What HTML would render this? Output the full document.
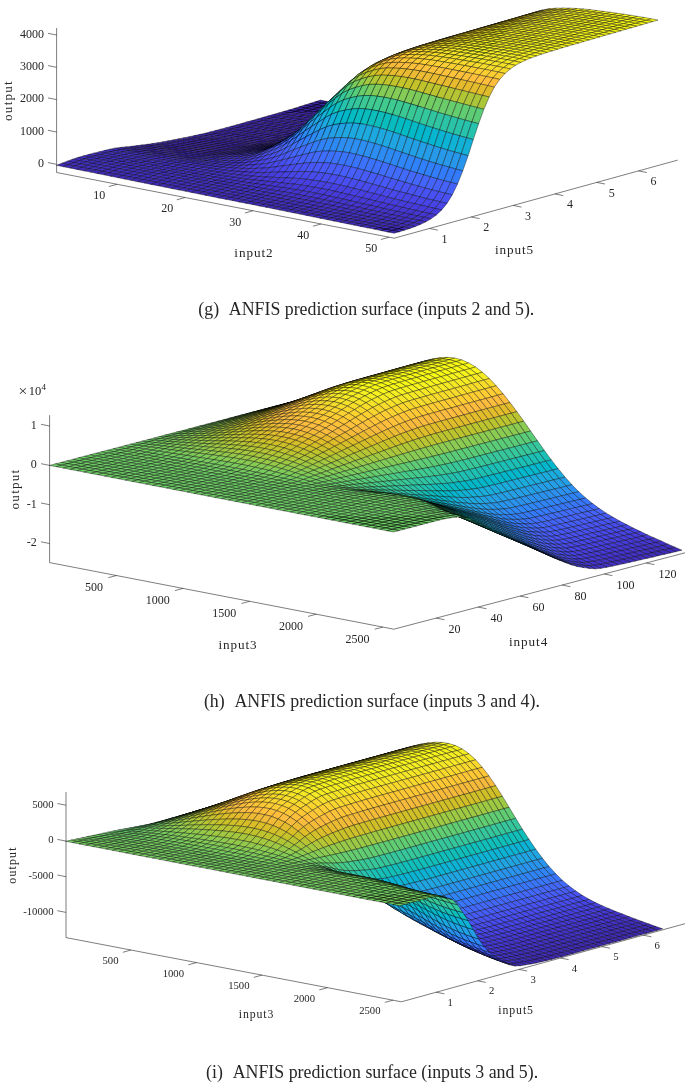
<!DOCTYPE html><html><head><meta charset="utf-8"><title>ANFIS prediction surfaces</title>
<style>html,body{margin:0;padding:0;background:#fff}svg{display:block}text{font-family:"Liberation Serif",serif;fill:#262626}</style></head><body>
<svg width="685" height="1083" viewBox="0 0 685 1083">
<rect width="685" height="1083" fill="#fff"/>
<g stroke="#262626" stroke-width="0.6" fill="none">
<path d="M56.6 28.0L56.6 172.5L394.2 238.2L677.7 160.1"/>
<path d="M117.1 184.3L108.9 186.5M185.1 197.5L176.9 199.8M253.1 210.7L244.9 213.0M321.1 224.0L312.9 226.2M389.1 237.2L380.9 239.5M429.5 228.5L437.8 230.1M471.3 217.0L479.6 218.6M513.1 205.4L521.4 207.1M554.9 193.9L563.2 195.6M596.7 182.4L605.0 184.0M638.5 170.9L646.8 172.5M56.6 35.0L48.0 33.3M56.6 67.3L48.0 65.6M56.6 99.6L48.0 97.9M56.6 132.0L48.0 130.3M56.6 164.3L48.0 162.6"/>
</g>
<text x="105.3" y="199.1" font-size="12" text-anchor="end">10</text>
<text x="173.3" y="212.4" font-size="12" text-anchor="end">20</text>
<text x="241.3" y="225.6" font-size="12" text-anchor="end">30</text>
<text x="309.3" y="238.8" font-size="12" text-anchor="end">40</text>
<text x="377.3" y="252.1" font-size="12" text-anchor="end">50</text>
<text x="441.5" y="242.6" font-size="12" text-anchor="start">1</text>
<text x="483.3" y="231.1" font-size="12" text-anchor="start">2</text>
<text x="525.1" y="219.6" font-size="12" text-anchor="start">3</text>
<text x="566.9" y="208.1" font-size="12" text-anchor="start">4</text>
<text x="608.7" y="196.6" font-size="12" text-anchor="start">5</text>
<text x="650.5" y="185.1" font-size="12" text-anchor="start">6</text>
<text x="44.0" y="37.8" font-size="12" text-anchor="end">4000</text>
<text x="44.0" y="70.1" font-size="12" text-anchor="end">3000</text>
<text x="44.0" y="102.4" font-size="12" text-anchor="end">2000</text>
<text x="44.0" y="134.8" font-size="12" text-anchor="end">1000</text>
<text x="44.0" y="167.1" font-size="12" text-anchor="end">0</text>
<text x="253.9" y="257.0" font-size="13.2" text-anchor="middle" letter-spacing="0.9">input2</text>
<text x="514.5" y="254.0" font-size="13.2" text-anchor="middle" letter-spacing="0.9">input5</text>
<text font-size="13.2" text-anchor="middle" letter-spacing="1.2" transform="translate(12.3 100.5) rotate(-90)">output</text>
<g stroke="#262626" stroke-width="0.6" fill="none">
<path d="M49.6 415.2L49.6 562.6L393.8 629.2L685.0 552.8"/>
<path d="M116.5 575.5L108.3 577.7M183.1 588.4L174.9 590.6M249.7 601.3L241.5 603.5M316.3 614.2L308.1 616.4M382.9 627.1L374.7 629.2M436.1 618.1L444.4 619.7M478.1 607.1L486.4 608.7M520.1 596.1L528.4 597.7M562.1 585.0L570.4 586.7M604.1 574.0L612.4 575.6M646.1 563.0L654.4 564.6M49.6 426.0L41.0 424.3M49.6 465.4L41.0 463.7M49.6 504.7L41.0 503.0M49.6 543.5L41.0 541.8"/>
</g>
<text x="103.1" y="591.2" font-size="12" text-anchor="end">500</text>
<text x="169.7" y="604.1" font-size="12" text-anchor="end">1000</text>
<text x="236.3" y="617.0" font-size="12" text-anchor="end">1500</text>
<text x="302.9" y="629.9" font-size="12" text-anchor="end">2000</text>
<text x="369.5" y="642.8" font-size="12" text-anchor="end">2500</text>
<text x="448.5" y="633.2" font-size="12" text-anchor="start">20</text>
<text x="490.5" y="622.1" font-size="12" text-anchor="start">40</text>
<text x="532.5" y="611.1" font-size="12" text-anchor="start">60</text>
<text x="574.5" y="600.1" font-size="12" text-anchor="start">80</text>
<text x="616.5" y="589.1" font-size="12" text-anchor="start">100</text>
<text x="658.5" y="578.1" font-size="12" text-anchor="start">120</text>
<text x="36.8" y="428.8" font-size="12" text-anchor="end">1</text>
<text x="36.8" y="468.2" font-size="12" text-anchor="end">0</text>
<text x="36.8" y="507.5" font-size="12" text-anchor="end">-1</text>
<text x="36.8" y="546.3" font-size="12" text-anchor="end">-2</text>
<text x="238.0" y="649.0" font-size="13.2" text-anchor="middle" letter-spacing="0.9">input3</text>
<text x="528.6" y="645.8" font-size="13.2" text-anchor="middle" letter-spacing="0.9">input4</text>
<text font-size="13.2" text-anchor="middle" letter-spacing="1.2" transform="translate(19.0 489.0) rotate(-90)">output</text>
<g stroke="#262626" stroke-width="0.6" fill="none">
<path d="M66.0 792.0L66.0 937.6L401.4 1001.8L685.0 923.7"/>
<path d="M131.0 950.0L122.8 952.3M196.5 962.6L188.3 964.8M262.0 975.1L253.8 977.4M327.5 987.7L319.3 989.9M393.0 1000.2L384.8 1002.4M436.1 992.2L444.4 993.8M477.5 980.8L485.8 982.4M518.9 969.4L527.2 971.0M560.3 958.0L568.6 959.6M601.7 946.6L610.0 948.2M643.1 935.2L651.4 936.8M66.0 805.2L57.4 803.5M66.0 841.1L57.4 839.4M66.0 876.7L57.4 875.0M66.0 912.4L57.4 910.7"/>
</g>
<text x="118.5" y="964.1" font-size="10.7" text-anchor="end">500</text>
<text x="184.0" y="976.6" font-size="10.7" text-anchor="end">1000</text>
<text x="249.5" y="989.1" font-size="10.7" text-anchor="end">1500</text>
<text x="315.0" y="1001.7" font-size="10.7" text-anchor="end">2000</text>
<text x="380.5" y="1014.2" font-size="10.7" text-anchor="end">2500</text>
<text x="447.6" y="1005.7" font-size="10.7" text-anchor="start">1</text>
<text x="489.0" y="994.3" font-size="10.7" text-anchor="start">2</text>
<text x="530.4" y="982.9" font-size="10.7" text-anchor="start">3</text>
<text x="571.8" y="971.5" font-size="10.7" text-anchor="start">4</text>
<text x="613.2" y="960.1" font-size="10.7" text-anchor="start">5</text>
<text x="654.6" y="948.7" font-size="10.7" text-anchor="start">6</text>
<text x="53.5" y="807.5" font-size="10.7" text-anchor="end">5000</text>
<text x="53.5" y="843.4" font-size="10.7" text-anchor="end">0</text>
<text x="53.5" y="879.0" font-size="10.7" text-anchor="end">-5000</text>
<text x="53.5" y="914.7" font-size="10.7" text-anchor="end">-10000</text>
<text x="256.5" y="1017.5" font-size="11.8" text-anchor="middle" letter-spacing="0.9">input3</text>
<text x="516.1" y="1014.4" font-size="11.8" text-anchor="middle" letter-spacing="0.9">input5</text>
<text font-size="11.8" text-anchor="middle" letter-spacing="1.2" transform="translate(16.0 865.0) rotate(-90)">output</text>
<text y="395.3" font-size="12.5" text-anchor="start"><tspan x="18.6" font-size="15.5" dy="0.6">×</tspan><tspan x="28.8" dy="-0.6">10</tspan><tspan x="41.6" dy="-5.2" font-size="9">4</tspan></text>
<g stroke="#000" stroke-width="4.2" stroke-opacity="0.9" stroke-linejoin="round" transform="scale(0.1)">
<path fill="#3e26a8" d="M3151 1018l53-17 68 13-53 17zm68 13l53-17 67 12-53 17zm-121 3l53-16 68 13-53 17zm188 9l53-17 68 12-53 16zm-120 5l53-17 67 12-52 17zm-120 3l52-17 68 14-53 16zm308 3l53-16 67 10-53 17zm-120 6l52-17 68 11-53 17zm-121 4l53-16 68 12-53 16zm-120 3l53-16 67 13-53 16zm428-2l53-17 68 10-53 17zm-120 6l53-17 67 11-52 17zm-120 5l53-16 67 11-53 17zm-121 4l53-16 68 12-53 17zm-120 4l53-17 67 13-52 17zm549-9l53-17 67 10-53 16zm-120 7l52-17 68 10-53 17zm-121 6l53-17 68 11-53 16zm-120 5l53-17 67 12-52 16zm-120 4l52-17 68 13-53 16zm-121 3l53-16 68 13-53 16zm669-16l53-16 68 9-53 16zm-120 8l53-17 67 9-52 17zm-120 6l53-16 67 10-53 16zm-120 6l52-16 68 10-53 17zm-121 5l53-16 68 11-53 16zm-120 4l53-16 67 12-53 16zm-120 2l52-15 68 13-53 16zm789-22l53-16 67 8-53 17zm-120 8l52-17 68 9-53 17zm-121 7l53-16 68 9-53 17zm-120 7l53-17 67 10-52 17zm-120 5l53-16 67 11-53 16zm-121 5l53-16 68 11-53 16zm-120 4l53-16 67 12-52 16zm-120 2l53-16 67 14-53 15zm789-21l53-17 67 9-52 16zm-120 8l53-17 67 9-53 17zm-120 7l52-17 68 10-53 16z"/>
<path fill="#3e27ab" d="M3691 1102l53-17 68 5-53 17z"/>
<path fill="#3e26a8" d="M3210 1131l53-16 68 10-53 16zm-120 5l53-16 67 11-52 16zm-120 5l52-16 68 11-53 16zm-121 3l53-15 68 12-53 15zm-120 2l53-15 67 13-52 15zm789-19l53-17 68 8-53 17zm-120 7l53-16 67 9-52 16zm-120 7l53-16 67 9-53 16z"/>
<path fill="#3e27ab" d="M3639 1118l52-16 68 5-53 16z"/>
<path fill="#3e26a8" d="M3158 1147l52-16 68 10-53 16zm-121 5l53-16 68 11-53 16z"/>
<path fill="#3f29b1" d="M3759 1107l53-17 67 1-53 17z"/>
<path fill="#3e26a8" d="M2917 1156l53-15 67 11-53 16zm-120 3l52-15 68 12-53 16zm-121 2l53-15 68 13-53 15zm790-18l52-16 68 8-53 16zm-121 7l53-16 68 9-53 16zm-120 7l53-16 67 9-52 16zm361-22l53-17 67 5-53 17zm-481 28l53-16 67 10-53 16zm-121 5l53-16 68 11-53 15z"/>
<path fill="#3f28ae" d="M3706 1123l53-16 67 1-52 17z"/>
<path fill="#3e26a8" d="M2864 1172l53-16 67 12-52 15zm-120 2l53-15 67 13-53 15z"/>
<path fill="#402bb7" d="M3826 1108l53-17 68-1-53 17z"/>
<path fill="#3e26a8" d="M2624 1176l52-15 68 13-53 15zm789-17l53-16 67 8-53 16zm-120 7l52-16 68 9-53 16zm240-15l53-16 67 5-52 16zm-361 22l53-16 68 9-53 16zm-120 5l53-15 67 10-52 15z"/>
<path fill="#3f28ae" d="M3653 1140l53-17 68 2-53 16z"/>
<path fill="#3e26a8" d="M2932 1183l52-15 68 10-53 16zm-121 4l53-15 68 11-53 15z"/>
<path fill="#402ab4" d="M3774 1125l52-17 68-1-53 16z"/>
<path fill="#3e26a8" d="M2691 1189l53-15 67 13-52 14zm-120 2l53-15 67 13-53 15z"/>
<path fill="#412dbd" d="M3894 1107l53-17 67-5-53 17z"/>
<path fill="#3e26a8" d="M3360 1175l53-16 67 8-52 16zm-120 7l53-16 67 9-53 16zm240-15l53-16 68 5-53 16zm-360 21l52-15 68 9-53 16zm-121 6l53-16 68 10-53 16z"/>
<path fill="#3e27ab" d="M3601 1156l52-16 68 1-53 17z"/>
<path fill="#3e26a8" d="M2879 1198l53-15 67 11-53 15zm-120 3l52-14 68 11-53 15z"/>
<path fill="#402ab4" d="M3721 1141l53-16 67-2-53 17z"/>
<path fill="#3e26a8" d="M2638 1204l53-15 68 12-53 15zm-120 2l53-15 67 13-52 15z"/>
<path fill="#412dbd" d="M3841 1123l53-16 67-5-52 17z"/>
<path fill="#4331c8" d="M3961 1102l53-17 68-7-53 17z"/>
<path fill="#3e26a8" d="M3307 1191l53-16 68 8-53 16zm-120 7l53-16 67 9-52 16zm241-15l52-16 68 5-53 16zm-361 21l53-16 67 10-53 15zm-121 5l53-15 68 10-53 15z"/>
<path fill="#3e27ab" d="M3548 1172l53-16 67 2-53 16z"/>
<path fill="#3e26a8" d="M2826 1213l53-15 67 11-52 14zm-120 3l53-15 67 12-53 15z"/>
<path fill="#402ab4" d="M3668 1158l53-17 67-1-52 16z"/>
<path fill="#3e26a8" d="M2586 1219l52-15 68 12-53 15zm-121 1l53-14 68 13-53 15z"/>
<path fill="#412dbd" d="M3788 1140l53-17 68-4-53 16z"/>
<path fill="#4330c5" d="M3909 1119l52-17 68-7-53 17z"/>
<path fill="#4434d0" d="M4029 1095l53-17 67-9-52 17z"/>
<path fill="#3e26a8" d="M3255 1207l52-16 68 8-53 16zm120-8l53-16 67 5-53 16zm-241 14l53-15 68 9-53 15zm-120 6l53-15 67 9-52 15z"/>
<path fill="#3e27ab" d="M3495 1188l53-16 67 2-52 16z"/>
<path fill="#3e26a8" d="M2894 1223l52-14 68 10-53 14zm-121 5l53-15 68 10-53 15z"/>
<path fill="#3f29b1" d="M3615 1174l53-16 68-2-53 16z"/>
<path fill="#3e26a8" d="M2653 1231l53-15 67 12-52 14zm-120 3l53-15 67 12-53 15z"/>
<path fill="#412cba" d="M3736 1156l52-16 68-5-53 16z"/>
<path fill="#3e26a8" d="M2413 1235l52-15 68 14-53 14z"/>
<path fill="#4330c5" d="M3856 1135l53-16 67-7-53 16z"/>
<path fill="#4434d0" d="M3976 1112l53-17 68-9-53 16z"/>
<path fill="#4639d9" d="M4097 1086l52-17 68-12-53 17z"/>
<path fill="#3e26a8" d="M3202 1222l53-15 67 8-53 15zm120-7l53-16 67 5-52 16zm-240 13l52-15 68 9-53 15zm-121 5l53-14 68 9-53 15zm481-29l53-16 68 2-53 16zm-601 34l53-15 67 10-53 15zm-120 4l52-14 68 10-53 15z"/>
<path fill="#3f29b1" d="M3563 1190l52-16 68-2-53 16z"/>
<path fill="#3e26a8" d="M2600 1246l53-15 68 11-53 15zm-120 2l53-14 67 12-52 14z"/>
<path fill="#412cba" d="M3683 1172l53-16 67-5-53 17z"/>
<path fill="#3e26a8" d="M2360 1250l53-15 67 13-53 15z"/>
<path fill="#422fc2" d="M3803 1151l53-16 67-7-52 16z"/>
<path fill="#4433cd" d="M3923 1128l53-16 68-10-53 17z"/>
<path fill="#4639d9" d="M4044 1102l53-16 67-12-53 16z"/>
<path fill="#473fe3" d="M4164 1074l53-17 67-19-52 17z"/>
<path fill="#3e26a8" d="M3149 1237l53-15 67 8-52 15zm120-7l53-15 68 5-53 15zm-240 13l53-15 67 9-53 15zm-121 5l53-15 68 10-53 15zm482-28l52-16 68 2-53 15zm-602 33l53-15 67 10-52 15zm-120 4l53-15 67 11-53 15z"/>
<path fill="#3f29b1" d="M3510 1206l53-16 67-2-53 16z"/>
<path fill="#3e26a8" d="M2548 1260l52-14 68 11-53 15zm-121 3l53-15 68 12-53 15z"/>
<path fill="#402bb7" d="M3630 1188l53-16 67-4-52 16z"/>
<path fill="#3e26a8" d="M2307 1264l53-14 67 13-52 14z"/>
<path fill="#422fc2" d="M3750 1168l53-17 68-7-53 16z"/>
<path fill="#4433cd" d="M3871 1144l52-16 68-9-53 16z"/>
<path fill="#4538d7" d="M3991 1119l53-17 67-12-52 17z"/>
<path fill="#473ee1" d="M4111 1090l53-16 68-19-53 16z"/>
<path fill="#4746eb" d="M4232 1055l67-31 53-17-68 31z"/>
<path fill="#3e26a8" d="M3096 1252l53-15 68 8-53 15zm121-7l52-15 68 5-53 15zm-241 13l53-15 67 9-52 15zm361-23l53-15 67 1-53 15zm-481 28l52-15 68 10-53 14zm-121 5l53-15 68 10-53 15zm-120 4l53-15 67 11-52 14z"/>
<path fill="#3f28ae" d="M3457 1221l53-15 67-2-52 16z"/>
<path fill="#3e26a8" d="M2495 1275l53-15 67 12-53 14zm-120 2l52-14 68 12-53 15z"/>
<path fill="#402bb7" d="M3577 1204l53-16 68-4-53 15z"/>
<path fill="#3e26a8" d="M2254 1279l53-15 68 13-53 15z"/>
<path fill="#422fc2" d="M3698 1184l52-16 68-8-53 16z"/>
<path fill="#4433cd" d="M3818 1160l53-16 67-9-53 16z"/>
<path fill="#4538d7" d="M3938 1135l53-16 68-12-53 16z"/>
<path fill="#473ee1" d="M4059 1107l52-17 68-19-53 17z"/>
<path fill="#4746eb" d="M4179 1071l67-31 53-16-67 31z"/>
<path fill="#4852f4" d="M4299 1024l68-41 52-16-67 40z"/>
<path fill="#3e26a8" d="M3044 1267l52-15 68 8-53 15zm120-7l53-15 67 5-53 15zm-241 12l53-14 68 9-53 14zm361-22l53-15 67 1-52 16zm-481 28l53-15 67 9-53 15zm-120 4l52-14 68 10-53 14z"/>
<path fill="#3f28ae" d="M3404 1236l53-15 68-1-53 15z"/>
<path fill="#3e26a8" d="M2562 1286l53-14 68 10-53 15zm-120 4l53-15 67 11-52 15z"/>
<path fill="#402bb7" d="M3525 1220l52-16 68-5-53 16z"/>
<path fill="#3e26a8" d="M2322 1292l53-15 67 13-53 14zm-120 1l52-14 68 13-53 14z"/>
<path fill="#422ebf" d="M3645 1199l53-15 67-8-53 16z"/>
<path fill="#4332ca" d="M3765 1176l53-16 67-9-52 16z"/>
<path fill="#4538d7" d="M3885 1151l53-16 68-12-53 16z"/>
<path fill="#463ddf" d="M4006 1123l53-16 67-19-53 16z"/>
<path fill="#4746eb" d="M4126 1088l68-32 52-16-67 31z"/>
<path fill="#4852f4" d="M4246 1040l68-41 53-16-68 41z"/>
<path fill="#4660fb" d="M4367 983l67-47 53-17-68 48z"/>
<path fill="#3e26a8" d="M2991 1281l53-14 67 8-53 15zm120-6l53-15 67 5-52 15zm-241 12l53-15 68 9-53 15zm361-22l53-15 68 2-53 14zm-481 27l53-14 67 9-52 15zm-120 5l53-15 67 10-53 15z"/>
<path fill="#3f28ae" d="M3352 1252l52-16 68-1-53 15z"/>
<path fill="#3e26a8" d="M2510 1301l52-15 68 11-53 15zm-121 3l53-14 68 11-53 14z"/>
<path fill="#402bb7" d="M3472 1235l53-15 67-5-53 15z"/>
<path fill="#3e26a8" d="M2269 1306l53-14 67 12-52 14zm-120 1l53-14 67 13-53 14z"/>
<path fill="#422ebf" d="M3592 1215l53-16 67-7-52 16z"/>
<path fill="#4332ca" d="M3712 1192l53-16 68-9-53 16z"/>
<path fill="#4537d5" d="M3833 1167l52-16 68-12-53 16z"/>
<path fill="#463ddf" d="M3953 1139l53-16 67-19-52 16z"/>
<path fill="#4745e9" d="M4073 1104l68-31 53-17-68 32z"/>
<path fill="#4850f3" d="M4194 1056l67-40 53-17-68 41z"/>
<path fill="#465efb" d="M4314 999l67-47 53-16-67 47z"/>
<path fill="#3e26a8" d="M2938 1296l53-15 67 9-52 14zm120-6l53-15 68 5-53 14zm-240 12l52-15 68 9-53 15zm361-22l52-15 68 1-53 15zm-482 27l53-15 68 10-53 14zm-120 5l53-15 67 10-52 14z"/>
<path fill="#3f28ae" d="M3299 1266l53-14 67-2-53 15z"/>
<path fill="#3e26a8" d="M2457 1315l53-14 67 11-53 14zm-120 3l52-14 68 11-53 15z"/>
<path fill="#402bb7" d="M3419 1250l53-15 67-5-52 15z"/>
<path fill="#3e26a8" d="M2216 1320l53-14 68 12-53 14zm-120 1l53-14 67 13-52 14z"/>
<path fill="#3f6eff" d="M4434 936l68-52 52-17-67 52z"/>
<path fill="#422ebf" d="M3539 1230l53-15 68-7-53 15z"/>
<path fill="#4332ca" d="M3660 1208l52-16 68-9-53 15z"/>
<path fill="#4537d5" d="M3780 1183l53-16 67-12-53 16z"/>
<path fill="#463ddf" d="M3900 1155l53-16 68-19-53 16z"/>
<path fill="#4745e9" d="M4021 1120l67-31 53-16-68 31z"/>
<path fill="#4850f3" d="M4141 1073l67-41 53-16-67 40z"/>
<path fill="#465efb" d="M4261 1016l68-48 52-16-67 47z"/>
<path fill="#3e26a8" d="M3006 1304l52-14 68 4-53 15zm-121 7l53-15 68 8-53 15zm-120 5l53-14 67 9-53 14zm361-22l53-14 67 1-53 15zm-481 27l52-14 68 9-53 15zm-121 5l53-14 68 9-53 15z"/>
<path fill="#3f28ae" d="M3246 1281l53-15 67-1-52 15z"/>
<path fill="#3e26a8" d="M2404 1330l53-15 67 11-52 14zm-120 2l53-14 67 12-53 14z"/>
<path fill="#402ab4" d="M3366 1265l53-15 68-5-53 15z"/>
<path fill="#3e26a8" d="M2164 1334l52-14 68 12-53 14z"/>
<path fill="#3f6eff" d="M4381 952l68-52 53-16-68 52z"/>
<path fill="#3e26a8" d="M2043 1334l53-13 68 13-53 13z"/>
<path fill="#422ebf" d="M3487 1245l52-15 68-7-53 15z"/>
<path fill="#4332ca" d="M3607 1223l53-15 67-10-53 16z"/>
<path fill="#4537d5" d="M3727 1198l53-15 67-12-52 16z"/>
<path fill="#463bde" d="M3847 1171l53-16 68-19-53 16z"/>
<path fill="#2f80fa" d="M4502 884l67-55 53-16-68 54z"/>
<path fill="#4744e8" d="M3968 1136l67-31 53-16-67 31z"/>
<path fill="#4850f3" d="M4088 1089l68-41 52-16-67 41z"/>
<path fill="#465dfa" d="M4208 1032l68-48 53-16-68 48z"/>
<path fill="#3e26a8" d="M2953 1319l53-15 67 5-53 15zm-121 6l53-14 68 8-53 15zm-120 6l53-15 67 9-52 15zm361-22l53-15 67 2-52 15zm-481 27l53-15 67 10-53 14zm-120 4l52-14 68 10-53 14z"/>
<path fill="#3e27ab" d="M3193 1296l53-15 68-1-53 14z"/>
<path fill="#3e26a8" d="M2351 1344l53-14 68 10-53 14zm-120 2l53-14 67 12-52 13z"/>
<path fill="#402ab4" d="M3314 1280l52-15 68-5-53 15z"/>
<path fill="#3e26a8" d="M2111 1347l53-13 67 12-53 13z"/>
<path fill="#406dfe" d="M4329 968l67-52 53-16-68 52z"/>
<path fill="#422ebf" d="M3434 1260l53-15 67-7-53 15z"/>
<path fill="#3e26a8" d="M1991 1346l52-12 68 13-53 12z"/>
<path fill="#4331c8" d="M3554 1238l53-15 67-9-52 15z"/>
<path fill="#4537d5" d="M3674 1214l53-16 68-11-53 15z"/>
<path fill="#463bde" d="M3795 1187l52-16 68-19-53 15z"/>
<path fill="#307ffb" d="M4449 900l67-54 53-17-67 55z"/>
<path fill="#4744e8" d="M3915 1152l68-32 52-15-67 31z"/>
<path fill="#2b90f0" d="M4569 829l68-62 52-17-67 63z"/>
<path fill="#484ff2" d="M4035 1105l68-41 53-16-68 41z"/>
<path fill="#465dfa" d="M4156 1048l67-48 53-16-68 48z"/>
<path fill="#3e26a8" d="M2900 1334l53-15 67 5-52 14zm-120 6l52-15 68 9-53 14zm-121 5l53-14 68 9-53 14zm361-21l53-15 68 2-53 14zm-481 26l53-14 67 9-52 15zm-120 4l53-14 67 10-53 14z"/>
<path fill="#3e27ab" d="M3141 1311l52-15 68-2-53 15z"/>
<path fill="#3e26a8" d="M2299 1357l52-13 68 10-53 14z"/>
<path fill="#402ab4" d="M3261 1294l53-14 67-5-53 15z"/>
<path fill="#3e26a8" d="M2178 1359l53-13 68 11-53 13zm-120 0l53-12 67 12-52 12z"/>
<path fill="#406dfe" d="M4276 984l67-52 53-16-67 52z"/>
<path fill="#412dbd" d="M3381 1275l53-15 67-7-52 15z"/>
<path fill="#3e26a8" d="M1938 1357l53-11 67 13-53 12z"/>
<path fill="#4331c8" d="M3501 1253l53-15 68-9-53 14z"/>
<path fill="#4535d2" d="M3622 1229l52-15 68-12-53 15z"/>
<path fill="#463bde" d="M3742 1202l67-20 53-15-67 20z"/>
<path fill="#307ffb" d="M4396 916l68-54 52-16-67 54z"/>
<path fill="#4744e8" d="M3862 1167l68-31 53-16-68 32z"/>
<path fill="#2c8ff1" d="M4516 846l68-63 53-16-68 62z"/>
<path fill="#484ff2" d="M3983 1120l67-40 53-16-68 41z"/>
<path fill="#465dfa" d="M4103 1064l67-48 53-16-67 48z"/>
<path fill="#23a0e5" d="M4637 767l67-76 53-16-68 75z"/>
<path fill="#3e26a8" d="M2847 1348l53-14 68 4-53 15zm-120 6l53-14 67 8-53 14zm-120 6l52-15 68 9-53 15zm361-22l52-14 68 1-53 15zm-482 26l53-14 68 10-53 14z"/>
<path fill="#3e27ab" d="M3088 1325l53-14 67-2-53 15z"/>
<path fill="#3e26a8" d="M2366 1368l53-14 67 10-52 14zm-120 2l53-13 67 11-53 13z"/>
<path fill="#402ab4" d="M3208 1309l53-15 67-4-52 15z"/>
<path fill="#3e26a8" d="M2126 1371l52-12 68 11-53 13z"/>
<path fill="#406dfe" d="M4223 1000l68-52 52-16-67 52z"/>
<path fill="#3e26a8" d="M2005 1371l53-12 68 12-53 12z"/>
<path fill="#412dbd" d="M3328 1290l53-15 68-7-53 15z"/>
<path fill="#3e26a8" d="M1885 1369l53-12 67 14-52 11z"/>
<path fill="#4331c8" d="M3449 1268l52-15 68-10-53 15z"/>
<path fill="#4535d2" d="M3569 1243l53-14 67-12-53 15z"/>
<path fill="#463bde" d="M3689 1217l68-20 52-15-67 20z"/>
<path fill="#307ffb" d="M4343 932l68-54 53-16-68 54z"/>
<path fill="#4744e8" d="M3809 1182l68-31 53-15-68 31z"/>
<path fill="#2c8ff1" d="M4464 862l67-63 53-16-68 63z"/>
<path fill="#484ff2" d="M3930 1136l67-41 53-15-67 40z"/>
<path fill="#465dfa" d="M4050 1080l68-48 52-16-67 48z"/>
<path fill="#249fe6" d="M4584 783l67-76 53-16-67 76z"/>
<path fill="#3e26a8" d="M2794 1362l53-14 68 5-53 14zm-120 7l53-15 67 8-52 15zm-120 5l53-14 67 9-53 14zm361-21l53-15 67 2-53 15zm-481 25l52-14 68 10-53 13z"/>
<path fill="#3e27ab" d="M3035 1340l53-15 67-1-52 14z"/>
<path fill="#3e26a8" d="M2313 1381l53-13 68 10-53 13zm-120 2l53-13 67 11-52 12z"/>
<path fill="#402ab4" d="M3155 1324l53-15 68-4-53 14z"/>
<path fill="#3e26a8" d="M2073 1383l53-12 67 12-53 11z"/>
<path fill="#416bfe" d="M4170 1016l68-52 53-16-68 52z"/>
<path fill="#412dbd" d="M3276 1305l52-15 68-7-53 14z"/>
<path fill="#3e26a8" d="M1953 1382l52-11 68 12-53 11zm-121-3l53-10 68 13-53 11z"/>
<path fill="#4331c8" d="M3396 1283l53-15 67-10-53 15z"/>
<path fill="#4535d2" d="M3516 1258l53-15 67-11-52 15z"/>
<path fill="#14b0d8" d="M4704 691l68-82 52-16-67 82z"/>
<path fill="#317dfc" d="M4291 948l67-54 53-16-68 54z"/>
<path fill="#463bde" d="M3636 1232l68-20 53-15-68 20z"/>
<path fill="#4744e8" d="M3757 1197l67-31 53-15-68 31z"/>
<path fill="#2c8ef2" d="M4411 878l67-63 53-16-67 63z"/>
<path fill="#484ff2" d="M3877 1151l68-41 52-15-67 41z"/>
<path fill="#475bfa" d="M3997 1095l68-48 53-15-68 48z"/>
<path fill="#249fe6" d="M4531 799l68-76 52-16-67 76z"/>
<path fill="#3e26a8" d="M2742 1377l52-15 68 5-53 15zm-121 6l53-14 68 8-53 14zm241-16l53-14 67 2-52 14zm-361 20l53-13 67 9-52 13zm-120 4l53-13 67 9-53 13z"/>
<path fill="#3e27ab" d="M2982 1355l53-15 68-2-53 15z"/>
<path fill="#3e26a8" d="M2261 1393l52-12 68 10-53 12z"/>
<path fill="#402ab4" d="M3103 1338l52-14 68-5-53 15z"/>
<path fill="#3e26a8" d="M2140 1394l53-11 68 10-53 12z"/>
<path fill="#416bfe" d="M4118 1032l67-52 53-16-68 52z"/>
<path fill="#3e26a8" d="M2020 1394l53-11 67 11-52 11z"/>
<path fill="#412dbd" d="M3223 1319l53-14 67-8-53 15z"/>
<path fill="#3e26a8" d="M1900 1393l53-11 67 12-53 11z"/>
<path fill="#4331c8" d="M3343 1297l53-14 67-10-52 15z"/>
<path fill="#3e26a8" d="M1779 1390l53-11 68 14-53 10z"/>
<path fill="#4535d2" d="M3463 1273l53-15 68-11-53 14z"/>
<path fill="#14b0d8" d="M4651 707l68-82 53-16-68 82z"/>
<path fill="#317dfc" d="M4238 964l67-55 53-15-67 54z"/>
<path fill="#463bde" d="M3584 1247l67-20 53-15-68 20z"/>
<path fill="#4742e6" d="M3704 1212l67-31 53-15-67 31z"/>
<path fill="#2c8ef2" d="M4358 894l68-63 52-16-67 63z"/>
<path fill="#0abdbd" d="M4772 609l67-82 53-15-68 81z"/>
<path fill="#484ef1" d="M3824 1166l68-41 53-15-68 41z"/>
<path fill="#475bfa" d="M3945 1110l67-47 53-16-68 48z"/>
<path fill="#249fe6" d="M4478 815l68-76 53-16-68 76z"/>
<path fill="#3e26a8" d="M2689 1391l53-14 67 5-53 14zm-120 5l52-13 68 8-53 14zm240-14l53-15 68 2-53 14zm-361 18l53-13 68 9-53 13zm-120 3l53-12 67 9-52 13z"/>
<path fill="#3e27ab" d="M2930 1369l52-14 68-2-53 14z"/>
<path fill="#3e26a8" d="M2208 1405l53-12 67 10-53 12z"/>
<path fill="#402ab4" d="M3050 1353l53-15 67-4-53 14z"/>
<path fill="#3e26a8" d="M2088 1405l52-11 68 11-53 11z"/>
<path fill="#416bfe" d="M4065 1047l67-52 53-15-67 52z"/>
<path fill="#3e26a8" d="M1967 1405l53-11 68 11-53 11z"/>
<path fill="#412dbd" d="M3170 1334l53-15 67-7-52 15z"/>
<path fill="#3e26a8" d="M1847 1403l53-10 67 12-52 10z"/>
<path fill="#4331c8" d="M3290 1312l53-15 68-9-53 15z"/>
<path fill="#3e26a8" d="M1727 1400l52-10 68 13-53 10z"/>
<path fill="#4535d2" d="M3411 1288l52-15 68-12-53 15z"/>
<path fill="#14b0d8" d="M4599 723l67-82 53-16-68 82z"/>
<path fill="#317dfc" d="M4185 980l68-55 52-16-67 55z"/>
<path fill="#463adb" d="M3531 1261l67-19 53-15-67 20z"/>
<path fill="#4742e6" d="M3651 1227l68-31 52-15-67 31z"/>
<path fill="#2c8ef2" d="M4305 909l68-63 53-15-68 63z"/>
<path fill="#0abdbd" d="M4719 625l67-82 53-16-67 82z"/>
<path fill="#484ef1" d="M3771 1181l68-41 53-15-68 41z"/>
<path fill="#475bfa" d="M3892 1125l67-47 53-15-67 47z"/>
<path fill="#249fe6" d="M4426 831l67-76 53-16-68 76z"/>
<path fill="#32c69f" d="M4839 527l68-74 53-16-68 75z"/>
<path fill="#3e26a8" d="M2636 1405l53-14 67 5-52 14zm-120 4l53-13 67 9-53 13zm240-13l53-14 68 1-53 14zm-360 17l52-13 68 9-53 13z"/>
<path fill="#3e27ab" d="M2877 1383l53-14 67-2-53 15z"/>
<path fill="#3e26a8" d="M2275 1415l53-12 68 10-53 11zm-120 1l53-11 67 10-52 11z"/>
<path fill="#402ab4" d="M2997 1367l53-14 67-5-52 15z"/>
<path fill="#416bfe" d="M4012 1063l68-53 52-15-67 52z"/>
<path fill="#3e26a8" d="M2035 1416l53-11 67 11-53 11z"/>
<path fill="#412dbd" d="M3117 1348l53-14 68-7-53 14z"/>
<path fill="#3e26a8" d="M1915 1415l52-10 68 11-53 11zm-121-2l53-10 68 12-53 11z"/>
<path fill="#4331c8" d="M3238 1327l52-15 68-9-53 14z"/>
<path fill="#3e26a8" d="M1674 1410l53-10 67 13-53 10z"/>
<path fill="#4535d2" d="M3358 1303l53-15 67-12-53 15z"/>
<path fill="#15afd9" d="M4546 739l67-82 53-16-67 82z"/>
<path fill="#327cfc" d="M4132 995l68-54 53-16-68 55z"/>
<path fill="#463adb" d="M3478 1276l53-15 67-19-52 15z"/>
<path fill="#4742e6" d="M3598 1242l68-31 53-15-68 31z"/>
<path fill="#2c8ef2" d="M4253 925l67-63 53-16-68 63z"/>
<path fill="#08bcbf" d="M4666 641l68-82 52-16-67 82z"/>
<path fill="#484ef1" d="M3719 1196l67-41 53-15-68 41z"/>
<path fill="#475bfa" d="M3839 1140l68-47 52-15-67 47z"/>
<path fill="#249ee6" d="M4373 846l67-76 53-15-67 76z"/>
<path fill="#30c5a1" d="M4786 543l68-75 53-15-68 74z"/>
<path fill="#3e26a8" d="M2583 1418l53-13 68 5-53 13zm121-8l52-14 68 1-53 14zm-241 12l53-13 67 9-52 12zm-120 2l53-11 67 9-53 11z"/>
<path fill="#3e27ab" d="M2824 1397l53-14 67-1-52 14z"/>
<path fill="#3e26a8" d="M2223 1426l52-11 68 9-53 12z"/>
<path fill="#402ab4" d="M2944 1382l53-15 68-4-53 14z"/>
<path fill="#416bfe" d="M3959 1078l68-53 53-15-68 53z"/>
<path fill="#3e26a8" d="M2102 1427l53-11 68 10-53 11zm-120 0l53-11 67 11-52 11z"/>
<path fill="#412dbd" d="M3065 1363l52-15 68-7-53 15z"/>
<path fill="#3e26a8" d="M1862 1426l53-11 67 12-53 10z"/>
<path fill="#4331c8" d="M3185 1341l53-14 67-10-53 15z"/>
<path fill="#3e26a8" d="M1741 1423l53-10 68 13-53 10zm-120-3l53-10 67 13-52 10z"/>
<path fill="#4535d2" d="M3305 1317l53-14 67-12-52 15z"/>
<path fill="#15afd9" d="M4493 755l68-83 52-15-67 82z"/>
<path fill="#54cc7c" d="M4907 453l67-73 53-16-67 73z"/>
<path fill="#327cfc" d="M4080 1010l67-54 53-15-68 54z"/>
<path fill="#463adb" d="M3425 1291l53-15 68-19-53 15z"/>
<path fill="#4742e6" d="M3546 1257l67-31 53-15-68 31z"/>
<path fill="#2d8cf3" d="M4200 941l67-64 53-15-67 63z"/>
<path fill="#08bcbf" d="M4613 657l68-82 53-16-68 82z"/>
<path fill="#484ef1" d="M3666 1211l67-41 53-15-67 41z"/>
<path fill="#475bfa" d="M3786 1155l68-47 53-15-68 47z"/>
<path fill="#249ee6" d="M4320 862l68-76 52-16-67 76z"/>
<path fill="#30c5a1" d="M4734 559l67-75 53-16-68 75z"/>
<path fill="#3e26a8" d="M2531 1430l52-12 68 5-53 12zm120-7l53-13 67 1-53 13zm-241 10l53-11 68 8-53 12z"/>
<path fill="#3e27ab" d="M2771 1411l53-14 68-1-53 14z"/>
<path fill="#3e26a8" d="M2290 1436l53-12 67 9-52 12zm-120 1l53-11 67 10-53 11z"/>
<path fill="#402ab4" d="M2892 1396l52-14 68-5-53 14z"/>
<path fill="#426afe" d="M3907 1093l67-53 53-15-68 53z"/>
<path fill="#3e26a8" d="M2050 1438l52-11 68 10-53 11z"/>
<path fill="#412dbd" d="M3012 1377l53-14 67-7-53 14z"/>
<path fill="#3e26a8" d="M1929 1437l53-10 68 11-53 10zm-120-1l53-10 67 11-52 10z"/>
<path fill="#4330c5" d="M3132 1356l53-15 67-9-52 14z"/>
<path fill="#3e26a8" d="M1689 1433l52-10 68 13-53 10z"/>
<path fill="#4535d2" d="M3252 1332l53-15 68-11-53 14z"/>
<path fill="#3e26a8" d="M1568 1429l53-9 68 13-53 10z"/>
<path fill="#15afd9" d="M4440 770l68-82 53-16-68 83z"/>
<path fill="#54cc7c" d="M4854 468l68-72 52-16-67 73z"/>
<path fill="#327cfc" d="M4027 1025l67-54 53-15-67 54z"/>
<path fill="#463adb" d="M3373 1306l67-20 53-14-68 19z"/>
<path fill="#4742e6" d="M3493 1272l67-32 53-14-67 31z"/>
<path fill="#2d8cf3" d="M4147 956l68-63 52-16-67 64z"/>
<path fill="#08bcbf" d="M4561 672l67-82 53-15-68 82z"/>
<path fill="#88cb53" d="M4974 380l68-73 53-15-68 72z"/>
<path fill="#484ef1" d="M3613 1226l68-41 52-15-67 41z"/>
<path fill="#475af9" d="M3733 1170l68-48 53-14-68 47z"/>
<path fill="#249ee6" d="M4267 877l68-76 53-15-68 76z"/>
<path fill="#30c5a1" d="M4681 575l67-75 53-16-67 75z"/>
<path fill="#3e26a8" d="M2478 1442l53-12 67 5-53 12zm120-7l53-12 67 1-52 13zm-240 10l52-12 68 9-53 11z"/>
<path fill="#3e27ab" d="M2718 1424l53-13 68-1-53 13z"/>
<path fill="#3e26a8" d="M2237 1447l53-11 68 9-53 11z"/>
<path fill="#402ab4" d="M2839 1410l53-14 67-5-53 14z"/>
<path fill="#426afe" d="M3854 1108l67-53 53-15-67 53z"/>
<path fill="#3e26a8" d="M2117 1448l53-11 67 10-52 10zm-120 0l53-10 67 10-53 10z"/>
<path fill="#412dbd" d="M2959 1391l53-14 67-7-52 14z"/>
<path fill="#3e26a8" d="M1877 1447l52-10 68 11-53 10z"/>
<path fill="#4330c5" d="M3079 1370l53-14 68-10-53 15z"/>
<path fill="#3e26a8" d="M1756 1446l53-10 68 11-53 10zm-120-3l53-10 67 13-53 9z"/>
<path fill="#4535d2" d="M3200 1346l52-14 68-12-53 15z"/>
<path fill="#15afd9" d="M4388 786l67-82 53-16-68 82z"/>
<path fill="#3e26a8" d="M1516 1437l52-8 68 14-53 7z"/>
<path fill="#51cc7f" d="M4801 484l68-73 53-15-68 72z"/>
<path fill="#327cfc" d="M3974 1040l68-54 52-15-67 54z"/>
<path fill="#463adb" d="M3320 1320l67-19 53-15-67 20z"/>
<path fill="#4742e6" d="M3440 1286l68-31 52-15-67 32z"/>
<path fill="#2d8cf3" d="M4094 971l68-63 53-15-68 63z"/>
<path fill="#08bcbf" d="M4508 688l67-82 53-16-67 82z"/>
<path fill="#88cb53" d="M4922 396l67-73 53-16-68 73z"/>
<path fill="#484ef1" d="M3560 1240l68-40 53-15-68 41z"/>
<path fill="#475af9" d="M3681 1185l67-48 53-15-68 48z"/>
<path fill="#249ee6" d="M4215 893l67-76 53-16-68 76z"/>
<path fill="#bbc42f" d="M5042 307l67-64 53-16-67 65z"/>
<path fill="#2fc5a3" d="M4628 590l68-75 52-15-67 75z"/>
<path fill="#3e26a8" d="M2425 1453l53-11 67 5-52 11zm120-6l53-12 68 2-53 12zm-240 9l53-11 67 8-53 11z"/>
<path fill="#3f28ae" d="M2666 1437l52-13 68-1-53 12z"/>
<path fill="#3e26a8" d="M2185 1457l52-10 68 9-53 10z"/>
<path fill="#426afe" d="M3801 1122l68-52 52-15-67 53z"/>
<path fill="#402ab4" d="M2786 1423l53-13 67-5-52 13z"/>
<path fill="#3e26a8" d="M2064 1458l53-10 68 9-53 11z"/>
<path fill="#412dbd" d="M2906 1405l53-14 68-7-53 14z"/>
<path fill="#3e26a8" d="M1944 1458l53-10 67 10-52 10zm-120-1l53-10 67 11-53 10z"/>
<path fill="#4330c5" d="M3027 1384l52-14 68-9-53 14z"/>
<path fill="#3e26a8" d="M1703 1455l53-9 68 11-53 10z"/>
<path fill="#17aeda" d="M4335 801l67-82 53-15-67 82z"/>
<path fill="#4434d0" d="M3147 1361l53-15 67-11-53 14z"/>
<path fill="#3e26a8" d="M1583 1450l53-7 67 12-52 8z"/>
<path fill="#51cc7f" d="M4748 500l68-73 53-16-68 73z"/>
<path fill="#3e27ab" d="M1463 1444l53-7 67 13-53 8z"/>
<path fill="#327cfc" d="M3921 1055l68-54 53-15-68 54z"/>
<path fill="#463adb" d="M3267 1335l68-20 52-14-67 19z"/>
<path fill="#4742e6" d="M3387 1301l68-31 53-15-68 31z"/>
<path fill="#2d8cf3" d="M4042 986l67-63 53-15-68 63z"/>
<path fill="#05bbc1" d="M4455 704l68-82 52-16-67 82z"/>
<path fill="#88cb53" d="M4869 411l67-73 53-15-67 73z"/>
<path fill="#484ef1" d="M3508 1255l67-41 53-14-68 40z"/>
<path fill="#475af9" d="M3628 1200l67-48 53-15-67 48z"/>
<path fill="#259ce7" d="M4162 908l67-76 53-15-67 76z"/>
<path fill="#bbc42f" d="M4989 323l68-65 52-15-67 64z"/>
<path fill="#2fc5a3" d="M4575 606l68-75 53-16-68 75z"/>
<path fill="#3e26a8" d="M2493 1458l52-11 68 2-53 11zm-121 6l53-11 68 5-53 11z"/>
<path fill="#3f28ae" d="M2613 1449l53-12 67-2-53 12z"/>
<path fill="#3e26a8" d="M2252 1466l53-10 67 8-52 11z"/>
<path fill="#426afe" d="M3748 1137l68-52 53-15-68 52z"/>
<path fill="#402ab4" d="M2733 1435l53-12 68-5-53 13z"/>
<path fill="#3e26a8" d="M2132 1468l53-11 67 9-53 11zm-120 0l52-10 68 10-53 10z"/>
<path fill="#412dbd" d="M2854 1418l52-13 68-7-53 13z"/>
<path fill="#3e26a8" d="M1891 1468l53-10 68 10-53 11z"/>
<path fill="#e3bc2c" d="M5109 243l68-47 53-16-68 47z"/>
<path fill="#4330c5" d="M2974 1398l53-14 67-9-53 14z"/>
<path fill="#3e26a8" d="M1771 1467l53-10 67 11-52 10zm-120-4l52-8 68 12-53 8z"/>
<path fill="#17aeda" d="M4282 817l68-83 52-15-67 82z"/>
<path fill="#4434d0" d="M3094 1375l53-14 67-12-52 14z"/>
<path fill="#3e27ab" d="M1530 1458l53-8 68 13-53 7z"/>
<path fill="#51cc7f" d="M4696 515l67-72 53-16-68 73z"/>
<path fill="#327cfc" d="M3869 1070l67-54 53-15-68 54z"/>
<path fill="#463adb" d="M3214 1349l68-19 53-15-68 20z"/>
<path fill="#3f28ae" d="M1410 1451l53-7 67 14-52 6z"/>
<path fill="#4742e6" d="M3335 1315l67-31 53-14-68 31z"/>
<path fill="#2d8cf3" d="M3989 1001l67-63 53-15-67 63z"/>
<path fill="#05bbc1" d="M4402 719l68-82 53-15-68 82z"/>
<path fill="#84cc56" d="M4816 427l68-73 52-16-67 73z"/>
<path fill="#484ef1" d="M3455 1270l67-41 53-15-67 41z"/>
<path fill="#475af9" d="M3575 1214l68-47 52-15-67 48z"/>
<path fill="#259ce7" d="M4109 923l68-76 52-15-67 76z"/>
<path fill="#bbc42f" d="M4936 338l68-64 53-16-68 65z"/>
<path fill="#2fc5a3" d="M4523 622l67-76 53-15-68 75z"/>
<path fill="#3e27ab" d="M2440 1469l53-11 67 2-53 11z"/>
<path fill="#3e26a8" d="M2320 1475l52-11 68 5-53 11z"/>
<path fill="#3f28ae" d="M2560 1460l53-11 67-2-52 12z"/>
<path fill="#426afe" d="M3695 1152l68-52 53-15-68 52z"/>
<path fill="#3e26a8" d="M2199 1477l53-11 68 9-53 11z"/>
<path fill="#402bb7" d="M2680 1447l53-12 68-4-53 12z"/>
<path fill="#3e26a8" d="M2079 1478l53-10 67 9-52 11zm-120 1l53-11 67 10-53 11z"/>
<path fill="#412dbd" d="M2801 1431l53-13 67-7-53 13z"/>
<path fill="#3e26a8" d="M1839 1478l52-10 68 11-53 10z"/>
<path fill="#e3bc2c" d="M5057 258l67-47 53-15-68 47z"/>
<path fill="#4331c8" d="M2921 1411l53-13 67-9-52 13z"/>
<path fill="#3e26a8" d="M1718 1475l53-8 68 11-53 8z"/>
<path fill="#17aeda" d="M4229 832l68-83 53-15-68 83z"/>
<path fill="#4434d0" d="M3041 1389l53-14 68-12-53 14z"/>
<path fill="#3e27ab" d="M1598 1470l53-7 67 12-53 7z"/>
<path fill="#51cc7f" d="M4643 531l67-73 53-15-67 72z"/>
<path fill="#3f28ae" d="M1478 1464l52-6 68 12-53 7z"/>
<path fill="#337afd" d="M3816 1085l67-54 53-15-67 54z"/>
<path fill="#463adb" d="M3162 1363l67-19 53-14-68 19z"/>
<path fill="#3f29b1" d="M1357 1458l53-7 68 13-53 7z"/>
<path fill="#f9bb3d" d="M5177 196l67-33 53-16-67 33z"/>
<path fill="#4742e6" d="M3282 1330l67-31 53-15-67 31z"/>
<path fill="#2d8bf4" d="M3936 1016l68-63 52-15-67 63z"/>
<path fill="#05bbc1" d="M4350 734l67-82 53-15-68 82z"/>
<path fill="#84cc56" d="M4763 443l68-74 53-15-68 73z"/>
<path fill="#484cf0" d="M3402 1284l68-40 52-15-67 41z"/>
<path fill="#475af9" d="M3522 1229l68-47 53-15-68 47z"/>
<path fill="#259ce7" d="M4056 938l68-76 53-15-68 76z"/>
<path fill="#b8c431" d="M4884 354l67-65 53-15-68 64z"/>
<path fill="#2fc5a3" d="M4470 637l67-75 53-16-67 76z"/>
<path fill="#426afe" d="M3643 1167l67-52 53-15-68 52z"/>
<path fill="#3e27ab" d="M2387 1480l53-11 67 2-52 11zm-120 6l53-11 67 5-53 11z"/>
<path fill="#3f29b1" d="M2507 1471l53-11 68-1-53 11z"/>
<path fill="#3e26a8" d="M2147 1488l52-11 68 9-53 10z"/>
<path fill="#402bb7" d="M2628 1459l52-12 68-4-53 12z"/>
<path fill="#3e26a8" d="M2026 1489l53-11 68 10-53 10z"/>
<path fill="#422ebf" d="M2748 1443l53-12 67-7-52 12z"/>
<path fill="#3e26a8" d="M1906 1489l53-10 67 10-52 10z"/>
<path fill="#e0bc2b" d="M5004 274l67-47 53-16-67 47z"/>
<path fill="#3e27ab" d="M1786 1486l53-8 67 11-53 8z"/>
<path fill="#4331c8" d="M2868 1424l53-13 68-9-53 13z"/>
<path fill="#3e27ab" d="M1665 1482l53-7 68 11-53 8z"/>
<path fill="#17aeda" d="M4177 847l67-83 53-15-68 83z"/>
<path fill="#4535d2" d="M2989 1402l52-13 68-12-53 14z"/>
<path fill="#4ecc81" d="M4590 546l68-72 52-16-67 73z"/>
<path fill="#3f28ae" d="M1545 1477l53-7 67 12-52 7z"/>
<path fill="#337afd" d="M3763 1100l68-54 52-15-67 54z"/>
<path fill="#463adb" d="M3109 1377l67-19 53-14-67 19z"/>
<path fill="#402ab4" d="M1425 1471l53-7 67 13-53 7z"/>
<path fill="#f9bb3d" d="M5124 211l68-33 52-15-67 33z"/>
<path fill="#402bb7" d="M1305 1464l52-6 68 13-53 7z"/>
<path fill="#4742e6" d="M3229 1344l68-31 52-14-67 31z"/>
<path fill="#fec438" d="M5244 163l68-28 53-15-68 27z"/>
<path fill="#2d8bf4" d="M3883 1031l68-63 53-15-68 63z"/>
<path fill="#05bbc1" d="M4297 749l67-82 53-15-67 82z"/>
<path fill="#84cc56" d="M4710 458l68-73 53-16-68 74z"/>
<path fill="#484cf0" d="M3349 1299l68-41 53-14-68 40z"/>
<path fill="#475af9" d="M3470 1244l67-48 53-14-68 47z"/>
<path fill="#259ce7" d="M4004 953l67-76 53-15-68 76z"/>
<path fill="#b8c431" d="M4831 369l67-64 53-16-67 65z"/>
<path fill="#2fc5a3" d="M4417 652l68-75 52-15-67 75z"/>
<path fill="#426afe" d="M3590 1182l67-53 53-14-67 52z"/>
<path fill="#3f28ae" d="M2334 1491l53-11 68 2-53 11z"/>
<path fill="#3e27ab" d="M2214 1496l53-10 67 5-52 11z"/>
<path fill="#3f29b1" d="M2455 1482l52-11 68-1-53 11z"/>
<path fill="#3e27ab" d="M2094 1498l53-10 67 8-53 11z"/>
<path fill="#402bb7" d="M2575 1470l53-11 67-4-53 11z"/>
<path fill="#3e27ab" d="M1974 1499l52-10 68 9-53 10z"/>
<path fill="#422ebf" d="M2695 1455l53-12 68-7-53 12z"/>
<path fill="#e0bc2b" d="M4951 289l68-47 52-15-67 47z"/>
<path fill="#3e27ab" d="M1853 1497l53-8 68 10-53 8z"/>
<path fill="#4331c8" d="M2816 1436l52-12 68-9-53 12z"/>
<path fill="#3f28ae" d="M1733 1494l53-8 67 11-52 8z"/>
<path fill="#17aeda" d="M4124 862l67-83 53-15-67 83z"/>
<path fill="#4535d2" d="M2936 1415l53-13 67-11-53 12z"/>
<path fill="#3f29b1" d="M1613 1489l52-7 68 12-53 7z"/>
<path fill="#4ecc81" d="M4537 562l68-73 53-15-68 72z"/>
<path fill="#337afd" d="M3710 1115l68-55 53-14-68 54z"/>
<path fill="#402ab4" d="M1492 1484l53-7 68 12-53 8z"/>
<path fill="#463adb" d="M3056 1391l68-19 52-14-67 19z"/>
<path fill="#f9bb3d" d="M5071 227l68-34 53-15-68 33z"/>
<path fill="#402bb7" d="M1372 1478l53-7 67 13-52 7z"/>
<path fill="#412cba" d="M1252 1469l53-5 67 14-53 5z"/>
<path fill="#4742e6" d="M3176 1358l68-31 53-14-68 31z"/>
<path fill="#fec438" d="M5192 178l67-28 53-15-68 28z"/>
<path fill="#2d8bf4" d="M3831 1046l67-64 53-14-68 63z"/>
<path fill="#05bbc1" d="M4244 764l68-82 52-15-67 82z"/>
<path fill="#84cc56" d="M4658 474l67-74 53-15-68 73z"/>
<path fill="#484cf0" d="M3297 1313l67-40 53-15-68 41z"/>
<path fill="#fcd030" d="M5312 135l67-21 53-15-67 21z"/>
<path fill="#475af9" d="M3417 1258l67-47 53-15-67 48z"/>
<path fill="#259ce7" d="M3951 968l67-76 53-15-67 76z"/>
<path fill="#b8c431" d="M4778 385l68-65 52-15-67 64z"/>
<path fill="#2ec4a4" d="M4364 667l68-75 53-15-68 75z"/>
<path fill="#426afe" d="M3537 1196l68-52 52-15-67 53z"/>
<path fill="#3f28ae" d="M2282 1502l52-11 68 2-53 12zm-121 5l53-11 68 6-53 11z"/>
<path fill="#402ab4" d="M2402 1493l53-11 67-1-53 12z"/>
<path fill="#3f28ae" d="M2041 1508l53-10 67 9-52 10z"/>
<path fill="#412cba" d="M2522 1481l53-11 67-4-52 12z"/>
<path fill="#3f28ae" d="M1921 1507l53-8 67 9-53 9z"/>
<path fill="#422ebf" d="M2642 1466l53-11 68-7-53 12z"/>
<path fill="#e0bc2b" d="M4898 305l68-48 53-15-68 47z"/>
<path fill="#3f28ae" d="M1801 1505l52-8 68 10-53 9z"/>
<path fill="#4332ca" d="M2763 1448l53-12 67-9-53 12z"/>
<path fill="#19addb" d="M4071 877l68-83 52-15-67 83z"/>
<path fill="#3f29b1" d="M1680 1501l53-7 68 11-53 8z"/>
<path fill="#4535d2" d="M2883 1427l53-12 67-12-52 13z"/>
<path fill="#4ecc81" d="M4485 577l67-73 53-15-68 73z"/>
<path fill="#402ab4" d="M1560 1497l53-8 67 12-53 8z"/>
<path fill="#337afd" d="M3657 1129l68-54 53-15-68 55z"/>
<path fill="#402bb7" d="M1440 1491l52-7 68 13-53 7z"/>
<path fill="#463adb" d="M3003 1403l68-19 53-12-68 19z"/>
<path fill="#f9bb3d" d="M5019 242l67-33 53-16-68 34z"/>
<path fill="#412cba" d="M1319 1483l53-5 68 13-53 5z"/>
<path fill="#4742e6" d="M3124 1372l67-31 53-14-68 31z"/>
<path fill="#422ebf" d="M1199 1475l53-6 67 14-52 5z"/>
<path fill="#fec438" d="M5139 193l67-27 53-16-67 28z"/>
<path fill="#2d8bf4" d="M3778 1060l67-63 53-15-67 64z"/>
<path fill="#03bbc2" d="M4191 779l68-82 53-15-68 82z"/>
<path fill="#81cc59" d="M4605 489l67-74 53-15-67 74z"/>
<path fill="#484cf0" d="M3244 1327l67-40 53-14-67 40z"/>
<path fill="#fcce31" d="M5259 150l68-20 52-16-67 21z"/>
<path fill="#f8d92b" d="M5379 114l53-15 68-13-53 16z"/>
<path fill="#475af9" d="M3364 1273l68-48 52-14-67 47z"/>
<path fill="#259ce7" d="M3898 982l68-75 52-15-67 76z"/>
<path fill="#b8c431" d="M4725 400l68-65 53-15-68 65z"/>
<path fill="#2ec4a4" d="M4312 682l67-75 53-15-68 75z"/>
<path fill="#4368fe" d="M3484 1211l68-52 53-15-68 52z"/>
<path fill="#3f29b1" d="M2229 1513l53-11 67 3-53 11z"/>
<path fill="#3f28ae" d="M2109 1517l52-10 68 6-53 11z"/>
<path fill="#402ab4" d="M2349 1505l53-12 67 0-52 11z"/>
<path fill="#412cba" d="M2469 1493l53-12 68-3-53 11z"/>
<path fill="#3f28ae" d="M1988 1517l53-9 68 9-53 10z"/>
<path fill="#e0bc2b" d="M4846 320l67-47 53-16-68 48z"/>
<path fill="#422fc2" d="M2590 1478l52-12 68-6-53 11z"/>
<path fill="#3f29b1" d="M1868 1516l53-9 67 10-52 9z"/>
<path fill="#4332ca" d="M2710 1460l53-12 67-9-52 12z"/>
<path fill="#3f29b1" d="M1748 1513l53-8 67 11-53 8z"/>
<path fill="#19addb" d="M4018 892l68-83 53-15-68 83z"/>
<path fill="#4ecc81" d="M4432 592l67-73 53-15-67 73z"/>
<path fill="#402ab4" d="M1627 1509l53-8 68 12-53 8z"/>
<path fill="#4537d5" d="M2830 1439l53-12 68-11-53 12z"/>
<path fill="#337afd" d="M3605 1144l67-54 53-15-68 54z"/>
<path fill="#402bb7" d="M1507 1504l53-7 67 12-52 7z"/>
<path fill="#463adb" d="M2951 1416l67-19 53-13-68 19z"/>
<path fill="#f7ba3c" d="M4966 257l67-33 53-15-67 33z"/>
<path fill="#412dbd" d="M1387 1496l53-5 67 13-53 5z"/>
<path fill="#422ebf" d="M1267 1488l52-5 68 13-53 6z"/>
<path fill="#4742e6" d="M3071 1384l67-30 53-13-67 31z"/>
<path fill="#422fc2" d="M1146 1482l53-7 68 13-53 8z"/>
<path fill="#fec438" d="M5086 209l68-28 52-15-67 27z"/>
<path fill="#2d8bf4" d="M3725 1075l68-63 52-15-67 63z"/>
<path fill="#03bbc2" d="M4139 794l67-82 53-15-68 82z"/>
<path fill="#81cc59" d="M4552 504l68-73 52-16-67 74z"/>
<path fill="#fcce31" d="M5206 166l68-21 53-15-68 20z"/>
<path fill="#484cf0" d="M3191 1341l68-41 52-13-67 40z"/>
<path fill="#f9d82c" d="M5327 130l52-16 68-12-53 15z"/>
<path fill="#f6e028" d="M5447 102l53-16 67-4-53 15z"/>
<path fill="#475af9" d="M3311 1287l68-47 53-15-68 48z"/>
<path fill="#259be8" d="M3845 997l68-76 53-14-68 75z"/>
<path fill="#b5c533" d="M4672 415l68-64 53-16-68 65z"/>
<path fill="#2ec4a4" d="M4259 697l67-75 53-15-67 75z"/>
<path fill="#4368fe" d="M3432 1225l67-52 53-14-68 52z"/>
<path fill="#402ab4" d="M2176 1524l53-11 67 3-52 11z"/>
<path fill="#402bb7" d="M2296 1516l53-11 68-1-53 12z"/>
<path fill="#3f29b1" d="M2056 1527l53-10 67 7-53 10z"/>
<path fill="#412dbd" d="M2417 1504l52-11 68-4-53 12z"/>
<path fill="#debd29" d="M4793 335l67-47 53-15-67 47z"/>
<path fill="#3f29b1" d="M1936 1526l52-9 68 10-53 9z"/>
<path fill="#422fc2" d="M2537 1489l53-11 67-7-53 12z"/>
<path fill="#402ab4" d="M1815 1524l53-8 68 10-53 9z"/>
<path fill="#19addb" d="M3966 907l67-83 53-15-68 83z"/>
<path fill="#4332ca" d="M2657 1471l53-11 68-9-53 12z"/>
<path fill="#402ab4" d="M1695 1521l53-8 67 11-52 8z"/>
<path fill="#4ecc81" d="M4379 607l68-73 52-15-67 73z"/>
<path fill="#4537d5" d="M2778 1451l52-12 68-11-53 12z"/>
<path fill="#402bb7" d="M1575 1516l52-7 68 12-53 7z"/>
<path fill="#337afd" d="M3552 1159l67-54 53-15-67 54z"/>
<path fill="#f7ba3c" d="M4913 273l68-33 52-16-67 33z"/>
<path fill="#412dbd" d="M1454 1509l53-5 68 12-53 6z"/>
<path fill="#463bde" d="M2898 1428l67-19 53-12-67 19z"/>
<path fill="#422ebf" d="M1334 1502l53-6 67 13-52 6z"/>
<path fill="#422fc2" d="M1214 1496l53-8 67 14-53 7z"/>
<path fill="#4742e6" d="M3018 1397l68-30 52-13-67 30z"/>
<path fill="#fec438" d="M5033 224l68-27 53-16-68 28z"/>
<path fill="#4330c5" d="M1094 1493l52-11 68 14-53 10z"/>
<path fill="#2d8bf4" d="M3672 1090l68-63 53-15-68 63z"/>
<path fill="#03bbc2" d="M4086 809l67-82 53-15-67 82z"/>
<path fill="#81cc59" d="M4499 519l68-73 53-15-68 73z"/>
<path fill="#fcce31" d="M5154 181l67-21 53-15-68 21z"/>
<path fill="#484ef1" d="M3138 1354l68-40 53-14-68 41z"/>
<path fill="#f9d82c" d="M5274 145l53-15 67-13-53 15z"/>
<path fill="#f6e028" d="M5394 117l53-15 67-5-52 16z"/>
<path fill="#f5e526" d="M5514 97l53-15 68-1-53 15z"/>
<path fill="#475af9" d="M3259 1300l67-47 53-13-68 47z"/>
<path fill="#259be8" d="M3793 1012l67-76 53-15-68 76z"/>
<path fill="#b5c533" d="M4620 431l67-65 53-15-68 64z"/>
<path fill="#2ec4a4" d="M4206 712l68-75 52-15-67 75z"/>
<path fill="#4368fe" d="M3379 1240l67-52 53-15-67 52z"/>
<path fill="#402ab4" d="M2123 1534l53-10 68 3-53 11z"/>
<path fill="#402bb7" d="M2244 1527l52-11 68 0-53 12z"/>
<path fill="#debd29" d="M4740 351l68-48 52-15-67 47z"/>
<path fill="#402ab4" d="M2003 1536l53-9 67 7-52 10z"/>
<path fill="#412dbd" d="M2364 1516l53-12 67-3-53 13z"/>
<path fill="#402ab4" d="M1883 1535l53-9 67 10-53 9z"/>
<path fill="#4330c5" d="M2484 1501l53-12 67-6-52 13z"/>
<path fill="#19addb" d="M3913 921l67-82 53-15-67 83z"/>
<path fill="#402bb7" d="M1763 1532l52-8 68 11-53 9z"/>
<path fill="#4433cd" d="M2604 1483l53-12 68-8-53 12z"/>
<path fill="#4bcb84" d="M4326 622l68-73 53-15-68 73z"/>
<path fill="#412cba" d="M1642 1528l53-7 68 11-53 8z"/>
<path fill="#4537d5" d="M2725 1463l53-12 67-11-53 12z"/>
<path fill="#337afd" d="M3499 1173l68-54 52-14-67 54z"/>
<path fill="#412dbd" d="M1522 1522l53-6 67 12-53 6z"/>
<path fill="#f7ba3c" d="M4860 288l68-33 53-15-68 33z"/>
<path fill="#463bde" d="M2845 1440l68-18 52-13-67 19z"/>
<path fill="#422ebf" d="M1402 1515l52-6 68 13-53 6z"/>
<path fill="#422fc2" d="M1281 1509l53-7 68 13-53 7z"/>
<path fill="#4742e6" d="M2965 1409l68-30 53-12-68 30z"/>
<path fill="#4330c5" d="M1161 1506l53-10 67 13-52 11z"/>
<path fill="#fec239" d="M4981 240l67-28 53-15-68 27z"/>
<path fill="#4330c5" d="M1041 1506l53-13 67 13-53 13z"/>
<path fill="#2d8bf4" d="M3619 1105l68-63 53-15-68 63z"/>
<path fill="#03bbc2" d="M4033 824l68-82 52-15-67 82z"/>
<path fill="#81cc59" d="M4447 534l67-73 53-15-68 73z"/>
<path fill="#fcce31" d="M5101 197l67-21 53-16-67 21z"/>
<path fill="#484ef1" d="M3086 1367l67-40 53-13-68 40z"/>
<path fill="#f9d82c" d="M5221 160l53-15 67-13-52 16z"/>
<path fill="#f6e028" d="M5341 132l53-15 68-4-53 15z"/>
<path fill="#f5e526" d="M5462 113l52-16 68-1-53 15z"/>
<path fill="#475af9" d="M3206 1314l67-47 53-14-67 47z"/>
<path fill="#f5e924" d="M5582 96l53-15 67 1-53 15z"/>
<path fill="#259be8" d="M3740 1027l67-76 53-15-67 76z"/>
<path fill="#b5c533" d="M4567 446l67-65 53-15-67 65z"/>
<path fill="#2ec4a4" d="M4153 727l68-75 53-15-68 75z"/>
<path fill="#4368fe" d="M3326 1253l68-51 52-14-67 52z"/>
<path fill="#debd29" d="M4687 366l68-47 53-16-68 48z"/>
<path fill="#412cba" d="M2191 1538l53-11 67 1-53 12z"/>
<path fill="#402bb7" d="M2071 1544l52-10 68 4-53 11z"/>
<path fill="#422ebf" d="M2311 1528l53-12 67-2-52 13z"/>
<path fill="#402bb7" d="M1950 1545l53-9 68 8-53 10z"/>
<path fill="#4330c5" d="M2431 1514l53-13 68-5-53 13z"/>
<path fill="#402bb7" d="M1830 1544l53-9 67 10-52 10z"/>
<path fill="#19addb" d="M3860 936l68-82 52-15-67 82z"/>
<path fill="#4433cd" d="M2552 1496l52-13 68-8-53 13z"/>
<path fill="#412cba" d="M1710 1540l53-8 67 12-53 8z"/>
<path fill="#4bcb84" d="M4274 637l67-72 53-16-68 73z"/>
<path fill="#412dbd" d="M1589 1534l53-6 68 12-53 7z"/>
<path fill="#4538d7" d="M2672 1475l53-12 67-11-52 13z"/>
<path fill="#337afd" d="M3446 1188l68-54 53-15-68 54z"/>
<path fill="#f7ba3c" d="M4808 303l67-33 53-15-68 33z"/>
<path fill="#422ebf" d="M1469 1528l53-6 67 12-52 7z"/>
<path fill="#463bde" d="M2792 1452l68-18 53-12-68 18z"/>
<path fill="#422fc2" d="M1349 1522l53-7 67 13-53 8z"/>
<path fill="#4330c5" d="M1229 1520l52-11 68 13-53 11z"/>
<path fill="#4744e8" d="M2913 1422l67-30 53-13-68 30z"/>
<path fill="#fec239" d="M4928 255l67-28 53-15-67 28z"/>
<path fill="#4330c5" d="M1108 1519l53-13 68 14-53 13zm-120 0l53-13 67 13-52 13z"/>
<path fill="#2d8bf4" d="M3567 1119l67-63 53-14-68 63z"/>
<path fill="#81cc59" d="M4394 549l67-73 53-15-67 73z"/>
<path fill="#03bbc2" d="M3980 839l68-82 53-15-68 82z"/>
<path fill="#fcce31" d="M5048 212l68-21 52-15-67 21z"/>
<path fill="#484ef1" d="M3033 1379l67-39 53-13-67 40z"/>
<path fill="#f9d82c" d="M5168 176l53-16 68-12-53 15z"/>
<path fill="#f6e028" d="M5289 148l52-16 68-4-53 15z"/>
<path fill="#f5e526" d="M5409 128l53-15 67-2-53 16z"/>
<path fill="#475af9" d="M3153 1327l68-47 52-13-67 47z"/>
<path fill="#f5e924" d="M5529 111l53-15 67 1-52 15z"/>
<path fill="#f5ec22" d="M5649 97l53-15 68 3-53 15z"/>
<path fill="#259be8" d="M3687 1042l68-76 52-15-67 76z"/>
<path fill="#b5c533" d="M4514 461l68-65 52-15-67 65z"/>
<path fill="#2ec4a4" d="M4101 742l67-75 53-15-68 75z"/>
<path fill="#426afe" d="M3273 1267l68-52 53-13-68 51z"/>
<path fill="#debd29" d="M4634 381l68-47 53-15-68 47z"/>
<path fill="#412dbd" d="M2138 1549l53-11 67 2-52 12z"/>
<path fill="#412cba" d="M2018 1554l53-10 67 5-53 11z"/>
<path fill="#422ebf" d="M2258 1540l53-12 68-1-53 12z"/>
<path fill="#412cba" d="M1898 1555l52-10 68 9-53 10z"/>
<path fill="#4330c5" d="M2379 1527l52-13 68-5-53 14z"/>
<path fill="#19addb" d="M3807 951l68-82 53-15-68 82z"/>
<path fill="#412cba" d="M1777 1552l53-8 68 11-53 9z"/>
<path fill="#4433cd" d="M2499 1509l53-13 67-8-53 14z"/>
<path fill="#4bcb84" d="M4221 652l67-72 53-15-67 72z"/>
<path fill="#412dbd" d="M1657 1547l53-7 67 12-52 7z"/>
<path fill="#337afd" d="M3394 1202l67-54 53-14-68 54z"/>
<path fill="#4538d7" d="M2619 1488l53-13 68-10-53 14z"/>
<path fill="#422ebf" d="M1537 1541l52-7 68 13-53 6z"/>
<path fill="#f7ba3c" d="M4755 319l67-34 53-15-67 33z"/>
<path fill="#463ddf" d="M2740 1465l67-17 53-14-68 18z"/>
<path fill="#422fc2" d="M1416 1536l53-8 68 13-53 8z"/>
<path fill="#4330c5" d="M1296 1533l53-11 67 14-52 11zm-120 0l53-13 67 13-53 13z"/>
<path fill="#fec239" d="M4875 270l68-28 52-15-67 28z"/>
<path fill="#4744e8" d="M2860 1434l67-29 53-13-67 30z"/>
<path fill="#4330c5" d="M1056 1532l52-13 68 14-53 13zm-121 0l53-13 68 13-53 14z"/>
<path fill="#2d8bf4" d="M3514 1134l67-63 53-15-67 63z"/>
<path fill="#7dcc5b" d="M4341 565l68-74 52-15-67 73z"/>
<path fill="#03bbc2" d="M3928 854l67-82 53-15-68 82z"/>
<path fill="#fdcd32" d="M4995 227l68-21 53-15-68 21z"/>
<path fill="#484ef1" d="M2980 1392l68-39 52-13-67 39z"/>
<path fill="#f9d82c" d="M5116 191l52-15 68-13-53 15z"/>
<path fill="#f6de29" d="M5236 163l53-15 67-5-53 16z"/>
<path fill="#f5e526" d="M5356 143l53-15 67-1-52 15z"/>
<path fill="#f5e924" d="M5476 127l53-16 68 1-53 15z"/>
<path fill="#475af9" d="M3100 1340l68-47 53-13-68 47z"/>
<path fill="#f5ec22" d="M5597 112l52-15 68 3-53 15z"/>
<path fill="#259be8" d="M3634 1056l68-75 53-15-68 76z"/>
<path fill="#f6ef20" d="M5717 100l53-15 67 5-52 15z"/>
<path fill="#b5c533" d="M4461 476l68-65 53-15-68 65z"/>
<path fill="#2cc4a6" d="M4048 757l67-75 53-15-67 75z"/>
<path fill="#426afe" d="M3221 1280l67-51 53-14-68 52z"/>
<path fill="#debd29" d="M4582 396l67-47 53-15-68 47z"/>
<path fill="#412dbd" d="M2085 1560l53-11 68 3-53 12z"/>
<path fill="#422ebf" d="M2206 1552l52-12 68-1-53 14z"/>
<path fill="#412cba" d="M1965 1564l53-10 67 6-52 12z"/>
<path fill="#4330c5" d="M2326 1539l53-12 67-4-53 14z"/>
<path fill="#412dbd" d="M1845 1564l53-9 67 9-53 10z"/>
<path fill="#19addb" d="M3755 966l67-82 53-15-68 82z"/>
<path fill="#4bcb84" d="M4168 667l68-72 52-15-67 72z"/>
<path fill="#4433cd" d="M2446 1523l53-14 67-7-52 15z"/>
<path fill="#412dbd" d="M1725 1559l52-7 68 12-53 7z"/>
<path fill="#337afd" d="M3341 1215l67-53 53-14-67 54z"/>
<path fill="#422ebf" d="M1604 1553l53-6 68 12-53 7z"/>
<path fill="#4538d7" d="M2566 1502l53-14 68-9-53 14z"/>
<path fill="#f5ba3a" d="M4702 334l68-33 52-16-67 34z"/>
<path fill="#422fc2" d="M1484 1549l53-8 67 12-53 9z"/>
<path fill="#463ddf" d="M2687 1479l53-14 67-17-53 14z"/>
<path fill="#4330c5" d="M1364 1547l52-11 68 13-53 11zm-121-1l53-13 68 14-53 13zm-120 0l53-13 67 13-52 14z"/>
<path fill="#fec239" d="M4822 285l68-27 53-16-68 28z"/>
<path fill="#4744e8" d="M2807 1448l68-29 52-14-67 29z"/>
<path fill="#4330c5" d="M1003 1546l53-14 67 14-53 14zm-120 0l52-14 68 14-53 14z"/>
<path fill="#2d8bf4" d="M3461 1148l68-63 52-14-67 63z"/>
<path fill="#7dcc5b" d="M4288 580l68-74 53-15-68 74z"/>
<path fill="#02bac4" d="M3875 869l67-82 53-15-67 82z"/>
<path fill="#fdcd32" d="M4943 242l67-20 53-16-68 21z"/>
<path fill="#484ef1" d="M2927 1405l68-38 53-14-68 39z"/>
<path fill="#f9d62d" d="M5063 206l53-15 67-13-53 16z"/>
<path fill="#f6de29" d="M5183 178l53-15 67-4-52 15z"/>
<path fill="#f5e526" d="M5303 159l53-16 68-1-53 15z"/>
<path fill="#f5e825" d="M5424 142l52-15 68 0-53 16z"/>
<path fill="#475bfa" d="M3048 1353l67-46 53-14-68 47z"/>
<path fill="#f5ec22" d="M5544 127l53-15 67 3-53 16z"/>
<path fill="#259be8" d="M3581 1071l68-75 53-15-68 75z"/>
<path fill="#f6ef20" d="M5664 115l53-15 68 5-53 15z"/>
<path fill="#f6f21e" d="M5785 105l52-15 68 7-53 15z"/>
<path fill="#b5c533" d="M4409 491l67-64 53-16-68 65z"/>
<path fill="#2cc4a6" d="M3995 772l68-74 52-16-67 75z"/>
<path fill="#426afe" d="M3168 1293l67-50 53-14-67 51z"/>
<path fill="#dbbd29" d="M4529 411l67-47 53-15-67 47z"/>
<path fill="#412dbd" d="M2033 1572l52-12 68 4-53 14z"/>
<path fill="#422fc2" d="M2153 1564l53-12 67 1-53 14z"/>
<path fill="#412dbd" d="M1912 1574l53-10 68 8-53 11z"/>
<path fill="#4331c8" d="M2273 1553l53-14 67-2-52 15z"/>
<path fill="#1aacdd" d="M3702 981l67-82 53-15-67 82z"/>
<path fill="#422ebf" d="M1792 1571l53-7 67 10-52 8z"/>
<path fill="#4bcb84" d="M4115 682l68-72 53-15-68 72z"/>
<path fill="#4433cd" d="M2393 1537l53-14 68-6-53 15z"/>
<path fill="#422fc2" d="M1672 1566l53-7 67 12-53 8z"/>
<path fill="#337afd" d="M3288 1229l68-53 52-14-67 53z"/>
<path fill="#4538d7" d="M2514 1517l52-15 68-9-53 16z"/>
<path fill="#f5ba3a" d="M4649 349l68-33 53-15-68 33z"/>
<path fill="#422fc2" d="M1551 1562l53-9 68 13-53 9z"/>
<path fill="#4330c5" d="M1431 1560l53-11 67 13-52 11z"/>
<path fill="#463ddf" d="M2634 1493l53-14 67-17-52 15z"/>
<path fill="#4330c5" d="M1311 1560l53-13 67 13-53 13zm-120 0l52-14 68 14-53 13z"/>
<path fill="#fec239" d="M4770 301l67-28 53-15-68 27z"/>
<path fill="#4330c5" d="M1070 1560l53-14 68 14-53 13z"/>
<path fill="#4744e8" d="M2754 1462l68-28 53-15-68 29z"/>
<path fill="#4330c5" d="M950 1560l53-14 67 14-52 13zm-120 0l53-14 67 14-53 13z"/>
<path fill="#2d8bf4" d="M3408 1162l68-63 53-14-68 63z"/>
<path fill="#7dcc5b" d="M4236 595l67-73 53-16-68 74z"/>
<path fill="#02bac4" d="M3822 884l68-82 52-15-67 82z"/>
<path fill="#fdcd32" d="M4890 258l67-21 53-15-67 20z"/>
<path fill="#484ff2" d="M2875 1419l67-38 53-14-68 38z"/>
<path fill="#f9d62d" d="M5010 222l53-16 67-12-52 15z"/>
<path fill="#f6de29" d="M5130 194l53-16 68-4-53 15z"/>
<path fill="#f5e327" d="M5251 174l52-15 68-2-53 15z"/>
<path fill="#f5e825" d="M5371 157l53-15 67 1-53 15z"/>
<path fill="#475bfa" d="M2995 1367l67-46 53-14-67 46z"/>
<path fill="#f5ec22" d="M5491 143l53-16 67 4-52 15z"/>
<path fill="#259be8" d="M3529 1085l67-75 53-14-68 75z"/>
<path fill="#f6ef20" d="M5611 131l53-16 68 5-53 16z"/>
<path fill="#f7f41c" d="M5852 112l53-15 67 9-52 15z"/>
<path fill="#f6f11f" d="M5732 120l53-15 67 7-53 16z"/>
<path fill="#b1c635" d="M4356 506l67-64 53-15-67 64z"/>
<path fill="#2cc4a6" d="M3942 787l68-74 53-15-68 74z"/>
<path fill="#426afe" d="M3115 1307l68-50 52-14-67 50z"/>
<path fill="#dbbd29" d="M4476 427l68-48 52-15-67 47z"/>
<path fill="#422fc2" d="M2100 1578l53-14 67 3-52 15z"/>
<path fill="#422ebf" d="M1980 1583l53-11 67 6-53 12z"/>
<path fill="#4331c8" d="M2220 1567l53-14 68-1-53 16z"/>
<path fill="#1aacdd" d="M3649 996l68-82 52-15-67 82z"/>
<path fill="#422ebf" d="M1860 1582l52-8 68 9-53 9z"/>
<path fill="#4bcb84" d="M4063 698l67-73 53-15-68 72z"/>
<path fill="#4433cd" d="M2341 1552l52-15 68-5-53 17z"/>
<path fill="#422fc2" d="M1739 1579l53-8 68 11-53 8z"/>
<path fill="#4537d5" d="M2461 1532l53-15 67-8-53 17z"/>
<path fill="#4330c5" d="M1619 1575l53-9 67 13-52 9z"/>
<path fill="#337afd" d="M3235 1243l68-53 53-14-68 53z"/>
<path fill="#f5ba3a" d="M4596 364l68-33 53-15-68 33z"/>
<path fill="#4330c5" d="M1499 1573l52-11 68 13-53 11z"/>
<path fill="#463bde" d="M2581 1509l53-16 68-16-53 18z"/>
<path fill="#4330c5" d="M1378 1573l53-13 68 13-53 14zm-120 0l53-13 67 13-52 14zm-120 0l53-13 67 13-53 14z"/>
<path fill="#fec13a" d="M4717 316l67-28 53-15-67 28z"/>
<path fill="#4330c5" d="M1018 1573l52-13 68 13-53 14z"/>
<path fill="#4744e8" d="M2702 1477l67-26 53-17-68 28z"/>
<path fill="#4330c5" d="M897 1573l53-13 68 13-53 14zm-120 2l53-15 67 13-52 16z"/>
<path fill="#2d8bf4" d="M3356 1176l67-63 53-14-68 63z"/>
<path fill="#7dcc5b" d="M4183 610l67-73 53-15-67 73z"/>
<path fill="#02bac4" d="M3769 899l68-82 53-15-68 82z"/>
<path fill="#fdcd32" d="M4837 273l68-21 52-15-67 21z"/>
<path fill="#484ef1" d="M2822 1434l67-37 53-16-67 38z"/>
<path fill="#f9d62d" d="M4957 237l53-15 68-13-53 15z"/>
<path fill="#f6de29" d="M5078 209l52-15 68-5-53 15z"/>
<path fill="#f5e327" d="M5198 189l53-15 67-2-53 16z"/>
<path fill="#f5e825" d="M5318 172l53-15 67 1-52 15z"/>
<path fill="#f5eb23" d="M5438 158l53-15 68 3-53 15z"/>
<path fill="#475af9" d="M2942 1381l68-44 52-16-67 46z"/>
<path fill="#f7f51b" d="M5920 121l52-15 68 8-53 16z"/>
<path fill="#f5ee21" d="M5559 146l52-15 68 5-53 15z"/>
<path fill="#259be8" d="M3476 1099l67-75 53-14-67 75z"/>
<path fill="#f6f21e" d="M5799 128l53-16 68 9-53 15z"/>
<path fill="#f6f11f" d="M5679 136l53-16 67 8-52 15z"/>
<path fill="#b1c635" d="M4303 522l68-65 52-15-67 64z"/>
<path fill="#2cc4a6" d="M3890 802l67-74 53-15-68 74z"/>
<path fill="#426afe" d="M3062 1321l68-49 53-15-68 50z"/>
<path fill="#dbbd29" d="M4423 442l68-48 53-15-68 48z"/>
<path fill="#422fc2" d="M2047 1590l53-12 68 4-53 14z"/>
<path fill="#4330c5" d="M2168 1582l52-15 68 1-53 17z"/>
<path fill="#422fc2" d="M1927 1592l53-9 67 7-52 11z"/>
<path fill="#1aacdd" d="M3596 1010l68-81 53-15-68 82z"/>
<path fill="#422fc2" d="M1807 1590l53-8 67 10-53 9z"/>
<path fill="#4433cd" d="M2288 1568l53-16 67-3-53 18z"/>
<path fill="#48cb86" d="M4010 713l67-73 53-15-67 73z"/>
<path fill="#4330c5" d="M1687 1588l52-9 68 11-53 10z"/>
<path fill="#4537d5" d="M2408 1549l53-17 67-6-52 18z"/>
<path fill="#337afd" d="M3183 1257l67-53 53-14-68 53z"/>
<path fill="#f5ba3a" d="M4544 379l67-33 53-15-68 33z"/>
<path fill="#4330c5" d="M1566 1586l53-11 68 13-53 12zm-120 1l53-14 67 13-53 14z"/>
<path fill="#463bde" d="M2528 1526l53-17 68-14-53 18z"/>
<path fill="#4330c5" d="M1326 1587l52-14 68 14-53 13zm-121 0l53-14 68 14-53 13zm-120 0l53-14 67 14-52 13z"/>
<path fill="#fec13a" d="M4664 331l68-28 52-15-67 28z"/>
<path fill="#4742e6" d="M2649 1495l67-25 53-19-67 26z"/>
<path fill="#4330c5" d="M965 1587l53-14 67 14-53 14zm-120 2l52-16 68 14-53 15z"/>
<path fill="#422fc2" d="M724 1593l53-18 68 14-53 17z"/>
<path fill="#7dcc5b" d="M4130 625l68-73 52-15-67 73z"/>
<path fill="#2d8bf4" d="M3303 1190l67-62 53-15-67 63z"/>
<path fill="#02bac4" d="M3717 914l67-82 53-15-68 82z"/>
<path fill="#fdcd32" d="M4784 288l68-21 53-15-68 21z"/>
<path fill="#484ef1" d="M2769 1451l68-35 52-19-67 37z"/>
<path fill="#f9d62d" d="M4905 252l52-15 68-13-53 15z"/>
<path fill="#f6de29" d="M5025 224l53-15 67-5-53 16z"/>
<path fill="#f5e327" d="M5145 204l53-15 67-1-52 15z"/>
<path fill="#f5e825" d="M5265 188l53-16 68 1-53 16z"/>
<path fill="#475af9" d="M2889 1397l68-43 53-17-68 44z"/>
<path fill="#f7f51b" d="M5987 130l53-16 67 9-52 15z"/>
<path fill="#f5eb23" d="M5386 173l52-15 68 3-53 15z"/>
<path fill="#f7f41c" d="M5867 136l53-15 67 9-53 15z"/>
<path fill="#f5ee21" d="M5506 161l53-15 67 5-53 15z"/>
<path fill="#f6f21e" d="M5747 143l52-15 68 8-53 15z"/>
<path fill="#f6f11f" d="M5626 151l53-15 68 7-53 15z"/>
<path fill="#259be8" d="M3423 1113l68-74 52-15-67 75z"/>
<path fill="#b1c635" d="M4250 537l68-65 53-15-68 65z"/>
<path fill="#2cc4a6" d="M3837 817l67-74 53-15-67 74z"/>
<path fill="#426afe" d="M3010 1337l67-49 53-16-68 49z"/>
<path fill="#dbbd29" d="M4371 457l67-47 53-16-68 48z"/>
<path fill="#4330c5" d="M2115 1596l53-14 67 3-53 17zm-120 5l52-11 68 6-53 13z"/>
<path fill="#1aacdd" d="M3543 1024l68-81 53-14-68 81z"/>
<path fill="#4330c5" d="M1874 1601l53-9 68 9-53 11z"/>
<path fill="#4332ca" d="M2235 1585l53-17 67-1-52 19z"/>
<path fill="#48cb86" d="M3957 728l68-73 52-15-67 73z"/>
<path fill="#4330c5" d="M1754 1600l53-10 67 11-52 11z"/>
<path fill="#4535d2" d="M2355 1567l53-18 68-5-53 20z"/>
<path fill="#4330c5" d="M1634 1600l53-12 67 12-53 12z"/>
<path fill="#337afd" d="M3130 1272l67-52 53-16-67 53z"/>
<path fill="#f5ba3a" d="M4491 394l67-33 53-15-67 33z"/>
<path fill="#4330c5" d="M1513 1600l53-14 68 14-53 13z"/>
<path fill="#463adb" d="M2476 1544l52-18 68-13-53 21z"/>
<path fill="#4330c5" d="M1393 1600l53-13 67 13-52 14zm-120 0l53-13 67 13-53 14zm-120 0l52-13 68 13-53 14zm-121 1l53-14 68 13-53 14z"/>
<path fill="#4742e6" d="M2596 1513l53-18 67-25-52 21z"/>
<path fill="#fec13a" d="M4611 346l68-28 53-15-68 28z"/>
<path fill="#4330c5" d="M912 1602l53-15 67 14-52 15z"/>
<path fill="#422fc2" d="M792 1606l53-17 67 13-53 18zm-120 6l52-19 68 13-53 19z"/>
<path fill="#79cc5e" d="M4077 640l68-73 53-15-68 73z"/>
<path fill="#02bac4" d="M3664 929l67-82 53-15-67 82z"/>
<path fill="#2d8bf4" d="M3250 1204l68-61 52-15-67 62z"/>
<path fill="#fdcb32" d="M4732 303l67-21 53-15-68 21z"/>
<path fill="#484cf0" d="M2716 1470l68-33 53-21-68 35z"/>
<path fill="#f9d62d" d="M4852 267l53-15 67-13-53 15z"/>
<path fill="#f7dd2a" d="M4972 239l53-15 67-4-52 15z"/>
<path fill="#f5e327" d="M5092 220l53-16 68-1-53 15z"/>
<path fill="#f5e825" d="M5213 203l52-15 68 1-53 15z"/>
<path fill="#4759f8" d="M2837 1416l67-42 53-20-68 43z"/>
<path fill="#f8f619" d="M6055 138l52-15 68 10-53 15z"/>
<path fill="#f7f51b" d="M5934 145l53-15 68 8-53 16z"/>
<path fill="#f5eb23" d="M5333 189l53-16 67 3-53 16z"/>
<path fill="#f7f41c" d="M5814 151l53-15 67 9-52 15z"/>
<path fill="#f5ee21" d="M5453 176l53-15 67 5-52 15z"/>
<path fill="#f6f21e" d="M5694 158l53-15 67 8-53 16z"/>
<path fill="#f6f11f" d="M5573 166l53-15 68 7-53 15z"/>
<path fill="#259be8" d="M3370 1128l68-74 53-15-68 74z"/>
<path fill="#b1c635" d="M4198 552l67-65 53-15-68 65z"/>
<path fill="#2cc4a6" d="M3784 832l68-74 52-15-67 74z"/>
<path fill="#4368fe" d="M2957 1354l67-48 53-18-67 49z"/>
<path fill="#dbbd29" d="M4318 472l67-47 53-15-67 47z"/>
<path fill="#4331c8" d="M2062 1609l53-13 67 6-52 14z"/>
<path fill="#1aacdd" d="M3491 1039l67-81 53-15-68 81z"/>
<path fill="#4330c5" d="M1942 1612l53-11 67 8-53 12z"/>
<path fill="#4332ca" d="M2182 1602l53-17 68 1-53 19z"/>
<path fill="#48cb86" d="M3904 743l68-73 53-15-68 73z"/>
<path fill="#4330c5" d="M1822 1612l52-11 68 11-53 11z"/>
<path fill="#4434d0" d="M2303 1586l52-19 68-3-53 22z"/>
<path fill="#4330c5" d="M1701 1612l53-12 68 12-53 13z"/>
<path fill="#3579fd" d="M3077 1288l68-51 52-17-67 52z"/>
<path fill="#4330c5" d="M1581 1613l53-13 67 12-52 14z"/>
<path fill="#f3ba38" d="M4438 410l68-34 52-15-67 33z"/>
<path fill="#4639d9" d="M2423 1564l53-20 67-10-53 23z"/>
<path fill="#4330c5" d="M1461 1614l52-14 68 13-53 14zm-121 0l53-14 68 14-53 13zm-120 0l53-14 67 14-52 14zm-120 0l53-14 67 14-53 14z"/>
<path fill="#473fe3" d="M2543 1534l53-21 68-22-53 24z"/>
<path fill="#4330c5" d="M980 1616l52-15 68 13-53 16z"/>
<path fill="#fec13a" d="M4558 361l68-27 53-16-68 28z"/>
<path fill="#422fc2" d="M859 1620l53-18 68 14-53 18zm-120 5l53-19 67 14-52 19z"/>
<path fill="#422ebf" d="M619 1632l53-20 67 13-53 21z"/>
<path fill="#79cc5e" d="M4025 655l67-73 53-15-68 73z"/>
<path fill="#2d8af5" d="M3197 1220l68-61 53-16-68 61z"/>
<path fill="#02bac4" d="M3611 943l68-81 52-15-67 82z"/>
<path fill="#fdcb32" d="M4679 318l67-20 53-16-67 21z"/>
<path fill="#484bee" d="M2664 1491l67-31 53-23-68 33z"/>
<path fill="#fad52e" d="M4799 282l53-15 67-13-52 16z"/>
<path fill="#f7dd2a" d="M4919 254l53-15 68-4-53 15z"/>
<path fill="#f5e128" d="M5040 235l52-15 68-2-53 15z"/>
<path fill="#4757f7" d="M2784 1437l67-40 53-23-67 42z"/>
<path fill="#f5e626" d="M5160 218l53-15 67 1-53 15z"/>
<path fill="#f8f818" d="M6122 148l53-15 67 9-52 16z"/>
<path fill="#f8f619" d="M6002 154l53-16 67 10-53 15z"/>
<path fill="#f7f51b" d="M5882 160l52-15 68 9-53 15z"/>
<path fill="#f5eb23" d="M5280 204l53-15 67 3-52 15z"/>
<path fill="#f7f41c" d="M5761 167l53-16 68 9-53 15z"/>
<path fill="#f5ee21" d="M5400 192l53-16 68 5-53 16z"/>
<path fill="#f6f21e" d="M5641 173l53-15 67 9-52 15z"/>
<path fill="#f6ef20" d="M5521 181l52-15 68 7-53 16z"/>
<path fill="#259be8" d="M3318 1143l67-74 53-15-68 74z"/>
<path fill="#b1c635" d="M4145 567l67-65 53-15-67 65z"/>
<path fill="#2bc3a8" d="M3731 847l68-74 53-15-68 74z"/>
<path fill="#4367fd" d="M2904 1374l68-46 52-22-67 48z"/>
<path fill="#d9be28" d="M4265 487l68-47 52-15-67 47z"/>
<path fill="#4332ca" d="M2130 1616l52-14 68 3-53 18z"/>
<path fill="#4331c8" d="M2009 1621l53-12 68 7-53 14z"/>
<path fill="#1aacdd" d="M3438 1054l67-81 53-15-67 81z"/>
<path fill="#4331c8" d="M1889 1623l53-11 67 9-52 13z"/>
<path fill="#4434d0" d="M2250 1605l53-19 67 0-53 22z"/>
<path fill="#48cb86" d="M3852 758l67-72 53-16-68 73z"/>
<path fill="#4330c5" d="M1769 1625l53-13 67 11-53 14zm-120 1l52-14 68 13-53 14z"/>
<path fill="#3579fd" d="M3024 1306l68-49 53-20-68 51z"/>
<path fill="#4538d7" d="M2370 1586l53-22 67-7-52 25z"/>
<path fill="#4330c5" d="M1528 1627l53-14 68 13-53 14z"/>
<path fill="#f3ba38" d="M4385 425l68-33 53-16-68 34z"/>
<path fill="#4330c5" d="M1408 1627l53-13 67 13-53 14zm-120 1l52-14 68 13-53 14zm-121 0l53-14 68 14-53 14z"/>
<path fill="#473ee1" d="M2490 1557l53-23 68-19-53 27z"/>
<path fill="#4330c5" d="M1047 1630l53-16 67 14-52 15z"/>
<path fill="#422fc2" d="M927 1634l53-18 67 14-53 17z"/>
<path fill="#fec13a" d="M4506 376l67-27 53-15-68 27z"/>
<path fill="#422fc2" d="M807 1639l52-19 68 14-53 19z"/>
<path fill="#422ebf" d="M686 1646l53-21 68 14-53 20z"/>
<path fill="#412cba" d="M566 1653l53-21 67 14-52 21z"/>
<path fill="#2d8af5" d="M3145 1237l67-60 53-18-68 61z"/>
<path fill="#79cc5e" d="M3972 670l67-73 53-15-67 73z"/>
<path fill="#02bac4" d="M3558 958l68-80 53-16-68 81z"/>
<path fill="#4848ec" d="M2611 1515l53-24 67-31-53 28z"/>
<path fill="#fdcb32" d="M4626 334l68-21 52-15-67 20z"/>
<path fill="#fad52e" d="M4746 298l53-16 68-12-53 15z"/>
<path fill="#f7dd2a" d="M4867 270l52-16 68-4-53 15z"/>
<path fill="#4854f6" d="M2731 1460l68-36 52-27-67 40z"/>
<path fill="#f5e128" d="M4987 250l53-15 67-2-53 16z"/>
<path fill="#f9f916" d="M6190 158l52-16 68 11-53 15z"/>
<path fill="#f5e626" d="M5107 233l53-15 67 1-52 15z"/>
<path fill="#f8f818" d="M6069 163l53-15 68 10-53 15z"/>
<path fill="#f8f619" d="M5949 169l53-15 67 9-52 15z"/>
<path fill="#f7f51b" d="M5829 175l53-15 67 9-53 15z"/>
<path fill="#f5eb23" d="M5227 219l53-15 68 3-53 15z"/>
<path fill="#f7f41c" d="M5709 182l52-15 68 8-53 15z"/>
<path fill="#f5ee21" d="M5348 207l52-15 68 5-53 15z"/>
<path fill="#f6f21e" d="M5588 189l53-16 68 9-53 15z"/>
<path fill="#f6ef20" d="M5468 197l53-16 67 8-53 15z"/>
<path fill="#269ae8" d="M3265 1159l67-73 53-17-67 74z"/>
<path fill="#aec637" d="M4092 582l68-64 52-16-67 65z"/>
<path fill="#2bc3a8" d="M3679 862l67-74 53-15-68 74z"/>
<path fill="#4564fd" d="M2851 1397l68-43 53-26-68 46z"/>
<path fill="#d9be28" d="M4212 502l68-47 53-15-68 47z"/>
<path fill="#4332ca" d="M2077 1630l53-14 67 7-53 16z"/>
<path fill="#1aacdd" d="M3385 1069l68-79 52-17-67 81z"/>
<path fill="#4331c8" d="M1957 1634l52-13 68 9-53 15z"/>
<path fill="#4433cd" d="M2197 1623l53-18 67 3-52 20z"/>
<path fill="#4331c8" d="M1836 1637l53-14 68 11-53 15z"/>
<path fill="#48cb86" d="M3799 773l67-72 53-15-67 72z"/>
<path fill="#4330c5" d="M1716 1639l53-14 67 12-52 15z"/>
<path fill="#4535d2" d="M2317 1608l53-22 68-4-53 25z"/>
<path fill="#3876fe" d="M2972 1328l67-48 53-23-68 49z"/>
<path fill="#4330c5" d="M1596 1640l53-14 67 13-53 15zm-121 1l53-14 68 13-53 14z"/>
<path fill="#f3ba38" d="M4333 440l67-33 53-15-68 33z"/>
<path fill="#4330c5" d="M1355 1641l53-14 67 14-52 14z"/>
<path fill="#463bde" d="M2438 1582l52-25 68-15-53 29z"/>
<path fill="#4330c5" d="M1235 1642l53-14 67 13-53 14zm-120 1l52-15 68 14-53 15z"/>
<path fill="#422fc2" d="M994 1647l53-17 68 13-53 18zm-120 6l53-19 67 13-52 19z"/>
<path fill="#422ebf" d="M754 1659l53-20 67 14-53 20z"/>
<path fill="#412cba" d="M634 1667l52-21 68 13-53 21z"/>
<path fill="#fec03b" d="M4453 392l67-28 53-15-67 27z"/>
<path fill="#4745e9" d="M2558 1542l53-27 67-27-52 32z"/>
<path fill="#2d88f6" d="M3092 1257l67-59 53-21-67 60z"/>
<path fill="#79cc5e" d="M3919 686l68-73 52-16-67 73z"/>
<path fill="#01b9c6" d="M3505 973l68-80 53-15-68 80z"/>
<path fill="#fdcb32" d="M4573 349l68-21 53-15-68 21z"/>
<path fill="#fad52e" d="M4694 313l52-15 68-13-53 15z"/>
<path fill="#4852f4" d="M2678 1488l53-28 68-36-53 32z"/>
<path fill="#f7dd2a" d="M4814 285l53-15 67-5-53 15z"/>
<path fill="#f5e128" d="M4934 265l53-15 67-1-52 15z"/>
<path fill="#f9f916" d="M6257 168l53-15 67 11-52 15z"/>
<path fill="#f8f818" d="M6137 173l53-15 67 10-53 15z"/>
<path fill="#f5e626" d="M5054 249l53-16 68 1-53 15z"/>
<path fill="#f8f818" d="M6017 178l52-15 68 10-53 15z"/>
<path fill="#f8f619" d="M5896 184l53-15 68 9-53 16z"/>
<path fill="#f7f51b" d="M5776 190l53-15 67 9-52 15z"/>
<path fill="#f5e924" d="M5175 234l52-15 68 3-53 15z"/>
<path fill="#f7f41c" d="M5656 197l53-15 67 8-53 16z"/>
<path fill="#269ae8" d="M3212 1177l68-71 52-20-67 73z"/>
<path fill="#f5ec22" d="M5295 222l53-15 67 5-53 15z"/>
<path fill="#f6f11f" d="M5535 204l53-15 68 8-53 15z"/>
<path fill="#f6ef20" d="M5415 212l53-15 67 7-52 15z"/>
<path fill="#aec637" d="M4039 597l68-64 53-15-68 64z"/>
<path fill="#2bc3a8" d="M3626 878l67-74 53-16-67 74z"/>
<path fill="#4561fc" d="M2799 1424l67-40 53-30-68 43z"/>
<path fill="#d9be28" d="M4160 518l67-47 53-16-68 47z"/>
<path fill="#1babde" d="M3332 1086l68-78 53-18-68 79z"/>
<path fill="#4433cd" d="M2144 1639l53-16 68 5-53 18z"/>
<path fill="#4332ca" d="M2024 1645l53-15 67 9-52 16z"/>
<path fill="#4331c8" d="M1904 1649l53-15 67 11-53 15z"/>
<path fill="#3b73fe" d="M2919 1354l67-46 53-28-67 48z"/>
<path fill="#4434d0" d="M2265 1628l52-20 68-1-53 24z"/>
<path fill="#4331c8" d="M1784 1652l52-15 68 12-53 16z"/>
<path fill="#48cb86" d="M3746 788l68-72 52-15-67 72z"/>
<path fill="#4330c5" d="M1663 1654l53-15 68 13-53 15zm-120 0l53-14 67 14-52 14z"/>
<path fill="#4639d9" d="M2385 1607l53-25 67-11-53 30z"/>
<path fill="#f3ba38" d="M4280 455l67-33 53-15-67 33z"/>
<path fill="#4330c5" d="M1423 1655l52-14 68 13-53 14zm-121 0l53-14 68 14-53 14zm-120 2l53-15 67 13-52 16z"/>
<path fill="#422fc2" d="M1062 1661l53-18 67 14-53 18zm-120 5l52-19 68 14-53 19z"/>
<path fill="#422ebf" d="M821 1673l53-20 68 13-53 21z"/>
<path fill="#412cba" d="M701 1680l53-21 67 14-52 21z"/>
<path fill="#4741e5" d="M2505 1571l53-29 68-22-53 35z"/>
<path fill="#fec03b" d="M4400 407l68-28 52-15-67 28z"/>
<path fill="#2e86f8" d="M3039 1280l68-57 52-25-67 59z"/>
<path fill="#79cc5e" d="M3866 701l68-73 53-15-68 73z"/>
<path fill="#01b9c6" d="M3453 990l67-80 53-17-68 80z"/>
<path fill="#fdcb32" d="M4520 364l68-21 53-15-68 21z"/>
<path fill="#484ef1" d="M2626 1520l52-32 68-32-53 36z"/>
<path fill="#fad52e" d="M4641 328l53-15 67-13-53 15z"/>
<path fill="#f7dd2a" d="M4761 300l53-15 67-5-52 16z"/>
<path fill="#f9fb15" d="M6325 179l52-15 68 11-53 16z"/>
<path fill="#f5e128" d="M4881 280l53-15 68-1-53 15z"/>
<path fill="#f9f916" d="M6204 183l53-15 68 11-53 15z"/>
<path fill="#f8f818" d="M6084 188l53-15 67 10-52 15z"/>
<path fill="#f5e626" d="M5002 264l52-15 68 0-53 16z"/>
<path fill="#f8f619" d="M5964 194l53-16 67 10-53 15z"/>
<path fill="#2798ea" d="M3159 1198l68-70 53-22-68 71z"/>
<path fill="#f7f51b" d="M5844 199l52-15 68 10-53 15z"/>
<path fill="#f7f41c" d="M5723 206l53-16 68 9-53 16z"/>
<path fill="#f5e924" d="M5122 249l53-15 67 3-53 15z"/>
<path fill="#f6f21e" d="M5603 212l53-15 67 9-52 15z"/>
<path fill="#f5ec22" d="M5242 237l53-15 67 5-52 15z"/>
<path fill="#f6f11f" d="M5483 219l52-15 68 8-53 16z"/>
<path fill="#f6ef20" d="M5362 227l53-15 68 7-53 15z"/>
<path fill="#aec637" d="M3987 613l67-65 53-15-68 64z"/>
<path fill="#465dfa" d="M2746 1456l53-32 67-40-53 35z"/>
<path fill="#2bc3a8" d="M3573 893l68-73 52-16-67 74z"/>
<path fill="#d9be28" d="M4107 533l67-47 53-15-67 47z"/>
<path fill="#3e70ff" d="M2866 1384l68-43 52-33-67 46z"/>
<path fill="#1caadf" d="M3280 1106l67-78 53-20-68 78z"/>
<path fill="#4332ca" d="M2092 1655l52-16 68 7-53 18z"/>
<path fill="#4331c8" d="M1971 1660l53-15 68 10-53 17z"/>
<path fill="#4434d0" d="M2212 1646l53-18 67 3-53 21z"/>
<path fill="#4331c8" d="M1851 1665l53-16 67 11-52 17z"/>
<path fill="#45cb89" d="M3693 804l68-72 53-16-68 72z"/>
<path fill="#4330c5" d="M1731 1667l53-15 67 13-53 15zm-120 1l52-14 68 13-53 14z"/>
<path fill="#4537d5" d="M2332 1631l53-24 67-6-52 28z"/>
<path fill="#4330c5" d="M1490 1668l53-14 68 14-53 14z"/>
<path fill="#f3ba38" d="M4227 471l68-33 52-16-67 33z"/>
<path fill="#4330c5" d="M1370 1669l53-14 67 13-53 15zm-120 2l52-16 68 14-53 15z"/>
<path fill="#422fc2" d="M1129 1675l53-18 68 14-53 17z"/>
<path fill="#463ddf" d="M2452 1601l53-30 68-16-53 35z"/>
<path fill="#422fc2" d="M1009 1680l53-19 67 14-52 19z"/>
<path fill="#422ebf" d="M889 1687l53-21 67 14-53 20z"/>
<path fill="#412cba" d="M769 1694l52-21 68 14-53 21z"/>
<path fill="#2e83f9" d="M2986 1308l68-55 53-30-68 57z"/>
<path fill="#fec03b" d="M4347 422l68-27 53-16-68 28z"/>
<path fill="#01b9c7" d="M3400 1008l67-79 53-19-67 80z"/>
<path fill="#76cc61" d="M3814 716l67-72 53-16-68 73z"/>
<path fill="#4848ec" d="M2573 1555l53-35 67-28-53 41z"/>
<path fill="#feca33" d="M4468 379l67-20 53-16-68 21z"/>
<path fill="#fad52e" d="M4588 343l53-15 67-13-52 16z"/>
<path fill="#f7db2a" d="M4708 315l53-15 68-4-53 15z"/>
<path fill="#f9fb15" d="M6392 191l53-16 67 13-52 15z"/>
<path fill="#f9f916" d="M6272 194l53-15 67 12-53 15z"/>
<path fill="#f5e128" d="M4829 296l52-16 68-1-53 15z"/>
<path fill="#2895ec" d="M3107 1223l67-68 53-27-68 70z"/>
<path fill="#f9f916" d="M6152 198l52-15 68 11-53 15z"/>
<path fill="#f8f818" d="M6031 203l53-15 68 10-53 16z"/>
<path fill="#4757f7" d="M2693 1492l53-36 67-37-52 42z"/>
<path fill="#f5e626" d="M4949 279l53-15 67 1-53 15z"/>
<path fill="#f8f619" d="M5911 209l53-15 67 9-52 16z"/>
<path fill="#f7f51b" d="M5791 215l53-16 67 10-53 15z"/>
<path fill="#f7f41c" d="M5671 221l52-15 68 9-53 15z"/>
<path fill="#f5e924" d="M5069 265l53-16 67 3-52 16z"/>
<path fill="#f6f21e" d="M5550 228l53-16 68 9-53 15z"/>
<path fill="#f5ec22" d="M5189 252l53-15 68 5-53 16z"/>
<path fill="#f6f11f" d="M5430 234l53-15 67 9-53 15z"/>
<path fill="#f6ef20" d="M5310 242l52-15 68 7-53 16z"/>
<path fill="#aec637" d="M3934 628l67-64 53-16-67 65z"/>
<path fill="#29c3aa" d="M3520 910l68-73 53-17-68 73z"/>
<path fill="#426afe" d="M2813 1419l53-35 68-43-53 40z"/>
<path fill="#d9be28" d="M4054 548l68-46 52-16-67 47z"/>
<path fill="#1da9e0" d="M3227 1128l67-76 53-24-67 78z"/>
<path fill="#4332ca" d="M2039 1672l53-17 67 9-53 18z"/>
<path fill="#4433cd" d="M2159 1664l53-18 67 6-52 20z"/>
<path fill="#4331c8" d="M1919 1677l52-17 68 12-53 17zm-121 3l53-15 68 12-53 16z"/>
<path fill="#4535d2" d="M2279 1652l53-21 68-2-53 26z"/>
<path fill="#45cb89" d="M3641 820l67-71 53-17-68 72z"/>
<path fill="#4330c5" d="M1678 1681l53-14 67 13-52 15zm-120 1l53-14 67 13-53 15zm-121 1l53-15 68 14-53 14z"/>
<path fill="#f1ba37" d="M4174 486l68-33 53-15-68 33z"/>
<path fill="#463adb" d="M2400 1629l52-28 68-11-53 34z"/>
<path fill="#4330c5" d="M1317 1684l53-15 67 14-52 15z"/>
<path fill="#422fc2" d="M1197 1688l53-17 67 13-53 18zm-120 6l52-19 68 13-53 19z"/>
<path fill="#422ebf" d="M956 1700l53-20 68 14-53 20z"/>
<path fill="#412cba" d="M836 1708l53-21 67 13-52 21z"/>
<path fill="#317dfc" d="M2934 1341l67-51 53-37-68 55z"/>
<path fill="#fec03b" d="M4295 438l67-28 53-15-68 27z"/>
<path fill="#4744e8" d="M2520 1590l53-35 67-22-52 42z"/>
<path fill="#01b8c9" d="M3347 1028l68-78 52-21-67 79z"/>
<path fill="#76cc61" d="M3761 732l67-72 53-16-67 72z"/>
<path fill="#feca33" d="M4415 395l67-21 53-15-67 20z"/>
<path fill="#fbd32e" d="M4535 359l53-16 68-12-53 15z"/>
<path fill="#4852f4" d="M2640 1533l53-41 68-31-53 48z"/>
<path fill="#f9fb15" d="M6460 203l52-15 68 13-53 15z"/>
<path fill="#2a93ee" d="M3054 1253l67-65 53-33-67 68z"/>
<path fill="#f7db2a" d="M4656 331l52-16 68-4-53 15z"/>
<path fill="#f9fb15" d="M6339 206l53-15 68 12-53 15z"/>
<path fill="#f9f916" d="M6219 209l53-15 67 12-52 15z"/>
<path fill="#f6e028" d="M4776 311l53-15 67-2-53 16z"/>
<path fill="#f9f916" d="M6099 214l53-16 67 11-53 16z"/>
<path fill="#f8f818" d="M5979 219l52-16 68 11-53 15z"/>
<path fill="#f5e526" d="M4896 294l53-15 67 1-52 15z"/>
<path fill="#f8f619" d="M5858 224l53-15 68 10-53 15z"/>
<path fill="#f7f51b" d="M5738 230l53-15 67 9-52 15z"/>
<path fill="#f7f41c" d="M5618 236l53-15 67 9-53 15z"/>
<path fill="#f5e924" d="M5016 280l53-15 68 3-53 15z"/>
<path fill="#f6f21e" d="M5497 243l53-15 68 8-53 15z"/>
<path fill="#f5ec22" d="M5137 268l52-16 68 6-53 15z"/>
<path fill="#f6f11f" d="M5377 250l53-16 67 9-52 15z"/>
<path fill="#f5ee21" d="M5257 258l53-16 67 8-53 15z"/>
<path fill="#abc739" d="M3881 644l68-64 52-16-67 64z"/>
<path fill="#27c2ac" d="M3467 929l68-72 53-20-68 73z"/>
<path fill="#4562fc" d="M2761 1461l52-42 68-38-53 47z"/>
<path fill="#d6be28" d="M4001 564l68-47 53-15-68 46z"/>
<path fill="#1ea7e1" d="M3174 1155l68-74 52-29-67 76z"/>
<path fill="#4331c8" d="M1986 1689l53-17 67 10-52 19z"/>
<path fill="#4332ca" d="M2106 1682l53-18 68 8-53 20z"/>
<path fill="#4331c8" d="M1866 1693l53-16 67 12-53 16z"/>
<path fill="#4434d0" d="M2227 1672l52-20 68 3-53 23z"/>
<path fill="#4330c5" d="M1746 1695l52-15 68 13-53 15z"/>
<path fill="#42ca8b" d="M3588 837l67-70 53-18-67 71z"/>
<path fill="#4330c5" d="M1625 1696l53-15 68 14-53 14z"/>
<path fill="#4538d7" d="M2347 1655l53-26 67-5-53 30z"/>
<path fill="#4330c5" d="M1505 1696l53-14 67 14-52 14zm-120 2l52-15 68 13-53 16z"/>
<path fill="#3677fe" d="M2881 1381l53-40 67-51-53 44z"/>
<path fill="#f1ba37" d="M4122 502l67-33 53-16-68 33z"/>
<path fill="#422fc2" d="M1264 1702l53-18 68 14-53 18zm-120 5l53-19 67 14-52 19z"/>
<path fill="#422ebf" d="M1024 1714l53-20 67 13-53 21z"/>
<path fill="#412cba" d="M904 1721l52-21 68 14-53 21z"/>
<path fill="#473ee1" d="M2467 1624l53-34 68-15-53 40z"/>
<path fill="#febe3c" d="M4242 453l67-27 53-16-67 28z"/>
<path fill="#02b7ca" d="M3294 1052l68-77 53-25-68 78z"/>
<path fill="#76cc61" d="M3708 749l68-72 52-17-67 72z"/>
<path fill="#484bee" d="M2588 1575l52-42 68-24-53 48z"/>
<path fill="#feca33" d="M4362 410l68-21 52-15-67 21z"/>
<path fill="#2c8ef2" d="M3001 1290l68-62 52-40-67 65z"/>
<path fill="#fbd32e" d="M4482 374l53-15 68-13-53 15z"/>
<path fill="#f9fb15" d="M6407 218l53-15 67 13-53 15z"/>
<path fill="#f7db2a" d="M4603 346l53-15 67-5-53 15z"/>
<path fill="#f9fb15" d="M6287 221l52-15 68 12-53 15z"/>
<path fill="#f9f916" d="M6166 225l53-16 68 12-53 15z"/>
<path fill="#f6e028" d="M4723 326l53-15 67-1-52 15z"/>
<path fill="#f8f818" d="M6046 229l53-15 67 11-52 15zm-120 5l53-15 67 10-53 15z"/>
<path fill="#f5e526" d="M4843 310l53-16 68 1-53 15z"/>
<path fill="#f8f619" d="M5806 239l52-15 68 10-53 15z"/>
<path fill="#f7f51b" d="M5685 245l53-15 68 9-53 15z"/>
<path fill="#f7f41c" d="M5565 251l53-15 67 9-52 15z"/>
<path fill="#f5e924" d="M4964 295l52-15 68 3-53 15z"/>
<path fill="#f6f21e" d="M5445 258l52-15 68 8-53 16z"/>
<path fill="#475af9" d="M2708 1509l53-48 67-33-53 53z"/>
<path fill="#f5ec22" d="M5084 283l53-15 67 5-53 15z"/>
<path fill="#f6f11f" d="M5324 265l53-15 68 8-53 15z"/>
<path fill="#abc739" d="M3828 660l68-64 53-16-68 64z"/>
<path fill="#f5ee21" d="M5204 273l53-15 67 7-52 15z"/>
<path fill="#25c2ae" d="M3415 950l67-71 53-22-68 72z"/>
<path fill="#22a2e4" d="M3121 1188l68-72 53-35-68 74z"/>
<path fill="#d6be28" d="M3949 580l67-47 53-16-68 47z"/>
<path fill="#4332ca" d="M2054 1701l52-19 68 10-53 20z"/>
<path fill="#4331c8" d="M1933 1705l53-16 68 12-53 17z"/>
<path fill="#4433cd" d="M2174 1692l53-20 67 6-53 23z"/>
<path fill="#3f6eff" d="M2828 1428l53-47 67-47-52 53z"/>
<path fill="#4330c5" d="M1813 1708l53-15 67 12-52 16z"/>
<path fill="#40ca8d" d="M3535 857l68-70 52-20-67 70z"/>
<path fill="#4330c5" d="M1693 1709l53-14 67 13-53 15z"/>
<path fill="#4535d2" d="M2294 1678l53-23 67-1-52 28z"/>
<path fill="#4330c5" d="M1573 1710l52-14 68 13-53 15zm-121 2l53-16 68 14-53 16z"/>
<path fill="#422fc2" d="M1332 1716l53-18 67 14-53 17zm-120 5l52-19 68 14-53 19z"/>
<path fill="#463adb" d="M2414 1654l53-30 68-9-53 37z"/>
<path fill="#f1ba37" d="M4069 517l67-33 53-15-67 33z"/>
<path fill="#412dbd" d="M1091 1728l53-21 68 14-53 20z"/>
<path fill="#412cba" d="M971 1735l53-21 67 14-52 20z"/>
<path fill="#06b5cf" d="M3242 1081l67-75 53-31-68 77z"/>
<path fill="#febe3c" d="M4189 469l68-28 52-15-67 27z"/>
<path fill="#4744e8" d="M2535 1615l53-40 67-18-53 47z"/>
<path fill="#72cd64" d="M3655 767l68-71 53-19-68 72z"/>
<path fill="#2e86f8" d="M2948 1334l53-44 68-62-53 50z"/>
<path fill="#feca33" d="M4309 426l68-21 53-16-68 21z"/>
<path fill="#fbd32e" d="M4430 389l52-15 68-13-53 16z"/>
<path fill="#4852f4" d="M2655 1557l53-48 67-28-52 56z"/>
<path fill="#f9fb15" d="M6354 233l53-15 67 13-52 16z"/>
<path fill="#f7db2a" d="M4550 361l53-15 67-5-52 16z"/>
<path fill="#f9f916" d="M6234 236l53-15 67 12-53 16zm-120 4l52-15 68 11-53 16z"/>
<path fill="#f6e028" d="M4670 341l53-15 68-1-53 15z"/>
<path fill="#f8f818" d="M5993 244l53-15 68 11-53 15z"/>
<path fill="#f8f619" d="M5873 249l53-15 67 10-52 15z"/>
<path fill="#f5e526" d="M4791 325l52-15 68 0-53 16z"/>
<path fill="#f8f619" d="M5753 254l53-15 67 10-53 15z"/>
<path fill="#20c1b1" d="M3362 975l67-70 53-26-67 71z"/>
<path fill="#f7f51b" d="M5633 260l52-15 68 9-53 16z"/>
<path fill="#f7f41c" d="M5512 267l53-16 68 9-53 16z"/>
<path fill="#f5e825" d="M4911 310l53-15 67 3-53 15z"/>
<path fill="#f6f21e" d="M5392 273l53-15 67 9-53 15z"/>
<path fill="#abc739" d="M3776 677l67-63 53-18-68 64z"/>
<path fill="#f5eb23" d="M5031 298l53-15 67 5-52 15z"/>
<path fill="#f6ef20" d="M5272 280l52-15 68 8-53 15z"/>
<path fill="#f5ee21" d="M5151 288l53-15 68 7-53 15z"/>
<path fill="#249ee6" d="M3069 1228l67-67 53-45-68 72z"/>
<path fill="#4564fd" d="M2775 1481l53-53 68-41-53 61z"/>
<path fill="#d6be28" d="M3896 596l67-46 53-17-67 47z"/>
<path fill="#4331c8" d="M2001 1718l53-17 67 11-53 18z"/>
<path fill="#4332ca" d="M2121 1712l53-20 67 9-52 21z"/>
<path fill="#4331c8" d="M1881 1721l52-16 68 13-53 16z"/>
<path fill="#4434d0" d="M2241 1701l53-23 68 4-53 26z"/>
<path fill="#3eca90" d="M3482 879l68-69 53-23-68 70z"/>
<path fill="#4330c5" d="M1760 1723l53-15 68 13-53 15zm-120 1l53-15 67 14-52 14z"/>
<path fill="#4538d7" d="M2362 1682l52-28 68-2-53 32z"/>
<path fill="#4330c5" d="M1520 1726l53-16 67 14-53 15z"/>
<path fill="#422fc2" d="M1399 1729l53-17 68 14-53 17zm-120 6l53-19 67 13-52 19z"/>
<path fill="#412dbd" d="M1159 1741l53-20 67 14-53 20z"/>
<path fill="#412cba" d="M1039 1748l52-20 68 13-53 21z"/>
<path fill="#efba35" d="M4016 533l68-32 52-17-67 33z"/>
<path fill="#473ee1" d="M2482 1652l53-37 67-11-52 43z"/>
<path fill="#10b2d5" d="M3189 1116l67-71 53-39-67 75z"/>
<path fill="#317dfc" d="M2896 1387l52-53 68-56-53 60z"/>
<path fill="#febe3c" d="M4136 484l68-27 53-16-68 28z"/>
<path fill="#6ecd66" d="M3603 787l67-71 53-20-68 71z"/>
<path fill="#4849ed" d="M2602 1604l53-47 68-20-53 54z"/>
<path fill="#fec834" d="M4257 441l67-20 53-16-68 21z"/>
<path fill="#fbd32e" d="M4377 405l53-16 67-12-53 15z"/>
<path fill="#f9fb15" d="M6301 249l53-16 68 14-53 15z"/>
<path fill="#f8d92b" d="M4497 377l53-16 68-4-53 15z"/>
<path fill="#f9f916" d="M6181 252l53-16 67 13-52 15z"/>
<path fill="#17bfb6" d="M3309 1006l68-68 52-33-67 70z"/>
<path fill="#f9f916" d="M6061 255l53-15 67 12-53 15z"/>
<path fill="#f6e028" d="M4618 357l52-16 68-1-53 16z"/>
<path fill="#f8f818" d="M5941 259l52-15 68 11-53 15z"/>
<path fill="#f8f619" d="M5820 264l53-15 68 10-53 16z"/>
<path fill="#f5e526" d="M4738 340l53-15 67 1-53 15z"/>
<path fill="#f7f51b" d="M5700 270l53-16 67 10-52 16z"/>
<path fill="#2797eb" d="M3016 1278l53-50 67-67-53 55z"/>
<path fill="#f7f41c" d="M5580 276l53-16 67 10-53 15z"/>
<path fill="#a7c73c" d="M3723 696l67-63 53-19-67 63z"/>
<path fill="#f5e825" d="M4858 326l53-16 67 3-52 16z"/>
<path fill="#f6f21e" d="M5459 282l53-15 68 9-53 15z"/>
<path fill="#475af9" d="M2723 1537l52-56 68-33-53 64z"/>
<path fill="#f6f11f" d="M5339 288l53-15 67 9-52 15z"/>
<path fill="#f5eb23" d="M4978 313l53-15 68 5-53 16z"/>
<path fill="#f6ef20" d="M5219 295l53-15 67 8-53 16z"/>
<path fill="#f5ee21" d="M5099 303l52-15 68 7-53 16z"/>
<path fill="#d3bf27" d="M3843 614l68-46 52-18-67 46z"/>
<path fill="#4331c8" d="M2068 1730l53-18 68 10-53 20zm-120 4l53-16 67 12-52 17z"/>
<path fill="#4433cd" d="M2189 1722l52-21 68 7-53 24z"/>
<path fill="#3ac994" d="M3429 905l68-68 53-27-68 69z"/>
<path fill="#4330c5" d="M1828 1736l53-15 67 13-53 15z"/>
<path fill="#4535d2" d="M2309 1708l53-26 67 2-53 30z"/>
<path fill="#4330c5" d="M1708 1737l52-14 68 13-53 15zm-121 2l53-15 68 13-53 16z"/>
<path fill="#3c71ff" d="M2843 1448l53-61 67-49-53 68z"/>
<path fill="#422fc2" d="M1467 1743l53-17 67 13-52 18zm-120 5l52-19 68 14-53 19z"/>
<path fill="#412dbd" d="M1226 1755l53-20 68 13-53 20z"/>
<path fill="#412cba" d="M1106 1762l53-21 67 14-52 21z"/>
<path fill="#463adb" d="M2429 1684l53-32 68-5-53 38z"/>
<path fill="#19addb" d="M3136 1161l68-68 52-48-67 71z"/>
<path fill="#efba35" d="M3963 550l68-32 53-17-68 32z"/>
<path fill="#4742e6" d="M2550 1647l52-43 68-13-53 50z"/>
<path fill="#febe3c" d="M4084 501l67-27 53-17-68 27z"/>
<path fill="#67cd6c" d="M3550 810l67-70 53-24-67 71z"/>
<path fill="#fec834" d="M4204 457l53-16 67-20-53 16z"/>
<path fill="#2d8cf3" d="M2963 1338l53-60 67-62-52 66z"/>
<path fill="#4850f3" d="M2670 1591l53-54 67-25-53 62z"/>
<path fill="#fbd22f" d="M4324 421l53-16 67-13-52 16z"/>
<path fill="#0abdbd" d="M3256 1045l68-66 53-41-68 68z"/>
<path fill="#f9f916" d="M6249 264l52-15 68 13-53 15z"/>
<path fill="#f8d92b" d="M4444 392l53-15 68-5-53 16z"/>
<path fill="#f9f916" d="M6128 267l53-15 68 12-53 15z"/>
<path fill="#f8f818" d="M6008 270l53-15 67 12-52 15z"/>
<path fill="#f6e028" d="M4565 372l53-15 67-1-53 15z"/>
<path fill="#f8f818" d="M5888 275l53-16 67 11-53 16z"/>
<path fill="#f8f619" d="M5768 280l52-16 68 11-53 15z"/>
<path fill="#f5e327" d="M4685 356l53-16 67 1-52 15z"/>
<path fill="#a4c83e" d="M3670 716l68-62 52-21-67 63z"/>
<path fill="#f7f51b" d="M5647 285l53-15 68 10-53 15z"/>
<path fill="#f7f41c" d="M5527 291l53-15 67 9-52 15z"/>
<path fill="#f5e825" d="M4805 341l53-15 68 3-53 15z"/>
<path fill="#f6f21e" d="M5407 297l52-15 68 9-53 15z"/>
<path fill="#f6f11f" d="M5286 304l53-16 68 9-53 15z"/>
<path fill="#f5eb23" d="M4926 329l52-16 68 6-53 15z"/>
<path fill="#f6ef20" d="M5166 311l53-16 67 9-52 15z"/>
<path fill="#f5ee21" d="M5046 319l53-16 67 8-53 15z"/>
<path fill="#4564fd" d="M2790 1512l53-64 67-42-52 73z"/>
<path fill="#35c79b" d="M3377 938l67-67 53-34-68 68z"/>
<path fill="#d0bf27" d="M3790 633l68-46 53-19-68 46z"/>
<path fill="#4332ca" d="M2136 1742l53-20 67 10-53 21z"/>
<path fill="#4331c8" d="M2016 1747l52-17 68 12-53 17z"/>
<path fill="#1fa6e2" d="M3083 1216l53-55 68-68-53 60z"/>
<path fill="#4330c5" d="M1895 1749l53-15 68 13-53 16z"/>
<path fill="#4433cd" d="M2256 1732l53-24 67 6-52 27z"/>
<path fill="#4330c5" d="M1775 1751l53-15 67 13-52 15zm-120 2l53-16 67 14-53 16z"/>
<path fill="#4537d5" d="M2376 1714l53-30 68 1-53 34z"/>
<path fill="#422fc2" d="M1535 1757l52-18 68 14-53 18zm-121 5l53-19 68 14-53 19z"/>
<path fill="#412dbd" d="M1294 1768l53-20 67 14-53 20z"/>
<path fill="#412cba" d="M1174 1776l52-21 68 13-53 21z"/>
<path fill="#ecba33" d="M3911 568l67-32 53-18-68 32z"/>
<path fill="#463ddf" d="M2497 1685l53-38 67-6-53 43z"/>
<path fill="#307ffb" d="M2910 1406l53-68 68-56-53 77z"/>
<path fill="#fdbd3d" d="M4031 518l67-27 53-17-67 27z"/>
<path fill="#61cd72" d="M3497 837l68-68 52-29-67 70z"/>
<path fill="#4848ec" d="M2617 1641l53-50 67-17-52 57z"/>
<path fill="#01b9c7" d="M3204 1093l67-63 53-51-68 66z"/>
<path fill="#fec834" d="M4151 474l53-17 67-20-52 16z"/>
<path fill="#fbd22f" d="M4271 437l53-16 68-13-53 16z"/>
<path fill="#f9f916" d="M6196 279l53-15 67 13-53 15z"/>
<path fill="#f8d92b" d="M4392 408l52-16 68-4-53 16z"/>
<path fill="#f9f916" d="M6076 282l52-15 68 12-53 15z"/>
<path fill="#f8f818" d="M5955 286l53-16 68 12-53 15z"/>
<path fill="#f6de29" d="M4512 388l53-16 67-1-52 16z"/>
<path fill="#9dc943" d="M3617 740l68-61 53-25-68 62z"/>
<path fill="#4757f7" d="M2737 1574l53-62 68-33-53 72z"/>
<path fill="#f8f818" d="M5835 290l53-15 67 11-52 15z"/>
<path fill="#f8f619" d="M5715 295l53-15 67 10-53 15z"/>
<path fill="#f5e327" d="M4632 371l53-15 68 0-53 16z"/>
<path fill="#f7f51b" d="M5595 300l52-15 68 10-53 15z"/>
<path fill="#f7f41c" d="M5474 306l53-15 68 9-53 15z"/>
<path fill="#f5e825" d="M4753 356l52-15 68 3-53 15z"/>
<path fill="#f6f21e" d="M5354 312l53-15 67 9-53 15z"/>
<path fill="#f6f11f" d="M5234 319l52-15 68 8-53 16z"/>
<path fill="#f5eb23" d="M4873 344l53-15 67 5-53 15z"/>
<path fill="#f6ef20" d="M5113 326l53-15 68 8-53 15z"/>
<path fill="#f5ec22" d="M4993 334l53-15 67 7-52 15z"/>
<path fill="#259be8" d="M3031 1282l52-66 68-63-53 73z"/>
<path fill="#2ec4a4" d="M3324 979l67-64 53-44-67 67z"/>
<path fill="#cdc028" d="M3738 654l67-45 53-22-68 46z"/>
<path fill="#4331c8" d="M2083 1759l53-17 67 11-52 19z"/>
<path fill="#4332ca" d="M2203 1753l53-21 68 9-53 22z"/>
<path fill="#4330c5" d="M1963 1763l53-16 67 12-53 17zm-120 1l52-15 68 14-53 15z"/>
<path fill="#4434d0" d="M2324 1741l52-27 68 5-53 29z"/>
<path fill="#4330c5" d="M1722 1767l53-16 68 13-53 16z"/>
<path fill="#422fc2" d="M1602 1771l53-18 67 14-52 17zm-120 5l53-19 67 14-53 18z"/>
<path fill="#3e70ff" d="M2858 1479l52-73 68-47-53 83z"/>
<path fill="#412dbd" d="M1361 1782l53-20 68 14-53 20z"/>
<path fill="#412cba" d="M1241 1789l53-21 67 14-52 21z"/>
<path fill="#4639d9" d="M2444 1719l53-34 67-1-52 39z"/>
<path fill="#eaba31" d="M3858 587l67-32 53-19-67 32z"/>
<path fill="#4741e5" d="M2564 1684l53-43 68-10-53 50z"/>
<path fill="#57cc7a" d="M3444 871l68-66 53-36-68 68z"/>
<path fill="#0db3d4" d="M3151 1153l53-60 67-63-53 65z"/>
<path fill="#fcbc3d" d="M3978 536l68-27 52-18-67 27z"/>
<path fill="#fec735" d="M4098 491l53-17 68-21-53 17z"/>
<path fill="#484ef1" d="M2685 1631l52-57 68-23-53 66z"/>
<path fill="#fbd22f" d="M4219 453l52-16 68-13-53 17z"/>
<path fill="#2c8ef2" d="M2978 1359l53-77 67-56-53 86z"/>
<path fill="#f9f916" d="M6143 294l53-15 67 13-52 16z"/>
<path fill="#f8d92b" d="M4339 424l53-16 67-4-53 16z"/>
<path fill="#93ca4b" d="M3565 769l67-60 53-30-68 61z"/>
<path fill="#f9f916" d="M6023 297l53-15 67 12-53 16z"/>
<path fill="#f8f818" d="M5903 301l52-15 68 11-53 15z"/>
<path fill="#f6de29" d="M4459 404l53-16 68-1-53 16z"/>
<path fill="#f8f619" d="M5782 305l53-15 68 11-53 15zm-120 5l53-15 67 10-52 15z"/>
<path fill="#f5e327" d="M4580 387l52-16 68 1-53 16z"/>
<path fill="#f7f51b" d="M5542 315l53-15 67 10-53 15z"/>
<path fill="#f7f41c" d="M5421 321l53-15 68 9-53 16z"/>
<path fill="#f5e626" d="M4700 372l53-16 67 3-53 16z"/>
<path fill="#f6f21e" d="M5301 328l53-16 67 9-52 16z"/>
<path fill="#f6f11f" d="M5181 334l53-15 67 9-53 15z"/>
<path fill="#f5eb23" d="M4820 359l53-15 67 5-52 16z"/>
<path fill="#f6ef20" d="M5061 341l52-15 68 8-53 16z"/>
<path fill="#f5ec22" d="M4940 349l53-15 68 7-53 16z"/>
<path fill="#20c1b1" d="M3271 1030l53-51 67-64-52 54z"/>
<path fill="#4561fc" d="M2805 1551l53-72 67-37-53 82z"/>
<path fill="#c8c129" d="M3685 679l67-45 53-25-67 45z"/>
<path fill="#4331c8" d="M2151 1772l52-19 68 10-53 20zm-121 4l53-17 68 13-53 17z"/>
<path fill="#4433cd" d="M2271 1763l53-22 67 7-53 25z"/>
<path fill="#4330c5" d="M1910 1778l53-15 67 13-52 16zm-120 2l53-16 67 14-53 16z"/>
<path fill="#4535d2" d="M2391 1748l53-29 68 4-53 33z"/>
<path fill="#422fc2" d="M1670 1784l52-17 68 13-53 18zm-121 5l53-18 68 13-53 19z"/>
<path fill="#412dbd" d="M1429 1796l53-20 67 13-52 20z"/>
<path fill="#412cba" d="M1309 1803l52-21 68 14-53 21z"/>
<path fill="#1da9e0" d="M3098 1226l53-73 67-58-52 79z"/>
<path fill="#463bde" d="M2512 1723l52-39 68-3-53 44z"/>
<path fill="#e8bb2f" d="M3805 609l68-32 52-22-67 32z"/>
<path fill="#48cb86" d="M3391 915l68-65 53-45-68 66z"/>
<path fill="#317dfc" d="M2925 1442l53-83 67-47-52 92z"/>
<path fill="#4745e9" d="M2632 1681l53-50 67-14-53 58z"/>
<path fill="#fabb3d" d="M3925 555l68-26 53-20-68 27z"/>
<path fill="#fec537" d="M4046 509l52-18 68-21-53 19z"/>
<path fill="#fcd030" d="M4166 470l53-17 67-12-53 17z"/>
<path fill="#88cb53" d="M3512 805l67-59 53-37-67 60z"/>
<path fill="#08bcbf" d="M3218 1095l53-65 68-61-53 69z"/>
<path fill="#4854f6" d="M2752 1617l53-66 67-27-52 76z"/>
<path fill="#f9f916" d="M6090 310l53-16 68 14-53 15z"/>
<path fill="#f9d82c" d="M4286 441l53-17 67-4-52 17z"/>
<path fill="#f8f818" d="M5970 312l53-15 67 13-52 15zm-120 4l53-15 67 11-53 16z"/>
<path fill="#f6de29" d="M4406 420l53-16 68-1-53 16z"/>
<path fill="#f8f619" d="M5730 320l52-15 68 11-53 15z"/>
<path fill="#f7f51b" d="M5609 325l53-15 68 10-53 16z"/>
<path fill="#f5e327" d="M4527 403l53-16 67 1-53 16z"/>
<path fill="#f7f51b" d="M5489 331l53-16 67 10-52 15z"/>
<path fill="#f7f41c" d="M5369 337l52-16 68 10-53 15z"/>
<path fill="#f5e626" d="M4647 388l53-16 67 3-52 16z"/>
<path fill="#f6f21e" d="M5248 343l53-15 68 9-53 15z"/>
<path fill="#f6ef20" d="M5128 350l53-16 67 9-52 15z"/>
<path fill="#f5e924" d="M4767 375l53-16 68 6-53 15z"/>
<path fill="#f5ee21" d="M5008 357l53-16 67 9-53 15z"/>
<path fill="#f5ec22" d="M4888 365l52-16 68 8-53 15z"/>
<path fill="#269ae8" d="M3045 1312l53-86 68-52-53 93z"/>
<path fill="#bec32e" d="M3632 709l68-44 52-31-67 45z"/>
<path fill="#4332ca" d="M2218 1783l53-20 67 10-52 22z"/>
<path fill="#4331c8" d="M2098 1789l53-17 67 11-53 19z"/>
<path fill="#4330c5" d="M1978 1792l52-16 68 13-53 16z"/>
<path fill="#4433cd" d="M2338 1773l53-25 68 8-53 27z"/>
<path fill="#4330c5" d="M1857 1794l53-16 68 14-53 16z"/>
<path fill="#416bfe" d="M2872 1524l53-82 68-38-53 92z"/>
<path fill="#422fc2" d="M1737 1798l53-18 67 14-52 18z"/>
<path fill="#422ebf" d="M1617 1803l53-19 67 14-53 19z"/>
<path fill="#36c899" d="M3339 969l52-54 68-65-53 58z"/>
<path fill="#4537d5" d="M2459 1756l53-33 67 2-53 37z"/>
<path fill="#412dbd" d="M1497 1809l52-20 68 14-53 20z"/>
<path fill="#412cba" d="M1376 1817l53-21 68 13-53 21z"/>
<path fill="#e3bc2c" d="M3752 634l53-25 68-32-53 26z"/>
<path fill="#463ddf" d="M2579 1725l53-44 67-6-52 50z"/>
<path fill="#f9bb3d" d="M3873 577l52-22 68-26-53 22z"/>
<path fill="#0bb3d2" d="M3166 1174l52-79 68-57-53 86z"/>
<path fill="#4849ed" d="M2699 1675l53-58 68-17-53 67z"/>
<path fill="#fec438" d="M3993 529l53-20 67-20-53 20z"/>
<path fill="#72cd64" d="M3459 850l53-45 67-59-52 48z"/>
<path fill="#2d8af5" d="M2993 1404l52-92 68-45-53 101z"/>
<path fill="#fcce31" d="M4113 489l53-19 67-12-52 19z"/>
<path fill="#f9d82c" d="M4233 458l53-17 68-4-53 17z"/>
<path fill="#f9f916" d="M6038 325l52-15 68 13-53 15z"/>
<path fill="#f8f818" d="M5917 328l53-16 68 13-53 15z"/>
<path fill="#f7dd2a" d="M4354 437l52-17 68-1-53 17z"/>
<path fill="#f8f818" d="M5797 331l53-15 67 12-52 15z"/>
<path fill="#f8f619" d="M5677 336l53-16 67 11-53 16z"/>
<path fill="#f7f51b" d="M5557 340l52-15 68 11-53 15z"/>
<path fill="#f5e128" d="M4474 419l53-16 67 1-52 16z"/>
<path fill="#f7f41c" d="M5436 346l53-15 68 9-53 16z"/>
<path fill="#475bfa" d="M2820 1600l52-76 68-28-53 86z"/>
<path fill="#f6f21e" d="M5316 352l53-15 67 9-53 15z"/>
<path fill="#f5e626" d="M4594 404l53-16 68 3-53 16z"/>
<path fill="#f6f11f" d="M5196 358l52-15 68 9-53 15z"/>
<path fill="#f6ef20" d="M5075 365l53-15 68 8-53 16z"/>
<path fill="#f5e924" d="M4715 391l52-16 68 5-53 16z"/>
<path fill="#f5ee21" d="M4955 372l53-15 67 8-52 15z"/>
<path fill="#f5ec22" d="M4835 380l53-15 67 7-53 16z"/>
<path fill="#b1c635" d="M3579 746l53-37 68-44-53 39z"/>
<path fill="#29c3aa" d="M3286 1038l53-69 67-61-53 74z"/>
<path fill="#4331c8" d="M2165 1802l53-19 68 12-53 19z"/>
<path fill="#4332ca" d="M2286 1795l52-22 68 10-53 23z"/>
<path fill="#4330c5" d="M2045 1805l53-16 67 13-52 17zm-120 3l53-16 67 13-53 17z"/>
<path fill="#4434d0" d="M2406 1783l53-27 67 6-52 30z"/>
<path fill="#422fc2" d="M1805 1812l52-18 68 14-53 18z"/>
<path fill="#422ebf" d="M1684 1817l53-19 68 14-53 19z"/>
<path fill="#412dbd" d="M1564 1823l53-20 67 14-52 20z"/>
<path fill="#412cba" d="M1444 1830l53-21 67 14-53 21z"/>
<path fill="#1ea7e1" d="M3113 1267l53-93 67-50-53 100z"/>
<path fill="#4639d9" d="M2526 1762l53-37 68 0-53 41z"/>
<path fill="#dbbd29" d="M3700 665l52-31 68-31-53 32z"/>
<path fill="#3876fe" d="M2940 1496l53-92 67-36-53 102z"/>
<path fill="#4741e5" d="M2647 1725l52-50 68-8-53 56z"/>
<path fill="#f5ba3a" d="M3820 603l53-26 67-26-53 27z"/>
<path fill="#57cc7a" d="M3406 908l53-58 68-56-53 61z"/>
<path fill="#fec239" d="M3940 551l53-22 67-20-52 23z"/>
<path fill="#484ff2" d="M2767 1667l53-67 67-18-53 75z"/>
<path fill="#fdcd32" d="M4060 509l53-20 68-12-53 20z"/>
<path fill="#05bbc1" d="M3233 1124l53-86 67-56-52 91z"/>
<path fill="#f9d62d" d="M4181 477l52-19 68-4-53 19z"/>
<path fill="#f8f818" d="M5985 340l53-15 67 13-53 15zm-120 3l52-15 68 12-53 15z"/>
<path fill="#f7dd2a" d="M4301 454l53-17 67-1-53 17z"/>
<path fill="#f8f619" d="M5744 347l53-16 68 12-53 15z"/>
<path fill="#2994ed" d="M3060 1368l53-101 67-43-52 109z"/>
<path fill="#9dc943" d="M3527 794l52-48 68-42-53 49z"/>
<path fill="#f8f619" d="M5624 351l53-15 67 11-52 15z"/>
<path fill="#f5e128" d="M4421 436l53-17 68 1-53 17z"/>
<path fill="#f7f51b" d="M5504 356l53-16 67 11-53 15z"/>
<path fill="#f7f41c" d="M5383 361l53-15 68 10-53 15z"/>
<path fill="#f5e526" d="M4542 420l52-16 68 3-53 16z"/>
<path fill="#f6f21e" d="M5263 367l53-15 67 9-52 16z"/>
<path fill="#f6f11f" d="M5143 374l53-16 67 9-53 16z"/>
<path fill="#f6ef20" d="M5023 380l52-15 68 9-53 15z"/>
<path fill="#f5e924" d="M4662 407l53-16 67 5-53 16z"/>
<path fill="#f5ee21" d="M4902 388l53-16 68 8-53 16z"/>
<path fill="#f5eb23" d="M4782 396l53-16 67 8-52 15z"/>
<path fill="#4564fd" d="M2887 1582l53-86 67-26-52 95z"/>
<path fill="#4331c8" d="M2233 1814l53-19 67 11-53 21z"/>
<path fill="#4330c5" d="M2113 1819l52-17 68 12-53 18z"/>
<path fill="#4332ca" d="M2353 1806l53-23 68 9-53 25z"/>
<path fill="#4330c5" d="M1992 1822l53-17 68 14-53 17z"/>
<path fill="#422fc2" d="M1872 1826l53-18 67 14-52 18z"/>
<path fill="#4535d2" d="M2474 1792l52-30 68 4-53 34z"/>
<path fill="#d0bf27" d="M3647 704l53-39 67-30-53 39z"/>
<path fill="#422ebf" d="M1752 1831l53-19 67 14-53 19z"/>
<path fill="#412dbd" d="M1632 1837l52-20 68 14-53 20z"/>
<path fill="#412cba" d="M1511 1844l53-21 68 14-53 20z"/>
<path fill="#463adb" d="M2594 1766l53-41 67-2-53 47z"/>
<path fill="#3cc992" d="M3353 982l53-74 68-53-53 77z"/>
<path fill="#efba35" d="M3767 635l53-32 67-25-52 32z"/>
<path fill="#14b0d8" d="M3180 1224l53-100 68-51-53 107z"/>
<path fill="#4745e9" d="M2714 1723l53-56 67-10-52 64z"/>
<path fill="#2f80fa" d="M3007 1470l53-102 68-35-53 111z"/>
<path fill="#fec03b" d="M3887 578l53-27 68-19-53 27z"/>
<path fill="#fdcb32" d="M4008 532l52-23 68-12-53 24z"/>
<path fill="#81cc59" d="M3474 855l53-61 67-41-53 63z"/>
<path fill="#4854f6" d="M2834 1657l53-75 68-17-53 84z"/>
<path fill="#fad52e" d="M4128 497l53-20 67-4-53 21z"/>
<path fill="#f8f818" d="M5932 355l53-15 67 13-52 16z"/>
<path fill="#f7db2a" d="M4248 473l53-19 67-1-52 19z"/>
<path fill="#f8f818" d="M5812 358l53-15 67 12-53 16z"/>
<path fill="#f8f619" d="M5692 362l52-15 68 11-53 15zm-121 4l53-15 68 11-53 15z"/>
<path fill="#f6e028" d="M4368 453l53-17 68 1-53 17z"/>
<path fill="#f7f51b" d="M5451 371l53-15 67 10-52 15z"/>
<path fill="#f7f41c" d="M5331 377l52-16 68 10-53 15z"/>
<path fill="#f5e526" d="M4489 437l53-17 67 3-53 17z"/>
<path fill="#f6f21e" d="M5210 383l53-16 68 10-53 15z"/>
<path fill="#f6f11f" d="M5090 389l53-15 67 9-52 15z"/>
<path fill="#f5e825" d="M4609 423l53-16 67 5-52 16z"/>
<path fill="#f6ef20" d="M4970 396l53-16 67 9-53 16z"/>
<path fill="#f5ee21" d="M4850 403l52-15 68 8-53 16z"/>
<path fill="#f5eb23" d="M4729 412l53-16 68 7-53 16z"/>
<path fill="#27c2ac" d="M3301 1073l52-91 68-50-53 97z"/>
<path fill="#bec32e" d="M3594 753l53-49 67-30-52 51z"/>
<path fill="#249fe6" d="M3128 1333l52-109 68-44-53 118z"/>
<path fill="#4331c8" d="M2300 1827l53-21 68 11-53 22z"/>
<path fill="#4330c5" d="M2180 1832l53-18 67 13-52 18zm-120 4l53-17 67 13-53 17z"/>
<path fill="#4433cd" d="M2421 1817l53-25 67 8-53 28z"/>
<path fill="#422fc2" d="M1940 1840l52-18 68 14-53 17z"/>
<path fill="#422ebf" d="M1819 1845l53-19 68 14-53 18z"/>
<path fill="#416bfe" d="M2955 1565l52-95 68-26-53 105z"/>
<path fill="#412dbd" d="M1699 1851l53-20 67 14-52 19z"/>
<path fill="#412cba" d="M1579 1857l53-20 67 14-53 20z"/>
<path fill="#4537d5" d="M2541 1800l53-34 67 4-52 37z"/>
<path fill="#463ddf" d="M2661 1770l53-47 68-2-53 52z"/>
<path fill="#e3bc2c" d="M3714 674l53-39 68-25-53 40z"/>
<path fill="#5acc77" d="M3421 932l53-77 67-39-52 81z"/>
<path fill="#4848ec" d="M2782 1721l52-64 68-8-53 70z"/>
<path fill="#fcbc3d" d="M3835 610l52-32 68-19-53 33z"/>
<path fill="#01b8c9" d="M3248 1180l53-107 67-44-53 113z"/>
<path fill="#2d8af5" d="M3075 1444l53-111 67-35-53 120z"/>
<path fill="#fec735" d="M3955 559l53-27 67-11-53 27z"/>
<path fill="#fbd22f" d="M4075 521l53-24 67-3-52 23z"/>
<path fill="#f8f818" d="M5879 371l53-16 68 14-53 15z"/>
<path fill="#f8d92b" d="M4195 494l53-21 68-1-53 21z"/>
<path fill="#475af9" d="M2902 1649l53-84 67-16-53 91z"/>
<path fill="#f8f818" d="M5759 373l53-15 67 13-52 15z"/>
<path fill="#f8f619" d="M5639 377l53-15 67 11-53 16z"/>
<path fill="#f6de29" d="M4316 472l52-19 68 1-53 20z"/>
<path fill="#f7f51b" d="M5519 381l52-15 68 11-53 15z"/>
<path fill="#a1c840" d="M3541 816l53-63 68-28-53 65z"/>
<path fill="#f7f51b" d="M5398 386l53-15 68 10-53 16z"/>
<path fill="#f5e327" d="M4436 454l53-17 67 3-52 18z"/>
<path fill="#f7f41c" d="M5278 392l53-15 67 9-53 16z"/>
<path fill="#f6f21e" d="M5158 398l52-15 68 9-53 15z"/>
<path fill="#f5e825" d="M4556 440l53-17 68 5-53 17z"/>
<path fill="#f6f11f" d="M5037 405l53-16 68 9-53 16z"/>
<path fill="#f5ee21" d="M4917 412l53-16 67 9-52 16z"/>
<path fill="#f5eb23" d="M4677 428l52-16 68 7-53 17z"/>
<path fill="#f5ec22" d="M4797 419l53-16 67 9-53 16z"/>
<path fill="#4330c5" d="M2248 1845l52-18 68 12-53 19z"/>
<path fill="#4331c8" d="M2368 1839l53-22 67 11-52 23z"/>
<path fill="#4330c5" d="M2127 1849l53-17 68 13-53 18z"/>
<path fill="#422fc2" d="M2007 1853l53-17 67 13-52 18z"/>
<path fill="#4433cd" d="M2488 1828l53-28 68 7-53 30z"/>
<path fill="#422ebf" d="M1887 1858l53-18 67 13-53 19z"/>
<path fill="#412dbd" d="M1767 1864l52-19 68 13-53 20z"/>
<path fill="#412cba" d="M1646 1871l53-20 68 13-53 20z"/>
<path fill="#4538d7" d="M2609 1807l52-37 68 3-53 41z"/>
<path fill="#d3bf27" d="M3662 725l52-51 68-24-53 53z"/>
<path fill="#36c899" d="M3368 1029l53-97 68-35-53 101z"/>
<path fill="#1da8e0" d="M3195 1298l53-118 67-38-52 126z"/>
<path fill="#3b73fe" d="M3022 1549l53-105 67-26-52 114z"/>
<path fill="#473fe3" d="M2729 1773l53-52 67-2-53 57z"/>
<path fill="#f3ba38" d="M3782 650l53-40 67-18-53 41z"/>
<path fill="#484cf0" d="M2849 1719l53-70 67-9-52 77z"/>
<path fill="#fec239" d="M3902 592l53-33 67-11-52 34z"/>
<path fill="#79cc5e" d="M3489 897l52-81 68-26-53 84z"/>
<path fill="#fcce31" d="M4022 548l53-27 68-4-53 28z"/>
<path fill="#f9d62d" d="M4143 517l52-23 68-1-53 24z"/>
<path fill="#2a93ee" d="M3142 1418l53-120 68-30-53 129z"/>
<path fill="#10beba" d="M3315 1142l53-113 68-31-53 119z"/>
<path fill="#f8f818" d="M5827 386l52-15 68 13-53 15z"/>
<path fill="#f8f619" d="M5706 389l53-16 68 13-53 15z"/>
<path fill="#f7dd2a" d="M4263 493l53-21 67 2-53 21z"/>
<path fill="#f8f619" d="M5586 392l53-15 67 12-52 15z"/>
<path fill="#f7f51b" d="M5466 397l53-16 67 11-53 16z"/>
<path fill="#f5e128" d="M4383 474l53-20 68 4-53 19z"/>
<path fill="#f7f41c" d="M5345 402l53-16 68 11-53 15z"/>
<path fill="#4660fb" d="M2969 1640l53-91 68-17-53 100z"/>
<path fill="#f6f21e" d="M5225 407l53-15 67 10-52 15z"/>
<path fill="#f5e626" d="M4504 458l52-18 68 5-53 19z"/>
<path fill="#f6f11f" d="M5105 414l53-16 67 9-53 16z"/>
<path fill="#f6ef20" d="M4985 421l52-16 68 9-53 16z"/>
<path fill="#f5e924" d="M4624 445l53-17 67 8-53 17z"/>
<path fill="#f5ee21" d="M4864 428l53-16 68 9-53 16z"/>
<path fill="#f5ec22" d="M4744 436l53-17 67 9-52 16z"/>
<path fill="#b8c431" d="M3609 790l53-65 67-22-53 67z"/>
<path fill="#4331c8" d="M2315 1858l53-19 68 12-53 20z"/>
<path fill="#4332ca" d="M2436 1851l52-23 68 9-53 25z"/>
<path fill="#4330c5" d="M2195 1863l53-18 67 13-53 19z"/>
<path fill="#422fc2" d="M2075 1867l52-18 68 14-53 18z"/>
<path fill="#422ebf" d="M1954 1872l53-19 68 14-53 19z"/>
<path fill="#4434d0" d="M2556 1837l53-30 67 7-53 33z"/>
<path fill="#412dbd" d="M1834 1878l53-20 67 14-52 20z"/>
<path fill="#412cba" d="M1714 1884l53-20 67 14-53 20z"/>
<path fill="#4639d9" d="M2676 1814l53-41 67 3-52 45z"/>
<path fill="#e3bc2c" d="M3729 703l53-53 67-17-52 54z"/>
<path fill="#48cb86" d="M3436 998l53-101 67-23-53 104z"/>
<path fill="#4742e6" d="M2796 1776l53-57 68-2-53 62z"/>
<path fill="#327cfc" d="M3090 1532l52-114 68-21-53 121z"/>
<path fill="#14b0d8" d="M3263 1268l52-126 68-25-53 131z"/>
<path fill="#fcbc3d" d="M3849 633l53-41 68-10-53 42z"/>
<path fill="#4850f3" d="M2917 1717l52-77 68-8-53 83z"/>
<path fill="#fec834" d="M3970 582l52-34 68-3-53 35z"/>
<path fill="#fbd32e" d="M4090 545l53-28 67 0-53 29z"/>
<path fill="#8fcb4e" d="M3556 874l53-84 67-20-52 86z"/>
<path fill="#f8f818" d="M5774 401l53-15 67 13-53 15z"/>
<path fill="#f8d92b" d="M4210 517l53-24 67 2-52 24z"/>
<path fill="#f8f619" d="M5654 404l52-15 68 12-53 15zm-121 4l53-16 68 12-53 15z"/>
<path fill="#f6e028" d="M4330 495l53-21 68 3-53 22z"/>
<path fill="#f7f51b" d="M5413 412l53-15 67 11-52 15z"/>
<path fill="#f7f41c" d="M5293 417l52-15 68 10-53 16z"/>
<path fill="#f5e526" d="M4451 477l53-19 67 6-53 19z"/>
<path fill="#f6f21e" d="M5172 423l53-16 68 10-53 16z"/>
<path fill="#f6f11f" d="M5052 430l53-16 67 9-52 16z"/>
<path fill="#269ae8" d="M3210 1397l53-129 67-20-53 135z"/>
<path fill="#f5e825" d="M4571 464l53-19 67 8-52 18z"/>
<path fill="#f6ef20" d="M4932 437l53-16 67 9-53 16z"/>
<path fill="#f5eb23" d="M4691 453l53-17 68 8-53 18z"/>
<path fill="#f5ee21" d="M4812 444l52-16 68 9-53 16z"/>
<path fill="#25c2ae" d="M3383 1117l53-119 67-20-52 123z"/>
<path fill="#4465fd" d="M3037 1632l53-100 67-14-53 108z"/>
<path fill="#4331c8" d="M2383 1871l53-20 67 11-53 22z"/>
<path fill="#4330c5" d="M2262 1877l53-19 68 13-53 19z"/>
<path fill="#4332ca" d="M2503 1862l53-25 67 10-52 27z"/>
<path fill="#422fc2" d="M2142 1881l53-18 67 14-52 18z"/>
<path fill="#422ebf" d="M2022 1886l53-19 67 14-53 19z"/>
<path fill="#412dbd" d="M1902 1892l52-20 68 14-53 19z"/>
<path fill="#412cba" d="M1781 1898l53-20 68 14-53 19z"/>
<path fill="#4535d2" d="M2623 1847l53-33 68 7-53 35z"/>
<path fill="#cac129" d="M3676 770l53-67 68-16-53 69z"/>
<path fill="#463adb" d="M2744 1821l52-45 68 3-53 49z"/>
<path fill="#efba35" d="M3797 687l52-54 68-9-53 55z"/>
<path fill="#4744e8" d="M2864 1779l53-62 67-2-53 67z"/>
<path fill="#57cc7a" d="M3503 978l53-104 68-18-53 107z"/>
<path fill="#2f82fa" d="M3157 1518l53-121 67-14-52 128z"/>
<path fill="#06b5cf" d="M3330 1248l53-131 68-16-53 136z"/>
<path fill="#fec13a" d="M3917 624l53-42 67-2-53 43z"/>
<path fill="#4853f5" d="M2984 1715l53-83 67-6-52 89z"/>
<path fill="#fdcd32" d="M4037 580l53-35 67 1-52 35z"/>
<path fill="#f9d62d" d="M4157 546l53-29 68 2-53 29z"/>
<path fill="#f8f619" d="M5721 416l53-15 67 13-52 16z"/>
<path fill="#f7dd2a" d="M4278 519l52-24 68 4-53 25z"/>
<path fill="#f8f619" d="M5601 419l53-15 67 12-53 16z"/>
<path fill="#a4c83e" d="M3624 856l52-86 68-14-53 89z"/>
<path fill="#f7f51b" d="M5481 423l52-15 68 11-53 16z"/>
<path fill="#f5e327" d="M4398 499l53-22 67 6-52 22z"/>
<path fill="#f7f51b" d="M5360 428l53-16 68 11-53 16z"/>
<path fill="#f7f41c" d="M5240 433l53-16 67 11-53 15z"/>
<path fill="#f5e825" d="M4518 483l53-19 68 7-53 20z"/>
<path fill="#f6f21e" d="M5120 439l52-16 68 10-53 16z"/>
<path fill="#f6f11f" d="M4999 446l53-16 68 9-53 16z"/>
<path fill="#f5eb23" d="M4639 471l52-18 68 9-53 18z"/>
<path fill="#f6ef20" d="M4879 453l53-16 67 9-52 16z"/>
<path fill="#f5ec22" d="M4759 462l53-18 67 9-53 18z"/>
<path fill="#23a0e5" d="M3277 1383l53-135 68-11-53 140z"/>
<path fill="#4331c8" d="M2450 1884l53-22 68 12-53 23z"/>
<path fill="#4330c5" d="M2330 1890l53-19 67 13-52 20z"/>
<path fill="#422fc2" d="M2210 1895l52-18 68 13-53 19z"/>
<path fill="#2ec4a4" d="M3451 1101l52-123 68-15-53 127z"/>
<path fill="#4433cd" d="M2571 1874l52-27 68 9-53 29z"/>
<path fill="#422ebf" d="M2089 1900l53-19 68 14-53 19z"/>
<path fill="#426afe" d="M3104 1626l53-108 68-7-53 113z"/>
<path fill="#412dbd" d="M1969 1905l53-19 67 14-52 19z"/>
<path fill="#412cba" d="M1849 1911l53-19 67 13-53 20z"/>
<path fill="#4535d2" d="M2691 1856l53-35 67 7-53 38z"/>
<path fill="#d9be28" d="M3744 756l53-69 67-8-53 72z"/>
<path fill="#463bde" d="M2811 1828l53-49 67 3-52 53z"/>
<path fill="#4746eb" d="M2931 1782l53-67 68 0-53 71z"/>
<path fill="#f7ba3c" d="M3864 679l53-55 67-1-52 57z"/>
<path fill="#2e87f7" d="M3225 1511l52-128 68-6-53 133z"/>
<path fill="#67cd6c" d="M3571 963l53-107 67-11-53 110z"/>
<path fill="#01b8c9" d="M3398 1237l53-136 67-11-53 141z"/>
<path fill="#fec537" d="M3984 623l53-43 68 1-53 45z"/>
<path fill="#4757f7" d="M3052 1715l52-89 68-2-53 94z"/>
<path fill="#fcd030" d="M4105 581l52-35 68 2-53 36z"/>
<path fill="#f8d92b" d="M4225 548l53-29 67 5-53 29z"/>
<path fill="#f8f619" d="M5668 432l53-16 68 14-53 15zm-120 3l53-16 67 13-52 15z"/>
<path fill="#f6e028" d="M4345 524l53-25 68 6-53 25z"/>
<path fill="#f7f51b" d="M5428 439l53-16 67 12-53 15z"/>
<path fill="#f7f41c" d="M5307 443l53-15 68 11-53 15z"/>
<path fill="#f5e526" d="M4466 505l52-22 68 8-53 22z"/>
<path fill="#f6f21e" d="M5187 449l53-16 67 10-52 16z"/>
<path fill="#f5e924" d="M4586 491l53-20 67 9-53 20z"/>
<path fill="#f6f11f" d="M5067 455l53-16 67 10-53 16z"/>
<path fill="#f5eb23" d="M4706 480l53-18 67 9-52 18z"/>
<path fill="#f6ef20" d="M4947 462l52-16 68 9-53 17z"/>
<path fill="#f5ee21" d="M4826 471l53-18 68 9-53 18z"/>
<path fill="#b1c635" d="M3691 845l53-89 67-5-52 91z"/>
<path fill="#4330c5" d="M2398 1904l52-20 68 13-53 20z"/>
<path fill="#4331c8" d="M2518 1897l53-23 67 11-53 24z"/>
<path fill="#422fc2" d="M2277 1909l53-19 68 14-53 19z"/>
<path fill="#422ebf" d="M2157 1914l53-19 67 14-53 19z"/>
<path fill="#4433cd" d="M2638 1885l53-29 67 10-52 30z"/>
<path fill="#412dbd" d="M2037 1919l52-19 68 14-53 19z"/>
<path fill="#412cba" d="M1916 1925l53-20 68 14-53 19z"/>
<path fill="#21a3e3" d="M3345 1377l53-140 67-6-52 144z"/>
<path fill="#3f6eff" d="M3172 1624l53-113 67-1-53 117z"/>
<path fill="#4537d5" d="M2758 1866l53-38 68 7-53 40z"/>
<path fill="#35c79b" d="M3518 1090l53-127 67-8-52 131z"/>
<path fill="#473ee1" d="M2879 1835l52-53 68 4-53 56z"/>
<path fill="#e0bc2b" d="M3811 751l53-72 68 1-53 73z"/>
<path fill="#4849ed" d="M2999 1786l53-71 67 3-53 75z"/>
<path fill="#fabb3d" d="M3932 680l52-57 68 3-53 57z"/>
<path fill="#2d8af5" d="M3292 1510l53-133 68-2-53 137z"/>
<path fill="#76cc61" d="M3638 955l53-110 68-3-53 113z"/>
<path fill="#fec834" d="M4052 626l53-45 67 3-53 46z"/>
<path fill="#03bbc2" d="M3465 1231l53-141 68-4-53 144z"/>
<path fill="#475af9" d="M3119 1718l53-94 67 3-52 97z"/>
<path fill="#fbd32e" d="M4172 584l53-36 67 5-52 37z"/>
<path fill="#f7db2a" d="M4292 553l53-29 68 6-53 31z"/>
<path fill="#f8f619" d="M5616 447l52-15 68 13-53 15z"/>
<path fill="#f7f51b" d="M5495 450l53-15 68 12-53 16z"/>
<path fill="#f5e128" d="M4413 530l53-25 67 8-53 26z"/>
<path fill="#f7f51b" d="M5375 454l53-15 67 11-52 16z"/>
<path fill="#f5e626" d="M4533 513l53-22 67 9-52 22z"/>
<path fill="#f7f41c" d="M5255 459l52-16 68 11-53 16z"/>
<path fill="#f6f21e" d="M5134 465l53-16 68 10-53 17z"/>
<path fill="#f5e924" d="M4653 500l53-20 68 9-53 20z"/>
<path fill="#f6f11f" d="M5014 472l53-17 67 10-52 17z"/>
<path fill="#f5ec22" d="M4774 489l52-18 68 9-53 18z"/>
<path fill="#f6ef20" d="M4894 480l53-18 67 10-53 17z"/>
<path fill="#bbc42f" d="M3759 842l52-91 68 2-53 93z"/>
<path fill="#4330c5" d="M2465 1917l53-20 67 12-52 21z"/>
<path fill="#422fc2" d="M2345 1923l53-19 67 13-53 19z"/>
<path fill="#4331c8" d="M2585 1909l53-24 68 11-53 26z"/>
<path fill="#422ebf" d="M2224 1928l53-19 68 14-53 18z"/>
<path fill="#412dbd" d="M2104 1933l53-19 67 14-52 18z"/>
<path fill="#412cba" d="M1984 1938l53-19 67 14-53 19z"/>
<path fill="#4433cd" d="M2706 1896l52-30 68 9-53 33z"/>
<path fill="#4538d7" d="M2826 1875l53-40 67 7-53 43z"/>
<path fill="#1ea7e1" d="M3413 1375l52-144 68-1-53 148z"/>
<path fill="#3c71ff" d="M3239 1627l53-117 68 2-53 120z"/>
<path fill="#3ac994" d="M3586 1086l52-131 68 0-53 134z"/>
<path fill="#473fe3" d="M2946 1842l53-56 67 7-52 58z"/>
<path fill="#e5bb2d" d="M3879 753l53-73 67 3-53 75z"/>
<path fill="#484bee" d="M3066 1793l53-75 68 6-53 78z"/>
<path fill="#fdbd3d" d="M3999 683l53-57 67 4-52 60z"/>
<path fill="#2c8ef2" d="M3360 1512l53-137 67 3-53 140z"/>
<path fill="#81cc59" d="M3706 955l53-113 67 4-53 116z"/>
<path fill="#feca33" d="M4119 630l53-46 68 6-53 47z"/>
<path fill="#08bcbf" d="M3533 1230l53-144 67 3-53 147z"/>
<path fill="#475bfa" d="M3187 1724l52-97 68 5-53 100z"/>
<path fill="#fad52e" d="M4240 590l52-37 68 8-53 37z"/>
<path fill="#f7dd2a" d="M4360 561l53-31 67 9-52 31z"/>
<path fill="#f8f619" d="M5563 463l53-16 67 13-53 16z"/>
<path fill="#f5e327" d="M4480 539l53-26 68 9-53 27z"/>
<path fill="#f7f51b" d="M5443 466l52-16 68 13-53 15zm-121 4l53-16 68 12-53 16z"/>
<path fill="#f5e825" d="M4601 522l52-22 68 9-53 23z"/>
<path fill="#f7f41c" d="M5202 476l53-17 67 11-53 17z"/>
<path fill="#f5eb23" d="M4721 509l53-20 67 9-53 21z"/>
<path fill="#f6f21e" d="M5082 482l52-17 68 11-53 16z"/>
<path fill="#f5ee21" d="M4841 498l53-18 67 9-52 19z"/>
<path fill="#f6ef20" d="M4961 489l53-17 68 10-53 17z"/>
<path fill="#4330c5" d="M2533 1930l52-21 68 13-53 22z"/>
<path fill="#422fc2" d="M2412 1936l53-19 68 13-53 20z"/>
<path fill="#4331c8" d="M2653 1922l53-26 67 12-53 26z"/>
<path fill="#422ebf" d="M2292 1941l53-18 67 13-52 19z"/>
<path fill="#bec32e" d="M3826 846l53-93 67 5-52 96z"/>
<path fill="#412dbd" d="M2172 1946l52-18 68 13-53 19zm-121 6l53-19 68 13-53 19z"/>
<path fill="#4434d0" d="M2773 1908l53-33 67 10-52 34z"/>
<path fill="#4639d9" d="M2893 1885l53-43 68 9-53 45z"/>
<path fill="#1da9e0" d="M3480 1378l53-148 67 6-52 150z"/>
<path fill="#3b73fe" d="M3307 1632l53-120 67 6-52 123z"/>
<path fill="#3eca90" d="M3653 1089l53-134 67 7-52 136z"/>
<path fill="#473fe3" d="M3014 1851l52-58 68 9-53 60z"/>
<path fill="#eaba31" d="M3946 758l53-75 68 7-53 76z"/>
<path fill="#484cf0" d="M3134 1802l53-78 67 8-53 80z"/>
<path fill="#fec03b" d="M4067 690l52-60 68 7-53 61z"/>
<path fill="#2c8ff1" d="M3427 1518l53-140 68 8-53 142z"/>
<path fill="#84cc56" d="M3773 962l53-116 68 8-53 118z"/>
<path fill="#fdcd32" d="M4187 637l53-47 67 8-53 49z"/>
<path fill="#0abdbd" d="M3600 1236l53-147 68 9-53 150z"/>
<path fill="#465dfa" d="M3254 1732l53-100 68 9-53 102z"/>
<path fill="#f9d62d" d="M4307 598l53-37 68 9-53 38z"/>
<path fill="#f6de29" d="M4428 570l52-31 68 10-53 31z"/>
<path fill="#f7f51b" d="M5510 478l53-15 67 13-52 16z"/>
<path fill="#f5e526" d="M4548 549l53-27 67 10-53 26z"/>
<path fill="#f7f51b" d="M5390 482l53-16 67 12-53 16z"/>
<path fill="#f5e924" d="M4668 532l53-23 67 10-52 23z"/>
<path fill="#f7f41c" d="M5269 487l53-17 68 12-53 16z"/>
<path fill="#f6f21e" d="M5149 492l53-16 67 11-52 16z"/>
<path fill="#f5ec22" d="M4788 519l53-21 68 10-53 21z"/>
<path fill="#f6f11f" d="M5029 499l53-17 67 10-53 18z"/>
<path fill="#f6ef20" d="M4909 508l52-19 68 10-53 19z"/>
<path fill="#4330c5" d="M2600 1944l53-22 67 12-52 23z"/>
<path fill="#422fc2" d="M2480 1950l53-20 67 14-53 20z"/>
<path fill="#422ebf" d="M2360 1955l52-19 68 14-53 19z"/>
<path fill="#4332ca" d="M2720 1934l53-26 68 11-53 28z"/>
<path fill="#412dbd" d="M2239 1960l53-19 68 14-53 19zm-120 5l53-19 67 14-53 19z"/>
<path fill="#c1c32c" d="M3894 854l52-96 68 8-53 99z"/>
<path fill="#4434d0" d="M2841 1919l52-34 68 11-53 35z"/>
<path fill="#4639d9" d="M2961 1896l53-45 67 11-53 46z"/>
<path fill="#1caadf" d="M3548 1386l52-150 68 12-53 152z"/>
<path fill="#3974fe" d="M3375 1641l52-123 68 10-53 125z"/>
<path fill="#3eca90" d="M3721 1098l52-136 68 10-53 139z"/>
<path fill="#4741e5" d="M3081 1862l53-60 67 10-52 61z"/>
<path fill="#ecba33" d="M4014 766l53-76 67 8-53 79z"/>
<path fill="#484ef1" d="M3201 1812l53-80 68 11-53 80z"/>
<path fill="#fec03b" d="M4134 698l53-61 67 10-52 62z"/>
<path fill="#2c8ff1" d="M3495 1528l53-142 67 14-53 143z"/>
<path fill="#84cc56" d="M3841 972l53-118 67 11-53 121z"/>
<path fill="#fdcd32" d="M4254 647l53-49 68 10-53 50z"/>
<path fill="#0dbdbc" d="M3668 1248l53-150 67 13-53 152z"/>
<path fill="#465efb" d="M3322 1743l53-102 67 12-53 102z"/>
<path fill="#f9d82c" d="M4375 608l53-38 67 10-53 40z"/>
<path fill="#f6e028" d="M4495 580l53-31 67 9-52 33z"/>
<path fill="#f5e526" d="M4615 558l53-26 68 10-53 27z"/>
<path fill="#f7f51b" d="M5457 494l53-16 68 14-53 16z"/>
<path fill="#f7f41c" d="M5337 498l53-16 67 12-52 17z"/>
<path fill="#f5e924" d="M4736 542l52-23 68 10-53 23z"/>
<path fill="#f7f41c" d="M5217 503l52-16 68 11-53 17z"/>
<path fill="#f5ec22" d="M4856 529l53-21 67 10-53 21z"/>
<path fill="#f6f21e" d="M5096 510l53-18 68 11-53 18z"/>
<path fill="#f6ef20" d="M4976 518l53-19 67 11-52 19z"/>
<path fill="#422fc2" d="M2547 1964l53-20 68 13-53 20z"/>
<path fill="#4330c5" d="M2668 1957l52-23 68 13-53 23z"/>
<path fill="#422ebf" d="M2427 1969l53-19 67 14-52 19z"/>
<path fill="#4332ca" d="M2788 1947l53-28 67 12-53 29z"/>
<path fill="#412dbd" d="M2307 1974l53-19 67 14-53 18zm-121 5l53-19 68 14-53 18z"/>
<path fill="#c5c22a" d="M3961 865l53-99 67 11-52 101z"/>
<path fill="#4434d0" d="M2908 1931l53-35 67 12-52 36z"/>
<path fill="#4639d9" d="M3028 1908l53-46 68 11-53 47z"/>
<path fill="#1caadf" d="M3615 1400l53-152 67 15-52 153z"/>
<path fill="#3974fe" d="M3442 1653l53-125 67 15-52 125z"/>
<path fill="#40ca8d" d="M3788 1111l53-139 67 14-52 141z"/>
<path fill="#4741e5" d="M3149 1873l52-61 68 11-53 62z"/>
<path fill="#ecba33" d="M4081 777l53-79 68 11-53 81z"/>
<path fill="#484ef1" d="M3269 1823l53-80 67 12-52 81z"/>
<path fill="#fec13a" d="M4202 709l52-62 68 11-53 64z"/>
<path fill="#2c8ff1" d="M3562 1543l53-143 68 16-53 144z"/>
<path fill="#84cc56" d="M3908 986l53-121 68 13-53 123z"/>
<path fill="#0dbdbc" d="M3735 1263l53-152 68 16-53 153z"/>
<path fill="#fcce31" d="M4322 658l53-50 67 12-52 50z"/>
<path fill="#465efb" d="M3389 1755l53-102 68 15-53 102z"/>
<path fill="#f9d82c" d="M4442 620l53-40 68 11-53 40z"/>
<path fill="#f6e028" d="M4563 591l52-33 68 11-53 33z"/>
<path fill="#f5e626" d="M4683 569l53-27 67 10-53 27z"/>
<path fill="#f7f51b" d="M5405 511l52-17 68 14-53 16z"/>
<path fill="#f7f41c" d="M5284 515l53-17 68 13-53 17z"/>
<path fill="#f5eb23" d="M4803 552l53-23 67 10-52 24z"/>
<path fill="#f6f21e" d="M5164 521l53-18 67 12-53 18z"/>
<path fill="#f5ee21" d="M4923 539l53-21 68 11-53 21z"/>
<path fill="#f6f11f" d="M5044 529l52-19 68 11-53 19z"/>
<path fill="#422fc2" d="M2615 1977l53-20 67 13-53 21z"/>
<path fill="#4330c5" d="M2735 1970l53-23 67 13-52 24z"/>
<path fill="#422ebf" d="M2495 1983l52-19 68 13-53 19z"/>
<path fill="#412dbd" d="M2374 1987l53-18 68 14-53 18z"/>
<path fill="#4332ca" d="M2855 1960l53-29 68 13-53 29z"/>
<path fill="#412dbd" d="M2254 1992l53-18 67 13-52 18z"/>
<path fill="#c5c22a" d="M4029 878l52-101 68 13-53 103z"/>
<path fill="#4535d2" d="M2976 1944l52-36 68 12-53 37z"/>
<path fill="#1da9e0" d="M3683 1416l52-153 68 17-53 155z"/>
<path fill="#463adb" d="M3096 1920l53-47 67 12-53 48z"/>
<path fill="#3974fe" d="M3510 1668l52-125 68 17-53 124z"/>
<path fill="#3eca90" d="M3856 1127l52-141 68 15-53 144z"/>
<path fill="#4742e6" d="M3216 1885l53-62 68 13-53 63z"/>
<path fill="#ecba33" d="M4149 790l53-81 67 13-53 83z"/>
<path fill="#484ef1" d="M3337 1836l52-81 68 15-53 81z"/>
<path fill="#fec13a" d="M4269 722l53-64 68 12-53 66z"/>
<path fill="#2c8ff1" d="M3630 1560l53-144 67 19-53 144z"/>
<path fill="#84cc56" d="M3976 1001l53-123 67 15-53 127z"/>
<path fill="#0abdbd" d="M3803 1280l53-153 67 18-53 155z"/>
<path fill="#fcce31" d="M4390 670l52-50 68 11-53 52z"/>
<path fill="#465efb" d="M3457 1770l53-102 67 16-53 103z"/>
<path fill="#f8d92b" d="M4510 631l53-40 67 11-53 41z"/>
<path fill="#f5e128" d="M4630 602l53-33 67 10-52 34z"/>
<path fill="#f5e825" d="M4750 579l53-27 68 11-53 27z"/>
<path fill="#f7f41c" d="M5352 528l53-17 67 13-53 17z"/>
<path fill="#f5eb23" d="M4871 563l52-24 68 11-53 24z"/>
<path fill="#f6f21e" d="M5231 533l53-18 68 13-53 18z"/>
<path fill="#f6ef20" d="M4991 550l53-21 67 11-53 21z"/>
<path fill="#f6f11f" d="M5111 540l53-19 67 12-52 19z"/>
<path fill="#422fc2" d="M2682 1991l53-21 68 14-53 21z"/>
<path fill="#4330c5" d="M2803 1984l52-24 68 13-53 24z"/>
<path fill="#422ebf" d="M2562 1996l53-19 67 14-52 19z"/>
<path fill="#412dbd" d="M2442 2001l53-18 67 13-53 19z"/>
<path fill="#4332ca" d="M2923 1973l53-29 67 13-53 30z"/>
<path fill="#412dbd" d="M2322 2005l52-18 68 14-53 18z"/>
<path fill="#c5c22a" d="M4096 893l53-103 67 15-52 106z"/>
<path fill="#4535d2" d="M3043 1957l53-37 67 13-52 38z"/>
<path fill="#1da8e0" d="M3750 1435l53-155 67 20-52 156z"/>
<path fill="#3b73fe" d="M3577 1684l53-124 67 19-52 124z"/>
<path fill="#463adb" d="M3163 1933l53-48 68 14-53 48z"/>
<path fill="#3cc992" d="M3923 1145l53-144 67 19-52 145z"/>
<path fill="#4742e6" d="M3284 1899l53-63 67 15-53 63z"/>
<path fill="#ecba33" d="M4216 805l53-83 68 14-53 86z"/>
<path fill="#484ef1" d="M3404 1851l53-81 67 17-52 80z"/>
<path fill="#fec13a" d="M4337 736l53-66 67 13-53 68z"/>
<path fill="#2c8ef2" d="M3697 1579l53-144 68 21-53 143z"/>
<path fill="#81cc59" d="M4043 1020l53-127 68 18-53 129z"/>
<path fill="#08bcbf" d="M3870 1300l53-155 68 20-53 157z"/>
<path fill="#fcce31" d="M4457 683l53-52 67 12-52 53z"/>
<path fill="#465dfa" d="M3524 1787l53-103 68 19-53 101z"/>
<path fill="#f8d92b" d="M4577 643l53-41 68 11-53 42z"/>
<path fill="#f5e128" d="M4698 613l52-34 68 11-53 34z"/>
<path fill="#f5e825" d="M4818 590l53-27 67 11-53 28z"/>
<path fill="#f7f41c" d="M5299 546l53-18 67 13-52 18z"/>
<path fill="#f5ec22" d="M4938 574l53-24 67 11-52 24z"/>
<path fill="#f6f11f" d="M5179 552l52-19 68 13-53 19z"/>
<path fill="#f6ef20" d="M5058 561l53-21 68 12-53 21z"/>
<path fill="#422fc2" d="M2750 2005l53-21 67 13-53 21z"/>
<path fill="#4330c5" d="M2870 1997l53-24 67 14-52 24z"/>
<path fill="#422ebf" d="M2630 2010l52-19 68 14-53 19z"/>
<path fill="#412dbd" d="M2509 2015l53-19 68 14-53 18z"/>
<path fill="#4332ca" d="M2990 1987l53-30 68 14-53 29z"/>
<path fill="#c1c32c" d="M4164 911l52-106 68 17-53 108z"/>
<path fill="#412dbd" d="M2389 2019l53-18 67 14-52 17z"/>
<path fill="#4535d2" d="M3111 1971l52-38 68 14-53 37z"/>
<path fill="#1ea7e1" d="M3818 1456l52-156 68 22-53 156z"/>
<path fill="#3b73fe" d="M3645 1703l52-124 68 20-53 123z"/>
<path fill="#463adb" d="M3231 1947l53-48 67 15-52 48z"/>
<path fill="#3ac994" d="M3991 1165l52-145 68 20-53 147z"/>
<path fill="#4741e5" d="M3351 1914l53-63 68 16-53 62z"/>
<path fill="#eaba31" d="M4284 822l53-86 67 15-52 87z"/>
<path fill="#484cf0" d="M3472 1867l52-80 68 17-53 80z"/>
<path fill="#fec13a" d="M4404 751l53-68 68 13-53 69z"/>
<path fill="#2d8cf3" d="M3765 1599l53-143 67 22-53 142z"/>
<path fill="#03bbc2" d="M3938 1322l53-157 67 22-53 158z"/>
<path fill="#7dcc5b" d="M4111 1040l53-129 67 19-53 130z"/>
<path fill="#fcce31" d="M4525 696l52-53 68 12-53 54z"/>
<path fill="#475bfa" d="M3592 1804l53-101 67 19-53 100z"/>
<path fill="#f8d92b" d="M4645 655l53-42 67 11-53 43z"/>
<path fill="#f5e327" d="M4765 624l53-34 67 12-52 34z"/>
<path fill="#f5e825" d="M4885 602l53-28 68 11-53 29z"/>
<path fill="#f5ec22" d="M5006 585l52-24 68 12-53 24z"/>
<path fill="#422fc2" d="M2817 2018l53-21 68 14-53 21z"/>
<path fill="#f6f21e" d="M5246 565l53-19 68 13-53 19z"/>
<path fill="#4330c5" d="M2938 2011l52-24 68 13-53 25z"/>
<path fill="#f6ef20" d="M5126 573l53-21 67 13-53 21z"/>
<path fill="#422ebf" d="M2697 2024l53-19 67 13-52 20z"/>
<path fill="#bec32e" d="M4231 930l53-108 68 16-53 110z"/>
<path fill="#412dbd" d="M2577 2028l53-18 67 14-53 18z"/>
<path fill="#4332ca" d="M3058 2000l53-29 67 13-53 30z"/>
<path fill="#412dbd" d="M2457 2032l52-17 68 13-53 17z"/>
<path fill="#1fa6e2" d="M3885 1478l53-156 67 23-52 156z"/>
<path fill="#4535d2" d="M3178 1984l53-37 68 15-53 37z"/>
<path fill="#3c71ff" d="M3712 1722l53-123 67 21-52 122z"/>
<path fill="#38c896" d="M4058 1187l53-147 67 20-52 150z"/>
<path fill="#463adb" d="M3299 1962l52-48 68 15-53 47z"/>
<path fill="#4741e5" d="M3419 1929l53-62 67 17-53 61z"/>
<path fill="#eaba31" d="M4352 838l52-87 68 14-53 90z"/>
<path fill="#484cf0" d="M3539 1884l53-80 67 18-52 79z"/>
<path fill="#2d8af5" d="M3832 1620l53-142 68 23-53 141z"/>
<path fill="#fec13a" d="M4472 765l53-69 67 13-53 71z"/>
<path fill="#02bac4" d="M4005 1345l53-158 68 23-53 159z"/>
<path fill="#79cc5e" d="M4178 1060l53-130 68 18-53 133z"/>
<path fill="#fcce31" d="M4592 709l53-54 67 12-52 56z"/>
<path fill="#475bfa" d="M3659 1822l53-100 68 20-53 99z"/>
<path fill="#f7db2a" d="M4712 667l53-43 68 12-53 44z"/>
<path fill="#f5e327" d="M4833 636l52-34 68 12-53 35z"/>
<path fill="#f5e924" d="M4953 614l53-29 67 12-53 29z"/>
<path fill="#422fc2" d="M2885 2032l53-21 67 14-53 21z"/>
<path fill="#bbc42f" d="M4299 948l53-110 67 17-53 112z"/>
<path fill="#f5ec22" d="M5073 597l53-24 67 13-52 24z"/>
<path fill="#4330c5" d="M3005 2025l53-25 67 14-52 25z"/>
<path fill="#422ebf" d="M2765 2038l52-20 68 14-53 19z"/>
<path fill="#f6ef20" d="M5193 586l53-21 68 13-53 21z"/>
<path fill="#412dbd" d="M2644 2042l53-18 68 14-53 17z"/>
<path fill="#4332ca" d="M3125 2014l53-30 68 15-53 29z"/>
<path fill="#21a3e3" d="M3953 1501l52-156 68 24-53 155z"/>
<path fill="#412dbd" d="M2524 2045l53-17 67 14-52 17z"/>
<path fill="#4535d2" d="M3246 1999l53-37 67 14-53 37z"/>
<path fill="#3f6eff" d="M3780 1742l52-122 68 22-53 121z"/>
<path fill="#35c79b" d="M4126 1210l52-150 68 21-53 152z"/>
<path fill="#4639d9" d="M3366 1976l53-47 67 16-52 47z"/>
<path fill="#4741e5" d="M3486 1945l53-61 68 17-53 60z"/>
<path fill="#e8bb2f" d="M4419 855l53-90 67 15-52 91z"/>
<path fill="#484bee" d="M3607 1901l52-79 68 19-53 77z"/>
<path fill="#2d88f6" d="M3900 1642l53-141 67 23-53 141z"/>
<path fill="#01b9c7" d="M4073 1369l53-159 67 23-53 159z"/>
<path fill="#fec03b" d="M4539 780l53-71 68 14-53 72z"/>
<path fill="#72cd64" d="M4246 1081l53-133 67 19-52 135z"/>
<path fill="#475af9" d="M3727 1841l53-99 67 21-53 97z"/>
<path fill="#fcce31" d="M4660 723l52-56 68 13-53 56z"/>
<path fill="#f7db2a" d="M4780 680l53-44 67 13-53 44z"/>
<path fill="#f5e327" d="M4900 649l53-35 67 12-52 36z"/>
<path fill="#f5e924" d="M5020 626l53-29 68 13-53 29z"/>
<path fill="#b8c431" d="M4366 967l53-112 68 16-53 115z"/>
<path fill="#22a1e4" d="M4020 1524l53-155 67 23-52 155z"/>
<path fill="#422fc2" d="M2952 2046l53-21 68 14-53 21z"/>
<path fill="#4330c5" d="M3073 2039l52-25 68 14-53 25z"/>
<path fill="#f5ee21" d="M5141 610l52-24 68 13-53 25z"/>
<path fill="#422ebf" d="M2832 2051l53-19 67 14-52 19z"/>
<path fill="#4332ca" d="M3193 2028l53-29 67 14-52 30z"/>
<path fill="#412dbd" d="M2712 2055l53-17 67 13-53 18zm-120 4l52-17 68 13-53 17z"/>
<path fill="#406dfe" d="M3847 1763l53-121 67 23-52 119z"/>
<path fill="#4434d0" d="M3313 2013l53-37 68 16-53 36z"/>
<path fill="#33c79d" d="M4193 1233l53-152 68 21-53 153z"/>
<path fill="#4639d9" d="M3434 1992l52-47 68 16-53 46z"/>
<path fill="#473fe3" d="M3554 1961l53-60 67 17-53 59z"/>
<path fill="#e8bb2f" d="M4487 871l52-91 68 15-53 93z"/>
<path fill="#484bee" d="M3674 1918l53-77 67 19-52 76z"/>
<path fill="#2e86f8" d="M3967 1665l53-141 68 23-53 140z"/>
<path fill="#02b7ca" d="M4140 1392l53-159 68 22-53 160z"/>
<path fill="#6ecd66" d="M4314 1102l52-135 68 19-53 137z"/>
<path fill="#fec03b" d="M4607 795l53-72 67 13-53 74z"/>
<path fill="#4759f8" d="M3794 1860l53-97 68 21-53 95z"/>
<path fill="#fcce31" d="M4727 736l53-56 67 13-52 57z"/>
<path fill="#f7db2a" d="M4847 693l53-44 68 13-53 44z"/>
<path fill="#f5e327" d="M4968 662l52-36 68 13-53 36z"/>
<path fill="#23a0e5" d="M4088 1547l52-155 68 23-53 155z"/>
<path fill="#b5c533" d="M4434 986l53-115 67 17-53 116z"/>
<path fill="#f5e924" d="M5088 639l53-29 67 14-53 29z"/>
<path fill="#422fc2" d="M3020 2060l53-21 67 14-53 21z"/>
<path fill="#4330c5" d="M3140 2053l53-25 68 15-53 24z"/>
<path fill="#422ebf" d="M2900 2065l52-19 68 14-53 19z"/>
<path fill="#416bfe" d="M3915 1784l52-119 68 22-53 117z"/>
<path fill="#4332ca" d="M3261 2043l52-30 68 15-53 29z"/>
<path fill="#412dbd" d="M2779 2069l53-18 68 14-53 18z"/>
<path fill="#30c5a1" d="M4261 1255l53-153 67 21-53 154z"/>
<path fill="#412dbd" d="M2659 2072l53-17 67 14-52 17z"/>
<path fill="#4434d0" d="M3381 2028l53-36 67 15-53 36z"/>
<path fill="#4639d9" d="M3501 2007l53-46 67 16-52 46z"/>
<path fill="#473fe3" d="M3621 1977l53-59 68 18-53 58z"/>
<path fill="#e5bb2d" d="M4554 888l53-93 67 15-52 94z"/>
<path fill="#4849ed" d="M3742 1936l52-76 68 19-53 74z"/>
<path fill="#2e84f8" d="M4035 1687l53-140 67 23-53 138z"/>
<path fill="#03b7cc" d="M4208 1415l53-160 67 22-52 160z"/>
<path fill="#6bcd69" d="M4381 1123l53-137 67 18-52 139z"/>
<path fill="#fec03b" d="M4674 810l53-74 68 14-53 75z"/>
<path fill="#4757f7" d="M3862 1879l53-95 67 20-53 94z"/>
<path fill="#fcce31" d="M4795 750l52-57 68 13-53 59z"/>
<path fill="#f7db2a" d="M4915 706l53-44 67 13-53 45z"/>
<path fill="#249ee6" d="M4155 1570l53-155 68 22-53 155z"/>
<path fill="#f5e327" d="M5035 675l53-36 67 14-52 36z"/>
<path fill="#b5c533" d="M4501 1004l53-116 68 16-53 118z"/>
<path fill="#426afe" d="M3982 1804l53-117 67 21-52 116z"/>
<path fill="#422fc2" d="M3087 2074l53-21 68 14-53 21z"/>
<path fill="#4330c5" d="M3208 2067l53-24 67 14-53 24z"/>
<path fill="#422ebf" d="M2967 2079l53-19 67 14-52 19z"/>
<path fill="#2fc5a3" d="M4328 1277l53-154 68 20-53 155z"/>
<path fill="#4332ca" d="M3328 2057l53-29 67 15-52 29z"/>
<path fill="#412dbd" d="M2847 2083l53-18 67 14-53 18zm-120 3l52-17 68 14-53 16z"/>
<path fill="#4434d0" d="M3448 2043l53-36 68 16-53 35z"/>
<path fill="#4538d7" d="M3569 2023l52-46 68 17-53 44z"/>
<path fill="#473ee1" d="M3689 1994l53-58 67 17-53 57z"/>
<path fill="#e5bb2d" d="M4622 904l52-94 68 15-53 96z"/>
<path fill="#2f82fa" d="M4102 1708l53-138 68 22-53 137z"/>
<path fill="#4848ec" d="M3809 1953l53-74 67 19-52 73z"/>
<path fill="#06b5cf" d="M4276 1437l52-160 68 21-53 161z"/>
<path fill="#67cd6c" d="M4449 1143l52-139 68 18-53 141z"/>
<path fill="#fec03b" d="M4742 825l53-75 67 15-53 75z"/>
<path fill="#4756f7" d="M3929 1898l53-94 68 20-53 92z"/>
<path fill="#fcce31" d="M4862 765l53-59 67 14-52 59z"/>
<path fill="#f7db2a" d="M4982 720l53-45 68 14-53 46z"/>
<path fill="#259ce7" d="M4223 1592l53-155 67 22-53 154z"/>
<path fill="#b1c635" d="M4569 1022l53-118 67 17-53 119z"/>
<path fill="#4368fe" d="M4050 1824l52-116 68 21-53 114z"/>
<path fill="#2cc4a6" d="M4396 1298l53-155 67 20-53 156z"/>
<path fill="#422fc2" d="M3155 2088l53-21 67 14-52 21z"/>
<path fill="#4330c5" d="M3275 2081l53-24 68 15-53 24z"/>
<path fill="#422ebf" d="M3035 2093l52-19 68 14-53 19z"/>
<path fill="#4331c8" d="M3396 2072l52-29 68 15-53 28z"/>
<path fill="#412dbd" d="M2914 2097l53-18 68 14-53 17zm-120 2l53-16 67 14-52 16z"/>
<path fill="#4434d0" d="M3516 2058l53-35 67 15-53 35z"/>
<path fill="#4538d7" d="M3636 2038l53-44 67 16-52 44z"/>
<path fill="#473ee1" d="M3756 2010l53-57 68 18-53 55z"/>
<path fill="#e3bc2c" d="M4689 921l53-96 67 15-52 97z"/>
<path fill="#2f80fa" d="M4170 1729l53-137 67 21-52 136z"/>
<path fill="#4848ec" d="M3877 1971l52-73 68 18-53 72z"/>
<path fill="#08b4d1" d="M4343 1459l53-161 67 21-52 161z"/>
<path fill="#64cd6f" d="M4516 1163l53-141 67 18-52 142z"/>
<path fill="#febe3c" d="M4809 840l53-75 68 14-53 77z"/>
<path fill="#4854f6" d="M3997 1916l53-92 67 19-53 91z"/>
<path fill="#fcce31" d="M4930 779l52-59 68 15-53 59z"/>
<path fill="#269ae8" d="M4290 1613l53-154 68 21-53 154z"/>
<path fill="#aec637" d="M4636 1040l53-119 68 16-53 121z"/>
<path fill="#4367fd" d="M4117 1843l53-114 68 20-53 113z"/>
<path fill="#2bc3a8" d="M4463 1319l53-156 68 19-53 157z"/>
<path fill="#4330c5" d="M3343 2096l53-24 67 14-53 24z"/>
<path fill="#422fc2" d="M3223 2102l52-21 68 15-53 20z"/>
<path fill="#422ebf" d="M3102 2107l53-19 68 14-53 19z"/>
<path fill="#4331c8" d="M3463 2086l53-28 67 15-52 28z"/>
<path fill="#412dbd" d="M2982 2110l53-17 67 14-53 17z"/>
<path fill="#4433cd" d="M3583 2073l53-35 68 16-53 34z"/>
<path fill="#412dbd" d="M2862 2113l52-16 68 13-53 17z"/>
<path fill="#4538d7" d="M3704 2054l52-44 68 16-53 43z"/>
<path fill="#463ddf" d="M3824 2026l53-55 67 17-53 55z"/>
<path fill="#e3bc2c" d="M4757 937l52-97 68 16-53 98z"/>
<path fill="#307ffb" d="M4238 1749l52-136 68 21-53 135z"/>
<path fill="#4746eb" d="M3944 1988l53-72 67 18-52 71z"/>
<path fill="#0db3d4" d="M4411 1480l52-161 68 20-53 162z"/>
<path fill="#61cd72" d="M4584 1182l52-142 68 18-53 143z"/>
<path fill="#febe3c" d="M4877 856l53-77 67 15-53 77z"/>
<path fill="#4853f5" d="M4064 1934l53-91 68 19-53 90z"/>
<path fill="#2699e9" d="M4358 1634l53-154 67 21-53 152z"/>
<path fill="#4465fd" d="M4185 1862l53-113 67 20-53 112z"/>
<path fill="#abc739" d="M4704 1058l53-121 67 17-53 121z"/>
<path fill="#29c3aa" d="M4531 1339l53-157 67 19-53 158z"/>
<path fill="#4330c5" d="M3410 2110l53-24 68 15-53 23z"/>
<path fill="#422fc2" d="M3290 2116l53-20 67 14-52 20z"/>
<path fill="#4331c8" d="M3531 2101l52-28 68 15-53 27z"/>
<path fill="#422ebf" d="M3170 2121l53-19 67 14-53 19z"/>
<path fill="#412dbd" d="M3049 2124l53-17 68 14-53 17z"/>
<path fill="#4433cd" d="M3651 2088l53-34 67 15-53 34z"/>
<path fill="#412dbd" d="M2929 2127l53-17 67 14-52 16z"/>
<path fill="#4537d5" d="M3771 2069l53-43 67 17-52 42z"/>
<path fill="#463ddf" d="M3891 2043l53-55 68 17-53 53z"/>
<path fill="#e0bc2b" d="M4824 954l53-98 67 15-52 99z"/>
<path fill="#317dfc" d="M4305 1769l53-135 67 19-52 135z"/>
<path fill="#4746eb" d="M4012 2005l52-71 68 18-53 69z"/>
<path fill="#10b2d5" d="M4478 1501l53-162 67 20-52 161z"/>
<path fill="#5ecc74" d="M4651 1201l53-143 67 17-52 144z"/>
<path fill="#4853f5" d="M4132 1952l53-90 67 19-52 88z"/>
<path fill="#2798ea" d="M4425 1653l53-152 68 19-53 152z"/>
<path fill="#4564fd" d="M4252 1881l53-112 68 19-53 110z"/>
<path fill="#abc739" d="M4771 1075l53-121 68 16-53 123z"/>
<path fill="#27c2ac" d="M4598 1359l53-158 68 18-53 158z"/>
<path fill="#422fc2" d="M3478 2124l53-23 67 14-53 23z"/>
<path fill="#422ebf" d="M3358 2130l52-20 68 14-53 20z"/>
<path fill="#4331c8" d="M3598 2115l53-27 67 15-52 27z"/>
<path fill="#422ebf" d="M3237 2135l53-19 68 14-53 19z"/>
<path fill="#412dbd" d="M3117 2138l53-17 67 14-52 17z"/>
<path fill="#4433cd" d="M3718 2103l53-34 68 16-53 33z"/>
<path fill="#412dbd" d="M2997 2140l52-16 68 14-53 16z"/>
<path fill="#4537d5" d="M3839 2085l52-42 68 15-53 42z"/>
<path fill="#463ddf" d="M3959 2058l53-53 67 16-53 53z"/>
<path fill="#327cfc" d="M4373 1788l52-135 68 19-53 134z"/>
<path fill="#12b1d6" d="M4546 1520l52-161 68 18-53 162z"/>
<path fill="#4745e9" d="M4079 2021l53-69 68 17-53 68z"/>
<path fill="#5acc77" d="M4719 1219l52-144 68 18-53 144z"/>
<path fill="#4852f4" d="M4200 1969l52-88 68 17-53 88z"/>
<path fill="#2797eb" d="M4493 1672l53-152 67 19-53 152z"/>
<path fill="#4562fc" d="M4320 1898l53-110 67 18-53 110z"/>
<path fill="#25c2ae" d="M4666 1377l53-158 67 18-53 159z"/>
<path fill="#422fc2" d="M3545 2138l53-23 68 15-53 23z"/>
<path fill="#422ebf" d="M3425 2144l53-20 67 14-52 20z"/>
<path fill="#4331c8" d="M3666 2130l52-27 68 15-53 26z"/>
<path fill="#422ebf" d="M3305 2149l53-19 67 14-53 19z"/>
<path fill="#412dbd" d="M3185 2152l52-17 68 14-53 17z"/>
<path fill="#4433cd" d="M3786 2118l53-33 67 15-53 32z"/>
<path fill="#412dbd" d="M3064 2154l53-16 68 14-53 16z"/>
<path fill="#4537d5" d="M3906 2100l53-42 67 16-52 41z"/>
<path fill="#463bde" d="M4026 2074l53-53 68 16-53 53z"/>
<path fill="#337afd" d="M4440 1806l53-134 67 19-52 132z"/>
<path fill="#14b0d8" d="M4613 1539l53-162 67 19-52 161z"/>
<path fill="#4745e9" d="M4147 2037l53-68 67 17-53 67z"/>
<path fill="#4850f3" d="M4267 1986l53-88 67 18-52 86z"/>
<path fill="#2895ec" d="M4560 1691l53-152 68 18-53 151z"/>
<path fill="#4562fc" d="M4387 1916l53-110 68 17-53 109z"/>
<path fill="#422fc2" d="M3613 2153l53-23 67 14-53 23z"/>
<path fill="#422ebf" d="M3493 2158l52-20 68 15-53 20z"/>
<path fill="#4331c8" d="M3733 2144l53-26 67 14-52 27z"/>
<path fill="#422ebf" d="M3372 2163l53-19 68 14-53 18z"/>
<path fill="#4433cd" d="M3853 2132l53-32 68 15-53 32z"/>
<path fill="#412dbd" d="M3252 2166l53-17 67 14-52 16zm-120 2l53-16 67 14-53 16z"/>
<path fill="#4537d5" d="M3974 2115l52-41 68 16-53 40z"/>
<path fill="#463bde" d="M4094 2090l53-53 67 16-52 52z"/>
<path fill="#337afd" d="M4508 1823l52-132 68 17-53 132z"/>
<path fill="#4744e8" d="M4214 2053l53-67 68 16-53 67z"/>
<path fill="#4850f3" d="M4335 2002l52-86 68 16-53 86z"/>
<path fill="#4561fc" d="M4455 1932l53-109 67 17-53 109z"/>
<path fill="#422fc2" d="M3680 2167l53-23 68 15-53 22z"/>
<path fill="#422ebf" d="M3560 2173l53-20 67 14-52 20z"/>
<path fill="#4330c5" d="M3801 2159l52-27 68 15-53 26z"/>
<path fill="#422ebf" d="M3440 2176l53-18 67 15-53 17z"/>
<path fill="#4332ca" d="M3921 2147l53-32 67 15-53 31z"/>
<path fill="#412dbd" d="M3320 2179l52-16 68 13-53 17zm-121 3l53-16 68 13-53 16z"/>
<path fill="#4535d2" d="M4041 2130l53-40 68 15-53 39z"/>
<path fill="#463bde" d="M4162 2105l52-52 68 16-53 51z"/>
<path fill="#4744e8" d="M4282 2069l53-67 67 16-53 66z"/>
<path fill="#4850f3" d="M4402 2018l53-86 67 17-52 85z"/>
<path fill="#422fc2" d="M3748 2181l53-22 67 14-53 22z"/>
<path fill="#422ebf" d="M3628 2187l52-20 68 14-53 20z"/>
<path fill="#4330c5" d="M3868 2173l53-26 67 14-52 26z"/>
<path fill="#422ebf" d="M3507 2190l53-17 68 14-53 17z"/>
<path fill="#4332ca" d="M3988 2161l53-31 68 14-53 32z"/>
<path fill="#412dbd" d="M3387 2193l53-17 67 14-52 17zm-120 2l53-16 67 14-53 16z"/>
<path fill="#4535d2" d="M4109 2144l53-39 67 15-53 39z"/>
<path fill="#463adb" d="M4229 2120l53-51 67 15-52 51z"/>
<path fill="#4744e8" d="M4349 2084l53-66 68 16-53 65z"/>
<path fill="#422fc2" d="M3815 2195l53-22 68 14-53 22z"/>
<path fill="#4330c5" d="M3936 2187l52-26 68 15-53 25z"/>
<path fill="#422ebf" d="M3695 2201l53-20 67 14-52 19zm-120 3l53-17 67 14-53 17z"/>
<path fill="#4332ca" d="M4056 2176l53-32 67 15-52 31z"/>
<path fill="#412dbd" d="M3455 2207l52-17 68 14-53 17zm-121 2l53-16 68 14-53 16z"/>
<path fill="#4535d2" d="M4176 2159l53-39 68 15-53 38z"/>
<path fill="#463adb" d="M4297 2135l52-51 68 15-53 50z"/>
<path fill="#422fc2" d="M3883 2209l53-22 67 14-53 22z"/>
<path fill="#4330c5" d="M4003 2201l53-25 68 14-53 25z"/>
<path fill="#422ebf" d="M3763 2214l52-19 68 14-53 19z"/>
<path fill="#412dbd" d="M3642 2218l53-17 68 13-53 18z"/>
<path fill="#4332ca" d="M4124 2190l52-31 68 14-53 31z"/>
<path fill="#412dbd" d="M3522 2221l53-17 67 14-52 17zm-120 2l53-16 67 14-53 16z"/>
<path fill="#4535d2" d="M4244 2173l53-38 67 14-53 39z"/>
<path fill="#422fc2" d="M3950 2223l53-22 68 14-53 22z"/>
<path fill="#4330c5" d="M4071 2215l53-25 67 14-53 25z"/>
<path fill="#422ebf" d="M3830 2228l53-19 67 14-52 19z"/>
<path fill="#412dbd" d="M3710 2232l53-18 67 14-53 18z"/>
<path fill="#4332ca" d="M4191 2204l53-31 67 15-52 30z"/>
<path fill="#412dbd" d="M3590 2235l52-17 68 14-53 16zm-121 2l53-16 68 14-53 15z"/>
<path fill="#422fc2" d="M4018 2237l53-22 67 14-52 22z"/>
<path fill="#4330c5" d="M4138 2229l53-25 68 14-53 25z"/>
<path fill="#422ebf" d="M3898 2242l52-19 68 14-53 19z"/>
<path fill="#412dbd" d="M3777 2246l53-18 68 14-53 18zm-120 2l53-16 67 14-52 16zm-120 2l53-15 67 13-53 16z"/>
<path fill="#422fc2" d="M4086 2251l52-22 68 14-53 22z"/>
<path fill="#422ebf" d="M3965 2256l53-19 68 14-53 19z"/>
<path fill="#412dbd" d="M3845 2260l53-18 67 14-53 17zm-120 2l52-16 68 14-53 16zm-121 2l53-16 68 14-53 16z"/>
<path fill="#422ebf" d="M4033 2270l53-19 67 14-53 19z"/>
<path fill="#412dbd" d="M3912 2273l53-17 68 14-53 17zm-120 3l53-16 67 13-52 17zm-120 2l53-16 67 14-53 15zm308 9l53-17 67 14-52 17zm-120 3l52-17 68 14-53 16zm-121 1l53-15 68 14-53 15zm188 12l53-16 68 14-53 16zm-120 2l53-15 67 13-53 16zm67 14l53-16 68 14-53 15z"/>
<path fill="#72cd64" d="M3322 3912l58-15 69-16-58 15z"/>
<path fill="#84cc56" d="M3391 3896l58-15 69-17-58 15z"/>
<path fill="#72cd64" d="M3265 3927l57-15 69-16-58 15z"/>
<path fill="#96ca48" d="M3460 3879l69-18 57-15-68 18z"/>
<path fill="#84cc56" d="M3333 3911l58-15 69-17-58 15z"/>
<path fill="#72cd64" d="M3207 3942l58-15 68-16-57 15z"/>
<path fill="#a7c73c" d="M3529 3861l69-19 57-16-69 20z"/>
<path fill="#96ca48" d="M3402 3894l69-18 58-15-69 18z"/>
<path fill="#84cc56" d="M3276 3926l57-15 69-17-58 15z"/>
<path fill="#72cd64" d="M3149 3957l58-15 69-16-58 15z"/>
<path fill="#a7c73c" d="M3471 3876l69-19 58-15-69 19z"/>
<path fill="#bbc42f" d="M3598 3842l68-22 58-15-69 21z"/>
<path fill="#96ca48" d="M3344 3909l58-15 69-18-58 16z"/>
<path fill="#84cc56" d="M3218 3941l58-15 68-17-57 16z"/>
<path fill="#72cd64" d="M3092 3973l57-16 69-16-58 16z"/>
<path fill="#a7c73c" d="M3413 3892l69-20 58-15-69 19z"/>
<path fill="#bbc42f" d="M3540 3857l69-21 57-16-68 22z"/>
<path fill="#96ca48" d="M3287 3925l57-16 69-17-57 15z"/>
<path fill="#cdc028" d="M3666 3820l69-23 58-15-69 23z"/>
<path fill="#84cc56" d="M3160 3957l58-16 69-16-58 15z"/>
<path fill="#72cd64" d="M3034 3988l58-15 68-16-57 15z"/>
<path fill="#a7c73c" d="M3356 3907l68-19 58-16-69 20z"/>
<path fill="#bbc42f" d="M3482 3872l69-21 58-15-69 21z"/>
<path fill="#96ca48" d="M3229 3940l69-18 58-15-69 18z"/>
<path fill="#cdc028" d="M3609 3836l68-24 58-15-69 23z"/>
<path fill="#84cc56" d="M3103 3972l57-15 69-17-58 15z"/>
<path fill="#debd29" d="M3735 3797l69-25 58-15-69 25z"/>
<path fill="#72cd64" d="M2976 4003l58-15 69-16-58 15z"/>
<path fill="#a7c73c" d="M3298 3922l69-19 57-15-68 19z"/>
<path fill="#bbc42f" d="M3424 3888l69-22 58-15-69 21z"/>
<path fill="#96ca48" d="M3171 3955l69-18 58-15-69 18z"/>
<path fill="#cdc028" d="M3551 3851l69-23 57-16-68 24z"/>
<path fill="#84cc56" d="M3045 3987l58-15 68-17-57 15z"/>
<path fill="#debd29" d="M3677 3812l69-24 58-16-69 25z"/>
<path fill="#72cd64" d="M2918 4018l58-15 69-16-58 15z"/>
<path fill="#efba35" d="M3804 3772l69-26 57-16-68 27z"/>
<path fill="#a7c73c" d="M3240 3937l69-19 58-15-69 19z"/>
<path fill="#bbc42f" d="M3367 3903l69-21 57-16-69 22z"/>
<path fill="#96ca48" d="M3114 3970l57-15 69-18-58 16z"/>
<path fill="#cdc028" d="M3493 3866l69-23 58-15-69 23z"/>
<path fill="#84cc56" d="M2987 4002l58-15 69-17-58 16z"/>
<path fill="#debd29" d="M3620 3828l68-25 58-15-69 24z"/>
<path fill="#72cd64" d="M2861 4033l57-15 69-16-57 15z"/>
<path fill="#efba35" d="M3746 3788l69-27 58-15-69 26z"/>
<path fill="#fcbc3d" d="M3873 3746l69-27 57-16-69 27z"/>
<path fill="#a7c73c" d="M3182 3953l58-16 69-19-58 16z"/>
<path fill="#bbc42f" d="M3309 3918l69-21 58-15-69 21z"/>
<path fill="#96ca48" d="M3056 3986l58-16 68-17-57 15z"/>
<path fill="#cdc028" d="M3436 3882l68-23 58-16-69 23z"/>
<path fill="#84cc56" d="M2930 4017l57-15 69-16-58 15z"/>
<path fill="#debd29" d="M3562 3843l69-24 57-16-68 25z"/>
<path fill="#72cd64" d="M2803 4048l58-15 69-16-58 15z"/>
<path fill="#efba35" d="M3688 3803l69-26 58-16-69 27z"/>
<path fill="#fcbc3d" d="M3815 3761l69-27 58-15-69 27z"/>
<path fill="#fec537" d="M3942 3719l68-28 58-15-69 27z"/>
<path fill="#bbc42f" d="M3251 3934l69-21 58-16-69 21z"/>
<path fill="#a7c73c" d="M3125 3968l69-19 57-15-69 19z"/>
<path fill="#96ca48" d="M2998 4001l69-18 58-15-69 18z"/>
<path fill="#cdc028" d="M3378 3897l69-23 57-15-68 23z"/>
<path fill="#84cc56" d="M2872 4032l58-15 68-16-57 15z"/>
<path fill="#debd29" d="M3504 3859l69-25 58-15-69 24z"/>
<path fill="#72cd64" d="M2745 4063l58-15 69-16-58 16z"/>
<path fill="#efba35" d="M3631 3819l69-27 57-15-69 26z"/>
<path fill="#fcbc3d" d="M3757 3777l69-27 58-16-69 27z"/>
<path fill="#fec537" d="M3884 3734l69-27 57-16-68 28z"/>
<path fill="#fcd030" d="M4010 3691l69-26 58-16-69 27z"/>
<path fill="#bbc42f" d="M3194 3949l68-21 58-15-69 21z"/>
<path fill="#a7c73c" d="M3067 3983l69-19 58-15-69 19z"/>
<path fill="#cdc028" d="M3320 3913l69-23 58-16-69 23z"/>
<path fill="#96ca48" d="M2941 4016l57-15 69-18-58 16z"/>
<path fill="#84cc56" d="M2814 4048l58-16 69-16-58 15z"/>
<path fill="#debd29" d="M3447 3874l68-24 58-16-69 25z"/>
<path fill="#72cd64" d="M2688 4078l57-15 69-15-58 15z"/>
<path fill="#efba35" d="M3573 3834l69-26 58-16-69 27z"/>
<path fill="#fcbc3d" d="M3700 3792l68-26 58-16-69 27z"/>
<path fill="#fec537" d="M3826 3750l69-27 58-16-69 27z"/>
<path fill="#fcd030" d="M3953 3707l68-26 58-16-69 26z"/>
<path fill="#f7db2a" d="M4079 3665l69-25 58-16-69 25z"/>
<path fill="#bbc42f" d="M3136 3964l69-20 57-16-68 21z"/>
<path fill="#a7c73c" d="M3009 3999l58-16 69-19-58 16z"/>
<path fill="#cdc028" d="M3262 3928l69-23 58-15-69 23z"/>
<path fill="#96ca48" d="M2883 4031l58-15 68-17-57 15z"/>
<path fill="#debd29" d="M3389 3890l69-25 57-15-68 24z"/>
<path fill="#84cc56" d="M2756 4063l58-15 69-17-58 16z"/>
<path fill="#72cd64" d="M2630 4094l58-16 68-15-57 15z"/>
<path fill="#efba35" d="M3515 3850l69-26 58-16-69 26z"/>
<path fill="#fabb3d" d="M3642 3808l69-27 57-15-68 26z"/>
<path fill="#fec438" d="M3768 3766l69-28 58-15-69 27z"/>
<path fill="#fcd030" d="M3895 3723l69-27 57-15-68 26z"/>
<path fill="#f7db2a" d="M4021 3681l69-25 58-16-69 25z"/>
<path fill="#f5e526" d="M4148 3640l69-21 57-16-68 21z"/>
<path fill="#bbc42f" d="M3078 3980l69-21 58-15-69 20z"/>
<path fill="#a7c73c" d="M2952 4014l68-19 58-15-69 19z"/>
<path fill="#cdc028" d="M3205 3944l69-23 57-16-69 23z"/>
<path fill="#96ca48" d="M2825 4047l58-16 69-17-58 15z"/>
<path fill="#debd29" d="M3331 3905l69-24 58-16-69 25z"/>
<path fill="#84cc56" d="M2699 4078l57-15 69-16-57 15z"/>
<path fill="#72cd64" d="M2572 4109l58-15 69-16-58 15z"/>
<path fill="#ecba33" d="M3458 3865l68-25 58-16-69 26z"/>
<path fill="#fabb3d" d="M3584 3824l69-27 58-16-69 27z"/>
<path fill="#fec438" d="M3711 3781l69-27 57-16-69 28z"/>
<path fill="#fcce31" d="M3837 3738l69-26 58-16-69 27z"/>
<path fill="#f8d92b" d="M3964 3696l68-24 58-16-69 25z"/>
<path fill="#f5ee21" d="M4217 3619l57-16 69-17-57 16z"/>
<path fill="#f5e526" d="M4090 3656l69-21 58-16-69 21z"/>
<path fill="#bbc42f" d="M3020 3995l69-20 58-16-69 21z"/>
<path fill="#a7c73c" d="M2894 4029l69-18 57-16-68 19z"/>
<path fill="#cdc028" d="M3147 3959l69-23 58-15-69 23z"/>
<path fill="#96ca48" d="M2768 4062l57-15 69-18-58 16z"/>
<path fill="#debd29" d="M3274 3921l68-24 58-16-69 24z"/>
<path fill="#84cc56" d="M2641 4093l58-15 69-16-58 15z"/>
<path fill="#ecba33" d="M3400 3881l69-26 57-15-68 25z"/>
<path fill="#72cd64" d="M2514 4124l58-15 69-16-58 16z"/>
<path fill="#fabb3d" d="M3526 3840l69-27 58-16-69 27z"/>
<path fill="#fec438" d="M3653 3797l69-27 58-16-69 27z"/>
<path fill="#fcce31" d="M3780 3754l68-26 58-16-69 26z"/>
<path fill="#f7f51b" d="M4286 3602l57-16 69-10-58 15z"/>
<path fill="#f8d92b" d="M3906 3712l69-24 57-16-68 24z"/>
<path fill="#f5ee21" d="M4159 3635l58-16 69-17-58 16z"/>
<path fill="#f5e526" d="M4032 3672l69-22 58-15-69 21z"/>
<path fill="#bbc42f" d="M2963 4011l69-21 57-15-69 20z"/>
<path fill="#a7c73c" d="M2836 4045l69-19 58-15-69 18z"/>
<path fill="#cac129" d="M3089 3975l69-23 58-16-69 23z"/>
<path fill="#96ca48" d="M2710 4077l58-15 68-17-57 15z"/>
<path fill="#debd29" d="M3216 3936l69-24 57-15-68 24z"/>
<path fill="#84cc56" d="M2583 4109l58-16 69-16-58 16z"/>
<path fill="#ecba33" d="M3342 3897l69-26 58-16-69 26z"/>
<path fill="#72cd64" d="M2457 4139l57-15 69-15-57 15z"/>
<path fill="#fabb3d" d="M3469 3855l69-26 57-16-69 27z"/>
<path fill="#f9fb15" d="M4354 3591l58-15 69-3-58 16z"/>
<path fill="#fec438" d="M3595 3813l69-27 58-16-69 27z"/>
<path fill="#fcce31" d="M3722 3770l69-26 57-16-68 26z"/>
<path fill="#f7f51b" d="M4228 3618l58-16 68-11-57 16z"/>
<path fill="#f8d92b" d="M3848 3728l69-24 58-16-69 24z"/>
<path fill="#f5ee21" d="M4101 3650l58-15 69-17-58 16z"/>
<path fill="#f5e526" d="M3975 3688l69-22 57-16-69 22z"/>
<path fill="#f9fb15" d="M4423 3589l58-16 69 8-58 16z"/>
<path fill="#b8c431" d="M2905 4026l69-20 58-16-69 21z"/>
<path fill="#a7c73c" d="M2779 4060l68-18 58-16-69 19z"/>
<path fill="#cac129" d="M3032 3990l68-22 58-16-69 23z"/>
<path fill="#96ca48" d="M2652 4093l58-16 69-17-58 16z"/>
<path fill="#debd29" d="M3158 3952l69-24 58-16-69 24z"/>
<path fill="#81cc59" d="M2526 4124l57-15 69-16-58 16z"/>
<path fill="#ecba33" d="M3285 3912l68-25 58-16-69 26z"/>
<path fill="#72cd64" d="M2399 4154l58-15 69-15-58 16z"/>
<path fill="#fabb3d" d="M3411 3871l69-27 58-15-69 26z"/>
<path fill="#f9fb15" d="M4297 3607l57-16 69-2-58 16z"/>
<path fill="#fec438" d="M3538 3829l68-27 58-16-69 27z"/>
<path fill="#fcce31" d="M3664 3786l69-26 58-16-69 26z"/>
<path fill="#f7f51b" d="M4170 3634l58-16 69-11-58 16z"/>
<path fill="#f8d92b" d="M3791 3744l68-24 58-16-69 24z"/>
<path fill="#f5ee21" d="M4044 3666l57-16 69-16-58 16z"/>
<path fill="#f5e526" d="M3917 3704l69-22 58-16-69 22z"/>
<path fill="#f9fb15" d="M4492 3597l58-16 68 18-57 16zm-127 8l58-16 69 8-58 16z"/>
<path fill="#b8c431" d="M2847 4042l69-20 58-16-69 20z"/>
<path fill="#a7c73c" d="M2721 4076l58-16 68-18-57 16z"/>
<path fill="#cac129" d="M2974 4006l69-22 57-16-68 22z"/>
<path fill="#93ca4b" d="M2594 4109l58-16 69-17-58 17z"/>
<path fill="#debd29" d="M3100 3968l69-24 58-16-69 24z"/>
<path fill="#81cc59" d="M2468 4140l58-16 68-15-57 17z"/>
<path fill="#ecba33" d="M3227 3928l69-26 57-15-68 25z"/>
<path fill="#72cd64" d="M2341 4169l58-15 69-14-58 16z"/>
<path fill="#fabb3d" d="M3353 3887l69-27 58-16-69 27z"/>
<path fill="#f9fb15" d="M4239 3623l58-16 68-2-57 16z"/>
<path fill="#fec438" d="M3480 3844l69-26 57-16-68 27z"/>
<path fill="#fcce31" d="M3606 3802l69-26 58-16-69 26z"/>
<path fill="#f7f51b" d="M4112 3650l58-16 69-11-58 16z"/>
<path fill="#f8d92b" d="M3733 3760l69-24 57-16-68 24z"/>
<path fill="#f5ee21" d="M3986 3682l58-16 68-16-57 16z"/>
<path fill="#f5e526" d="M3859 3720l69-22 58-16-69 22z"/>
<path fill="#f9fb15" d="M4561 3615l57-16 69 30-57 16zm-127-2l58-16 69 18-58 16zm-126 8l57-16 69 8-58 16z"/>
<path fill="#a4c83e" d="M2663 4093l58-17 69-18-58 18z"/>
<path fill="#b8c431" d="M2790 4058l68-20 58-16-69 20z"/>
<path fill="#93ca4b" d="M2537 4126l57-17 69-16-57 18z"/>
<path fill="#cac129" d="M2916 4022l69-22 58-16-69 22z"/>
<path fill="#81cc59" d="M2410 4156l58-16 69-14-58 17z"/>
<path fill="#dbbd29" d="M3043 3984l69-24 57-16-69 24z"/>
<path fill="#ecba33" d="M3169 3944l69-26 58-16-69 26z"/>
<path fill="#72cd64" d="M2284 4184l57-15 69-13-58 16z"/>
<path fill="#fabb3d" d="M3296 3902l68-26 58-16-69 27z"/>
<path fill="#f9fb15" d="M4181 3639l58-16 69-2-58 16z"/>
<path fill="#fec438" d="M3422 3860l69-26 58-16-69 26z"/>
<path fill="#fcce31" d="M3549 3818l69-26 57-16-69 26z"/>
<path fill="#f7f51b" d="M4055 3666l57-16 69-11-57 16z"/>
<path fill="#f8d92b" d="M3675 3776l69-24 58-16-69 24z"/>
<path fill="#f5ec22" d="M3928 3698l58-16 69-16-58 16z"/>
<path fill="#f5e327" d="M3802 3736l68-21 58-17-69 22z"/>
<path fill="#f9fb15" d="M4630 3645l57-16 69 41-58 16zm-127-14l58-16 69 30-58 16zm-127-2l58-16 69 18-58 16zm-126 8l58-16 68 8-57 16z"/>
<path fill="#a4c83e" d="M2606 4111l57-18 69-17-58 18z"/>
<path fill="#b8c431" d="M2732 4076l58-18 68-20-57 18z"/>
<path fill="#93ca4b" d="M2479 4143l58-17 69-15-58 17z"/>
<path fill="#cac129" d="M2858 4038l69-22 58-16-69 22z"/>
<path fill="#81cc59" d="M2352 4172l58-16 69-13-58 17z"/>
<path fill="#dbbd29" d="M2985 4000l69-24 58-16-69 24z"/>
<path fill="#ecba33" d="M3112 3960l68-26 58-16-69 26z"/>
<path fill="#72cd64" d="M2226 4200l58-16 68-12-57 17z"/>
<path fill="#fabb3d" d="M3238 3918l69-26 57-16-68 26z"/>
<path fill="#f9fb15" d="M4124 3655l57-16 69-2-58 16z"/>
<path fill="#fec438" d="M3364 3876l69-27 58-15-69 26z"/>
<path fill="#fcce31" d="M3491 3834l69-26 58-16-69 26z"/>
<path fill="#f7f51b" d="M3997 3682l58-16 69-11-58 17z"/>
<path fill="#f8d92b" d="M3618 3792l68-24 58-16-69 24z"/>
<path fill="#f5ec22" d="M3870 3715l58-17 69-16-58 16z"/>
<path fill="#f5e327" d="M3744 3752l69-21 57-16-68 21z"/>
<path fill="#f7f51b" d="M4698 3686l58-16 69 53-58 16z"/>
<path fill="#f9fb15" d="M4572 3661l58-16 68 41-57 16zm-127-14l58-16 69 30-58 16zm-126-2l57-16 69 18-57 16z"/>
<path fill="#a4c83e" d="M2548 4128l58-17 68-17-57 18z"/>
<path fill="#b5c533" d="M2674 4094l58-18 69-20-58 19z"/>
<path fill="#f9fb15" d="M4192 3653l58-16 69 8-58 16z"/>
<path fill="#8fcb4e" d="M2421 4160l58-17 69-15-58 18z"/>
<path fill="#c8c129" d="M2801 4056l57-18 69-22-57 19z"/>
<path fill="#81cc59" d="M2295 4189l57-17 69-12-57 17z"/>
<path fill="#f5eb23" d="M4767 3739l58-16 69 63-58 15z"/>
<path fill="#dbbd29" d="M2927 4016l69-23 58-17-69 24z"/>
<path fill="#ecba33" d="M3054 3976l69-25 57-17-68 26z"/>
<path fill="#72cd64" d="M2168 4215l58-15 69-11-58 16z"/>
<path fill="#fabb3d" d="M3180 3934l69-26 58-16-69 26z"/>
<path fill="#f9fb15" d="M4066 3672l58-17 68-2-57 17z"/>
<path fill="#fec438" d="M3307 3892l69-26 57-17-69 27z"/>
<path fill="#fcce31" d="M3433 3849l69-25 58-16-69 26z"/>
<path fill="#f7f41c" d="M3939 3698l58-16 69-10-58 16z"/>
<path fill="#f9d82c" d="M3560 3808l69-24 57-16-68 24z"/>
<path fill="#f5ec22" d="M3813 3731l57-16 69-17-57 16z"/>
<path fill="#f5e327" d="M3686 3768l69-21 58-16-69 21z"/>
<path fill="#f7f51b" d="M4641 3702l57-16 69 53-58 15z"/>
<path fill="#f9fb15" d="M4514 3677l58-16 69 41-58 16z"/>
<path fill="#f7dd2a" d="M4836 3801l58-15 68 72-57 15z"/>
<path fill="#f9fb15" d="M4388 3663l57-16 69 30-58 16zm-127-2l58-16 69 18-58 16z"/>
<path fill="#b5c533" d="M2617 4112l57-18 69-19-58 19z"/>
<path fill="#a1c840" d="M2490 4146l58-18 69-16-58 19z"/>
<path fill="#f9fb15" d="M4135 3670l57-17 69 8-58 16z"/>
<path fill="#8fcb4e" d="M2364 4177l57-17 69-14-58 19z"/>
<path fill="#c8c129" d="M2743 4075l58-19 69-21-58 20z"/>
<path fill="#d9be28" d="M2870 4035l68-23 58-19-69 23z"/>
<path fill="#81cc59" d="M2237 4205l58-16 69-12-58 18z"/>
<path fill="#f5eb23" d="M4709 3754l58-15 69 62-58 16z"/>
<path fill="#eaba31" d="M2996 3993l69-25 58-17-69 25z"/>
<path fill="#72cd64" d="M2111 4230l57-15 69-10-58 16z"/>
<path fill="#f9bb3d" d="M3123 3951l68-26 58-17-69 26z"/>
<path fill="#f9fb15" d="M4008 3688l58-16 69-2-58 16z"/>
<path fill="#fec239" d="M3249 3908l69-26 58-16-69 26z"/>
<path fill="#fdcd32" d="M3376 3866l68-26 58-16-69 25z"/>
<path fill="#f7f41c" d="M3882 3714l57-16 69-10-58 16z"/>
<path fill="#f9d82c" d="M3502 3824l69-24 58-16-69 24z"/>
<path fill="#f5ec22" d="M3755 3747l58-16 69-17-58 16z"/>
<path fill="#f5e327" d="M3629 3784l68-21 58-16-69 21z"/>
<path fill="#f7f41c" d="M4583 3718l58-16 68 52-57 16z"/>
<path fill="#fdcd32" d="M4905 3873l57-15 69 80-57 15z"/>
<path fill="#f9fb15" d="M4456 3693l58-16 69 41-58 16z"/>
<path fill="#f7dd2a" d="M4778 3817l58-16 69 72-58 16z"/>
<path fill="#f9fb15" d="M4330 3679l58-16 68 30-57 16zm-127-2l58-16 69 18-58 16z"/>
<path fill="#b1c635" d="M2559 4131l58-19 68-18-57 21z"/>
<path fill="#a1c840" d="M2432 4165l58-19 69-15-58 20z"/>
<path fill="#c5c22a" d="M2685 4094l58-19 69-20-58 20z"/>
<path fill="#8fcb4e" d="M2306 4195l58-18 68-12-57 19z"/>
<path fill="#f9fb15" d="M4077 3686l58-16 68 7-57 16z"/>
<path fill="#d9be28" d="M2812 4055l58-20 68-23-57 21z"/>
<path fill="#fdbd3d" d="M4974 3953l57-15 69 87-58 15z"/>
<path fill="#7dcc5b" d="M2179 4221l58-16 69-10-58 17z"/>
<path fill="#f5eb23" d="M4652 3770l57-16 69 63-58 16z"/>
<path fill="#eaba31" d="M2938 4012l69-24 58-20-69 25z"/>
<path fill="#72cd64" d="M2053 4245l58-15 68-9-57 17z"/>
<path fill="#f9bb3d" d="M3065 3968l69-25 57-18-68 26z"/>
<path fill="#f9f916" d="M3950 3704l58-16 69-2-58 16z"/>
<path fill="#fec239" d="M3191 3925l69-26 58-17-69 26z"/>
<path fill="#fdcd32" d="M3318 3882l69-25 57-17-68 26z"/>
<path fill="#f7f41c" d="M3824 3730l58-16 68-10-57 16z"/>
<path fill="#f9d82c" d="M3444 3840l69-24 58-16-69 24z"/>
<path fill="#f5ec22" d="M3697 3763l58-16 69-17-58 17z"/>
<path fill="#f5e327" d="M3571 3800l69-21 57-16-68 21z"/>
<path fill="#f7f41c" d="M4525 3734l58-16 69 52-58 16z"/>
<path fill="#fdcd32" d="M4847 3889l58-16 69 80-58 16z"/>
<path fill="#f9fb15" d="M4399 3709l57-16 69 41-57 16z"/>
<path fill="#e3bc2c" d="M5042 4040l58-15 69 92-58 15z"/>
<path fill="#f7dd2a" d="M4720 3833l58-16 69 72-58 16z"/>
<path fill="#f9fb15" d="M4272 3695l58-16 69 30-58 16zm-126-2l57-16 69 18-58 17z"/>
<path fill="#aec637" d="M2501 4151l58-20 69-16-58 21z"/>
<path fill="#9dc943" d="M2375 4184l57-19 69-14-58 20z"/>
<path fill="#c1c32c" d="M2628 4115l57-21 69-19-58 22z"/>
<path fill="#8bcb51" d="M2248 4212l58-17 69-11-58 18z"/>
<path fill="#d6be28" d="M2754 4075l58-20 69-22-58 21z"/>
<path fill="#f9fb15" d="M4019 3702l58-16 69 7-58 17z"/>
<path fill="#7dcc5b" d="M2122 4238l57-17 69-9-58 18z"/>
<path fill="#fdbd3d" d="M4916 3969l58-16 68 87-57 15z"/>
<path fill="#e8bb2f" d="M2881 4033l57-21 69-24-57 22z"/>
<path fill="#f5eb23" d="M4594 3786l58-16 68 63-57 16z"/>
<path fill="#f7ba3c" d="M3007 3988l69-24 58-21-69 25z"/>
<path fill="#72cd64" d="M1995 4260l58-15 69-7-58 16z"/>
<path fill="#f9f916" d="M3893 3720l57-16 69-2-57 16z"/>
<path fill="#fec239" d="M3134 3943l68-26 58-18-69 26z"/>
<path fill="#fdcd32" d="M3260 3899l69-26 58-16-69 25z"/>
<path fill="#f7f41c" d="M3766 3747l58-17 69-10-58 16z"/>
<path fill="#f9d82c" d="M3387 3857l69-24 57-17-69 24z"/>
<path fill="#f5ec22" d="M3640 3779l57-16 69-16-58 16z"/>
<path fill="#f5e327" d="M3513 3816l69-21 58-16-69 21z"/>
<path fill="#bbc42f" d="M5111 4132l58-15 69 95-58 15z"/>
<path fill="#f7f41c" d="M4468 3750l57-16 69 52-58 16z"/>
<path fill="#fdcd32" d="M4789 3905l58-16 69 80-58 16z"/>
<path fill="#f9fb15" d="M4341 3725l58-16 69 41-58 16z"/>
<path fill="#e3bc2c" d="M4985 4055l57-15 69 92-58 15z"/>
<path fill="#f7dd2a" d="M4663 3849l57-16 69 72-57 15z"/>
<path fill="#f9fb15" d="M4214 3712l58-17 69 30-58 16z"/>
<path fill="#8bcb51" d="M5180 4227l58-15 68 98-57 15z"/>
<path fill="#f9fb15" d="M4088 3710l58-17 68 19-57 16z"/>
<path fill="#abc739" d="M2443 4171l58-20 69-15-58 21z"/>
<path fill="#bec32e" d="M2570 4136l58-21 68-18-57 22z"/>
<path fill="#9ac946" d="M2317 4202l58-18 68-13-57 20z"/>
<path fill="#d3bf27" d="M2696 4097l58-22 69-21-58 23z"/>
<path fill="#8bcb51" d="M2190 4230l58-18 69-10-58 20z"/>
<path fill="#f9fb15" d="M3962 3718l57-16 69 8-58 16z"/>
<path fill="#e5bb2d" d="M2823 4054l58-21 69-23-58 22z"/>
<path fill="#7dcc5b" d="M2064 4254l58-16 68-8-57 18z"/>
<path fill="#fdbd3d" d="M4858 3985l58-16 69 86-58 16z"/>
<path fill="#f5e924" d="M4536 3802l58-16 69 63-58 16z"/>
<path fill="#f5ba3a" d="M2950 4010l57-22 69-24-58 22z"/>
<path fill="#72cd64" d="M1938 4275l57-15 69-6-58 17z"/>
<path fill="#fec13a" d="M3076 3964l58-21 68-26-57 22z"/>
<path fill="#f9f916" d="M3835 3736l58-16 69-2-58 16z"/>
<path fill="#fdcb32" d="M3202 3917l69-25 58-19-69 26z"/>
<path fill="#f7f41c" d="M3708 3763l58-16 69-11-58 17z"/>
<path fill="#f9d82c" d="M3329 3873l69-23 58-17-69 24z"/>
<path fill="#f5eb23" d="M3582 3795l58-16 68-16-57 16z"/>
<path fill="#f5e128" d="M3456 3833l68-21 58-17-69 21z"/>
<path fill="#bbc42f" d="M5053 4147l58-15 69 95-58 16z"/>
<path fill="#f7f41c" d="M4410 3766l58-16 68 52-57 16z"/>
<path fill="#fdcd32" d="M4732 3920l57-15 69 80-58 15z"/>
<path fill="#5acc77" d="M5249 4325l57-15 69 98-57 15z"/>
<path fill="#f9fb15" d="M4283 3741l58-16 69 41-58 16z"/>
<path fill="#e3bc2c" d="M4927 4071l58-16 68 92-57 16z"/>
<path fill="#f7dd2a" d="M4605 3865l58-16 69 71-58 16z"/>
<path fill="#f9fb15" d="M4157 3728l57-16 69 29-57 16z"/>
<path fill="#8bcb51" d="M5122 4243l58-16 69 98-58 15z"/>
<path fill="#f9fb15" d="M4030 3726l58-16 69 18-58 16z"/>
<path fill="#a7c73c" d="M2386 4191l57-20 69-14-57 22z"/>
<path fill="#bbc42f" d="M2512 4157l58-21 69-17-58 23z"/>
<path fill="#96ca48" d="M2259 4222l58-20 69-11-58 21z"/>
<path fill="#cdc028" d="M2639 4119l57-22 69-20-57 24z"/>
<path fill="#88cb53" d="M2133 4248l57-18 69-8-57 19z"/>
<path fill="#e0bc2b" d="M2765 4077l58-23 69-22-58 24z"/>
<path fill="#35c79b" d="M5318 4423l57-15 69 97-58 15z"/>
<path fill="#f9fb15" d="M3904 3734l58-16 68 8-57 16z"/>
<path fill="#7dcc5b" d="M2006 4271l58-17 69-6-58 18z"/>
<path fill="#f3ba38" d="M2892 4032l58-22 68-24-57 24z"/>
<path fill="#fcbc3d" d="M4800 4000l58-15 69 86-58 15z"/>
<path fill="#f5e924" d="M4479 3818l57-16 69 63-58 16z"/>
<path fill="#febe3c" d="M3018 3986l58-22 69-25-58 23z"/>
<path fill="#72cd64" d="M1880 4291l58-16 68-4-57 16z"/>
<path fill="#f9f916" d="M3777 3753l58-17 69-2-58 17z"/>
<path fill="#feca33" d="M3145 3939l57-22 69-25-57 23z"/>
<path fill="#f6f21e" d="M3651 3779l57-16 69-10-57 16z"/>
<path fill="#f9d62d" d="M3271 3892l69-23 58-19-69 23z"/>
<path fill="#f5eb23" d="M3524 3812l58-17 69-16-58 17z"/>
<path fill="#f5e128" d="M3398 3850l58-17 68-21-57 18z"/>
<path fill="#bbc42f" d="M4996 4163l57-16 69 96-58 15z"/>
<path fill="#f7f41c" d="M4352 3782l58-16 69 52-58 16z"/>
<path fill="#fdcd32" d="M4674 3936l58-16 68 80-57 16z"/>
<path fill="#5acc77" d="M5191 4340l58-15 69 98-58 15z"/>
<path fill="#f9f916" d="M4226 3757l57-16 69 41-58 16z"/>
<path fill="#1ac0b5" d="M5386 4520l58-15 69 94-58 14z"/>
<path fill="#e3bc2c" d="M4869 4086l58-15 69 92-58 15z"/>
<path fill="#f7dd2a" d="M4547 3881l58-16 69 71-58 16z"/>
<path fill="#f9fb15" d="M4099 3744l58-16 69 29-58 17z"/>
<path fill="#8bcb51" d="M5064 4258l58-15 69 97-58 15z"/>
<path fill="#f9fb15" d="M3973 3742l57-16 69 18-58 16z"/>
<path fill="#b8c431" d="M2455 4179l57-22 69-15-58 23z"/>
<path fill="#a4c83e" d="M2328 4212l58-21 69-12-58 22z"/>
<path fill="#cac129" d="M2581 4142l58-23 69-18-58 25z"/>
<path fill="#96ca48" d="M2202 4241l57-19 69-10-58 21z"/>
<path fill="#debd29" d="M2708 4101l57-24 69-21-58 26z"/>
<path fill="#88cb53" d="M2075 4266l58-18 69-7-58 19z"/>
<path fill="#efba35" d="M2834 4056l58-24 69-22-58 25z"/>
<path fill="#35c79b" d="M5260 4438l58-15 68 97-57 15z"/>
<path fill="#f9fb15" d="M3846 3751l58-17 69 8-58 16z"/>
<path fill="#79cc5e" d="M1949 4287l57-16 69-5-58 18z"/>
<path fill="#fcbc3d" d="M4743 4016l57-16 69 86-57 16z"/>
<path fill="#fdbd3d" d="M2961 4010l57-24 69-24-58 25z"/>
<path fill="#f5e924" d="M4421 3834l58-16 68 63-57 16z"/>
<path fill="#72cd64" d="M1822 4306l58-15 69-4-58 17z"/>
<path fill="#fec834" d="M3087 3962l58-23 69-24-58 24z"/>
<path fill="#f9f916" d="M3720 3769l57-16 69-2-58 16z"/>
<path fill="#fad52e" d="M3214 3915l57-23 69-23-58 23z"/>
<path fill="#f6f21e" d="M3593 3796l58-17 69-10-58 17z"/>
<path fill="#f6e028" d="M3340 3869l58-19 69-20-58 19z"/>
<path fill="#f5eb23" d="M3467 3830l57-18 69-16-58 18z"/>
<path fill="#03b7cc" d="M5455 4613l58-14 69 88-58 15z"/>
<path fill="#bbc42f" d="M4938 4178l58-15 68 95-57 15z"/>
<path fill="#f7f41c" d="M4294 3798l58-16 69 52-58 16z"/>
<path fill="#fdcd32" d="M4616 3952l58-16 69 80-58 15z"/>
<path fill="#5acc77" d="M5133 4355l58-15 69 98-58 15z"/>
<path fill="#f9f916" d="M4168 3774l58-17 68 41-57 16z"/>
<path fill="#1ac0b5" d="M5329 4535l57-15 69 93-58 15z"/>
<path fill="#e3bc2c" d="M4812 4102l57-16 69 92-58 15z"/>
<path fill="#f7dd2a" d="M4490 3897l57-16 69 71-58 16z"/>
<path fill="#f9fb15" d="M4041 3760l58-16 69 30-58 16z"/>
<path fill="#1babde" d="M5524 4702l58-15 68 84-57 14z"/>
<path fill="#8bcb51" d="M5007 4273l57-15 69 97-57 15z"/>
<path fill="#f9fb15" d="M3915 3758l58-16 68 18-57 17z"/>
<path fill="#b5c533" d="M2397 4201l58-22 68-14-57 24z"/>
<path fill="#a1c840" d="M2270 4233l58-21 69-11-58 23z"/>
<path fill="#c8c129" d="M2523 4165l58-23 69-16-58 24z"/>
<path fill="#93ca4b" d="M2144 4260l58-19 68-8-57 21z"/>
<path fill="#d9be28" d="M2650 4126l58-25 68-19-57 26z"/>
<path fill="#84cc56" d="M2017 4284l58-18 69-6-58 19z"/>
<path fill="#eaba31" d="M2776 4082l58-26 69-21-58 27z"/>
<path fill="#f9fb15" d="M3788 3767l58-16 69 7-58 17z"/>
<path fill="#35c79b" d="M5202 4453l58-15 69 97-58 14z"/>
<path fill="#fabb3d" d="M2903 4035l58-25 68-23-57 26z"/>
<path fill="#79cc5e" d="M1891 4304l58-17 68-3-57 17z"/>
<path fill="#fcbc3d" d="M4685 4031l58-15 69 86-58 15z"/>
<path fill="#f5e924" d="M4363 3850l58-16 69 63-58 16z"/>
<path fill="#fec537" d="M3029 3987l58-25 69-23-58 25z"/>
<path fill="#72cd64" d="M1764 4321l58-15 69-2-58 16z"/>
<path fill="#f8f818" d="M3662 3786l58-17 68-2-57 18z"/>
<path fill="#fbd22f" d="M3156 3939l58-24 68-23-57 26z"/>
<path fill="#f6f21e" d="M3535 3814l58-18 69-10-58 18z"/>
<path fill="#f6de29" d="M3282 3892l58-23 69-20-58 24z"/>
<path fill="#f5e924" d="M3409 3849l58-19 68-16-57 19z"/>
<path fill="#03b7cc" d="M5397 4628l58-15 69 89-58 15z"/>
<path fill="#bbc42f" d="M4880 4193l58-15 69 95-58 15z"/>
<path fill="#f6f21e" d="M4237 3814l57-16 69 52-57 16z"/>
<path fill="#fdcd32" d="M4558 3968l58-16 69 79-58 16z"/>
<path fill="#5acc77" d="M5076 4370l57-15 69 98-58 15z"/>
<path fill="#249ee6" d="M5593 4785l57-14 69 76-57 15z"/>
<path fill="#f9f916" d="M4110 3790l58-16 69 40-58 17z"/>
<path fill="#1ac0b5" d="M5271 4549l58-14 68 93-57 14z"/>
<path fill="#e3bc2c" d="M4754 4117l58-15 68 91-57 16z"/>
<path fill="#f7db2a" d="M4432 3913l58-16 68 71-57 16z"/>
<path fill="#f9fb15" d="M3984 3777l57-17 69 30-58 16z"/>
<path fill="#1babde" d="M5466 4717l58-15 69 83-58 14z"/>
<path fill="#8bcb51" d="M4949 4288l58-15 69 97-58 15z"/>
<path fill="#aec637" d="M2339 4224l58-23 69-12-58 24z"/>
<path fill="#c1c32c" d="M2466 4189l57-24 69-15-58 26z"/>
<path fill="#a1c840" d="M2213 4254l57-21 69-9-57 22z"/>
<path fill="#f9fb15" d="M3857 3775l58-17 69 19-58 16z"/>
<path fill="#d3bf27" d="M2592 4150l58-24 69-18-58 26z"/>
<path fill="#8fcb4e" d="M2086 4279l58-19 69-6-58 20z"/>
<path fill="#e5bb2d" d="M2719 4108l57-26 69-20-57 27z"/>
<path fill="#84cc56" d="M1960 4301l57-17 69-5-57 19z"/>
<path fill="#f7ba3c" d="M2845 4062l58-27 69-22-58 29z"/>
<path fill="#f9fb15" d="M3731 3785l57-18 69 8-57 17z"/>
<path fill="#79cc5e" d="M1833 4320l58-16 69-3-58 18z"/>
<path fill="#35c79b" d="M5144 4468l58-15 69 96-58 15z"/>
<path fill="#fec239" d="M2972 4013l57-26 69-23-58 28z"/>
<path fill="#fcbc3d" d="M4627 4047l58-16 69 86-58 16z"/>
<path fill="#f5e924" d="M4306 3866l57-16 69 63-58 15z"/>
<path fill="#fcce31" d="M3098 3964l58-25 69-21-58 26z"/>
<path fill="#72cd64" d="M1707 4336l57-15 69-1-57 17z"/>
<path fill="#f8f818" d="M3604 3804l58-18 69-1-58 17z"/>
<path fill="#f7db2a" d="M3225 3918l57-26 69-19-57 26z"/>
<path fill="#f6f11f" d="M3478 3833l57-19 69-10-58 20z"/>
<path fill="#f5e825" d="M3351 3873l58-24 69-16-58 25z"/>
<path fill="#2b90f0" d="M5662 4862l57-15 69 70-58 14z"/>
<path fill="#03b7cc" d="M5340 4642l57-14 69 89-58 14z"/>
<path fill="#bbc42f" d="M4823 4209l57-16 69 95-58 15z"/>
<path fill="#f6f21e" d="M4179 3831l58-17 69 52-58 16z"/>
<path fill="#fdcb32" d="M4501 3984l57-16 69 79-57 16z"/>
<path fill="#5acc77" d="M5018 4385l58-15 68 98-57 15z"/>
<path fill="#249ee6" d="M5535 4799l58-14 69 77-58 14z"/>
<path fill="#f9f916" d="M4052 3806l58-16 69 41-58 16z"/>
<path fill="#1ac0b5" d="M5213 4564l58-15 69 93-58 15z"/>
<path fill="#e3bc2c" d="M4696 4133l58-16 69 92-58 15z"/>
<path fill="#f7db2a" d="M4374 3928l58-15 69 71-58 16z"/>
<path fill="#f9fb15" d="M3926 3793l58-16 68 29-57 17z"/>
<path fill="#1babde" d="M5408 4731l58-14 69 82-58 15z"/>
<path fill="#2e83f9" d="M5730 4931l58-14 69 63-58 14z"/>
<path fill="#8bcb51" d="M4891 4303l58-15 69 97-58 15z"/>
<path fill="#bbc42f" d="M2408 4213l58-24 68-13-57 26z"/>
<path fill="#abc739" d="M2282 4246l57-22 69-11-58 24z"/>
<path fill="#d0bf27" d="M2534 4176l58-26 69-16-58 28z"/>
<path fill="#9dc943" d="M2155 4274l58-20 69-8-58 22z"/>
<path fill="#e0bc2b" d="M2661 4134l58-26 69-19-58 29z"/>
<path fill="#f9fb15" d="M3800 3792l57-17 69 18-58 17z"/>
<path fill="#8fcb4e" d="M2029 4298l57-19 69-5-58 21z"/>
<path fill="#f3ba38" d="M2788 4089l57-27 69-20-58 29z"/>
<path fill="#81cc59" d="M1902 4319l58-18 69-3-58 20z"/>
<path fill="#fec03b" d="M2914 4042l58-29 68-21-57 30z"/>
<path fill="#f9fb15" d="M3673 3802l58-17 69 7-58 18z"/>
<path fill="#79cc5e" d="M1776 4337l57-17 69-1-58 18z"/>
<path fill="#35c79b" d="M5087 4483l57-15 69 96-57 15z"/>
<path fill="#fdcb32" d="M3040 3992l58-28 69-20-58 29z"/>
<path fill="#fcbc3d" d="M4570 4063l57-16 69 86-58 16z"/>
<path fill="#f5e924" d="M4248 3882l58-16 68 62-57 16z"/>
<path fill="#f9d82c" d="M3167 3944l58-26 69-19-58 27z"/>
<path fill="#f8f619" d="M3546 3824l58-20 69-2-58 20z"/>
<path fill="#6ecd66" d="M1649 4351l58-15 69 1-58 16z"/>
<path fill="#f5e526" d="M3294 3899l57-26 69-15-58 27z"/>
<path fill="#f5ee21" d="M3420 3858l58-25 68-9-57 24z"/>
<path fill="#2b90f0" d="M5604 4876l58-14 68 69-57 14z"/>
<path fill="#03b7cc" d="M5282 4657l58-15 68 89-57 14z"/>
<path fill="#bbc42f" d="M4765 4224l58-15 68 94-57 16z"/>
<path fill="#f6f21e" d="M4121 3847l58-16 69 51-58 17z"/>
<path fill="#fdcb32" d="M4443 4000l58-16 69 79-58 16z"/>
<path fill="#5acc77" d="M4960 4400l58-15 69 98-58 15z"/>
<path fill="#249ee6" d="M5477 4814l58-15 69 77-58 14z"/>
<path fill="#f9f916" d="M3995 3823l57-17 69 41-57 16z"/>
<path fill="#3677fe" d="M5799 4994l58-14 69 56-58 14z"/>
<path fill="#1ac0b5" d="M5156 4579l57-15 69 93-58 15z"/>
<path fill="#e3bc2c" d="M4638 4149l58-16 69 91-58 15z"/>
<path fill="#f9fb15" d="M3868 3810l58-17 69 30-58 17z"/>
<path fill="#f7db2a" d="M4317 3944l57-16 69 72-58 15z"/>
<path fill="#b8c431" d="M2350 4237l58-24 69-11-58 25z"/>
<path fill="#cac129" d="M2477 4202l57-26 69-14-57 27z"/>
<path fill="#a7c73c" d="M2224 4268l58-22 68-9-57 24z"/>
<path fill="#1babde" d="M5351 4745l57-14 69 83-57 14z"/>
<path fill="#dbbd29" d="M2603 4162l58-28 69-16-58 29z"/>
<path fill="#9ac946" d="M2097 4295l58-21 69-6-58 22z"/>
<path fill="#8bcb51" d="M4834 4319l57-16 69 97-58 15z"/>
<path fill="#2e83f9" d="M5673 4945l57-14 69 63-58 14z"/>
<path fill="#efba35" d="M2730 4118l58-29 68-18-57 30z"/>
<path fill="#f9fb15" d="M3742 3810l58-18 68 18-57 18z"/>
<path fill="#8bcb51" d="M1971 4318l58-20 68-3-57 20z"/>
<path fill="#fcbc3d" d="M2856 4071l58-29 69-20-58 31z"/>
<path fill="#81cc59" d="M1844 4337l58-18 69-1-58 19z"/>
<path fill="#fec834" d="M2983 4022l57-30 69-19-57 31z"/>
<path fill="#f9fb15" d="M3615 3822l58-20 69 8-58 20z"/>
<path fill="#76cc61" d="M1718 4353l58-16 68 0-57 18z"/>
<path fill="#fad52e" d="M3109 3973l58-29 69-18-58 30z"/>
<path fill="#35c79b" d="M5029 4498l58-15 69 96-58 14z"/>
<path fill="#fcbc3d" d="M4512 4079l58-16 68 86-57 15z"/>
<path fill="#f5e825" d="M4190 3899l58-17 69 62-58 16z"/>
<path fill="#f7f41c" d="M3489 3848l57-24 69-2-57 25z"/>
<path fill="#f5e128" d="M3236 3926l58-27 68-14-57 28z"/>
<path fill="#f5eb23" d="M3362 3885l58-27 69-10-58 28z"/>
<path fill="#6ecd66" d="M1591 4366l58-15 69 2-58 16z"/>
<path fill="#2b90f0" d="M5546 4890l58-14 69 69-58 14z"/>
<path fill="#03b7cc" d="M5224 4672l58-15 69 88-58 15z"/>
<path fill="#bbc42f" d="M4707 4239l58-15 69 95-58 15z"/>
<path fill="#416bfe" d="M5868 5050l58-14 68 50-57 14z"/>
<path fill="#f6f21e" d="M4064 3863l57-16 69 52-58 16z"/>
<path fill="#fdcb32" d="M4385 4015l58-15 69 79-58 15z"/>
<path fill="#5acc77" d="M4902 4415l58-15 69 98-58 14z"/>
<path fill="#249ee6" d="M5420 4828l57-14 69 76-58 14z"/>
<path fill="#f8f818" d="M3937 3840l58-17 69 40-58 17z"/>
<path fill="#3677fe" d="M5741 5008l58-14 69 56-58 14z"/>
<path fill="#1ac0b5" d="M5098 4593l58-14 68 93-57 14z"/>
<path fill="#e0bc2b" d="M4581 4164l57-15 69 90-57 16z"/>
<path fill="#f9fb15" d="M3811 3828l57-18 69 30-58 17z"/>
<path fill="#f7db2a" d="M4259 3960l58-16 68 71-57 16z"/>
<path fill="#b5c533" d="M2293 4261l57-24 69-10-58 25z"/>
<path fill="#c5c22a" d="M2419 4227l58-25 69-13-58 27z"/>
<path fill="#a4c83e" d="M2166 4290l58-22 69-7-58 23z"/>
<path fill="#d6be28" d="M2546 4189l57-27 69-15-58 29z"/>
<path fill="#96ca48" d="M2040 4315l57-20 69-5-58 22z"/>
<path fill="#e8bb2f" d="M2672 4147l58-29 69-17-58 31z"/>
<path fill="#1babde" d="M5293 4760l58-15 69 83-58 14z"/>
<path fill="#8bcb51" d="M4776 4334l58-15 68 96-57 15z"/>
<path fill="#2e83f9" d="M5615 4959l58-14 68 63-57 14z"/>
<path fill="#88cb53" d="M1913 4337l58-19 69-3-58 21z"/>
<path fill="#f9bb3d" d="M2799 4101l57-30 69-18-58 32z"/>
<path fill="#f9fb15" d="M3684 3830l58-20 69 18-58 20z"/>
<path fill="#fec438" d="M2925 4053l58-31 69-18-58 33z"/>
<path fill="#81cc59" d="M1787 4355l57-18 69 0-58 19z"/>
<path fill="#fcd030" d="M3052 4004l57-31 69-17-58 33z"/>
<path fill="#f8f818" d="M3558 3847l57-25 69 8-58 25z"/>
<path fill="#76cc61" d="M1660 4369l58-16 69 2-58 17z"/>
<path fill="#f7dd2a" d="M3178 3956l58-30 69-13-58 30z"/>
<path fill="#f6f11f" d="M3431 3876l58-28 69-1-58 28z"/>
<path fill="#f5e825" d="M3305 3913l57-28 69-9-58 29z"/>
<path fill="#35c79b" d="M4971 4512l58-14 69 95-58 15z"/>
<path fill="#f5e825" d="M4132 3915l58-16 69 61-58 17z"/>
<path fill="#fcbc3d" d="M4454 4094l58-15 69 85-58 16z"/>
<path fill="#4562fc" d="M5937 5100l57-14 69 46-57 13z"/>
<path fill="#6ecd66" d="M1534 4382l57-16 69 3-58 17z"/>
<path fill="#2b90f0" d="M5488 4904l58-14 69 69-58 14z"/>
<path fill="#03b7cc" d="M5167 4686l57-14 69 88-58 14z"/>
<path fill="#bbc42f" d="M4650 4255l57-16 69 95-58 15z"/>
<path fill="#f6f11f" d="M4006 3880l58-17 68 52-57 17z"/>
<path fill="#416bfe" d="M5810 5064l58-14 69 50-58 14z"/>
<path fill="#fdcb32" d="M4328 4031l57-16 69 79-58 16z"/>
<path fill="#5acc77" d="M4845 4430l57-15 69 97-57 15z"/>
<path fill="#249ee6" d="M5362 4842l58-14 68 76-57 14z"/>
<path fill="#f8f818" d="M3879 3857l58-17 69 40-58 18z"/>
<path fill="#3677fe" d="M5684 5022l57-14 69 56-58 13z"/>
<path fill="#1ac0b5" d="M5040 4608l58-15 69 93-58 15z"/>
<path fill="#e0bc2b" d="M4523 4180l58-16 69 91-58 15z"/>
<path fill="#f9fb15" d="M3753 3848l58-20 68 29-57 20z"/>
<path fill="#f7db2a" d="M4201 3977l58-17 69 71-58 16z"/>
<path fill="#bec32e" d="M2361 4252l58-25 69-11-58 27z"/>
<path fill="#aec637" d="M2235 4284l58-23 68-9-57 26z"/>
<path fill="#d0bf27" d="M2488 4216l58-27 68-13-57 29z"/>
<path fill="#a1c840" d="M2108 4312l58-22 69-6-58 24z"/>
<path fill="#e3bc2c" d="M2614 4176l58-29 69-15-58 31z"/>
<path fill="#93ca4b" d="M1982 4336l58-21 68-3-57 22z"/>
<path fill="#f3ba38" d="M2741 4132l58-31 68-16-57 32z"/>
<path fill="#475af9" d="M6006 5145l57-13 69 41-58 14z"/>
<path fill="#f9f916" d="M3626 3855l58-25 69 18-58 25z"/>
<path fill="#8bcb51" d="M4718 4349l58-15 69 96-58 15z"/>
<path fill="#1babde" d="M5235 4774l58-14 69 82-58 14z"/>
<path fill="#88cb53" d="M1855 4356l58-19 69-1-58 20z"/>
<path fill="#fec03b" d="M2867 4085l58-32 69-16-58 33z"/>
<path fill="#2e84f8" d="M5557 4973l58-14 69 63-58 13z"/>
<path fill="#fdcb32" d="M2994 4037l58-33 68-15-57 34z"/>
<path fill="#7dcc5b" d="M1729 4372l58-17 68 1-57 19z"/>
<path fill="#f7f51b" d="M3500 3875l58-28 68 8-57 28z"/>
<path fill="#f9d82c" d="M3120 3989l58-33 69-13-58 35z"/>
<path fill="#f5ee21" d="M3373 3905l58-29 69-1-58 29z"/>
<path fill="#f5e327" d="M3247 3943l58-30 68-8-57 31z"/>
<path fill="#76cc61" d="M1602 4386l58-17 69 3-58 18z"/>
<path fill="#35c79b" d="M4914 4527l57-15 69 96-58 15z"/>
<path fill="#f5e825" d="M4075 3932l57-17 69 62-57 16z"/>
<path fill="#fcbc3d" d="M4396 4110l58-16 69 86-58 15z"/>
<path fill="#6ecd66" d="M1476 4397l58-15 68 4-57 16z"/>
<path fill="#4562fc" d="M5879 5114l58-14 69 45-58 14z"/>
<path fill="#2b90f0" d="M5431 4918l57-14 69 69-57 14z"/>
<path fill="#03b7cc" d="M5109 4701l58-15 68 88-57 14z"/>
<path fill="#bbc42f" d="M4592 4270l58-15 68 94-57 15z"/>
<path fill="#f6f11f" d="M3948 3898l58-18 69 52-58 17z"/>
<path fill="#406dfe" d="M5752 5077l58-13 69 50-58 13z"/>
<path fill="#fdcb32" d="M4270 4047l58-16 68 79-57 16z"/>
<path fill="#5acc77" d="M4787 4445l58-15 69 97-58 15z"/>
<path fill="#249ee6" d="M5304 4856l58-14 69 76-58 14z"/>
<path fill="#f8f619" d="M3822 3877l57-20 69 41-58 19z"/>
<path fill="#3677fe" d="M5626 5035l58-13 68 55-57 14z"/>
<path fill="#1ac0b5" d="M4982 4623l58-15 69 93-58 14z"/>
<path fill="#4853f5" d="M6074 5187l58-14 69 39-58 14z"/>
<path fill="#e0bc2b" d="M4465 4195l58-15 69 90-58 16z"/>
<path fill="#f8f818" d="M3695 3873l58-25 69 29-58 25z"/>
<path fill="#b8c431" d="M2304 4278l57-26 69-9-58 27z"/>
<path fill="#cac129" d="M2430 4243l58-27 69-11-58 29z"/>
<path fill="#abc739" d="M2177 4308l58-24 69-6-58 25z"/>
<path fill="#dbbd29" d="M2557 4205l57-29 69-13-57 31z"/>
<path fill="#f7db2a" d="M4144 3993l57-16 69 70-58 17z"/>
<path fill="#9ac946" d="M2051 4334l57-22 69-4-57 24z"/>
<path fill="#ecba33" d="M2683 4163l58-31 69-15-58 33z"/>
<path fill="#8fcb4e" d="M1924 4356l58-20 69-2-58 22z"/>
<path fill="#fcbc3d" d="M2810 4117l57-32 69-15-58 34z"/>
<path fill="#f8f619" d="M3569 3883l57-28 69 18-57 28z"/>
<path fill="#fec735" d="M2936 4070l58-33 69-14-58 34z"/>
<path fill="#84cc56" d="M1798 4375l57-19 69 0-58 21z"/>
<path fill="#475bfa" d="M5948 5159l58-14 68 42-57 14z"/>
<path fill="#8bcb51" d="M4661 4364l57-15 69 96-58 15z"/>
<path fill="#1aacdd" d="M5178 4788l57-14 69 82-58 15z"/>
<path fill="#2e84f8" d="M5500 4987l57-14 69 62-58 14z"/>
<path fill="#fbd32e" d="M3063 4023l57-34 69-11-57 35z"/>
<path fill="#f6f11f" d="M3442 3904l58-29 69 8-58 29z"/>
<path fill="#7dcc5b" d="M1671 4390l58-18 69 3-58 19z"/>
<path fill="#f6de29" d="M3189 3978l58-35 69-7-58 35z"/>
<path fill="#f5e924" d="M3316 3936l57-31 69-1-58 32z"/>
<path fill="#76cc61" d="M1545 4402l57-16 69 4-57 18z"/>
<path fill="#35c79b" d="M4856 4542l58-15 68 96-57 14z"/>
<path fill="#f5e825" d="M4017 3949l58-17 69 61-58 17z"/>
<path fill="#fcbc3d" d="M4339 4126l57-16 69 85-57 16z"/>
<path fill="#6ecd66" d="M1418 4412l58-15 69 5-58 17z"/>
<path fill="#4562fc" d="M5821 5127l58-13 69 45-58 14z"/>
<path fill="#2b91ef" d="M5373 4932l58-14 69 69-58 14z"/>
<path fill="#03b7cc" d="M5051 4715l58-14 69 87-58 15z"/>
<path fill="#bbc42f" d="M4534 4286l58-16 69 94-58 15z"/>
<path fill="#f6ef20" d="M3890 3917l58-19 69 51-58 19z"/>
<path fill="#406dfe" d="M5695 5091l57-14 69 50-57 14z"/>
<path fill="#fdcb32" d="M4212 4064l58-17 69 79-58 16z"/>
<path fill="#484ef1" d="M6143 5226l58-14 69 36-58 14z"/>
<path fill="#5acc77" d="M4729 4460l58-15 69 97-58 15z"/>
<path fill="#f7f41c" d="M3764 3902l58-25 68 40-57 24z"/>
<path fill="#249fe6" d="M5246 4871l58-15 69 76-58 14z"/>
<path fill="#3677fe" d="M5568 5049l58-14 69 56-58 14z"/>
<path fill="#1ac0b5" d="M4925 4637l57-14 69 92-57 15z"/>
<path fill="#4854f6" d="M6017 5201l57-14 69 39-58 13z"/>
<path fill="#f7f51b" d="M3638 3901l57-28 69 29-58 27z"/>
<path fill="#e0bc2b" d="M4408 4211l57-16 69 91-58 15z"/>
<path fill="#c5c22a" d="M2372 4270l58-27 69-9-58 29z"/>
<path fill="#b5c533" d="M2246 4303l58-25 68-8-57 28z"/>
<path fill="#d6be28" d="M2499 4234l58-29 69-11-58 30z"/>
<path fill="#a4c83e" d="M2120 4332l57-24 69-5-58 25z"/>
<path fill="#e8bb2f" d="M2626 4194l57-31 69-13-58 33z"/>
<path fill="#96ca48" d="M1993 4356l58-22 69-2-58 23z"/>
<path fill="#f8d92b" d="M4086 4010l58-17 68 71-57 17z"/>
<path fill="#f7ba3c" d="M2752 4150l58-33 68-13-57 35z"/>
<path fill="#f6f21e" d="M3511 3912l58-29 69 18-58 29z"/>
<path fill="#8bcb51" d="M1866 4377l58-21 69 0-58 22z"/>
<path fill="#fec13a" d="M2878 4104l58-34 69-13-58 36z"/>
<path fill="#fdcd32" d="M3005 4057l58-34 69-10-58 35z"/>
<path fill="#81cc59" d="M1740 4394l58-19 68 2-57 21z"/>
<path fill="#f5ec22" d="M3384 3936l58-32 69 8-58 32z"/>
<path fill="#f8d92b" d="M3132 4013l57-35 69-7-58 36z"/>
<path fill="#f5e526" d="M3258 3971l58-35 68 0-57 36z"/>
<path fill="#475bfa" d="M5890 5173l58-14 69 42-58 13z"/>
<path fill="#8bcb51" d="M4603 4379l58-15 68 96-57 15z"/>
<path fill="#1aacdd" d="M5120 4803l58-15 68 83-57 14z"/>
<path fill="#2e84f8" d="M5442 5001l58-14 68 62-57 14z"/>
<path fill="#79cc5e" d="M1614 4408l57-18 69 4-58 20z"/>
<path fill="#76cc61" d="M1487 4419l58-17 69 6-58 18z"/>
<path fill="#f5e626" d="M3959 3968l58-19 69 61-58 19z"/>
<path fill="#35c79b" d="M4798 4557l58-15 69 95-58 15z"/>
<path fill="#fabb3d" d="M4281 4142l58-16 69 85-58 16z"/>
<path fill="#6ecd66" d="M1360 4427l58-15 69 7-58 16z"/>
<path fill="#4564fd" d="M5764 5141l57-14 69 46-58 13z"/>
<path fill="#2b91ef" d="M5315 4946l58-14 69 69-58 14z"/>
<path fill="#4848ec" d="M6212 5262l58-14 68 35-57 14z"/>
<path fill="#02b7ca" d="M4994 4730l57-15 69 88-58 14z"/>
<path fill="#bbc42f" d="M4476 4301l58-15 69 93-58 16z"/>
<path fill="#f5ee21" d="M3833 3941l57-24 69 51-57 24z"/>
<path fill="#406dfe" d="M5637 5105l58-14 69 50-58 14z"/>
<path fill="#feca33" d="M4155 4081l57-17 69 78-58 17z"/>
<path fill="#484ef1" d="M6085 5239l58-13 69 36-58 14z"/>
<path fill="#5acc77" d="M4672 4475l57-15 69 97-58 15z"/>
<path fill="#f6f11f" d="M3706 3929l58-27 69 39-58 27z"/>
<path fill="#249fe6" d="M5189 4885l57-14 69 75-57 14z"/>
<path fill="#3579fd" d="M5511 5063l57-14 69 56-58 14z"/>
<path fill="#f6f11f" d="M3580 3930l58-29 68 28-57 29z"/>
<path fill="#bec32e" d="M2315 4298l57-28 69-7-57 29z"/>
<path fill="#d0bf27" d="M2441 4263l58-29 69-10-58 31z"/>
<path fill="#1ac0b5" d="M4867 4652l58-15 69 93-58 14z"/>
<path fill="#aec637" d="M2188 4328l58-25 69-5-58 27z"/>
<path fill="#4854f6" d="M5959 5214l58-13 68 38-57 14z"/>
<path fill="#e0bc2b" d="M2568 4224l58-30 68-11-57 32z"/>
<path fill="#a1c840" d="M2062 4355l58-23 68-4-57 26z"/>
<path fill="#e0bc2b" d="M4350 4227l58-16 68 90-57 16z"/>
<path fill="#f1ba37" d="M2694 4183l58-33 69-11-58 34z"/>
<path fill="#93ca4b" d="M1935 4378l58-22 69-1-58 24z"/>
<path fill="#fdbd3d" d="M2821 4139l57-35 69-11-57 37z"/>
<path fill="#f5ee21" d="M3453 3944l58-32 69 18-58 32z"/>
<path fill="#f8d92b" d="M4028 4029l58-19 69 71-58 18z"/>
<path fill="#fec834" d="M2947 4093l58-36 69-9-58 38z"/>
<path fill="#88cb53" d="M1809 4398l57-21 69 1-57 23z"/>
<path fill="#f5e825" d="M3327 3972l57-36 69 8-57 36z"/>
<path fill="#fbd32e" d="M3074 4048l58-35 68-6-57 37z"/>
<path fill="#f6de29" d="M3200 4007l58-36 69 1-58 37z"/>
<path fill="#7dcc5b" d="M1682 4414l58-20 69 4-58 20z"/>
<path fill="#8bcb51" d="M4545 4395l58-16 69 96-58 15z"/>
<path fill="#475bfa" d="M5832 5186l58-13 69 41-58 14z"/>
<path fill="#1aacdd" d="M5062 4817l58-14 69 82-58 14z"/>
<path fill="#2e84f8" d="M5384 5015l58-14 69 62-58 14z"/>
<path fill="#79cc5e" d="M1556 4426l58-18 68 6-57 19z"/>
<path fill="#72cd64" d="M1429 4435l58-16 69 7-58 18z"/>
<path fill="#f5e327" d="M3902 3992l57-24 69 61-58 23z"/>
<path fill="#35c79b" d="M4740 4572l58-15 69 95-58 15z"/>
<path fill="#fabb3d" d="M4223 4159l58-17 69 85-58 16z"/>
<path fill="#4742e6" d="M6281 5297l57-14 69 33-57 14z"/>
<path fill="#6ecd66" d="M1303 4442l57-15 69 8-57 17z"/>
<path fill="#4564fd" d="M5706 5155l58-14 68 45-57 14z"/>
<path fill="#2b91ef" d="M5258 4960l57-14 69 69-58 14z"/>
<path fill="#4848ec" d="M6154 5276l58-14 69 35-58 13z"/>
<path fill="#f5eb23" d="M3775 3968l58-27 69 51-58 26z"/>
<path fill="#02b7ca" d="M4936 4744l58-14 68 87-57 15z"/>
<path fill="#bbc42f" d="M4419 4317l57-16 69 94-57 15z"/>
<path fill="#406dfe" d="M5579 5119l58-14 69 50-58 14z"/>
<path fill="#feca33" d="M4097 4099l58-18 68 78-57 17z"/>
<path fill="#f5ee21" d="M3649 3958l57-29 69 39-58 28z"/>
<path fill="#484ff2" d="M6028 5253l57-14 69 37-58 13z"/>
<path fill="#5acc77" d="M4614 4490l58-15 68 97-57 15z"/>
<path fill="#249fe6" d="M5131 4899l58-14 69 75-58 14z"/>
<path fill="#f5ec22" d="M3522 3962l58-32 69 28-58 32z"/>
<path fill="#c8c129" d="M2384 4292l57-29 69-8-58 31z"/>
<path fill="#b8c431" d="M2257 4325l58-27 69-6-58 28z"/>
<path fill="#d9be28" d="M2510 4255l58-31 69-9-58 33z"/>
<path fill="#a7c73c" d="M2131 4354l57-26 69-3-58 27z"/>
<path fill="#3579fd" d="M5453 5077l58-14 68 56-57 13z"/>
<path fill="#eaba31" d="M2637 4215l57-32 69-10-58 34z"/>
<path fill="#9ac946" d="M2004 4379l58-24 69-1-58 25z"/>
<path fill="#1ac0b5" d="M4809 4667l58-15 69 92-58 14z"/>
<path fill="#f9bb3d" d="M2763 4173l58-34 69-9-58 35z"/>
<path fill="#f5e924" d="M3396 3980l57-36 69 18-58 36z"/>
<path fill="#4854f6" d="M5901 5228l58-14 69 39-58 13z"/>
<path fill="#e0bc2b" d="M4292 4243l58-16 69 90-58 15z"/>
<path fill="#fec239" d="M2890 4130l57-37 69-7-58 37z"/>
<path fill="#8fcb4e" d="M1878 4401l57-23 69 1-58 24z"/>
<path fill="#f5e128" d="M3269 4009l58-37 69 8-58 37z"/>
<path fill="#fdcd32" d="M3016 4086l58-38 69-4-58 38z"/>
<path fill="#f9d82c" d="M3143 4044l57-37 69 2-58 37z"/>
<path fill="#f9d62d" d="M3970 4052l58-23 69 70-58 21z"/>
<path fill="#84cc56" d="M1751 4418l58-20 69 3-58 22z"/>
<path fill="#7dcc5b" d="M1625 4433l57-19 69 4-58 21z"/>
<path fill="#473ee1" d="M6350 5330l57-14 69 33-58 13z"/>
<path fill="#8bcb51" d="M4488 4410l57-15 69 95-58 15z"/>
<path fill="#475bfa" d="M5775 5200l57-14 69 42-57 13z"/>
<path fill="#1aacdd" d="M5005 4832l57-15 69 82-58 14z"/>
<path fill="#76cc61" d="M1498 4444l58-18 69 7-58 19z"/>
<path fill="#2e84f8" d="M5326 5029l58-14 69 62-58 14z"/>
<path fill="#72cd64" d="M1372 4452l57-17 69 9-58 18z"/>
<path fill="#f6e028" d="M3844 4018l58-26 68 60-57 24z"/>
<path fill="#fabb3d" d="M4166 4176l57-17 69 84-58 17z"/>
<path fill="#36c899" d="M4683 4587l57-15 69 95-57 14z"/>
<path fill="#4744e8" d="M6223 5310l58-13 69 33-58 14z"/>
<path fill="#6ecd66" d="M1245 4457l58-15 69 10-58 17z"/>
<path fill="#4564fd" d="M5648 5169l58-14 69 45-58 14z"/>
<path fill="#2b91ef" d="M5200 4974l58-14 68 69-57 14z"/>
<path fill="#f5e626" d="M3717 3996l58-28 69 50-58 27z"/>
<path fill="#4849ed" d="M6096 5289l58-13 69 34-58 14z"/>
<path fill="#02b7ca" d="M4878 4758l58-14 69 88-58 14z"/>
<path fill="#bbc42f" d="M4361 4332l58-15 69 93-58 15z"/>
<path fill="#3f6eff" d="M5522 5132l57-13 69 50-58 13z"/>
<path fill="#f5e924" d="M3591 3990l58-32 68 38-57 31z"/>
<path fill="#fec834" d="M4039 4120l58-21 69 77-58 21z"/>
<path fill="#484ff2" d="M5970 5266l58-13 68 36-57 14z"/>
<path fill="#5acc77" d="M4556 4505l58-15 69 97-58 14z"/>
<path fill="#f5e825" d="M3464 3998l58-36 69 28-58 34z"/>
<path fill="#249fe6" d="M5073 4913l58-14 69 75-58 14z"/>
<path fill="#c1c32c" d="M2326 4320l58-28 68-6-57 30z"/>
<path fill="#d3bf27" d="M2452 4286l58-31 69-7-58 32z"/>
<path fill="#b1c635" d="M2199 4352l58-27 69-5-58 29z"/>
<path fill="#e3bc2c" d="M2579 4248l58-33 68-8-57 34z"/>
<path fill="#a1c840" d="M2073 4379l58-25 68-2-57 27z"/>
<path fill="#f3ba38" d="M2705 4207l58-34 69-8-58 36z"/>
<path fill="#f5e327" d="M3338 4017l58-37 68 18-57 36z"/>
<path fill="#fdbd3d" d="M2832 4165l58-35 68-7-57 37z"/>
<path fill="#96ca48" d="M1946 4403l58-24 69 0-58 26z"/>
<path fill="#3579fd" d="M5395 5091l58-14 69 55-58 14z"/>
<path fill="#fec735" d="M2958 4123l58-37 69-4-58 39z"/>
<path fill="#f7db2a" d="M3211 4046l58-37 69 8-58 38z"/>
<path fill="#fbd22f" d="M3085 4082l58-38 68 2-57 39z"/>
<path fill="#1dc0b3" d="M4752 4681l57-14 69 91-58 15z"/>
<path fill="#88cb53" d="M1820 4423l58-22 68 2-57 24z"/>
<path fill="#e0bc2b" d="M4234 4260l58-17 69 89-58 17z"/>
<path fill="#4854f6" d="M5844 5241l57-13 69 38-58 14z"/>
<path fill="#463adb" d="M6418 5362l58-13 69 31-58 14z"/>
<path fill="#fad52e" d="M3913 4076l57-24 69 68-57 24z"/>
<path fill="#81cc59" d="M1693 4439l58-21 69 5-58 22z"/>
<path fill="#79cc5e" d="M1567 4452l58-19 68 6-57 21z"/>
<path fill="#473ee1" d="M6292 5344l58-14 68 32-57 14z"/>
<path fill="#8bcb51" d="M4430 4425l58-15 68 95-57 15z"/>
<path fill="#76cc61" d="M1440 4462l58-18 69 8-58 19z"/>
<path fill="#465dfa" d="M5717 5214l58-14 69 41-58 14z"/>
<path fill="#1aacdd" d="M4947 4846l58-14 68 81-57 14z"/>
<path fill="#2e86f8" d="M5269 5043l57-14 69 62-57 13z"/>
<path fill="#f7dd2a" d="M3786 4045l58-27 69 58-58 26z"/>
<path fill="#72cd64" d="M1314 4469l58-17 68 10-57 18z"/>
<path fill="#f9bb3d" d="M4108 4197l58-21 68 84-57 19z"/>
<path fill="#36c899" d="M4625 4601l58-14 69 94-58 14z"/>
<path fill="#4744e8" d="M6165 5324l58-14 69 34-58 13z"/>
<path fill="#6ecd66" d="M1187 4473l58-16 69 12-58 16z"/>
<path fill="#4564fd" d="M5590 5182l58-13 69 45-58 13z"/>
<path fill="#f5e327" d="M3660 4027l57-31 69 49-58 29z"/>
<path fill="#2b91ef" d="M5142 4988l58-14 69 69-58 13z"/>
<path fill="#4849ed" d="M6039 5303l57-14 69 35-57 13z"/>
<path fill="#02b7ca" d="M4820 4773l58-15 69 88-58 13z"/>
<path fill="#bbc42f" d="M4303 4349l58-17 69 93-58 16z"/>
<path fill="#f5e526" d="M3533 4024l58-34 69 37-58 34z"/>
<path fill="#3f6eff" d="M5464 5146l58-14 68 50-57 14z"/>
<path fill="#fec537" d="M3982 4144l57-24 69 77-58 21z"/>
<path fill="#f5e128" d="M3407 4034l57-36 69 26-58 37z"/>
<path fill="#5acc77" d="M4499 4520l57-15 69 96-58 15z"/>
<path fill="#484ff2" d="M5912 5280l58-14 69 37-58 13z"/>
<path fill="#cac129" d="M2395 4316l57-30 69-6-57 32z"/>
<path fill="#bbc42f" d="M2268 4349l58-29 69-4-58 31z"/>
<path fill="#dbbd29" d="M2521 4280l58-32 69-7-58 34z"/>
<path fill="#4535d2" d="M6487 5394l58-14 69 31-58 14z"/>
<path fill="#abc739" d="M2142 4379l57-27 69-3-58 29z"/>
<path fill="#f7dd2a" d="M3280 4055l58-38 69 17-58 38z"/>
<path fill="#eaba31" d="M2648 4241l57-34 69-6-58 35z"/>
<path fill="#f9bb3d" d="M2774 4201l58-36 69-5-58 37z"/>
<path fill="#9dc943" d="M2015 4405l58-26 69 0-58 27z"/>
<path fill="#249fe6" d="M5016 4927l57-14 69 75-58 13z"/>
<path fill="#fec239" d="M2901 4160l57-37 69-2-57 38z"/>
<path fill="#fad52e" d="M3154 4085l57-39 69 9-58 39z"/>
<path fill="#fdcb32" d="M3027 4121l58-39 69 3-58 39z"/>
<path fill="#8fcb4e" d="M1889 4427l57-24 69 2-57 26z"/>
<path fill="#3579fd" d="M5338 5104l57-13 69 55-58 13z"/>
<path fill="#84cc56" d="M1762 4445l58-22 69 4-58 24z"/>
<path fill="#1dc0b3" d="M4694 4695l58-14 68 92-57 13z"/>
<path fill="#fbd22f" d="M3855 4102l58-26 69 68-58 24z"/>
<path fill="#debd29" d="M4177 4279l57-19 69 89-57 17z"/>
<path fill="#4756f7" d="M5786 5255l58-14 68 39-57 13z"/>
<path fill="#463adb" d="M6361 5376l57-14 69 32-58 14z"/>
<path fill="#7dcc5b" d="M1636 4460l57-21 69 6-58 22z"/>
<path fill="#76cc61" d="M1509 4471l58-19 69 8-58 20z"/>
<path fill="#72cd64" d="M1383 4480l57-18 69 9-57 20z"/>
<path fill="#8bcb51" d="M4372 4441l58-16 69 95-58 15z"/>
<path fill="#473ee1" d="M6234 5357l58-13 69 32-58 14z"/>
<path fill="#465dfa" d="M5659 5227l58-13 69 41-58 14z"/>
<path fill="#1aacdd" d="M4889 4859l58-13 69 81-58 13z"/>
<path fill="#f8d92b" d="M3728 4074l58-29 69 57-58 28z"/>
<path fill="#2e86f8" d="M5211 5056l58-13 69 61-58 13z"/>
<path fill="#72cd64" d="M1256 4485l58-16 69 11-58 17z"/>
<path fill="#f7ba3c" d="M4050 4218l58-21 69 82-58 20z"/>
<path fill="#36c899" d="M4567 4616l58-15 69 94-58 14z"/>
<path fill="#4744e8" d="M6108 5337l57-13 69 33-58 14z"/>
<path fill="#6ecd66" d="M1130 4488l57-15 69 12-58 15z"/>
<path fill="#f6de29" d="M3602 4061l58-34 68 47-57 32z"/>
<path fill="#4465fd" d="M5533 5196l57-14 69 45-57 14z"/>
<path fill="#2a93ee" d="M5084 5001l58-13 69 68-58 13z"/>
<path fill="#f6de29" d="M3475 4061l58-37 69 37-58 35z"/>
<path fill="#4849ed" d="M5981 5316l58-13 69 34-58 14z"/>
<path fill="#02b7ca" d="M4763 4786l57-13 69 86-57 14z"/>
<path fill="#b8c431" d="M4246 4366l57-17 69 92-58 16z"/>
<path fill="#4332ca" d="M6556 5425l58-14 68 31-57 14z"/>
<path fill="#fec438" d="M3924 4168l58-24 68 74-57 23z"/>
<path fill="#f7db2a" d="M3349 4072l58-38 68 27-57 36z"/>
<path fill="#3f6eff" d="M5406 5159l58-13 69 50-58 13z"/>
<path fill="#f9d62d" d="M3222 4094l58-39 69 17-58 39z"/>
<path fill="#c1c32c" d="M2337 4347l58-31 69-4-58 33z"/>
<path fill="#d3bf27" d="M2464 4312l57-32 69-5-58 34z"/>
<path fill="#b1c635" d="M2210 4378l58-29 69-2-58 31z"/>
<path fill="#e3bc2c" d="M2590 4275l58-34 68-5-57 36z"/>
<path fill="#f1ba37" d="M2716 4236l58-35 69-4-58 37z"/>
<path fill="#fcce31" d="M3096 4124l58-39 68 9-57 40z"/>
<path fill="#a4c83e" d="M2084 4406l58-27 68-1-57 30z"/>
<path fill="#fdbd3d" d="M2843 4197l58-37 69-1-58 38z"/>
<path fill="#5acc77" d="M4441 4535l58-15 68 96-57 13z"/>
<path fill="#fec537" d="M2970 4159l57-38 69 3-58 39z"/>
<path fill="#484ff2" d="M5855 5293l57-13 69 36-58 14z"/>
<path fill="#96ca48" d="M1958 4431l57-26 69 1-58 28z"/>
<path fill="#4537d5" d="M6429 5408l58-14 69 31-58 14z"/>
<path fill="#8bcb51" d="M1831 4451l58-24 69 4-58 25z"/>
<path fill="#23a0e5" d="M4958 4940l58-13 68 74-57 13z"/>
<path fill="#81cc59" d="M1704 4467l58-22 69 6-58 24z"/>
<path fill="#fcce31" d="M3797 4130l58-28 69 66-58 26z"/>
<path fill="#337afd" d="M5280 5117l58-13 68 55-57 13z"/>
<path fill="#dbbd29" d="M4119 4299l58-20 69 87-58 18z"/>
<path fill="#1dc0b3" d="M4636 4709l58-14 69 91-58 14z"/>
<path fill="#79cc5e" d="M1578 4480l58-20 68 7-57 22z"/>
<path fill="#4756f7" d="M5728 5269l58-14 69 38-58 14z"/>
<path fill="#463adb" d="M6303 5390l58-14 68 32-57 13z"/>
<path fill="#76cc61" d="M1452 4491l57-20 69 9-58 22z"/>
<path fill="#72cd64" d="M1325 4497l58-17 69 11-58 18z"/>
<path fill="#fad52e" d="M3671 4106l57-32 69 56-57 31z"/>
<path fill="#8bcb51" d="M4314 4457l58-16 69 94-58 14z"/>
<path fill="#473fe3" d="M6176 5371l58-14 69 33-58 13z"/>
<path fill="#465dfa" d="M5602 5241l57-14 69 42-58 13z"/>
<path fill="#19addb" d="M4832 4873l57-14 69 81-58 13z"/>
<path fill="#2e86f8" d="M5153 5069l58-13 69 61-58 13z"/>
<path fill="#72cd64" d="M1198 4500l58-15 69 12-58 16z"/>
<path fill="#f3ba38" d="M3993 4241l57-23 69 81-58 20z"/>
<path fill="#f9d82c" d="M3544 4096l58-35 69 45-58 34z"/>
<path fill="#36c899" d="M4510 4629l57-13 69 93-58 13z"/>
<path fill="#4744e8" d="M6050 5351l58-14 68 34-57 13z"/>
<path fill="#6ecd66" d="M1072 4503l58-15 68 12-57 16z"/>
<path fill="#4465fd" d="M5475 5209l58-13 69 45-58 12z"/>
<path fill="#422fc2" d="M6625 5456l57-14 69 30-57 14z"/>
<path fill="#f9d82c" d="M3418 4097l57-36 69 35-57 35z"/>
<path fill="#2a93ee" d="M5027 5014l57-13 69 68-57 12z"/>
<path fill="#b8c431" d="M4188 4384l58-18 68 91-57 16z"/>
<path fill="#4849ed" d="M5923 5330l58-14 69 35-58 13z"/>
<path fill="#01b8c9" d="M4705 4800l58-14 69 87-58 11z"/>
<path fill="#fad52e" d="M3291 4111l58-39 69 25-58 39z"/>
<path fill="#fec13a" d="M3866 4194l58-26 69 73-58 24z"/>
<path fill="#4433cd" d="M6498 5439l58-14 69 31-58 14z"/>
<path fill="#fcce31" d="M3165 4134l57-40 69 17-57 39z"/>
<path fill="#cac129" d="M2406 4345l58-33 68-3-57 34z"/>
<path fill="#dbbd29" d="M2532 4309l58-34 69-3-58 35z"/>
<path fill="#bbc42f" d="M2279 4378l58-31 69-2-58 32z"/>
<path fill="#fec834" d="M3038 4163l58-39 69 10-58 39z"/>
<path fill="#3e70ff" d="M5349 5172l57-13 69 50-58 12z"/>
<path fill="#eaba31" d="M2659 4272l57-36 69-2-57 37z"/>
<path fill="#f7ba3c" d="M2785 4234l58-37 69 0-58 38z"/>
<path fill="#fec03b" d="M2912 4197l58-38 68 4-57 39z"/>
<path fill="#abc739" d="M2153 4408l57-30 69 0-57 31z"/>
<path fill="#9ac946" d="M2026 4434l58-28 69 2-58 29z"/>
<path fill="#8fcb4e" d="M1900 4456l58-25 68 3-57 27z"/>
<path fill="#5acc77" d="M4383 4549l58-14 69 94-58 13z"/>
<path fill="#4850f3" d="M5797 5307l58-14 68 37-57 13z"/>
<path fill="#84cc56" d="M1773 4475l58-24 69 5-58 26z"/>
<path fill="#4537d5" d="M6372 5421l57-13 69 31-58 14z"/>
<path fill="#23a0e5" d="M4900 4953l58-13 69 74-58 11z"/>
<path fill="#7dcc5b" d="M1647 4489l57-22 69 8-57 23z"/>
<path fill="#feca33" d="M3740 4161l57-31 69 64-58 28z"/>
<path fill="#d9be28" d="M4061 4319l58-20 69 85-58 19z"/>
<path fill="#337afd" d="M5222 5130l58-13 69 55-58 12z"/>
<path fill="#76cc61" d="M1520 4502l58-22 69 9-58 23z"/>
<path fill="#1dc0b3" d="M4578 4722l58-13 69 91-58 10z"/>
<path fill="#4756f7" d="M5670 5282l58-13 69 38-58 13z"/>
<path fill="#463adb" d="M6245 5403l58-13 69 31-58 14z"/>
<path fill="#72cd64" d="M1394 4509l58-18 68 11-57 20z"/>
<path fill="#fcd030" d="M3613 4140l58-34 69 55-58 31z"/>
<path fill="#72cd64" d="M1267 4513l58-16 69 12-58 17z"/>
<path fill="#8bcb51" d="M4257 4473l57-16 69 92-57 15z"/>
<path fill="#473fe3" d="M6119 5384l57-13 69 32-57 13z"/>
<path fill="#465efb" d="M5544 5253l58-12 68 41-57 13z"/>
<path fill="#19addb" d="M4774 4884l58-11 68 80-57 9z"/>
<path fill="#2e87f7" d="M5096 5081l57-12 69 61-58 10z"/>
<path fill="#412cba" d="M6694 5486l57-14 69 30-58 14z"/>
<path fill="#6ecd66" d="M1141 4516l57-16 69 13-57 16z"/>
<path fill="#f1ba37" d="M3935 4265l58-24 68 78-57 22z"/>
<path fill="#fbd32e" d="M3487 4131l57-35 69 44-58 34z"/>
<path fill="#36c899" d="M4452 4642l58-13 68 93-57 10z"/>
<path fill="#6ecd66" d="M1014 4518l58-15 69 13-58 15z"/>
<path fill="#4745e9" d="M5992 5364l58-13 69 33-58 13z"/>
<path fill="#fbd22f" d="M3360 4136l58-39 69 34-58 37z"/>
<path fill="#4465fd" d="M5417 5221l58-12 69 44-58 13z"/>
<path fill="#4330c5" d="M6567 5470l58-14 69 30-58 14z"/>
<path fill="#fcce31" d="M3234 4150l57-39 69 25-58 38z"/>
<path fill="#2994ed" d="M4969 5025l58-11 69 67-58 8z"/>
<path fill="#fec834" d="M3107 4173l58-39 69 16-58 39z"/>
<path fill="#b5c533" d="M4130 4403l58-19 69 89-58 16z"/>
<path fill="#febe3c" d="M3808 4222l58-28 69 71-58 25z"/>
<path fill="#484bee" d="M5866 5343l57-13 69 34-58 14z"/>
<path fill="#fec239" d="M2981 4202l57-39 69 10-58 39z"/>
<path fill="#01b8c9" d="M4647 4810l58-10 69 84-58 8z"/>
<path fill="#d0bf27" d="M2475 4343l57-34 69-2-58 36z"/>
<path fill="#c1c32c" d="M2348 4377l58-32 69-2-58 35z"/>
<path fill="#fabb3d" d="M2854 4235l58-38 69 5-58 38z"/>
<path fill="#e0bc2b" d="M2601 4307l58-35 69-1-58 37z"/>
<path fill="#efba35" d="M2728 4271l57-37 69 1-58 38z"/>
<path fill="#b1c635" d="M2222 4409l57-31 69-1-58 33z"/>
<path fill="#4433cd" d="M6440 5453l58-14 69 31-58 13z"/>
<path fill="#a1c840" d="M2095 4437l58-29 69 1-58 31z"/>
<path fill="#93ca4b" d="M1969 4461l57-27 69 3-58 29z"/>
<path fill="#3e70ff" d="M5291 5184l58-12 68 49-57 11z"/>
<path fill="#88cb53" d="M1842 4482l58-26 69 5-58 27z"/>
<path fill="#81cc59" d="M1716 4498l57-23 69 7-58 25z"/>
<path fill="#5acc77" d="M4326 4564l57-15 69 93-58 12z"/>
<path fill="#4850f3" d="M5739 5320l58-13 69 36-58 13z"/>
<path fill="#4537d5" d="M6314 5435l58-14 68 32-57 13z"/>
<path fill="#fec537" d="M3682 4192l58-31 68 61-57 29z"/>
<path fill="#76cc61" d="M1589 4512l58-23 69 9-58 25z"/>
<path fill="#22a1e4" d="M4843 4962l57-9 69 72-58 6z"/>
<path fill="#d6be28" d="M4004 4341l57-22 69 84-58 19z"/>
<path fill="#72cd64" d="M1463 4522l57-20 69 10-58 22z"/>
<path fill="#327cfc" d="M5164 5140l58-10 69 54-58 8z"/>
<path fill="#20c1b1" d="M4521 4732l57-10 69 88-57 8z"/>
<path fill="#4757f7" d="M5613 5295l57-13 69 38-57 13z"/>
<path fill="#463bde" d="M6188 5416l57-13 69 32-58 13z"/>
<path fill="#72cd64" d="M1336 4526l58-17 69 13-58 17z"/>
<path fill="#fdcb32" d="M3555 4174l58-34 69 52-58 32z"/>
<path fill="#72cd64" d="M1210 4529l57-16 69 13-58 16z"/>
<path fill="#88cb53" d="M4199 4489l58-16 69 91-58 14z"/>
<path fill="#473fe3" d="M6061 5397l58-13 69 32-58 14z"/>
<path fill="#fdcd32" d="M3429 4168l58-37 68 43-57 35z"/>
<path fill="#465efb" d="M5486 5266l58-13 69 42-58 12z"/>
<path fill="#17aeda" d="M4716 4892l58-8 69 78-58 6z"/>
<path fill="#ecba33" d="M3877 4290l58-25 69 76-58 23z"/>
<path fill="#2d88f6" d="M5038 5089l58-8 68 59-57 5z"/>
<path fill="#6ecd66" d="M1083 4531l58-15 69 13-58 15z"/>
<path fill="#412dbd" d="M6636 5500l58-14 68 30-57 13z"/>
<path fill="#fdcb32" d="M3302 4174l58-38 69 32-58 38z"/>
<path fill="#6ecd66" d="M957 4533l57-15 69 13-58 15z"/>
<path fill="#38c896" d="M4394 4654l58-12 69 90-58 10z"/>
<path fill="#4745e9" d="M5934 5378l58-14 69 33-58 14z"/>
<path fill="#fec834" d="M3176 4189l58-39 68 24-57 39z"/>
<path fill="#4330c5" d="M6509 5483l58-13 69 30-58 13z"/>
<path fill="#4367fd" d="M5360 5232l57-11 69 45-58 11z"/>
<path fill="#fec239" d="M3049 4212l58-39 69 16-58 39z"/>
<path fill="#fdbd3d" d="M2923 4240l58-38 68 10-57 39z"/>
<path fill="#f3ba38" d="M2796 4273l58-38 69 5-58 39z"/>
<path fill="#fabb3d" d="M3751 4251l57-29 69 68-57 27z"/>
<path fill="#e8bb2f" d="M2670 4308l58-37 68 2-57 38z"/>
<path fill="#d9be28" d="M2543 4343l58-36 69 1-58 37z"/>
<path fill="#c8c129" d="M2417 4378l58-35 68 0-57 36z"/>
<path fill="#b8c431" d="M2290 4410l58-33 69 1-58 34z"/>
<path fill="#b1c635" d="M4072 4422l58-19 69 86-58 17z"/>
<path fill="#a7c73c" d="M2164 4440l58-31 68 1-57 33z"/>
<path fill="#2895ec" d="M4911 5031l58-6 69 64-58 4z"/>
<path fill="#9ac946" d="M2037 4466l58-29 69 3-58 31z"/>
<path fill="#484bee" d="M5808 5356l58-13 68 35-57 13z"/>
<path fill="#01b9c6" d="M4590 4818l57-8 69 82-58 7z"/>
<path fill="#8bcb51" d="M1911 4488l58-27 68 5-57 29z"/>
<path fill="#4433cd" d="M6383 5466l57-13 69 30-57 14z"/>
<path fill="#81cc59" d="M1784 4507l58-25 69 6-58 27z"/>
<path fill="#3c71ff" d="M5233 5192l58-8 69 48-58 6z"/>
<path fill="#79cc5e" d="M1658 4523l58-25 68 9-57 27z"/>
<path fill="#fec13a" d="M3624 4224l58-32 69 59-58 30z"/>
<path fill="#5acc77" d="M4268 4578l58-14 68 90-57 12z"/>
<path fill="#4850f3" d="M5682 5333l57-13 69 36-58 13z"/>
<path fill="#72cd64" d="M1531 4534l58-22 69 11-58 23z"/>
<path fill="#4538d7" d="M6256 5448l58-13 69 31-58 13z"/>
<path fill="#d3bf27" d="M3946 4364l58-23 68 81-57 20z"/>
<path fill="#21a3e3" d="M4785 4968l58-6 68 69-57 4z"/>
<path fill="#72cd64" d="M1405 4539l58-17 68 12-57 17z"/>
<path fill="#fec537" d="M3498 4209l57-35 69 50-57 33z"/>
<path fill="#307ffb" d="M5107 5145l57-5 69 52-57 2z"/>
<path fill="#4757f7" d="M5555 5307l58-12 69 38-58 12z"/>
<path fill="#22c1af" d="M4463 4742l58-10 69 86-58 8z"/>
<path fill="#463bde" d="M6130 5430l58-14 68 32-57 13z"/>
<path fill="#72cd64" d="M1278 4542l58-16 69 13-58 16z"/>
<path fill="#fec735" d="M3371 4206l58-38 69 41-58 36z"/>
<path fill="#6ecd66" d="M1152 4544l58-15 68 13-57 16z"/>
<path fill="#88cb53" d="M4141 4506l58-17 69 89-58 13z"/>
<path fill="#4741e5" d="M6003 5411l58-14 69 33-58 13z"/>
<path fill="#e8bb2f" d="M3820 4317l57-27 69 74-58 24z"/>
<path fill="#4660fb" d="M5428 5277l58-11 69 41-58 11z"/>
<path fill="#fec537" d="M3245 4213l57-39 69 32-57 37z"/>
<path fill="#6ecd66" d="M1025 4546l58-15 69 13-58 16z"/>
<path fill="#14b0d8" d="M4658 4899l58-7 69 76-58 4z"/>
<path fill="#412dbd" d="M6578 5513l58-13 69 29-58 14z"/>
<path fill="#2d8bf4" d="M4980 5093l58-4 69 56-58 1z"/>
<path fill="#fec239" d="M3118 4228l58-39 69 24-58 37z"/>
<path fill="#6ecd66" d="M899 4548l58-15 68 13-57 15z"/>
<path fill="#fdbd3d" d="M2992 4251l57-39 69 16-58 38z"/>
<path fill="#4745e9" d="M5877 5391l57-13 69 33-57 13z"/>
<path fill="#3ac994" d="M4337 4666l57-12 69 88-58 9z"/>
<path fill="#f7ba3c" d="M2865 4279l58-39 69 11-58 38z"/>
<path fill="#eaba31" d="M2739 4311l57-38 69 6-57 38z"/>
<path fill="#debd29" d="M2612 4345l58-37 69 3-58 38z"/>
<path fill="#4330c5" d="M6452 5497l57-14 69 30-58 14z"/>
<path fill="#cdc028" d="M2486 4379l57-36 69 2-58 37z"/>
<path fill="#bec32e" d="M2359 4412l58-34 69 1-58 36z"/>
<path fill="#aec637" d="M2233 4443l57-33 69 2-57 35z"/>
<path fill="#426afe" d="M5302 5238l58-6 68 45-57 5z"/>
<path fill="#f7ba3c" d="M3693 4281l58-30 69 66-58 27z"/>
<path fill="#9dc943" d="M2106 4471l58-31 69 3-58 33z"/>
<path fill="#8fcb4e" d="M1980 4495l57-29 69 5-58 30z"/>
<path fill="#b1c635" d="M4015 4442l57-20 69 84-57 17z"/>
<path fill="#84cc56" d="M1853 4515l58-27 69 7-58 29z"/>
<path fill="#484bee" d="M5750 5369l58-13 69 35-58 13z"/>
<path fill="#2798ea" d="M4854 5035l57-4 69 62-58 1z"/>
<path fill="#79cc5e" d="M1727 4534l57-27 69 8-57 29z"/>
<path fill="#4433cd" d="M6325 5479l58-13 69 31-58 13z"/>
<path fill="#02bac4" d="M4532 4826l58-8 68 81-57 5z"/>
<path fill="#76cc61" d="M1600 4546l58-23 69 11-58 24z"/>
<path fill="#fdbd3d" d="M3567 4257l57-33 69 57-58 30z"/>
<path fill="#3876fe" d="M5176 5194l57-2 69 46-58 1z"/>
<path fill="#5ecc74" d="M4210 4591l58-13 69 88-58 11z"/>
<path fill="#72cd64" d="M1474 4551l57-17 69 12-58 18z"/>
<path fill="#4852f4" d="M5624 5345l58-12 68 36-57 13z"/>
<path fill="#4538d7" d="M6199 5461l57-13 69 31-58 14z"/>
<path fill="#cdc028" d="M3888 4388l58-24 69 78-58 20z"/>
<path fill="#fec13a" d="M3440 4245l58-36 69 48-58 33z"/>
<path fill="#72cd64" d="M1347 4555l58-16 69 12-58 17z"/>
<path fill="#1fa6e2" d="M4727 4972l58-4 69 67-58 2z"/>
<path fill="#463bde" d="M6072 5443l58-13 69 31-58 14z"/>
<path fill="#4759f8" d="M5497 5318l58-11 69 38-58 12z"/>
<path fill="#6ecd66" d="M1221 4558l57-16 69 13-57 16z"/>
<path fill="#25c2ae" d="M4405 4751l58-9 69 84-58 7z"/>
<path fill="#2f82fa" d="M5049 5146l58-1 69 49-58 0z"/>
<path fill="#fec13a" d="M3314 4243l57-37 69 39-58 35z"/>
<path fill="#6ecd66" d="M1094 4560l58-16 69 14-58 15z"/>
<path fill="#fec03b" d="M3187 4250l58-37 69 30-58 37z"/>
<path fill="#e3bc2c" d="M3762 4344l58-27 68 71-57 23z"/>
<path fill="#88cb53" d="M4084 4523l57-17 69 85-58 14z"/>
<path fill="#4741e5" d="M5946 5424l57-13 69 32-58 14z"/>
<path fill="#fdbd3d" d="M3060 4266l58-38 69 22-58 38z"/>
<path fill="#4561fc" d="M5371 5282l57-5 69 41-57 5z"/>
<path fill="#6ecd66" d="M968 4561l57-15 69 14-58 15z"/>
<path fill="#412dbd" d="M6520 5527l58-14 69 30-58 13z"/>
<path fill="#f7ba3c" d="M2934 4289l58-38 68 15-57 39z"/>
<path fill="#10b2d5" d="M4601 4904l57-5 69 73-57 3z"/>
<path fill="#2c8ff1" d="M4922 5094l58-1 69 53-58 0z"/>
<path fill="#efba35" d="M2808 4317l57-38 69 10-58 39z"/>
<path fill="#e0bc2b" d="M2681 4349l58-38 69 6-58 39z"/>
<path fill="#d3bf27" d="M2554 4382l58-37 69 4-58 38z"/>
<path fill="#6ecd66" d="M841 4563l58-15 69 13-58 16z"/>
<path fill="#c5c22a" d="M2428 4415l58-36 68 3-57 37z"/>
<path fill="#b1c635" d="M2302 4447l57-35 69 3-58 36z"/>
<path fill="#4746eb" d="M5819 5404l58-13 69 33-58 13z"/>
<path fill="#a4c83e" d="M2175 4476l58-33 69 4-58 34z"/>
<path fill="#3ac994" d="M4279 4677l58-11 68 85-57 8z"/>
<path fill="#f1ba37" d="M3635 4311l58-30 69 63-58 27z"/>
<path fill="#96ca48" d="M2048 4501l58-30 69 5-58 32z"/>
<path fill="#4330c5" d="M6394 5510l58-13 68 30-57 13z"/>
<path fill="#88cb53" d="M1922 4524l58-29 68 6-57 31z"/>
<path fill="#406dfe" d="M5244 5239l58-1 69 44-58-1z"/>
<path fill="#7dcc5b" d="M1796 4544l57-29 69 9-58 30z"/>
<path fill="#aec637" d="M3957 4462l58-20 69 81-58 17z"/>
<path fill="#76cc61" d="M1669 4558l58-24 69 10-58 26z"/>
<path fill="#484cf0" d="M5693 5382l57-13 69 35-58 13z"/>
<path fill="#4434d0" d="M6267 5493l58-14 69 31-58 13z"/>
<path fill="#f9bb3d" d="M3509 4290l58-33 68 54-57 31z"/>
<path fill="#259be8" d="M4796 5037l58-2 68 59-57 0z"/>
<path fill="#03bbc2" d="M4474 4833l58-7 69 78-58 4z"/>
<path fill="#72cd64" d="M1542 4564l58-18 69 12-58 18zm-126 4l58-17 68 13-57 17z"/>
<path fill="#3579fd" d="M5118 5194l58 0 68 45-57-2z"/>
<path fill="#5ecc74" d="M4152 4605l58-14 69 86-58 10z"/>
<path fill="#4853f5" d="M5566 5357l58-12 69 37-58 11z"/>
<path fill="#fcbc3d" d="M3382 4280l58-35 69 45-58 33z"/>
<path fill="#4538d7" d="M6141 5475l58-14 68 32-57 13z"/>
<path fill="#cac129" d="M3831 4411l57-23 69 74-58 21z"/>
<path fill="#72cd64" d="M1290 4571l57-16 69 13-58 16z"/>
<path fill="#fcbc3d" d="M3256 4280l58-37 68 37-57 35z"/>
<path fill="#1da8e0" d="M4670 4975l57-3 69 65-58 0z"/>
<path fill="#6ecd66" d="M1163 4573l58-15 69 13-58 15z"/>
<path fill="#463ddf" d="M6014 5457l58-14 69 32-58 13z"/>
<path fill="#475bfa" d="M5440 5323l57-5 69 39-58 6z"/>
<path fill="#27c2ac" d="M4348 4759l57-8 69 82-58 4z"/>
<path fill="#fabb3d" d="M3129 4288l58-38 69 30-58 36z"/>
<path fill="#2e86f8" d="M4991 5146l58 0 69 48-58-2z"/>
<path fill="#debd29" d="M3704 4371l58-27 69 67-58 25z"/>
<path fill="#6ecd66" d="M1036 4575l58-15 69 13-58 15z"/>
<path fill="#f7ba3c" d="M3003 4305l57-39 69 22-57 38z"/>
<path fill="#88cb53" d="M4026 4540l58-17 68 82-57 14z"/>
<path fill="#4741e5" d="M5888 5437l58-13 68 33-57 13z"/>
<path fill="#efba35" d="M2876 4328l58-39 69 16-58 39z"/>
<path fill="#e3bc2c" d="M2750 4356l58-39 68 11-57 39z"/>
<path fill="#6ecd66" d="M910 4577l58-16 68 14-57 15z"/>
<path fill="#d6be28" d="M2623 4387l58-38 69 7-58 39z"/>
<path fill="#422ebf" d="M6463 5540l57-13 69 29-57 14z"/>
<path fill="#c8c129" d="M2497 4419l57-37 69 5-57 39z"/>
<path fill="#4465fd" d="M5313 5281l58 1 69 41-58-1z"/>
<path fill="#b8c431" d="M2370 4451l58-36 69 4-58 38z"/>
<path fill="#a7c73c" d="M2244 4481l58-34 68 4-57 36z"/>
<path fill="#9ac946" d="M2117 4508l58-32 69 5-58 34z"/>
<path fill="#0bb3d2" d="M4543 4908l58-4 69 71-58 0z"/>
<path fill="#6ecd66" d="M784 4578l57-15 69 14-58 15z"/>
<path fill="#8bcb51" d="M1991 4532l57-31 69 7-57 33z"/>
<path fill="#eaba31" d="M3578 4342l57-31 69 60-58 28z"/>
<path fill="#2b91ef" d="M4865 5094l57 0 69 52-57-3z"/>
<path fill="#4746eb" d="M5761 5417l58-13 69 33-58 13z"/>
<path fill="#7dcc5b" d="M1864 4554l58-30 69 8-58 33z"/>
<path fill="#3cc992" d="M4221 4687l58-10 69 82-58 7z"/>
<path fill="#4331c8" d="M6336 5523l58-13 69 30-58 13z"/>
<path fill="#76cc61" d="M1738 4570l58-26 68 10-57 28z"/>
<path fill="#abc739" d="M3899 4483l58-21 69 78-58 17z"/>
<path fill="#72cd64" d="M1611 4576l58-18 69 12-58 19z"/>
<path fill="#3c71ff" d="M5187 5237l57 2 69 42-58-3z"/>
<path fill="#f3ba38" d="M3451 4323l58-33 69 52-58 30z"/>
<path fill="#484cf0" d="M5635 5393l58-11 68 35-57 12z"/>
<path fill="#4434d0" d="M6210 5506l57-13 69 30-58 13z"/>
<path fill="#72cd64" d="M1485 4581l57-17 69 12-57 18z"/>
<path fill="#249ee6" d="M4738 5037l58 0 69 57-58-4z"/>
<path fill="#08bcbf" d="M4416 4837l58-4 69 75-58 1z"/>
<path fill="#f7ba3c" d="M3325 4315l57-35 69 43-58 33z"/>
<path fill="#72cd64" d="M1358 4584l58-16 69 13-58 16z"/>
<path fill="#5ecc74" d="M4095 4619l57-14 69 82-57 10z"/>
<path fill="#c5c22a" d="M3773 4436l58-25 68 72-57 21z"/>
<path fill="#4854f6" d="M5508 5363l58-6 69 36-58 9z"/>
<path fill="#4538d7" d="M6083 5488l58-13 69 31-58 13z"/>
<path fill="#317dfc" d="M5060 5192l58 2 69 43-58-4z"/>
<path fill="#6ecd66" d="M1232 4586l58-15 68 13-57 16z"/>
<path fill="#f7ba3c" d="M3198 4316l58-36 69 35-58 35z"/>
<path fill="#f3ba38" d="M3072 4326l57-38 69 28-58 37z"/>
<path fill="#6ecd66" d="M1105 4588l58-15 69 13-58 15z"/>
<path fill="#463ddf" d="M5957 5470l57-13 69 31-57 13z"/>
<path fill="#1caadf" d="M4612 4975l58 0 68 62-57-4z"/>
<path fill="#465efb" d="M5382 5322l58 1 68 40-57 0z"/>
<path fill="#efba35" d="M2945 4344l58-39 69 21-58 38z"/>
<path fill="#2bc3a8" d="M4290 4766l58-7 68 78-57 4z"/>
<path fill="#d9be28" d="M3646 4399l58-28 69 65-58 24z"/>
<path fill="#e5bb2d" d="M2819 4367l57-39 69 16-58 38z"/>
<path fill="#6ecd66" d="M979 4590l57-15 69 13-57 15z"/>
<path fill="#2d8af5" d="M4934 5143l57 3 69 46-58-7z"/>
<path fill="#84cc56" d="M3968 4557l58-17 69 79-58 13z"/>
<path fill="#d9be28" d="M2692 4395l58-39 69 11-58 39z"/>
<path fill="#cac129" d="M2566 4426l57-39 69 8-58 39z"/>
<path fill="#bbc42f" d="M2439 4457l58-38 69 7-58 38z"/>
<path fill="#4742e6" d="M5830 5450l58-13 69 33-58 13z"/>
<path fill="#abc739" d="M2313 4487l57-36 69 6-58 37z"/>
<path fill="#9dc943" d="M2186 4515l58-34 69 6-58 36z"/>
<path fill="#6ecd66" d="M852 4592l58-15 69 13-58 15z"/>
<path fill="#8fcb4e" d="M2060 4541l57-33 69 7-58 34z"/>
<path fill="#422ebf" d="M6405 5553l58-13 69 30-58 13z"/>
<path fill="#81cc59" d="M1933 4565l58-33 69 9-58 34z"/>
<path fill="#e5bb2d" d="M3520 4372l58-30 68 57-57 27z"/>
<path fill="#426afe" d="M5255 5278l58 3 69 41-58-3z"/>
<path fill="#76cc61" d="M1807 4582l57-28 69 11-58 29z"/>
<path fill="#6ecd66" d="M726 4594l58-16 68 14-57 15z"/>
<path fill="#06b5cf" d="M4485 4909l58-1 69 67-58-2z"/>
<path fill="#4848ec" d="M5704 5429l57-12 69 33-58 12z"/>
<path fill="#72cd64" d="M1680 4589l58-19 69 12-58 20z"/>
<path fill="#2895ec" d="M4807 5090l58 4 69 49-58-8z"/>
<path fill="#3eca90" d="M4164 4697l57-10 69 79-58 7z"/>
<path fill="#4331c8" d="M6278 5536l58-13 69 30-58 13z"/>
<path fill="#a7c73c" d="M3842 4504l57-21 69 74-57 17z"/>
<path fill="#ecba33" d="M3393 4356l58-33 69 49-58 31z"/>
<path fill="#72cd64" d="M1554 4594l57-18 69 13-58 18z"/>
<path fill="#484ff2" d="M5577 5402l58-9 69 36-58 10z"/>
<path fill="#3876fe" d="M5129 5233l58 4 68 41-57-5z"/>
<path fill="#4434d0" d="M6152 5519l58-13 68 30-57 14z"/>
<path fill="#72cd64" d="M1427 4597l58-16 69 13-58 16z"/>
<path fill="#efba35" d="M3267 4350l58-35 68 41-57 33z"/>
<path fill="#0dbdbc" d="M4359 4841l57-4 69 72-57 0z"/>
<path fill="#22a2e4" d="M4681 5033l57 4 69 53-58-7z"/>
<path fill="#6ecd66" d="M1301 4600l57-16 69 13-58 16z"/>
<path fill="#c1c32c" d="M3715 4460l58-24 69 68-58 21z"/>
<path fill="#5ecc74" d="M4037 4632l58-13 69 78-58 10z"/>
<path fill="#efba35" d="M3140 4353l58-37 69 34-58 35z"/>
<path fill="#4639d9" d="M6026 5501l57-13 69 31-58 13z"/>
<path fill="#4759f8" d="M5451 5363l57 0 69 39-57 2z"/>
<path fill="#6ecd66" d="M1174 4601l58-15 69 14-58 15z"/>
<path fill="#eaba31" d="M3014 4364l58-38 68 27-57 36z"/>
<path fill="#2e83f9" d="M5002 5185l58 7 69 41-58-8z"/>
<path fill="#e5bb2d" d="M2887 4382l58-38 69 20-58 38z"/>
<path fill="#6ecd66" d="M1048 4603l57-15 69 13-58 16z"/>
<path fill="#463ddf" d="M5899 5483l58-13 69 31-58 13z"/>
<path fill="#dbbd29" d="M2761 4406l58-39 68 15-57 39z"/>
<path fill="#d3bf27" d="M3589 4426l57-27 69 61-57 24z"/>
<path fill="#cdc028" d="M2634 4434l58-39 69 11-58 40z"/>
<path fill="#bec32e" d="M2508 4464l58-38 68 8-57 39z"/>
<path fill="#19addb" d="M4554 4973l58 2 69 58-58-5z"/>
<path fill="#2cc4a6" d="M4232 4773l58-7 69 75-58 3z"/>
<path fill="#aec637" d="M2381 4494l58-37 69 7-58 38z"/>
<path fill="#6ecd66" d="M921 4605l58-15 69 13-58 15z"/>
<path fill="#4564fd" d="M5324 5319l58 3 69 41-58-3z"/>
<path fill="#a1c840" d="M2255 4523l58-36 68 7-57 37z"/>
<path fill="#84cc56" d="M3911 4574l57-17 69 75-58 13z"/>
<path fill="#93ca4b" d="M2128 4549l58-34 69 8-58 35z"/>
<path fill="#81cc59" d="M2002 4575l58-34 68 8-57 37z"/>
<path fill="#4742e6" d="M5772 5462l58-12 69 33-58 12z"/>
<path fill="#2c8ff1" d="M4876 5135l58 8 68 42-57-10z"/>
<path fill="#76cc61" d="M1875 4594l58-29 69 10-58 31z"/>
<path fill="#6ecd66" d="M795 4607l57-15 69 13-58 15z"/>
<path fill="#debd29" d="M3462 4403l58-31 69 54-58 28z"/>
<path fill="#422ebf" d="M6347 5566l58-13 69 30-58 13z"/>
<path fill="#72cd64" d="M1749 4602l58-20 68 12-57 20z"/>
<path fill="#6ecd66" d="M668 4609l58-15 69 13-58 15z"/>
<path fill="#3e70ff" d="M5198 5273l57 5 69 41-58-5z"/>
<path fill="#4848ec" d="M5646 5439l58-10 68 33-57 12z"/>
<path fill="#72cd64" d="M1622 4607l58-18 69 13-58 18z"/>
<path fill="#02b7ca" d="M4428 4909l57 0 69 64-58-3z"/>
<path fill="#e5bb2d" d="M3336 4389l57-33 69 47-57 30z"/>
<path fill="#4331c8" d="M6221 5550l57-14 69 30-57 14z"/>
<path fill="#a4c83e" d="M3784 4525l58-21 69 70-58 17z"/>
<path fill="#40ca8d" d="M4106 4707l58-10 68 76-57 6z"/>
<path fill="#269ae8" d="M4749 5083l58 7 69 45-58-9z"/>
<path fill="#72cd64" d="M1496 4610l58-16 68 13-57 16z"/>
<path fill="#e8bb2f" d="M3209 4385l58-35 69 39-58 33z"/>
<path fill="#4852f4" d="M5520 5404l57-2 69 37-58 5z"/>
<path fill="#6ecd66" d="M1369 4613l58-16 69 13-58 16z"/>
<path fill="#4535d2" d="M6094 5532l58-13 69 31-58 13z"/>
<path fill="#327cfc" d="M5071 5225l58 8 69 40-58-10z"/>
<path fill="#e5bb2d" d="M3083 4389l57-36 69 32-57 35z"/>
<path fill="#bbc42f" d="M3658 4484l57-24 69 65-58 20z"/>
<path fill="#6ecd66" d="M1243 4615l58-15 68 13-57 15z"/>
<path fill="#13beb8" d="M4301 4844l58-3 69 68-58 0z"/>
<path fill="#61cd72" d="M3979 4645l58-13 69 75-58 9z"/>
<path fill="#e0bc2b" d="M2956 4402l58-38 69 25-58 37z"/>
<path fill="#4639d9" d="M5968 5514l58-13 68 31-57 14z"/>
<path fill="#1fa6e2" d="M4623 5028l58 5 68 50-57-7z"/>
<path fill="#6ecd66" d="M1116 4617l58-16 69 14-58 15z"/>
<path fill="#d9be28" d="M2830 4421l57-39 69 20-58 38z"/>
<path fill="#465dfa" d="M5393 5360l58 3 69 41-58-3z"/>
<path fill="#d0bf27" d="M2703 4446l58-40 69 15-58 40z"/>
<path fill="#c1c32c" d="M2577 4473l57-39 69 12-57 39z"/>
<path fill="#2d88f6" d="M4945 5175l57 10 69 40-57-12z"/>
<path fill="#6ecd66" d="M990 4618l58-15 68 14-57 15z"/>
<path fill="#cdc028" d="M3531 4454l58-28 69 58-58 24z"/>
<path fill="#b1c635" d="M2450 4502l58-38 69 9-58 40z"/>
<path fill="#473ee1" d="M5841 5495l58-12 69 31-58 13z"/>
<path fill="#a4c83e" d="M2324 4531l57-37 69 8-58 38z"/>
<path fill="#93ca4b" d="M2197 4558l58-35 69 8-58 37z"/>
<path fill="#84cc56" d="M2071 4586l57-37 69 9-57 39z"/>
<path fill="#6ecd66" d="M863 4620l58-15 69 13-58 15z"/>
<path fill="#79cc5e" d="M1944 4606l58-31 69 11-58 32z"/>
<path fill="#2fc5a3" d="M4175 4779l57-6 69 71-58 3z"/>
<path fill="#81cc59" d="M3853 4591l58-17 68 71-57 14z"/>
<path fill="#14b0d8" d="M4496 4970l58 3 69 55-58-5z"/>
<path fill="#4368fe" d="M5266 5314l58 5 69 41-58-6z"/>
<path fill="#76cc61" d="M1818 4614l57-20 69 12-58 21z"/>
<path fill="#d6be28" d="M3405 4433l57-30 69 51-58 27z"/>
<path fill="#4744e8" d="M5715 5474l57-12 69 33-57 12z"/>
<path fill="#6ecd66" d="M737 4622l58-15 68 13-57 15z"/>
<path fill="#422fc2" d="M6290 5580l57-14 69 30-58 13z"/>
<path fill="#2994ed" d="M4818 5126l58 9 69 40-58-11z"/>
<path fill="#72cd64" d="M1691 4620l58-18 69 12-58 18z"/>
<path fill="#6ecd66" d="M610 4624l58-15 69 13-58 15z"/>
<path fill="#debd29" d="M3278 4422l58-33 69 44-58 30z"/>
<path fill="#72cd64" d="M1565 4623l57-16 69 13-57 17z"/>
<path fill="#484bee" d="M5588 5444l58-5 69 35-58 8z"/>
<path fill="#a1c840" d="M3726 4545l58-20 69 66-58 17z"/>
<path fill="#4332ca" d="M6163 5563l58-13 69 30-58 13z"/>
<path fill="#3876fe" d="M5140 5263l58 10 68 41-57-11z"/>
<path fill="#01b9c7" d="M4370 4909l58 0 68 61-57-3z"/>
<path fill="#42ca8b" d="M4048 4716l58-9 69 72-58 6z"/>
<path fill="#6ecd66" d="M1438 4626l58-16 69 13-58 16z"/>
<path fill="#debd29" d="M3152 4420l57-35 69 37-58 33z"/>
<path fill="#249fe6" d="M4692 5076l57 7 69 43-58-9z"/>
<path fill="#6ecd66" d="M1312 4628l57-15 69 13-58 15z"/>
<path fill="#4535d2" d="M6037 5546l57-14 69 31-58 13z"/>
<path fill="#debd29" d="M3025 4426l58-37 69 31-58 35z"/>
<path fill="#4756f7" d="M5462 5401l58 3 68 40-57-2z"/>
<path fill="#b5c533" d="M3600 4508l58-24 68 61-57 21z"/>
<path fill="#d6be28" d="M2898 4440l58-38 69 24-58 37z"/>
<path fill="#6ecd66" d="M1185 4630l58-15 69 13-58 15z"/>
<path fill="#2e83f9" d="M5014 5213l57 12 69 38-58-13z"/>
<path fill="#cdc028" d="M2772 4461l58-40 68 19-57 39z"/>
<path fill="#61cd72" d="M3922 4659l57-14 69 71-58 10z"/>
<path fill="#1ac0b5" d="M4243 4847l58-3 69 65-58-1z"/>
<path fill="#463adb" d="M5910 5527l58-13 69 32-58 12z"/>
<path fill="#c1c32c" d="M2646 4485l57-39 69 15-58 39z"/>
<path fill="#6ecd66" d="M1059 4632l57-15 69 13-57 15z"/>
<path fill="#b5c533" d="M2519 4513l58-40 69 12-58 40z"/>
<path fill="#1caadf" d="M4565 5023l58 5 69 48-58-9z"/>
<path fill="#a4c83e" d="M2392 4540l58-38 69 11-58 38z"/>
<path fill="#96ca48" d="M2266 4568l58-37 68 9-57 38z"/>
<path fill="#c5c22a" d="M3473 4481l58-27 69 54-58 24z"/>
<path fill="#4561fc" d="M5335 5354l58 6 69 41-58-5z"/>
<path fill="#84cc56" d="M2140 4597l57-39 69 10-58 40z"/>
<path fill="#6ecd66" d="M932 4633l58-15 69 14-58 15z"/>
<path fill="#79cc5e" d="M2013 4618l58-32 69 11-58 33z"/>
<path fill="#473ee1" d="M5784 5507l57-12 69 32-58 12z"/>
<path fill="#76cc61" d="M1886 4627l58-21 69 12-58 21z"/>
<path fill="#2c8ff1" d="M4887 5164l58 11 69 38-58-13z"/>
<path fill="#6ecd66" d="M806 4635l57-15 69 13-58 16z"/>
<path fill="#81cc59" d="M3795 4608l58-17 69 68-58 13z"/>
<path fill="#d0bf27" d="M3347 4463l58-30 68 48-57 27z"/>
<path fill="#30c5a1" d="M4117 4785l58-6 68 68-57 2z"/>
<path fill="#72cd64" d="M1760 4632l58-18 68 13-57 18z"/>
<path fill="#0bb3d2" d="M4439 4967l57 3 69 53-57-7z"/>
<path fill="#6ecd66" d="M679 4637l58-15 69 13-58 15z"/>
<path fill="#4745e9" d="M5657 5482l58-8 69 33-58 10z"/>
<path fill="#3e70ff" d="M5209 5303l57 11 69 40-57-10z"/>
<path fill="#422fc2" d="M6232 5593l58-13 68 29-57 13z"/>
<path fill="#72cd64" d="M1634 4637l57-17 69 12-58 18z"/>
<path fill="#d6be28" d="M3220 4455l58-33 69 41-58 30z"/>
<path fill="#6ecd66" d="M553 4639l57-15 69 13-57 15z"/>
<path fill="#2699e9" d="M4760 5117l58 9 69 38-58-12z"/>
<path fill="#6ecd66" d="M1507 4639l58-16 69 14-58 16z"/>
<path fill="#9dc943" d="M3669 4566l57-21 69 63-58 17z"/>
<path fill="#4332ca" d="M6105 5576l58-13 69 30-58 13z"/>
<path fill="#484ff2" d="M5531 5442l57 2 69 38-58 0z"/>
<path fill="#d6be28" d="M3094 4455l58-35 68 35-57 32z"/>
<path fill="#45cb89" d="M3990 4726l58-10 69 69-58 6z"/>
<path fill="#6ecd66" d="M1380 4641l58-15 69 13-58 16z"/>
<path fill="#03bbc2" d="M4312 4908l58 1 69 58-58-5z"/>
<path fill="#317dfc" d="M5082 5250l58 13 69 40-58-15z"/>
<path fill="#d3bf27" d="M2967 4463l58-37 69 29-58 35z"/>
<path fill="#6ecd66" d="M1254 4643l58-15 68 13-57 16z"/>
<path fill="#4535d2" d="M5979 5558l58-12 68 30-57 13z"/>
<path fill="#cac129" d="M2841 4479l57-39 69 23-57 38z"/>
<path fill="#21a3e3" d="M4634 5067l58 9 68 41-57-12z"/>
<path fill="#b1c635" d="M3542 4532l58-24 69 58-58 21z"/>
<path fill="#c1c32c" d="M2714 4500l58-39 69 18-58 38z"/>
<path fill="#475bfa" d="M5404 5396l58 5 69 41-58-5z"/>
<path fill="#6ecd66" d="M1128 4645l57-15 69 13-58 15z"/>
<path fill="#b5c533" d="M2588 4525l58-40 68 15-57 39z"/>
<path fill="#a7c73c" d="M2461 4551l58-38 69 12-58 39z"/>
<path fill="#96ca48" d="M2335 4578l57-38 69 11-57 39z"/>
<path fill="#61cd72" d="M3864 4672l58-13 68 67-57 10z"/>
<path fill="#463adb" d="M5852 5539l58-12 69 31-58 12z"/>
<path fill="#88cb53" d="M2208 4608l58-40 69 10-58 41z"/>
<path fill="#6ecd66" d="M1001 4647l58-15 69 13-58 15z"/>
<path fill="#22c1af" d="M4186 4849l57-2 69 61-58-1z"/>
<path fill="#2d8af5" d="M4956 5200l58 13 68 37-57-14z"/>
<path fill="#79cc5e" d="M2082 4630l58-33 68 11-57 34z"/>
<path fill="#bec32e" d="M3416 4508l57-27 69 51-58 25z"/>
<path fill="#76cc61" d="M1955 4639l58-21 69 12-58 22z"/>
<path fill="#19addb" d="M4508 5016l57 7 69 44-58-10z"/>
<path fill="#6ecd66" d="M874 4649l58-16 69 14-58 15z"/>
<path fill="#473fe3" d="M5726 5517l58-10 68 32-57 11z"/>
<path fill="#4368fe" d="M5278 5344l57 10 69 42-58-9z"/>
<path fill="#72cd64" d="M1829 4645l57-18 69 12-57 19z"/>
<path fill="#6ecd66" d="M748 4650l58-15 68 14-57 15z"/>
<path fill="#c8c129" d="M3289 4493l58-30 69 45-58 28z"/>
<path fill="#81cc59" d="M3737 4625l58-17 69 64-58 14z"/>
<path fill="#72cd64" d="M1702 4650l58-18 69 13-58 18z"/>
<path fill="#2994ed" d="M4829 5152l58 12 69 36-58-14z"/>
<path fill="#33c79d" d="M4059 4791l58-6 69 64-58 2z"/>
<path fill="#6ecd66" d="M622 4652l57-15 69 13-58 16z"/>
<path fill="#4849ed" d="M5599 5482l58 0 69 35-58 3z"/>
<path fill="#cdc028" d="M3163 4487l57-32 69 38-58 31z"/>
<path fill="#6ecd66" d="M1576 4653l58-16 68 13-57 16z"/>
<path fill="#422fc2" d="M6174 5606l58-13 69 29-58 14z"/>
<path fill="#05b6ce" d="M4381 4962l58 5 69 49-58-7z"/>
<path fill="#6ecd66" d="M495 4654l58-15 69 13-58 15z"/>
<path fill="#3677fe" d="M5151 5288l58 15 69 41-58-15z"/>
<path fill="#6ecd66" d="M1449 4655l58-16 69 14-58 15z"/>
<path fill="#cac129" d="M3036 4490l58-35 69 32-58 33z"/>
<path fill="#9ac946" d="M3611 4587l58-21 68 59-57 18z"/>
<path fill="#4332ca" d="M6048 5589l57-13 69 30-58 13z"/>
<path fill="#249fe6" d="M4703 5105l57 12 69 35-57-13z"/>
<path fill="#c8c129" d="M2910 4501l57-38 69 27-58 36z"/>
<path fill="#6ecd66" d="M1323 4657l57-16 69 14-57 15z"/>
<path fill="#4854f6" d="M5473 5437l58 5 68 40-57-5z"/>
<path fill="#48cb86" d="M3933 4736l57-10 69 65-57 6z"/>
<path fill="#bec32e" d="M2783 4517l58-38 69 22-58 37z"/>
<path fill="#0abdbd" d="M4254 4907l58 1 69 54-58-4z"/>
<path fill="#6ecd66" d="M1196 4658l58-15 69 14-58 15z"/>
<path fill="#b5c533" d="M2657 4539l57-39 69 17-58 39z"/>
<path fill="#4537d5" d="M5921 5570l58-12 69 31-58 12z"/>
<path fill="#abc739" d="M3484 4557l58-25 69 55-58 20z"/>
<path fill="#2e84f8" d="M5025 5236l57 14 69 38-58-15z"/>
<path fill="#a7c73c" d="M2530 4564l58-39 69 14-58 39z"/>
<path fill="#9ac946" d="M2404 4590l57-39 69 13-58 38z"/>
<path fill="#88cb53" d="M2277 4619l58-41 69 12-58 42z"/>
<path fill="#6ecd66" d="M1070 4660l58-15 68 13-57 15z"/>
<path fill="#1da9e0" d="M4576 5057l58 10 69 38-58-12z"/>
<path fill="#79cc5e" d="M2151 4642l57-34 69 11-58 36z"/>
<path fill="#4561fc" d="M5346 5387l58 9 69 41-58-7z"/>
<path fill="#76cc61" d="M2024 4652l58-22 69 12-58 23z"/>
<path fill="#64cd6f" d="M3806 4686l58-14 69 64-58 9z"/>
<path fill="#463bde" d="M5795 5550l57-11 69 31-57 12z"/>
<path fill="#6ecd66" d="M943 4662l58-15 69 13-58 15z"/>
<path fill="#b8c431" d="M3358 4536l58-28 68 49-57 24z"/>
<path fill="#27c2ac" d="M4128 4851l58-2 68 58-57-1z"/>
<path fill="#72cd64" d="M1898 4658l57-19 69 13-58 19z"/>
<path fill="#2b90f0" d="M4898 5186l58 14 69 36-58-16z"/>
<path fill="#6ecd66" d="M817 4664l57-15 69 13-57 15z"/>
<path fill="#72cd64" d="M1771 4663l58-18 69 13-58 18z"/>
<path fill="#c1c32c" d="M3231 4524l58-31 69 43-58 27z"/>
<path fill="#12b1d6" d="M4450 5009l58 7 68 41-57-9z"/>
<path fill="#4742e6" d="M5668 5520l58-3 69 33-58 6z"/>
<path fill="#6ecd66" d="M690 4666l58-16 69 14-58 15z"/>
<path fill="#7dcc5b" d="M3680 4643l57-18 69 61-58 13z"/>
<path fill="#3e70ff" d="M5220 5329l58 15 68 43-57-15z"/>
<path fill="#6ecd66" d="M1645 4666l57-16 69 13-58 16z"/>
<path fill="#c1c32c" d="M3105 4520l58-33 68 37-57 30z"/>
<path fill="#6ecd66" d="M564 4667l58-15 68 14-57 15z"/>
<path fill="#36c899" d="M4002 4797l57-6 69 60-58 3z"/>
<path fill="#6ecd66" d="M1518 4668l58-15 69 13-58 15z"/>
<path fill="#269ae8" d="M4772 5139l57 13 69 34-58-16z"/>
<path fill="#4330c5" d="M6116 5619l58-13 69 30-58 12z"/>
<path fill="#484ef1" d="M5542 5477l57 5 69 38-57-3z"/>
<path fill="#c1c32c" d="M2978 4526l58-36 69 30-58 34z"/>
<path fill="#01b8c9" d="M4323 4958l58 4 69 47-58-7z"/>
<path fill="#6ecd66" d="M1392 4670l57-15 69 13-58 15z"/>
<path fill="#96ca48" d="M3553 4607l58-20 69 56-58 17z"/>
<path fill="#bbc42f" d="M2852 4538l58-37 68 25-57 35z"/>
<path fill="#307ffb" d="M5093 5273l58 15 69 41-58-16z"/>
<path fill="#4433cd" d="M5990 5601l58-12 68 30-57 12z"/>
<path fill="#b1c635" d="M2725 4556l58-39 69 21-58 37z"/>
<path fill="#6ecd66" d="M1265 4672l58-15 69 13-58 15z"/>
<path fill="#a7c73c" d="M2599 4578l58-39 68 17-57 38z"/>
<path fill="#4bcb84" d="M3875 4745l58-9 69 61-58 6z"/>
<path fill="#20a5e3" d="M4645 5093l58 12 69 34-58-15z"/>
<path fill="#9ac946" d="M2472 4602l58-38 69 14-58 38z"/>
<path fill="#475af9" d="M5415 5430l58 7 69 40-58-6z"/>
<path fill="#88cb53" d="M2346 4632l58-42 68 12-57 42z"/>
<path fill="#6ecd66" d="M1139 4673l57-15 69 14-58 15z"/>
<path fill="#a7c73c" d="M3427 4581l57-24 69 50-57 21z"/>
<path fill="#79cc5e" d="M2219 4655l58-36 69 13-58 36z"/>
<path fill="#4538d7" d="M5864 5582l57-12 69 31-58 12z"/>
<path fill="#13beb8" d="M4197 4906l57 1 69 51-57-4z"/>
<path fill="#76cc61" d="M2093 4665l58-23 68 13-57 23z"/>
<path fill="#6ecd66" d="M1012 4675l58-15 69 13-58 16z"/>
<path fill="#2d8bf4" d="M4967 5220l58 16 68 37-57-16z"/>
<path fill="#72cd64" d="M1966 4671l58-19 69 13-58 19z"/>
<path fill="#b1c635" d="M3300 4563l58-27 69 45-58 24z"/>
<path fill="#19addb" d="M4519 5048l57 9 69 36-58-12z"/>
<path fill="#64cd6f" d="M3748 4699l58-13 69 59-58 10z"/>
<path fill="#6ecd66" d="M886 4677l57-15 69 13-58 15z"/>
<path fill="#463ddf" d="M5737 5556l58-6 69 32-58 8z"/>
<path fill="#4368fe" d="M5289 5372l57 15 69 43-57-14z"/>
<path fill="#72cd64" d="M1840 4676l58-18 68 13-57 18z"/>
<path fill="#2bc3a8" d="M4070 4854l58-3 69 55-58-1z"/>
<path fill="#6ecd66" d="M759 4679l58-15 69 13-58 15z"/>
<path fill="#b8c431" d="M3174 4554l57-30 69 39-58 27z"/>
<path fill="#6ecd66" d="M1713 4679l58-16 69 13-58 17z"/>
<path fill="#2797eb" d="M4840 5170l58 16 69 34-58-17z"/>
<path fill="#6ecd66" d="M633 4681l57-15 69 13-58 15z"/>
<path fill="#4746eb" d="M5611 5517l57 3 69 36-58-1z"/>
<path fill="#7dcc5b" d="M3622 4660l58-17 68 56-57 14z"/>
<path fill="#08b4d1" d="M4392 5002l58 7 69 39-58-9z"/>
<path fill="#b8c431" d="M3047 4554l58-34 69 34-58 31z"/>
<path fill="#6ecd66" d="M1587 4681l58-15 68 13-57 16z"/>
<path fill="#3677fe" d="M5162 5313l58 16 69 43-58-16z"/>
<path fill="#b5c533" d="M2921 4561l57-35 69 28-57 33z"/>
<path fill="#6ecd66" d="M1460 4683l58-15 69 13-58 15z"/>
<path fill="#38c896" d="M3944 4803l58-6 68 57-57 2z"/>
<path fill="#4330c5" d="M6059 5631l57-12 69 29-57 13z"/>
<path fill="#aec637" d="M2794 4575l58-37 69 23-58 36z"/>
<path fill="#22a1e4" d="M4714 5124l58 15 68 31-57-15z"/>
<path fill="#93ca4b" d="M3496 4628l57-21 69 53-58 17z"/>
<path fill="#4853f5" d="M5484 5471l58 6 69 40-58-6z"/>
<path fill="#6ecd66" d="M1334 4685l58-15 68 13-57 15z"/>
<path fill="#a4c83e" d="M2668 4594l57-38 69 19-58 37z"/>
<path fill="#03bbc2" d="M4266 4954l57 4 69 44-58-7z"/>
<path fill="#9ac946" d="M2541 4616l58-38 69 16-58 38z"/>
<path fill="#4434d0" d="M5932 5613l58-12 69 30-58 12z"/>
<path fill="#88cb53" d="M2415 4644l57-42 69 14-58 42z"/>
<path fill="#6ecd66" d="M1207 4687l58-15 69 13-58 15z"/>
<path fill="#7dcc5b" d="M2288 4668l58-36 69 12-58 37z"/>
<path fill="#2e86f8" d="M5036 5257l57 16 69 40-58-17z"/>
<path fill="#4ecc81" d="M3817 4755l58-10 69 58-58 6z"/>
<path fill="#76cc61" d="M2162 4678l57-23 69 13-58 23z"/>
<path fill="#a1c840" d="M3369 4605l58-24 69 47-58 21z"/>
<path fill="#6ecd66" d="M1081 4689l58-16 68 14-57 15z"/>
<path fill="#1da9e0" d="M4587 5081l58 12 69 31-58-13z"/>
<path fill="#4639d9" d="M5806 5590l58-8 68 31-57 9z"/>
<path fill="#4660fb" d="M5358 5416l57 14 69 41-58-11z"/>
<path fill="#72cd64" d="M2035 4684l58-19 69 13-58 19z"/>
<path fill="#1ac0b5" d="M4139 4905l58 1 69 48-58-4z"/>
<path fill="#6ecd66" d="M954 4690l58-15 69 14-58 15z"/>
<path fill="#abc739" d="M3242 4590l58-27 69 42-58 24z"/>
<path fill="#72cd64" d="M1909 4689l57-18 69 13-57 19z"/>
<path fill="#6ecd66" d="M828 4692l58-15 68 13-57 15z"/>
<path fill="#64cd6f" d="M3691 4713l57-14 69 56-57 10z"/>
<path fill="#2a93ee" d="M4909 5203l58 17 69 37-58-19z"/>
<path fill="#4741e5" d="M5679 5555l58 1 69 34-58 1z"/>
<path fill="#6ecd66" d="M1782 4693l58-17 69 13-58 17z"/>
<path fill="#12b1d6" d="M4461 5039l58 9 68 33-57-11z"/>
<path fill="#aec637" d="M3116 4585l58-31 68 36-57 28z"/>
<path fill="#6ecd66" d="M701 4694l58-15 69 13-58 15z"/>
<path fill="#3e70ff" d="M5231 5356l58 16 69 44-58-17z"/>
<path fill="#2ec4a4" d="M4013 4856l57-2 69 51-58 0z"/>
<path fill="#6ecd66" d="M1656 4695l57-16 69 14-58 15z"/>
<path fill="#aec637" d="M2990 4587l57-33 69 31-58 30z"/>
<path fill="#7dcc5b" d="M3564 4677l58-17 69 53-58 13z"/>
<path fill="#6ecd66" d="M1529 4696l58-15 69 14-58 15z"/>
<path fill="#484cf0" d="M5553 5511l58 6 68 38-57-6z"/>
<path fill="#abc739" d="M2863 4597l58-36 69 26-58 33z"/>
<path fill="#249ee6" d="M4783 5155l57 15 69 33-57-17z"/>
<path fill="#02b7ca" d="M4334 4995l58 7 69 37-58-10z"/>
<path fill="#6ecd66" d="M1403 4698l57-15 69 13-57 16z"/>
<path fill="#a4c83e" d="M2736 4612l58-37 69 22-58 35z"/>
<path fill="#4331c8" d="M6001 5643l58-12 69 30-58 11z"/>
<path fill="#3cc992" d="M3886 4809l58-6 69 53-58 3z"/>
<path fill="#96ca48" d="M2610 4632l58-38 68 18-57 36z"/>
<path fill="#2f80fa" d="M5104 5296l58 17 69 43-58-18z"/>
<path fill="#8fcb4e" d="M3438 4649l58-21 68 49-57 17z"/>
<path fill="#88cb53" d="M2483 4658l58-42 69 16-58 41z"/>
<path fill="#6ecd66" d="M1276 4700l58-15 69 13-58 15z"/>
<path fill="#7dcc5b" d="M2357 4681l58-37 68 14-57 36z"/>
<path fill="#4759f8" d="M5426 5460l58 11 69 40-58-9z"/>
<path fill="#76cc61" d="M2230 4691l58-23 69 13-58 23z"/>
<path fill="#1fa6e2" d="M4656 5111l58 13 69 31-58-15z"/>
<path fill="#4535d2" d="M5875 5622l57-9 69 30-58 10z"/>
<path fill="#0abdbd" d="M4208 4950l58 4 68 41-57-6z"/>
<path fill="#6ecd66" d="M1150 4702l57-15 69 13-58 15z"/>
<path fill="#9dc943" d="M3311 4629l58-24 69 44-58 20z"/>
<path fill="#72cd64" d="M2104 4697l58-19 68 13-57 20z"/>
<path fill="#51cc7f" d="M3760 4765l57-10 69 54-58 6z"/>
<path fill="#6ecd66" d="M1023 4704l58-15 69 13-58 15z"/>
<path fill="#72cd64" d="M1978 4703l57-19 69 13-58 19z"/>
<path fill="#2c8ef2" d="M4978 5238l58 19 68 39-57-19z"/>
<path fill="#463bde" d="M5748 5591l58-1 69 32-58 3z"/>
<path fill="#6ecd66" d="M897 4705l57-15 69 14-57 15z"/>
<path fill="#a4c83e" d="M3185 4618l57-28 69 39-57 24z"/>
<path fill="#17aeda" d="M4530 5070l57 11 69 30-58-13z"/>
<path fill="#22c1af" d="M4081 4905l58 0 69 45-58-3z"/>
<path fill="#4368fe" d="M5300 5399l58 17 68 44-57-16z"/>
<path fill="#6ecd66" d="M1851 4706l58-17 69 14-58 16zm-1081 1l58-15 69 13-58 16z"/>
<path fill="#67cd6c" d="M3633 4726l58-13 69 52-58 9z"/>
<path fill="#a7c73c" d="M3058 4615l58-30 69 33-58 28z"/>
<path fill="#6ecd66" d="M1724 4708l58-15 69 13-58 15z"/>
<path fill="#4746eb" d="M5622 5549l57 6 69 36-58-5z"/>
<path fill="#269ae8" d="M4852 5186l57 17 69 35-58-18z"/>
<path fill="#a4c83e" d="M2932 4620l58-33 68 28-57 31z"/>
<path fill="#6ecd66" d="M1598 4710l58-15 68 13-57 15z"/>
<path fill="#08b4d1" d="M4403 5029l58 10 69 31-58-11z"/>
<path fill="#30c5a1" d="M3955 4859l58-3 68 49-57-1z"/>
<path fill="#9dc943" d="M2805 4632l58-35 69 23-58 33z"/>
<path fill="#79cc5e" d="M3507 4694l57-17 69 49-58 13z"/>
<path fill="#3579fd" d="M5173 5338l58 18 69 43-58-17z"/>
<path fill="#6ecd66" d="M1472 4712l57-16 69 14-58 15z"/>
<path fill="#96ca48" d="M2679 4648l57-36 69 20-57 34z"/>
<path fill="#88cb53" d="M2552 4673l58-41 69 16-58 40z"/>
<path fill="#4852f4" d="M5495 5502l58 9 69 38-58-8z"/>
<path fill="#6ecd66" d="M1345 4713l58-15 69 14-58 15z"/>
<path fill="#7dcc5b" d="M2426 4694l57-36 69 15-57 35z"/>
<path fill="#02bac4" d="M4277 4989l57 6 69 34-57-9z"/>
<path fill="#21a3e3" d="M4725 5140l58 15 69 31-58-16z"/>
<path fill="#4332ca" d="M5943 5653l58-10 69 29-58 11z"/>
<path fill="#8bcb51" d="M3380 4669l58-20 69 45-58 17z"/>
<path fill="#3eca90" d="M3828 4815l58-6 69 50-58 2z"/>
<path fill="#76cc61" d="M2299 4704l58-23 69 13-58 23z"/>
<path fill="#6ecd66" d="M1218 4715l58-15 69 13-58 16z"/>
<path fill="#72cd64" d="M2173 4711l57-20 69 13-57 20z"/>
<path fill="#2d88f6" d="M5047 5277l57 19 69 42-57-20z"/>
<path fill="#6ecd66" d="M1092 4717l58-15 68 13-57 15z"/>
<path fill="#4538d7" d="M5817 5625l58-3 68 31-57 4z"/>
<path fill="#96ca48" d="M3254 4653l57-24 69 40-58 21z"/>
<path fill="#4561fc" d="M5369 5444l57 16 69 42-58-15z"/>
<path fill="#72cd64" d="M2046 4716l58-19 69 14-58 18z"/>
<path fill="#13beb8" d="M4150 4947l58 3 69 39-58-7z"/>
<path fill="#1babde" d="M4598 5098l58 13 69 29-58-15z"/>
<path fill="#6ecd66" d="M966 4719l57-15 69 13-58 15z"/>
<path fill="#51cc7f" d="M3702 4774l58-9 68 50-57 6z"/>
<path fill="#6ecd66" d="M1920 4719l58-16 68 13-57 17z"/>
<path fill="#9dc943" d="M3127 4646l58-28 69 35-58 25z"/>
<path fill="#6ecd66" d="M839 4721l58-16 69 14-58 15z"/>
<path fill="#4741e5" d="M5690 5586l58 5 69 34-58-5z"/>
<path fill="#6ecd66" d="M1793 4721l58-15 69 13-58 16z"/>
<path fill="#2895ec" d="M4920 5220l58 18 69 39-58-20z"/>
<path fill="#29c3aa" d="M4024 4904l57 1 69 42-58-4z"/>
<path fill="#9dc943" d="M3001 4646l57-31 69 31-58 27z"/>
<path fill="#10b2d5" d="M4472 5059l58 11 68 28-57-13z"/>
<path fill="#67cd6c" d="M3575 4739l58-13 69 48-58 10z"/>
<path fill="#3c71ff" d="M5242 5382l58 17 69 45-58-19z"/>
<path fill="#6ecd66" d="M1667 4723l57-15 69 13-57 15z"/>
<path fill="#9ac946" d="M2874 4653l58-33 69 26-58 30z"/>
<path fill="#6ecd66" d="M1540 4725l58-15 69 13-58 15z"/>
<path fill="#484cf0" d="M5564 5541l58 8 68 37-57-8z"/>
<path fill="#93ca4b" d="M2748 4666l57-34 69 21-58 33z"/>
<path fill="#02b7ca" d="M4346 5020l57 9 69 30-58-11z"/>
<path fill="#88cb53" d="M2621 4688l58-40 69 18-58 38z"/>
<path fill="#23a0e5" d="M4794 5170l58 16 68 34-57-18z"/>
<path fill="#33c79d" d="M3897 4861l58-2 69 45-58-1z"/>
<path fill="#79cc5e" d="M3449 4711l58-17 68 45-57 14z"/>
<path fill="#6ecd66" d="M1414 4727l58-15 68 13-57 15z"/>
<path fill="#79cc5e" d="M2495 4708l57-35 69 15-58 35z"/>
<path fill="#76cc61" d="M2368 4717l58-23 69 14-58 23z"/>
<path fill="#2f82fa" d="M5116 5318l57 20 69 44-58-20z"/>
<path fill="#6ecd66" d="M1287 4729l58-16 69 14-58 15z"/>
<path fill="#88cb53" d="M3322 4690l58-21 69 42-58 17z"/>
<path fill="#72cd64" d="M2242 4724l57-20 69 13-58 20z"/>
<path fill="#4759f8" d="M5437 5487l58 15 69 39-58-13z"/>
<path fill="#4433cd" d="M5886 5657l57-4 69 30-58 5z"/>
<path fill="#08bcbf" d="M4219 4982l58 7 69 31-58-9z"/>
<path fill="#6ecd66" d="M1161 4730l57-15 69 14-57 15z"/>
<path fill="#42ca8b" d="M3771 4821l57-6 69 46-57 3z"/>
<path fill="#1da9e0" d="M4667 5125l58 15 69 30-58-17z"/>
<path fill="#72cd64" d="M2115 4729l58-18 69 13-58 18z"/>
<path fill="#6ecd66" d="M1034 4732l58-15 69 13-58 15z"/>
<path fill="#8fcb4e" d="M3196 4678l58-25 68 37-57 21z"/>
<path fill="#6ecd66" d="M1989 4733l57-17 69 13-58 17z"/>
<path fill="#463bde" d="M5759 5620l58 5 69 32-58-4z"/>
<path fill="#2b90f0" d="M4989 5257l58 20 69 41-58-20z"/>
<path fill="#6ecd66" d="M908 4734l58-15 68 13-57 15z"/>
<path fill="#1dc0b3" d="M4092 4943l58 4 69 35-58-7z"/>
<path fill="#54cc7c" d="M3644 4784l58-10 69 47-58 6z"/>
<path fill="#6ecd66" d="M1862 4735l58-16 69 14-58 15z"/>
<path fill="#4368fe" d="M5311 5425l58 19 68 43-57-18z"/>
<path fill="#96ca48" d="M3069 4673l58-27 69 32-58 24z"/>
<path fill="#14b0d8" d="M4541 5085l57 13 69 27-57-15z"/>
<path fill="#6ecd66" d="M1736 4736l57-15 69 14-58 15z"/>
<path fill="#93ca4b" d="M2943 4676l58-30 68 27-57 28z"/>
<path fill="#4746eb" d="M5633 5578l57 8 69 34-57-7z"/>
<path fill="#67cd6c" d="M3518 4753l57-14 69 45-58 10z"/>
<path fill="#2ec4a4" d="M3966 4903l58 1 68 39-57-4z"/>
<path fill="#6ecd66" d="M1609 4738l58-15 69 13-58 16z"/>
<path fill="#8fcb4e" d="M2816 4686l58-33 69 23-58 30z"/>
<path fill="#259ce7" d="M4863 5202l57 18 69 37-58-19z"/>
<path fill="#05b6ce" d="M4414 5048l58 11 69 26-58-13z"/>
<path fill="#84cc56" d="M2690 4704l58-38 68 20-57 35z"/>
<path fill="#337afd" d="M5184 5362l58 20 69 43-58-19z"/>
<path fill="#6ecd66" d="M1483 4740l57-15 69 13-58 15z"/>
<path fill="#79cc5e" d="M2563 4723l58-35 69 16-58 33z"/>
<path fill="#76cc61" d="M2437 4731l58-23 68 15-57 22z"/>
<path fill="#79cc5e" d="M3391 4728l58-17 69 42-58 13z"/>
<path fill="#4853f5" d="M5506 5528l58 13 69 37-58-11z"/>
<path fill="#6ecd66" d="M1356 4742l58-15 69 13-58 15z"/>
<path fill="#38c896" d="M3840 4864l57-3 69 42-58-1z"/>
<path fill="#03bbc2" d="M4288 5011l58 9 68 28-57-12z"/>
<path fill="#72cd64" d="M2310 4737l58-20 69 14-58 20z"/>
<path fill="#1fa6e2" d="M4736 5153l58 17 69 32-58-17z"/>
<path fill="#6ecd66" d="M1230 4744l57-15 69 13-58 15z"/>
<path fill="#84cc56" d="M3265 4711l57-21 69 38-57 17z"/>
<path fill="#72cd64" d="M2184 4742l58-18 68 13-57 19z"/>
<path fill="#2d8af5" d="M5058 5298l58 20 68 44-57-22z"/>
<path fill="#6ecd66" d="M1103 4745l58-15 69 14-58 15z"/>
<path fill="#4538d7" d="M5828 5653l58 4 68 31-57-4z"/>
<path fill="#45cb89" d="M3713 4827l58-6 69 43-58 2z"/>
<path fill="#6ecd66" d="M2057 4746l58-17 69 13-58 17z"/>
<path fill="#4561fc" d="M5380 5469l57 18 69 41-58-18z"/>
<path fill="#13beb8" d="M4161 4975l58 7 69 29-58-9z"/>
<path fill="#8bcb51" d="M3138 4702l58-24 69 33-58 21z"/>
<path fill="#6ecd66" d="M977 4747l57-15 69 13-58 16z"/>
<path fill="#17aeda" d="M4610 5110l57 15 69 28-58-16z"/>
<path fill="#6ecd66" d="M1931 4748l58-15 68 13-57 15z"/>
<path fill="#8bcb51" d="M3012 4701l57-28 69 29-58 24z"/>
<path fill="#4741e5" d="M5702 5613l57 7 69 33-58-8z"/>
<path fill="#6ecd66" d="M1804 4750l58-15 69 13-58 15z"/>
<path fill="#57cc7a" d="M3586 4794l58-10 69 43-58 6z"/>
<path fill="#27c2ac" d="M4035 4939l57 4 69 32-57-6z"/>
<path fill="#2798ea" d="M4931 5238l58 19 69 41-58-21z"/>
<path fill="#8bcb51" d="M2885 4706l58-30 69 25-58 27z"/>
<path fill="#6ecd66" d="M1678 4752l58-16 68 14-57 15z"/>
<path fill="#08b4d1" d="M4483 5072l58 13 69 25-58-14z"/>
<path fill="#3c71ff" d="M5253 5406l58 19 69 44-58-20z"/>
<path fill="#81cc59" d="M2759 4721l57-35 69 20-57 33z"/>
<path fill="#6ecd66" d="M1551 4753l58-15 69 14-58 15z"/>
<path fill="#67cd6c" d="M3460 4766l58-13 68 41-57 9z"/>
<path fill="#79cc5e" d="M2632 4737l58-33 69 17-58 31z"/>
<path fill="#484cf0" d="M5575 5567l58 11 69 35-58-11z"/>
<path fill="#30c5a1" d="M3908 4902l58 1 69 36-58-4z"/>
<path fill="#76cc61" d="M2506 4745l57-22 69 14-58 22z"/>
<path fill="#6ecd66" d="M1425 4755l58-15 68 13-57 15z"/>
<path fill="#22a2e4" d="M4805 5185l58 17 68 36-57-18z"/>
<path fill="#01b9c6" d="M4357 5036l57 12 69 24-58-13z"/>
<path fill="#72cd64" d="M2379 4751l58-20 69 14-58 19z"/>
<path fill="#76cc61" d="M3334 4745l57-17 69 38-58 13z"/>
<path fill="#6ecd66" d="M1298 4757l58-15 69 13-58 15z"/>
<path fill="#2e83f9" d="M5127 5340l57 22 69 44-57-22z"/>
<path fill="#72cd64" d="M2253 4756l57-19 69 14-57 18z"/>
<path fill="#3cc992" d="M3782 4866l58-2 68 38-57-1z"/>
<path fill="#475af9" d="M5448 5510l58 18 69 39-58-18z"/>
<path fill="#6ecd66" d="M1172 4759l58-15 68 13-57 15z"/>
<path fill="#0dbdbc" d="M4230 5002l58 9 69 25-58-11z"/>
<path fill="#81cc59" d="M3207 4732l58-21 69 34-58 17z"/>
<path fill="#6ecd66" d="M2126 4759l58-17 69 14-58 17z"/>
<path fill="#1aacdd" d="M4678 5137l58 16 69 32-58-18z"/>
<path fill="#6ecd66" d="M1045 4761l58-16 69 14-58 15zm955 0l57-15 69 13-58 16z"/>
<path fill="#84cc56" d="M3080 4726l58-24 69 30-58 21z"/>
<path fill="#463ddf" d="M5770 5645l58 8 69 31-58-8z"/>
<path fill="#4bcb84" d="M3655 4833l58-6 69 39-58 3z"/>
<path fill="#2b91ef" d="M5000 5277l58 21 69 42-58-21z"/>
<path fill="#20c1b1" d="M4104 4969l57 6 69 27-58-9z"/>
<path fill="#6ecd66" d="M1873 4763l58-15 69 13-58 15z"/>
<path fill="#426afe" d="M5322 5449l58 20 68 41-57-20z"/>
<path fill="#84cc56" d="M2954 4728l58-27 68 25-57 24z"/>
<path fill="#0db3d4" d="M4552 5096l58 14 68 27-57-16z"/>
<path fill="#6ecd66" d="M1747 4765l57-15 69 13-58 15z"/>
<path fill="#81cc59" d="M2828 4739l57-33 69 22-58 29z"/>
<path fill="#5acc77" d="M3529 4803l57-9 69 39-57 6z"/>
<path fill="#4746eb" d="M5644 5602l58 11 68 32-57-9z"/>
<path fill="#2cc4a6" d="M3977 4935l58 4 69 30-58-7z"/>
<path fill="#79cc5e" d="M2701 4752l58-31 69 18-58 28z"/>
<path fill="#6ecd66" d="M1620 4767l58-15 69 13-58 15z"/>
<path fill="#249fe6" d="M4874 5220l57 18 69 39-58-19z"/>
<path fill="#76cc61" d="M2574 4759l58-22 69 15-58 21z"/>
<path fill="#01b8c9" d="M4425 5059l58 13 69 24-58-15z"/>
<path fill="#6ecd66" d="M1494 4768l57-15 69 14-58 15z"/>
<path fill="#327cfc" d="M5196 5384l57 22 69 43-58-21z"/>
<path fill="#6bcd69" d="M3402 4779l58-13 69 37-58 10z"/>
<path fill="#72cd64" d="M2448 4764l58-19 68 14-57 19z"/>
<path fill="#6ecd66" d="M1367 4770l58-15 69 13-58 16z"/>
<path fill="#35c79b" d="M3851 4901l57 1 69 33-58-4z"/>
<path fill="#4854f6" d="M5517 5549l58 18 69 35-58-17z"/>
<path fill="#72cd64" d="M2322 4769l57-18 69 13-58 18z"/>
<path fill="#76cc61" d="M3276 4762l58-17 68 34-57 14z"/>
<path fill="#08bcbf" d="M4299 5025l58 11 68 23-57-14z"/>
<path fill="#6ecd66" d="M1241 4772l57-15 69 13-57 15z"/>
<path fill="#1da9e0" d="M4747 5167l58 18 69 35-58-19z"/>
<path fill="#6ecd66" d="M2195 4773l58-17 69 13-58 17zm-1081 1l58-15 69 13-58 15z"/>
<path fill="#40ca8d" d="M3724 4869l58-3 69 35-58-1z"/>
<path fill="#2d8bf4" d="M5069 5319l58 21 69 44-58-22z"/>
<path fill="#7dcc5b" d="M3149 4753l58-21 69 30-58 18z"/>
<path fill="#6ecd66" d="M2068 4775l58-16 69 14-58 15z"/>
<path fill="#4562fc" d="M5391 5490l57 20 69 39-57-20z"/>
<path fill="#1ac0b5" d="M4172 4993l58 9 69 23-58-12z"/>
<path fill="#6ecd66" d="M1942 4776l58-15 68 14-57 15z"/>
<path fill="#81cc59" d="M3023 4750l57-24 69 27-57 20z"/>
<path fill="#12b1d6" d="M4621 5121l57 16 69 30-57-17z"/>
<path fill="#51cc7f" d="M3598 4839l57-6 69 36-58 2z"/>
<path fill="#6ecd66" d="M1815 4778l58-15 69 13-58 16z"/>
<path fill="#4742e6" d="M5713 5636l57 9 69 31-58-9z"/>
<path fill="#7dcc5b" d="M2896 4757l58-29 69 22-58 26z"/>
<path fill="#29c3aa" d="M4046 4962l58 7 68 24-57-9z"/>
<path fill="#2699e9" d="M4942 5258l58 19 69 42-58-21z"/>
<path fill="#76cc61" d="M2770 4767l58-28 68 18-57 26z"/>
<path fill="#6ecd66" d="M1689 4780l58-15 68 13-57 15z"/>
<path fill="#3974fe" d="M5264 5428l58 21 69 41-58-21z"/>
<path fill="#5ecc74" d="M3471 4813l58-10 69 36-58 5z"/>
<path fill="#03b7cc" d="M4494 5081l58 15 69 25-58-16z"/>
<path fill="#76cc61" d="M2643 4773l58-21 69 15-58 21z"/>
<path fill="#6ecd66" d="M1562 4782l58-15 69 13-58 15z"/>
<path fill="#484ff2" d="M5586 5585l58 17 69 34-58-17z"/>
<path fill="#72cd64" d="M2517 4778l57-19 69 14-57 19z"/>
<path fill="#30c5a1" d="M3919 4931l58 4 69 27-58-7z"/>
<path fill="#6ecd66" d="M1436 4784l58-16 68 14-57 15z"/>
<path fill="#6bcd69" d="M3345 4793l57-14 69 34-58 10z"/>
<path fill="#20a5e3" d="M4816 5201l58 19 68 38-57-20z"/>
<path fill="#72cd64" d="M2390 4782l58-18 69 14-58 18z"/>
<path fill="#05bbc1" d="M4368 5045l57 14 69 22-58-15z"/>
<path fill="#6ecd66" d="M1310 4785l57-15 69 14-58 15z"/>
<path fill="#2e84f8" d="M5138 5362l58 22 68 44-57-24z"/>
<path fill="#6ecd66" d="M2264 4786l58-17 68 13-57 17z"/>
<path fill="#3ac994" d="M3793 4900l58 1 68 30-57-5z"/>
<path fill="#76cc61" d="M3218 4780l58-18 69 31-58 13z"/>
<path fill="#6ecd66" d="M1183 4787l58-15 69 13-58 16z"/>
<path fill="#465dfa" d="M5460 5529l57 20 69 36-58-20z"/>
<path fill="#6ecd66" d="M2137 4788l58-15 69 13-58 15z"/>
<path fill="#17bfb6" d="M4241 5013l58 12 69 20-58-13z"/>
<path fill="#17aeda" d="M4690 5150l57 17 69 34-58-18z"/>
<path fill="#79cc5e" d="M3092 4773l57-20 69 27-58 17z"/>
<path fill="#6ecd66" d="M2011 4790l57-15 69 13-57 15z"/>
<path fill="#45cb89" d="M3666 4871l58-2 69 31-58-1z"/>
<path fill="#2994ed" d="M5011 5298l58 21 69 43-58-22z"/>
<path fill="#79cc5e" d="M2965 4776l58-26 69 23-58 22z"/>
<path fill="#6ecd66" d="M1884 4792l58-16 69 14-58 15z"/>
<path fill="#25c2ae" d="M4115 4984l57 9 69 20-57-12z"/>
<path fill="#406dfe" d="M5333 5469l58 21 69 39-58-21z"/>
<path fill="#76cc61" d="M2839 4783l57-26 69 19-58 23z"/>
<path fill="#54cc7c" d="M3540 4844l58-5 68 32-57 2z"/>
<path fill="#6ecd66" d="M1758 4793l57-15 69 14-57 15z"/>
<path fill="#05b6ce" d="M4563 5105l58 16 69 29-58-17z"/>
<path fill="#76cc61" d="M2712 4788l58-21 69 16-58 19z"/>
<path fill="#4849ed" d="M5655 5619l58 17 68 31-57-16z"/>
<path fill="#6ecd66" d="M1631 4795l58-15 69 13-58 15z"/>
<path fill="#2ec4a4" d="M3988 4955l58 7 69 22-58-10z"/>
<path fill="#72cd64" d="M2586 4792l57-19 69 15-58 18z"/>
<path fill="#23a0e5" d="M4885 5238l57 20 69 40-57-20z"/>
<path fill="#61cd72" d="M3413 4823l58-10 69 31-58 6z"/>
<path fill="#6ecd66" d="M1505 4797l57-15 69 13-57 15z"/>
<path fill="#317dfc" d="M5207 5404l57 24 69 41-58-24z"/>
<path fill="#03bbc2" d="M4436 5066l58 15 69 24-58-16z"/>
<path fill="#72cd64" d="M2459 4796l58-18 69 14-58 17z"/>
<path fill="#6ecd66" d="M1378 4799l58-15 69 13-58 15z"/>
<path fill="#36c899" d="M3862 4926l57 5 69 24-58-8z"/>
<path fill="#6bcd69" d="M3287 4806l58-13 68 30-57 9z"/>
<path fill="#6ecd66" d="M2333 4799l57-17 69 14-58 17z"/>
<path fill="#4757f7" d="M5528 5565l58 20 69 34-58-21z"/>
<path fill="#6ecd66" d="M1252 4801l58-16 68 14-57 15zm954 0l58-15 69 13-58 16z"/>
<path fill="#1babde" d="M4758 5183l58 18 69 37-58-19z"/>
<path fill="#13beb8" d="M4310 5032l58 13 68 21-57-16z"/>
<path fill="#72cd64" d="M3160 4797l58-17 69 26-58 14z"/>
<path fill="#40ca8d" d="M3735 4899l58 1 69 26-58-4z"/>
<path fill="#2c8ef2" d="M5080 5340l58 22 69 42-58-23z"/>
<path fill="#6ecd66" d="M2080 4803l57-15 69 13-58 15z"/>
<path fill="#76cc61" d="M3034 4795l58-22 68 24-57 17z"/>
<path fill="#4465fd" d="M5402 5508l58 21 68 36-57-22z"/>
<path fill="#6ecd66" d="M1953 4805l58-15 69 13-58 15z"/>
<path fill="#22c1af" d="M4184 5001l57 12 69 19-58-14z"/>
<path fill="#4ecc81" d="M3609 4873l57-2 69 28-57-1z"/>
<path fill="#76cc61" d="M2907 4799l58-23 69 19-58 20z"/>
<path fill="#0bb3d2" d="M4632 5133l58 17 68 33-57-19z"/>
<path fill="#6ecd66" d="M1827 4807l57-15 69 13-58 15z"/>
<path fill="#72cd64" d="M2781 4802l58-19 68 16-57 18z"/>
<path fill="#259be8" d="M4954 5278l57 20 69 42-58-21z"/>
<path fill="#6ecd66" d="M1700 4808l58-15 69 14-58 15z"/>
<path fill="#2cc4a6" d="M4057 4974l58 10 69 17-58-12z"/>
<path fill="#5acc77" d="M3482 4850l58-6 69 29-58 3z"/>
<path fill="#72cd64" d="M2654 4806l58-18 69 14-58 18z"/>
<path fill="#3876fe" d="M5275 5445l58 24 69 39-58-24z"/>
<path fill="#6ecd66" d="M1574 4810l57-15 69 13-58 16z"/>
<path fill="#01b9c6" d="M4505 5089l58 16 69 28-58-18z"/>
<path fill="#72cd64" d="M2528 4809l58-17 68 14-57 17z"/>
<path fill="#4853f5" d="M5597 5598l58 21 69 32-58-21z"/>
<path fill="#64cd6f" d="M3356 4832l57-9 69 27-58 7z"/>
<path fill="#6ecd66" d="M1447 4812l58-15 69 13-58 15z"/>
<path fill="#33c79d" d="M3930 4947l58 8 69 19-58-10z"/>
<path fill="#6ecd66" d="M2401 4813l58-17 69 13-58 17z"/>
<path fill="#1ea7e1" d="M4827 5219l58 19 69 40-58-20z"/>
<path fill="#6ecd66" d="M1321 4814l57-15 69 13-58 15z"/>
<path fill="#10beba" d="M4379 5050l57 16 69 23-57-17z"/>
<path fill="#6ecd66" d="M2275 4815l58-16 68 14-57 15zm954 5l58-14 69 26-58 10z"/>
<path fill="#2e87f7" d="M5149 5381l58 23 68 41-57-24z"/>
<path fill="#3cc992" d="M3804 4922l58 4 68 21-57-7z"/>
<path fill="#6ecd66" d="M2148 4816l58-15 69 14-58 15z"/>
<path fill="#4660fb" d="M5471 5543l57 22 69 33-57-22z"/>
<path fill="#72cd64" d="M3103 4814l57-17 69 23-57 13z"/>
<path fill="#6ecd66" d="M2022 4818l58-15 68 13-57 15z"/>
<path fill="#12b1d6" d="M4701 5164l57 19 69 36-58-19z"/>
<path fill="#22c1af" d="M4252 5018l58 14 69 18-58-15z"/>
<path fill="#48cb86" d="M3678 4898l57 1 69 23-58-4z"/>
<path fill="#72cd64" d="M2976 4815l58-20 69 19-58 17z"/>
<path fill="#6ecd66" d="M1895 4820l58-15 69 13-58 15z"/>
<path fill="#2895ec" d="M5022 5319l58 21 69 41-58-22z"/>
<path fill="#72cd64" d="M2850 4817l57-18 69 16-58 17z"/>
<path fill="#3e70ff" d="M5344 5484l58 24 69 35-58-24z"/>
<path fill="#54cc7c" d="M3551 4876l58-3 69 25-58-1z"/>
<path fill="#6ecd66" d="M1769 4822l58-15 68 13-57 15z"/>
<path fill="#2cc4a6" d="M4126 4989l58 12 68 17-57-14z"/>
<path fill="#72cd64" d="M2723 4820l58-18 69 15-58 17z"/>
<path fill="#01b8c9" d="M4574 5115l58 18 69 31-58-18z"/>
<path fill="#6ecd66" d="M1642 4824l58-16 69 14-58 15z"/>
<path fill="#72cd64" d="M2597 4823l57-17 69 14-57 17z"/>
<path fill="#5ecc74" d="M3424 4857l58-7 69 26-58 2z"/>
<path fill="#33c79d" d="M3999 4964l58 10 69 15-58-12z"/>
<path fill="#22a2e4" d="M4896 5258l58 20 68 41-57-22z"/>
<path fill="#6ecd66" d="M1516 4825l58-15 68 14-57 15zm954 1l58-17 69 14-58 16z"/>
<path fill="#2f80fa" d="M5218 5421l57 24 69 39-57-25z"/>
<path fill="#6ecd66" d="M1389 4827l58-15 69 13-58 15z"/>
<path fill="#0dbdbc" d="M4448 5072l57 17 69 26-58-18z"/>
<path fill="#67cd6c" d="M3298 4842l58-10 68 25-57 5z"/>
<path fill="#6ecd66" d="M2344 4828l57-15 69 13-58 15z"/>
<path fill="#3ac994" d="M3873 4940l57 7 69 17-57-9z"/>
<path fill="#475bfa" d="M5540 5576l57 22 69 32-58-23z"/>
<path fill="#6ecd66" d="M2217 4830l58-15 69 13-58 15zm955 3l57-13 69 22-58 9z"/>
<path fill="#19addb" d="M4769 5200l58 19 69 39-58-21z"/>
<path fill="#20c1b1" d="M4321 5035l58 15 69 22-58-18z"/>
<path fill="#6ecd66" d="M2091 4831l57-15 69 14-57 15z"/>
<path fill="#42ca8b" d="M3746 4918l58 4 69 18-58-6z"/>
<path fill="#2c8ff1" d="M5091 5359l58 22 69 40-58-23z"/>
<path fill="#72cd64" d="M3045 4831l58-17 69 19-58 14z"/>
<path fill="#6ecd66" d="M1964 4833l58-15 69 13-58 16z"/>
<path fill="#426afe" d="M5413 5519l58 24 69 33-58-24z"/>
<path fill="#72cd64" d="M2918 4832l58-17 69 16-58 16z"/>
<path fill="#4ecc81" d="M3620 4897l58 1 68 20-57-4z"/>
<path fill="#2cc4a6" d="M4195 5004l68 15 58 16-69-17z"/>
<path fill="#6ecd66" d="M1838 4835l57-15 69 13-58 15z"/>
<path fill="#05b6ce" d="M4643 5146l58 18 68 36-57-20z"/>
<path fill="#72cd64" d="M2792 4834l58-17 68 15-57 16z"/>
<path fill="#6ecd66" d="M1711 4837l58-15 69 13-58 15z"/>
<path fill="#259ce7" d="M4965 5297l57 22 69 40-57-22z"/>
<path fill="#5acc77" d="M3493 4878l58-2 69 21-58-1z"/>
<path fill="#72cd64" d="M2666 4837l57-17 69 14-58 16z"/>
<path fill="#33c79d" d="M4068 4977l69 13 58 14-69-15z"/>
<path fill="#6ecd66" d="M1585 4839l57-15 69 13-57 15z"/>
<path fill="#337afd" d="M5287 5459l57 25 69 35-58-25z"/>
<path fill="#6ecd66" d="M2539 4839l58-16 69 14-58 16z"/>
<path fill="#08bcbf" d="M4516 5097l58 18 69 31-58-20z"/>
<path fill="#64cd6f" d="M3367 4862l57-5 69 21-57 1z"/>
<path fill="#6ecd66" d="M1458 4840l58-15 69 14-58 15zm954 1l58-15 69 13-58 16z"/>
<path fill="#3ac994" d="M3942 4955l57 9 69 13-58-11z"/>
<path fill="#1da9e0" d="M4838 5237l58 21 69 39-58-21z"/>
<path fill="#6ecd66" d="M2286 4843l58-15 68 13-57 15z"/>
<path fill="#6bcd69" d="M3240 4851l58-9 69 20-58 5z"/>
<path fill="#2d8af5" d="M5160 5398l58 23 69 38-58-25z"/>
<path fill="#1dc0b3" d="M4390 5054l58 18 68 25-57-19z"/>
<path fill="#42ca8b" d="M3815 4934l58 6 69 15-58-9z"/>
<path fill="#6ecd66" d="M2160 4845l57-15 69 13-58 15zm954 2l58-14 68 18-57 11z"/>
<path fill="#4465fd" d="M5482 5552l58 24 68 31-57-24z"/>
<path fill="#6ecd66" d="M2033 4847l58-16 69 14-58 15z"/>
<path fill="#0db3d4" d="M4712 5180l57 20 69 37-58-20z"/>
<path fill="#72cd64" d="M2987 4847l58-16 69 16-58 14z"/>
<path fill="#4ecc81" d="M3689 4914l57 4 69 16-58-7z"/>
<path fill="#2cc4a6" d="M4263 5019l69 18 58 17-69-19z"/>
<path fill="#6ecd66" d="M1906 4848l58-15 69 14-58 15z"/>
<path fill="#2798ea" d="M5034 5337l57 22 69 39-58-23z"/>
<path fill="#72cd64" d="M2861 4848l57-16 69 15-57 15z"/>
<path fill="#6ecd66" d="M1780 4850l58-15 68 13-57 16z"/>
<path fill="#57cc7a" d="M3562 4896l58 1 69 17-58-5z"/>
<path fill="#72cd64" d="M2734 4850l58-16 69 14-58 16z"/>
<path fill="#3974fe" d="M5355 5494l58 25 69 33-58-26z"/>
<path fill="#33c79d" d="M4137 4990l69 14 57 15-68-15z"/>
<path fill="#6ecd66" d="M1654 4852l57-15 69 13-58 15z"/>
<path fill="#02bac4" d="M4585 5126l58 20 69 34-58-20z"/>
<path fill="#6ecd66" d="M2608 4853l58-16 68 13-57 16z"/>
<path fill="#61cd72" d="M3436 4879l57-1 69 18-58-3z"/>
<path fill="#6ecd66" d="M1527 4854l58-15 69 13-58 15z"/>
<path fill="#21a3e3" d="M4907 5276l58 21 69 40-58-22z"/>
<path fill="#6ecd66" d="M2481 4855l58-16 69 14-58 15z"/>
<path fill="#3ac994" d="M4010 4966l69 11 58 13-69-13z"/>
<path fill="#2e84f8" d="M5229 5434l58 25 68 35-57-26z"/>
<path fill="#6bcd69" d="M3309 4867l58-5 69 17-58 3z"/>
<path fill="#6ecd66" d="M2355 4856l57-15 69 14-57 15z"/>
<path fill="#17bfb6" d="M4459 5078l57 19 69 29-57-19z"/>
<path fill="#6ecd66" d="M2228 4858l58-15 69 13-58 15z"/>
<path fill="#42ca8b" d="M3884 4946l69 9 57 11-68-11z"/>
<path fill="#6ecd66" d="M3183 4862l57-11 69 16-58 10z"/>
<path fill="#15afd9" d="M4780 5217l58 20 69 39-58-21z"/>
<path fill="#6ecd66" d="M2102 4860l58-15 68 13-57 15zm954 1l58-14 69 15-58 14z"/>
<path fill="#2bc3a8" d="M4332 5037l58 17 69 24-58-18z"/>
<path fill="#2b91ef" d="M5102 5375l58 23 69 36-58-23z"/>
<path fill="#4ecc81" d="M3757 4927l69 8 58 11-69-12z"/>
<path fill="#6ecd66" d="M1975 4862l58-15 69 13-58 15zm955 0l57-15 69 14-58 15z"/>
<path fill="#3e70ff" d="M5424 5526l69 30 58 27-69-31z"/>
<path fill="#6ecd66" d="M1849 4864l57-16 69 14-57 15z"/>
<path fill="#57cc7a" d="M3631 4909l58 5 68 13-57-9z"/>
<path fill="#72cd64" d="M2803 4864l58-16 69 14-58 15z"/>
<path fill="#02b7ca" d="M4654 5160l58 20 68 37-57-21z"/>
<path fill="#33c79d" d="M4206 5004l68 17 58 16-69-18z"/>
<path fill="#6ecd66" d="M1722 4865l58-15 69 14-58 15zm955 1l57-16 69 14-58 15z"/>
<path fill="#249fe6" d="M4976 5315l58 22 68 38-57-23z"/>
<path fill="#61cd72" d="M3504 4893l58 3 69 13-58-5z"/>
<path fill="#6ecd66" d="M1596 4867l58-15 68 13-57 15zm954 1l58-15 69 13-58 15z"/>
<path fill="#307ffb" d="M5298 5468l57 26 69 32-58-26z"/>
<path fill="#3cc992" d="M4079 4977l69 12 58 15-69-14z"/>
<path fill="#10beba" d="M4528 5107l57 19 69 34-58-21z"/>
<path fill="#67cd6c" d="M3378 4882l58-3 68 14-57 2z"/>
<path fill="#6ecd66" d="M2424 4870l57-15 69 13-58 15z"/>
<path fill="#1babde" d="M4849 5255l58 21 69 39-58-22z"/>
<path fill="#6ecd66" d="M2297 4871l58-15 69 14-58 15z"/>
<path fill="#45cb89" d="M3953 4955l69 8 57 14-69-11z"/>
<path fill="#6ecd66" d="M3251 4877l58-10 69 15-58 10zm-1080-4l57-15 69 13-58 16z"/>
<path fill="#2c8ef2" d="M5171 5411l58 23 69 34-58-24z"/>
<path fill="#27c2ac" d="M4401 5060l58 18 69 29-58-20z"/>
<path fill="#6ecd66" d="M3125 4876l58-14 68 15-57 13z"/>
<path fill="#51cc7f" d="M3826 4935l69 6 58 14-69-9z"/>
<path fill="#6ecd66" d="M2044 4875l58-15 69 13-58 15zm954 1l58-15 69 15-58 14z"/>
<path fill="#08b4d1" d="M4723 5196l57 21 69 38-57-21z"/>
<path fill="#6ecd66" d="M1918 4877l57-15 69 13-58 15zm954 0l58-15 68 14-57 15z"/>
<path fill="#5acc77" d="M3700 4918l68 6 58 11-69-8z"/>
<path fill="#32c69f" d="M4274 5021l58 16 69 23-58-18z"/>
<path fill="#269ae8" d="M5045 5352l57 23 69 36-58-24z"/>
<path fill="#6ecd66" d="M1791 4879l58-15 69 13-58 15zm954 0l58-15 69 13-58 16z"/>
<path fill="#64cd6f" d="M3573 4904l58 5 69 9-58-5z"/>
<path fill="#6ecd66" d="M1665 4880l57-15 69 14-58 15z"/>
<path fill="#337afd" d="M5366 5500l69 28 58 28-69-30z"/>
<path fill="#6ecd66" d="M2619 4881l58-15 68 13-57 15z"/>
<path fill="#05bbc1" d="M4596 5139l58 21 69 36-58-21z"/>
<path fill="#3cc992" d="M4148 4989l69 16 57 16-68-17z"/>
<path fill="#67cd6c" d="M3447 4895l57-2 69 11-57 4z"/>
<path fill="#6ecd66" d="M2492 4883l58-15 69 13-58 15z"/>
<path fill="#1ea7e1" d="M4918 5293l58 22 69 37-58-23z"/>
<path fill="#6ecd66" d="M2366 4885l58-15 68 13-57 15z"/>
<path fill="#6bcd69" d="M3320 4892l58-10 69 13-58 10z"/>
<path fill="#48cb86" d="M4022 4963l68 10 58 16-69-12z"/>
<path fill="#2d88f6" d="M5240 5444l58 24 68 32-57-26z"/>
<path fill="#22c1af" d="M4470 5087l58 20 68 32-57-20z"/>
<path fill="#6ecd66" d="M2239 4887l58-16 69 14-58 15zm955 3l57-13 69 15-58 12zm-1081-2l58-15 68 14-57 15z"/>
<path fill="#54cc7c" d="M3895 4941l69 5 58 17-69-8z"/>
<path fill="#12b1d6" d="M4792 5234l57 21 69 38-58-22z"/>
<path fill="#6ecd66" d="M3067 4890l58-14 69 14-58 14zm-1081 0l58-15 69 13-58 15z"/>
<path fill="#2895ec" d="M5113 5387l58 24 69 33-58-25z"/>
<path fill="#30c5a1" d="M4343 5042l58 18 69 27-58-19z"/>
<path fill="#6ecd66" d="M2941 4891l57-15 69 14-57 14z"/>
<path fill="#5ecc74" d="M3768 4924l69 6 58 11-69-6z"/>
<path fill="#6ecd66" d="M1860 4892l58-15 68 13-57 15zm954 1l58-16 69 14-58 15z"/>
<path fill="#01b9c6" d="M4665 5175l58 21 69 38-58-22z"/>
<path fill="#6ecd66" d="M1733 4894l58-15 69 13-58 15z"/>
<path fill="#64cd6f" d="M3642 4913l58 5 68 6-57-1z"/>
<path fill="#6ecd66" d="M2688 4894l57-15 69 14-57 15z"/>
<path fill="#3cc992" d="M4217 5005l57 16 69 21-57-17z"/>
<path fill="#22a2e4" d="M4987 5329l58 23 68 35-57-23z"/>
<path fill="#6bcd69" d="M3516 4908l57-4 69 9-58 7z"/>
<path fill="#6ecd66" d="M2561 4896l58-15 69 13-58 16z"/>
<path fill="#2e84f8" d="M5309 5474l69 28 57 26-69-28z"/>
<path fill="#6ecd66" d="M2435 4898l57-15 69 13-57 15z"/>
<path fill="#6bcd69" d="M3389 4905l58-10 69 13-58 10z"/>
<path fill="#1ac0b5" d="M4539 5119l57 20 69 36-58-22z"/>
<path fill="#48cb86" d="M4090 4973l69 13 58 19-69-16z"/>
<path fill="#6ecd66" d="M2308 4900l58-15 69 13-58 15zm954 4l58-12 69 13-58 12z"/>
<path fill="#19addb" d="M4860 5271l58 22 69 36-58-23z"/>
<path fill="#6ecd66" d="M2182 4902l57-15 69 13-58 15z"/>
<path fill="#57cc7a" d="M3964 4946l69 9 57 18-68-10z"/>
<path fill="#6ecd66" d="M3136 4904l58-14 68 14-57 13z"/>
<path fill="#2b91ef" d="M5182 5419l58 25 69 30-58-25z"/>
<path fill="#2ec4a4" d="M4412 5068l58 19 69 32-58-20z"/>
<path fill="#6ecd66" d="M2055 4903l58-15 69 14-58 15zm955 1l57-14 69 14-58 14z"/>
<path fill="#61cd72" d="M3837 4930l69 9 58 7-69-5z"/>
<path fill="#6ecd66" d="M1929 4905l57-15 69 13-57 16z"/>
<path fill="#05b6ce" d="M4734 5212l58 22 68 37-57-23z"/>
<path fill="#6ecd66" d="M2883 4906l58-15 69 13-58 15zm-1081 1l58-15 69 13-58 15z"/>
<path fill="#67cd6c" d="M3711 4923l57 1 69 6-57 4z"/>
<path fill="#38c896" d="M4286 5025l57 17 69 26-58-18z"/>
<path fill="#249ee6" d="M5056 5364l57 23 69 32-58-24z"/>
<path fill="#6ecd66" d="M2757 4908l57-15 69 13-58 15zm-127 2l58-16 69 14-58 15z"/>
<path fill="#6bcd69" d="M3584 4920l58-7 69 10-58 9z"/>
<path fill="#0dbdbc" d="M4607 5153l58 22 69 37-58-22z"/>
<path fill="#6ecd66" d="M2504 4911l57-15 69 14-58 15z"/>
<path fill="#48cb86" d="M4159 4986l69 20 58 19-69-20z"/>
<path fill="#6bcd69" d="M3458 4918l58-10 68 12-57 11z"/>
<path fill="#1da9e0" d="M4929 5306l58 23 69 35-58-24z"/>
<path fill="#6ecd66" d="M2377 4913l58-15 69 13-58 16zm954 4l58-12 69 13-58 12zm-1081-2l58-15 69 13-58 15z"/>
<path fill="#2c8ef2" d="M5251 5449l69 28 58 25-69-28z"/>
<path fill="#5acc77" d="M4033 4955l68 13 58 18-69-13z"/>
<path fill="#29c3aa" d="M4481 5099l58 20 68 34-57-21z"/>
<path fill="#6ecd66" d="M3205 4917l57-13 69 13-57 13zm-1081 0l58-15 68 13-57 15zm954 1l58-14 69 13-58 14z"/>
<path fill="#0db3d4" d="M4803 5248l57 23 69 35-57-23z"/>
<path fill="#64cd6f" d="M3906 4939l58 7 69 9-58-4z"/>
<path fill="#6ecd66" d="M1998 4919l57-16 69 14-58 15zm954 0l58-15 68 14-57 15z"/>
<path fill="#269ae8" d="M5124 5395l58 24 69 30-58-25z"/>
<path fill="#35c79b" d="M4354 5050l58 18 69 31-58-20z"/>
<path fill="#6ecd66" d="M1871 4920l58-15 69 14-58 15z"/>
<path fill="#67cd6c" d="M3780 4934l57-4 69 9-58 7z"/>
<path fill="#6ecd66" d="M2825 4921l58-15 69 13-58 15z"/>
<path fill="#03bbc2" d="M4676 5190l58 22 69 36-58-23z"/>
<path fill="#6ecd66" d="M2699 4923l58-15 68 13-57 15z"/>
<path fill="#6bcd69" d="M3653 4932l58-9 69 11-58 10z"/>
<path fill="#45cb89" d="M4228 5006l58 19 68 25-57-20z"/>
<path fill="#6ecd66" d="M2572 4925l58-15 69 13-58 15z"/>
<path fill="#1fa6e2" d="M4998 5340l58 24 68 31-57-24z"/>
<path fill="#6ecd66" d="M3527 4931l57-11 69 12-58 11zm-1081-4l58-16 68 14-57 15zm954 3l58-12 69 13-58 12z"/>
<path fill="#20c1b1" d="M4550 5132l57 21 69 37-58-23z"/>
<path fill="#6ecd66" d="M2319 4928l58-15 69 14-58 15z"/>
<path fill="#5acc77" d="M4101 4968l69 17 58 21-69-20z"/>
<path fill="#6ecd66" d="M3274 4930l57-13 69 13-58 13z"/>
<path fill="#14b0d8" d="M4872 5283l57 23 69 34-58-24z"/>
<path fill="#6ecd66" d="M2193 4930l57-15 69 13-57 15zm954 1l58-14 69 13-58 14zm-1081 1l58-15 69 13-58 15z"/>
<path fill="#64cd6f" d="M3975 4951l58 4 68 13-57-4z"/>
<path fill="#32c69f" d="M4423 5079l58 20 69 33-58-21z"/>
<path fill="#2797eb" d="M5193 5424l69 27 58 26-69-28z"/>
<path fill="#6ecd66" d="M3021 4933l57-15 69 13-58 15zm-1081 1l58-15 68 13-57 15z"/>
<path fill="#6bcd69" d="M3848 4946l58-7 69 12-58 8z"/>
<path fill="#6ecd66" d="M2894 4934l58-15 69 14-58 15z"/>
<path fill="#01b8c9" d="M4745 5225l58 23 69 35-58-23z"/>
<path fill="#6ecd66" d="M2768 4936l57-15 69 13-58 16z"/>
<path fill="#6bcd69" d="M3722 4944l58-10 68 12-57 10z"/>
<path fill="#40ca8d" d="M4297 5030l57 20 69 29-57-19z"/>
<path fill="#22a2e4" d="M5067 5371l69 28 57 25-69-29z"/>
<path fill="#6ecd66" d="M2641 4938l58-15 69 13-58 15zm954 5l58-11 69 12-58 11z"/>
<path fill="#13beb8" d="M4618 5167l58 23 69 35-58-23z"/>
<path fill="#6ecd66" d="M2515 4940l57-15 69 13-58 15zm954 3l58-12 68 12-57 12z"/>
<path fill="#5acc77" d="M4170 4985l69 22 58 23-69-24z"/>
<path fill="#6ecd66" d="M2388 4942l58-15 69 13-58 15z"/>
<path fill="#1aacdd" d="M4940 5316l58 24 69 31-58-25z"/>
<path fill="#6ecd66" d="M3342 4943l58-13 69 13-58 13zm-1080 0l57-15 69 14-58 15zm954 1l58-14 68 13-57 14z"/>
<path fill="#2cc4a6" d="M4492 5111l58 21 68 35-57-22z"/>
<path fill="#64cd6f" d="M4044 4964l57 4 69 17-58-6z"/>
<path fill="#6ecd66" d="M2135 4945l58-15 69 13-58 16zm954 1l58-15 69 13-58 15z"/>
<path fill="#06b5cf" d="M4814 5260l58 23 68 33-57-24z"/>
<path fill="#6ecd66" d="M2009 4947l57-15 69 13-58 15z"/>
<path fill="#6bcd69" d="M3917 4959l58-8 69 13-58 8z"/>
<path fill="#6ecd66" d="M2963 4948l58-15 68 13-57 15z"/>
<path fill="#3cc992" d="M4366 5060l57 19 69 32-58-20z"/>
<path fill="#6ecd66" d="M2836 4950l58-16 69 14-58 15z"/>
<path fill="#6bcd69" d="M3791 4956l57-10 69 13-57 9z"/>
<path fill="#249fe6" d="M5136 5399l68 26 58 26-69-27z"/>
<path fill="#6ecd66" d="M2710 4951l58-15 68 14-57 15zm954 4l58-11 69 12-58 11z"/>
<path fill="#0abdbd" d="M4687 5202l58 23 69 35-58-24z"/>
<path fill="#6ecd66" d="M2583 4953l58-15 69 13-58 15zm955 2l57-12 69 12-58 13z"/>
<path fill="#54cc7c" d="M4239 5007l58 23 69 30-58-24z"/>
<path fill="#1da9e0" d="M5009 5346l69 28 58 25-69-28z"/>
<path fill="#6ecd66" d="M2457 4955l58-15 68 13-57 15zm954 1l58-13 69 12-58 14zm-1081 1l58-15 69 13-58 15z"/>
<path fill="#27c2ac" d="M4561 5145l57 22 69 35-57-23z"/>
<path fill="#6ecd66" d="M3285 4957l57-14 69 13-57 15z"/>
<path fill="#64cd6f" d="M4112 4979l58 6 69 22-58-11z"/>
<path fill="#6ecd66" d="M2204 4959l58-16 68 14-57 15zm954 0l58-15 69 13-58 16z"/>
<path fill="#0db3d4" d="M4883 5292l57 24 69 30-58-24z"/>
<path fill="#6ecd66" d="M2077 4960l58-15 69 14-58 15z"/>
<path fill="#6bcd69" d="M3986 4972l58-8 68 15-57 7z"/>
<path fill="#6ecd66" d="M3032 4961l57-15 69 13-58 15z"/>
<path fill="#35c79b" d="M4434 5091l58 20 69 34-58-21z"/>
<path fill="#6ecd66" d="M2905 4963l58-15 69 13-58 15zm955 5l57-9 69 13-58 10z"/>
<path fill="#02bac4" d="M4756 5236l58 24 69 32-58-24z"/>
<path fill="#6ecd66" d="M2779 4965l57-15 69 13-57 15zm954 2l58-11 69 12-58 12zm-1081-1l58-15 69 14-58 15z"/>
<path fill="#4bcb84" d="M4308 5036l58 24 68 31-57-22z"/>
<path fill="#6ecd66" d="M3606 4968l58-13 69 12-58 14z"/>
<path fill="#1ea7e1" d="M5078 5374l69 25 57 26-68-26z"/>
<path fill="#6ecd66" d="M2526 4968l57-15 69 13-58 16zm954 1l58-14 68 13-57 14z"/>
<path fill="#1dc0b3" d="M4630 5179l57 23 69 34-58-24z"/>
<path fill="#6ecd66" d="M2399 4970l58-15 69 13-58 15zm955 1l57-15 69 13-58 15z"/>
<path fill="#64cd6f" d="M4181 4996l58 11 69 29-58-19z"/>
<path fill="#14b0d8" d="M4951 5322l69 27 58 25-69-28z"/>
<path fill="#6ecd66" d="M2273 4972l57-15 69 13-57 15zm954 1l58-16 69 14-58 15zm-1081 1l58-15 69 13-58 15z"/>
<path fill="#30c5a1" d="M4503 5124l58 21 69 34-58-22z"/>
<path fill="#6bcd69" d="M4055 4986l57-7 69 17-57 6z"/>
<path fill="#6ecd66" d="M3100 4974l58-15 69 14-58 15zm-126 2l58-15 68 13-57 16zm954 6l58-10 69 14-58 10z"/>
<path fill="#01b8c9" d="M4825 5268l69 28 57 26-68-30z"/>
<path fill="#6ecd66" d="M2848 4978l57-15 69 13-58 15zm954 2l58-12 68 14-57 11z"/>
<path fill="#42ca8b" d="M4377 5069l57 22 69 33-58-21z"/>
<path fill="#6ecd66" d="M2721 4980l58-15 69 13-58 15zm954 1l58-14 69 13-58 14z"/>
<path fill="#13beb8" d="M4698 5212l58 24 69 32-58-25z"/>
<path fill="#6ecd66" d="M2594 4982l58-16 69 14-58 15zm955 0l57-14 69 13-57 15zm-1081 1l58-15 68 14-57 15z"/>
<path fill="#5ecc74" d="M4250 5017l58 19 69 33-58-25z"/>
<path fill="#6ecd66" d="M3422 4984l58-15 69 13-58 15z"/>
<path fill="#17aeda" d="M5020 5349l69 24 58 26-69-25z"/>
<path fill="#6ecd66" d="M2342 4985l57-15 69 13-58 16zm954 1l58-15 68 13-57 15z"/>
<path fill="#2cc4a6" d="M4572 5157l58 22 68 33-57-24z"/>
<path fill="#6ecd66" d="M2215 4987l58-15 69 13-58 15z"/>
<path fill="#67cd6c" d="M4124 5002l57-6 69 21-58 1z"/>
<path fill="#6ecd66" d="M3169 4988l58-15 69 13-58 15z"/>
<path fill="#05b6ce" d="M4894 5296l68 27 58 26-69-27z"/>
<path fill="#6ecd66" d="M3043 4990l57-16 69 14-57 15zm954 6l58-10 69 16-58 8z"/>
<path fill="#3ac994" d="M4445 5103l58 21 69 33-58-22z"/>
<path fill="#6ecd66" d="M2916 4991l58-15 69 14-58 15zm955 2l57-11 69 14-58 11zm-1081 0l58-15 68 13-57 15zm954 1l58-14 69 13-58 14z"/>
<path fill="#0abdbd" d="M4767 5243l69 28 58 25-69-28z"/>
<path fill="#6ecd66" d="M2663 4995l58-15 69 13-58 15zm955 1l57-15 69 13-58 15z"/>
<path fill="#57cc7a" d="M4319 5044l58 25 68 34-57-27z"/>
<path fill="#6ecd66" d="M2537 4997l57-15 69 13-57 15zm954 0l58-15 69 14-58 15zm-1081 2l58-16 69 14-58 15z"/>
<path fill="#27c2ac" d="M4641 5188l57 24 69 31-57-25z"/>
<path fill="#6ecd66" d="M3365 4999l57-15 69 13-58 16z"/>
<path fill="#67cd6c" d="M4192 5018l58-1 69 27-58-8z"/>
<path fill="#6ecd66" d="M2284 5000l58-15 68 14-57 15zm954 1l58-15 69 13-58 15z"/>
<path fill="#08b4d1" d="M4962 5323l69 24 58 26-69-24z"/>
<path fill="#6ecd66" d="M3112 5003l57-15 69 13-58 15z"/>
<path fill="#6bcd69" d="M4066 5010l58-8 68 16-57 8z"/>
<path fill="#35c79b" d="M4514 5135l58 22 69 31-58-23z"/>
<path fill="#6ecd66" d="M2985 5005l58-15 69 13-58 15zm954 2l58-11 69 14-58 11z"/>
<path fill="#03bbc2" d="M4836 5271l69 26 57 26-68-27z"/>
<path fill="#6ecd66" d="M2859 5006l57-15 69 14-58 15zm954 1l58-14 68 14-57 13zm-1081 1l58-15 69 13-58 16z"/>
<path fill="#4ecc81" d="M4388 5076l57 27 69 32-58-25z"/>
<path fill="#6ecd66" d="M3686 5009l58-15 69 13-58 15zm-1080 1l57-15 69 13-58 15zm954 1l58-15 68 13-57 15z"/>
<path fill="#20c1b1" d="M4710 5218l68 27 58 26-69-28z"/>
<path fill="#6ecd66" d="M2479 5012l58-15 69 13-58 15zm954 1l58-16 69 14-58 15z"/>
<path fill="#64cd6f" d="M4261 5036l58 8 69 32-58-18z"/>
<path fill="#6ecd66" d="M2353 5014l57-15 69 13-58 15zm954 0l58-15 68 14-57 15z"/>
<path fill="#30c5a1" d="M4583 5165l58 23 69 30-58-24z"/>
<path fill="#6bcd69" d="M4135 5026l57-8 69 18-57 7z"/>
<path fill="#6ecd66" d="M3180 5016l58-15 69 13-58 15zm-126 2l58-15 68 13-57 15zm954 3l58-11 69 16-58 10z"/>
<path fill="#01b9c6" d="M4905 5297l69 23 57 27-69-24z"/>
<path fill="#6ecd66" d="M2927 5020l58-15 69 13-58 15zm955 0l57-13 69 14-57 13z"/>
<path fill="#42ca8b" d="M4456 5110l58 25 69 30-58-23z"/>
<path fill="#6ecd66" d="M2801 5022l58-16 68 14-57 15zm954 0l58-15 69 13-58 16zm-1081 1l58-15 69 14-58 15z"/>
<path fill="#17bfb6" d="M4778 5245l69 25 58 27-69-26z"/>
<path fill="#6ecd66" d="M3629 5024l57-15 69 13-57 15zm-1081 1l58-15 68 13-57 15z"/>
<path fill="#5ecc74" d="M4330 5058l58 18 68 34-57-25z"/>
<path fill="#6ecd66" d="M3502 5026l58-15 69 13-58 15zm-1081 1l58-15 69 13-58 15zm955 1l57-15 69 13-58 15z"/>
<path fill="#2cc4a6" d="M4652 5194l69 27 57 24-68-27z"/>
<path fill="#67cd6c" d="M4204 5043l57-7 69 22-58 2z"/>
<path fill="#6ecd66" d="M3249 5029l58-15 69 14-58 15zm-126 2l57-15 69 13-57 16zm954 5l58-10 69 17-58 8z"/>
<path fill="#3cc992" d="M4525 5142l58 23 69 29-58-23z"/>
<path fill="#6ecd66" d="M2996 5033l58-15 69 13-58 15zm955 1l57-13 69 15-58 12zm-1081 1l57-15 69 13-58 15zm954 1l58-16 69 14-58 15z"/>
<path fill="#10beba" d="M4847 5270l69 23 58 27-69-23z"/>
<path fill="#6ecd66" d="M2743 5037l58-15 69 13-58 15zm955 0l57-15 69 14-58 15z"/>
<path fill="#57cc7a" d="M4399 5085l69 29 57 28-69-32z"/>
<path fill="#6ecd66" d="M2617 5038l57-15 69 14-58 15zm954 1l58-15 69 13-58 16zm-1081 1l58-15 69 13-58 16zm954 1l58-15 69 13-58 15z"/>
<path fill="#29c3aa" d="M4721 5221l68 24 58 25-69-25z"/>
<path fill="#67cd6c" d="M4272 5060l58-2 69 27-58-7z"/>
<path fill="#6ecd66" d="M3318 5043l58-15 68 13-57 15zm-126 2l57-16 69 14-58 15z"/>
<path fill="#6bcd69" d="M4146 5051l58-8 68 17-57 7z"/>
<path fill="#36c899" d="M4594 5171l69 26 58 24-69-27z"/>
<path fill="#6ecd66" d="M3065 5046l58-15 69 14-58 15zm954 2l58-12 69 15-58 11zm-1081 0l58-15 69 13-58 16zm955 1l58-15 68 14-57 14zm-1081 1l58-15 68 13-57 15z"/>
<path fill="#4ecc81" d="M4468 5114l68 29 58 28-69-29z"/>
<path fill="#6ecd66" d="M3766 5051l58-15 69 13-58 15zm-1081 1l58-15 69 13-58 15zm955 1l58-16 68 14-57 15zm-1081 1l58-16 68 14-57 15z"/>
<path fill="#25c2ae" d="M4789 5245l69 21 58 27-69-23z"/>
<path fill="#6ecd66" d="M3513 5054l58-15 69 14-58 15z"/>
<path fill="#64cd6f" d="M4341 5078l58 7 69 29-58-17z"/>
<path fill="#6ecd66" d="M3387 5056l57-15 69 13-57 15z"/>
<path fill="#6bcd69" d="M4215 5067l57-7 69 18-58 6z"/>
<path fill="#6ecd66" d="M3260 5058l58-15 69 13-58 15z"/>
<path fill="#33c79d" d="M4663 5197l69 23 57 25-68-24z"/>
<path fill="#6ecd66" d="M3134 5060l58-15 68 13-57 15zm954 2l58-11 69 16-58 10zm-1081 0l58-16 69 14-58 15zm955 0l57-14 69 14-58 14z"/>
<path fill="#48cb86" d="M4536 5143l69 26 58 28-69-26z"/>
<path fill="#6ecd66" d="M2881 5063l57-15 69 14-57 15zm954 1l58-15 69 13-58 15zm-1081 1l58-15 69 13-58 15zm955 1l57-15 69 13-58 15zm-1081 1l57-15 69 13-57 15z"/>
<path fill="#61cd72" d="M4410 5097l58 17 68 29-57-24z"/>
<path fill="#6ecd66" d="M3582 5068l58-15 69 13-58 15zm-126 1l57-15 69 14-58 15z"/>
<path fill="#67cd6c" d="M4283 5084l58-6 69 19-58 4z"/>
<path fill="#30c5a1" d="M4732 5220l68 21 58 25-69-21z"/>
<path fill="#6ecd66" d="M3329 5071l58-15 69 13-58 16zm-126 2l57-15 69 13-58 15zm954 4l58-10 68 17-57 9zm-1081-2l58-15 69 13-58 15zm954 1l58-14 69 15-58 12z"/>
<path fill="#40ca8d" d="M4605 5169l69 24 58 27-69-23z"/>
<path fill="#6ecd66" d="M2950 5077l57-15 69 13-58 15zm954 0l58-15 68 14-57 15zm-1081 1l58-15 69 14-58 15zm954 1l58-15 69 13-58 15z"/>
<path fill="#5acc77" d="M4479 5119l69 23 57 27-69-26z"/>
<path fill="#6ecd66" d="M2697 5080l57-15 69 13-58 16zm954 1l58-15 68 13-57 15zm-127 2l58-15 69 13-58 15z"/>
<path fill="#67cd6c" d="M4352 5101l58-4 69 22-58-2z"/>
<path fill="#6ecd66" d="M3398 5085l58-16 68 14-57 15zm-127 1l58-15 69 14-58 15z"/>
<path fill="#6bcd69" d="M4226 5093l57-9 69 17-58 8z"/>
<path fill="#6ecd66" d="M3145 5088l58-15 68 13-57 15z"/>
<path fill="#3eca90" d="M4674 5193l69 21 57 27-68-21z"/>
<path fill="#6ecd66" d="M4099 5089l58-12 69 16-58 11zm-1081 1l58-15 69 13-58 15zm955 1l57-15 69 13-57 15zm-1081 1l58-15 68 13-57 15zm954 0l58-15 69 14-58 15z"/>
<path fill="#57cc7a" d="M4548 5142l68 21 58 30-69-24z"/>
<path fill="#6ecd66" d="M2765 5094l58-16 69 14-58 15zm955 0l57-15 69 13-58 16zm-127 2l58-15 69 13-58 15z"/>
<path fill="#64cd6f" d="M4421 5117l58 2 69 23-58-8z"/>
<path fill="#6ecd66" d="M3467 5098l57-15 69 13-57 15zm-127 2l58-15 69 13-58 15z"/>
<path fill="#6bcd69" d="M4294 5109l58-8 69 16-58 7z"/>
<path fill="#6ecd66" d="M3214 5101l57-15 69 14-58 15zm954 3l58-11 68 16-57 9zm-1081-1l58-15 69 13-58 16zm955 1l57-15 69 15-58 13zm-1081 1l57-15 69 13-58 15zm954 1l58-15 69 13-58 15z"/>
<path fill="#51cc7f" d="M4616 5163l69 20 58 31-69-21z"/>
<path fill="#6ecd66" d="M2834 5107l58-15 69 13-58 15zm954 1l58-16 69 14-58 15zm-126 1l58-15 68 14-57 15z"/>
<path fill="#64cd6f" d="M4490 5134l58 8 68 21-57-14z"/>
<path fill="#6ecd66" d="M3536 5111l57-15 69 13-58 16z"/>
<path fill="#6bcd69" d="M4363 5124l58-7 69 17-58 6z"/>
<path fill="#6ecd66" d="M3409 5113l58-15 69 13-58 15zm-127 2l58-15 69 13-58 15zm955 3l57-9 69 15-57 9zm-1081-1l58-16 68 14-57 15zm954 0l58-13 69 14-58 13zm-1081 1l58-15 69 14-58 15zm955 1l58-15 68 13-57 15zm-1081 1l58-15 68 13-57 16zm954 1l58-15 69 13-58 15zm-126 2l57-15 69 13-57 15z"/>
<path fill="#61cd72" d="M4559 5149l68 16 58 18-69-20z"/>
<path fill="#6ecd66" d="M3604 5125l58-16 69 14-58 15z"/>
<path fill="#67cd6c" d="M4432 5140l58-6 69 15-58 6z"/>
<path fill="#6ecd66" d="M3478 5126l58-15 68 14-57 15zm-127 2l58-15 69 13-58 15zm955 5l57-9 69 16-58 8zm-1081-3l57-15 69 13-57 15zm954 1l58-13 69 15-58 12zm-1081 1l58-15 69 13-58 15zm955 0l57-15 69 14-58 15zm-1081 2l57-16 69 14-57 15zm954 0l58-15 69 13-58 16zm-126 2l57-15 69 13-58 15zm-127 2l58-15 69 13-58 15z"/>
<path fill="#67cd6c" d="M4501 5155l58-6 68 16-57 5z"/>
<path fill="#6ecd66" d="M3547 5140l57-15 69 13-58 15zm-127 1l58-15 69 14-58 15z"/>
<path fill="#6bcd69" d="M4374 5148l58-8 69 15-58 8z"/>
<path fill="#6ecd66" d="M3294 5143l57-15 69 13-58 16zm954 2l58-12 68 15-57 11zm-1081 0l58-15 69 13-58 15zm954 1l58-15 69 14-58 14zm-1080 1l57-15 69 13-58 15zm954 1l58-16 68 14-57 15zm-127 1l58-15 69 14-58 15zm-126 2l58-15 68 13-57 15zm-127 2l58-15 69 13-58 15zm-126 2l58-15 68 13-57 15z"/>
<path fill="#6bcd69" d="M4443 5163l58-8 69 15-58 7z"/>
<path fill="#6ecd66" d="M3362 5157l58-16 69 14-58 15zm955 2l57-11 69 15-57 10zm-1081-1l58-15 68 14-57 15zm954 1l58-14 69 14-58 13zm-1081 1l58-15 69 13-58 15zm955 1l57-15 69 13-58 15zm-127 2l58-15 69 13-58 15zm-126 1l57-15 69 14-57 15zm-127 2l58-15 69 13-58 16zm-126 2l57-15 69 13-58 15zm-127 2l58-15 69 13-58 15zm955 3l57-10 69 14-58 10zm-1081-1l57-15 69 13-57 15zm954 0l58-13 69 14-58 13zm-1081 1l58-15 69 14-58 15zm954 1l58-15 69 13-58 16zm-126 2l58-15 68 13-57 15zm-126 2l57-15 69 13-58 15zm-127 2l58-16 69 14-58 15zm-127 1l58-15 69 14-58 15zm-126 2l58-15 68 13-57 16zm-126 2l57-15 69 13-58 15zm954 1l58-13 68 14-57 12zm-1081 1l58-15 69 13-58 15zm954 1l58-16 69 14-58 15zm-126 1l57-15 69 14-57 15zm-127 2l58-15 69 13-58 15zm-126 2l58-15 68 13-57 15zm-127 2l58-15 69 13-58 15zm-126 2l57-16 69 14-57 15zm-127 1l58-15 69 14-58 15zm-126 2l58-15 68 13-57 15zm954 1l58-15 69 13-58 15zm-126 2l57-15 69 13-58 15zm-127 1l58-15 69 14-58 15zm-126 2l57-15 69 13-58 16zm-127 2l58-15 69 13-58 15zm-126 2l57-15 69 13-58 15zm-127 2l58-15 69 13-58 15zm-126 1l57-15 69 14-58 15zm827 3l58-15 69 13-58 15zm-126 2l58-15 68 13-57 15zm-127 2l58-16 69 14-58 15zm-126 1l58-15 68 14-57 15zm-127 2l58-15 69 13-58 15zm-126 2l58-15 68 13-57 15zm-127 2l58-15 69 13-58 15zm702 4l57-15 69 13-57 15zm-127 2l58-15 69 13-58 15zm-126 2l57-15 69 13-58 15zm-127 1l58-15 69 14-58 15zm-126 2l57-15 69 13-57 16zm-127 2l58-15 69 13-58 15zm575 6l58-15 69 13-58 16zm-127 2l58-15 69 13-58 15zm-126 2l58-15 68 13-57 15zm-126 2l57-16 69 14-58 15zm-127 1l58-15 69 14-58 15zm448 8l58-15 69 14-58 15zm-126 2l57-15 69 13-57 15zm-127 2l58-15 69 13-58 15zm-126 2l58-15 68 13-57 15zm322 9l57-15 69 14-58 15zm-127 2l58-15 69 13-58 16zm-126 2l57-15 69 13-58 15zm195 12l58-16 68 14-57 15zm-127 1l58-15 69 14-58 15zm69 14l58-15 69 13-58 15z"/>
<path fill="#67cd6c" d="M3234 7726l53-16 67-15-53 15zm-52 15l52-15 67-16-52 15z"/>
<path fill="#79cc5e" d="M3301 7710l53-15 67-15-53 15z"/>
<path fill="#67cd6c" d="M3129 7756l53-15 67-16-53 16z"/>
<path fill="#79cc5e" d="M3249 7725l52-15 67-15-53 15z"/>
<path fill="#8bcb51" d="M3368 7695l53-15 66-17-52 15z"/>
<path fill="#67cd6c" d="M3077 7772l52-16 67-15-53 15z"/>
<path fill="#79cc5e" d="M3196 7741l53-16 66-15-52 15z"/>
<path fill="#8bcb51" d="M3315 7710l53-15 67-17-53 15z"/>
<path fill="#9dc943" d="M3435 7678l52-15 67-17-52 15z"/>
<path fill="#67cd6c" d="M3024 7787l53-15 66-16-52 15z"/>
<path fill="#79cc5e" d="M3143 7756l53-15 67-16-53 15z"/>
<path fill="#8bcb51" d="M3263 7725l52-15 67-17-52 15z"/>
<path fill="#9dc943" d="M3382 7693l53-15 67-17-53 15z"/>
<path fill="#b1c635" d="M3502 7661l66-19 53-15-67 19z"/>
<path fill="#64cd6f" d="M2971 7803l53-16 67-16-53 16z"/>
<path fill="#79cc5e" d="M3091 7771l52-15 67-16-52 15z"/>
<path fill="#8bcb51" d="M3210 7740l53-15 67-17-53 15z"/>
<path fill="#9dc943" d="M3330 7708l52-15 67-17-53 14z"/>
<path fill="#aec637" d="M3449 7676l67-19 52-15-66 19z"/>
<path fill="#c1c32c" d="M3568 7642l67-20 53-15-67 20z"/>
<path fill="#64cd6f" d="M2919 7819l52-16 67-16-52 15z"/>
<path fill="#76cc61" d="M3038 7787l53-16 67-16-53 16z"/>
<path fill="#8bcb51" d="M3158 7755l52-15 67-17-53 15z"/>
<path fill="#9dc943" d="M3277 7723l53-15 66-18-52 15z"/>
<path fill="#aec637" d="M3396 7690l67-19 53-14-67 19z"/>
<path fill="#c1c32c" d="M3516 7657l67-21 52-14-67 20z"/>
<path fill="#d3bf27" d="M3635 7622l67-22 53-14-67 21z"/>
<path fill="#64cd6f" d="M2866 7834l53-15 67-17-53 16z"/>
<path fill="#76cc61" d="M2986 7802l52-15 67-16-53 15z"/>
<path fill="#8bcb51" d="M3105 7771l53-16 66-17-52 15z"/>
<path fill="#9dc943" d="M3224 7738l53-15 67-18-53 15z"/>
<path fill="#aec637" d="M3344 7705l52-15 67-19-52 15z"/>
<path fill="#c1c32c" d="M3463 7671l67-20 53-15-67 21z"/>
<path fill="#d3bf27" d="M3583 7636l66-21 53-15-67 22z"/>
<path fill="#e3bc2c" d="M3702 7600l67-22 52-15-66 23z"/>
<path fill="#64cd6f" d="M2814 7850l52-16 67-16-53 16z"/>
<path fill="#76cc61" d="M2933 7818l53-16 66-16-52 15z"/>
<path fill="#88cb53" d="M3052 7786l53-15 67-18-53 16z"/>
<path fill="#9dc943" d="M3172 7753l52-15 67-18-52 15z"/>
<path fill="#aec637" d="M3291 7720l67-19 53-15-67 19z"/>
<path fill="#c1c32c" d="M3411 7686l66-20 53-15-67 20z"/>
<path fill="#d3bf27" d="M3530 7651l67-21 52-15-66 21z"/>
<path fill="#e3bc2c" d="M3649 7615l67-23 53-14-67 22z"/>
<path fill="#f1ba37" d="M3769 7578l67-23 52-15-67 23z"/>
<path fill="#64cd6f" d="M2761 7866l53-16 66-16-52 15z"/>
<path fill="#76cc61" d="M2880 7834l53-16 67-17-53 16z"/>
<path fill="#88cb53" d="M3000 7801l52-15 67-17-52 15z"/>
<path fill="#9dc943" d="M3119 7769l53-16 67-18-53 15z"/>
<path fill="#aec637" d="M3239 7735l66-19 53-15-67 19z"/>
<path fill="#c1c32c" d="M3358 7701l67-20 52-15-66 20z"/>
<path fill="#d3bf27" d="M3477 7666l67-22 53-14-67 21z"/>
<path fill="#e3bc2c" d="M3597 7630l67-23 52-15-67 23z"/>
<path fill="#f1ba37" d="M3716 7592l67-23 53-14-67 23z"/>
<path fill="#fcbc3d" d="M3836 7555l66-23 53-15-67 23z"/>
<path fill="#61cd72" d="M2708 7882l53-16 67-17-53 16z"/>
<path fill="#76cc61" d="M2828 7849l52-15 67-17-52 15z"/>
<path fill="#88cb53" d="M2947 7817l53-16 67-17-53 15z"/>
<path fill="#9ac946" d="M3067 7784l52-15 67-19-53 16z"/>
<path fill="#aec637" d="M3186 7750l67-19 52-15-66 19z"/>
<path fill="#c1c32c" d="M3305 7716l67-21 53-14-67 20z"/>
<path fill="#d3bf27" d="M3425 7681l67-22 52-15-67 22z"/>
<path fill="#e3bc2c" d="M3544 7644l67-22 53-15-67 23z"/>
<path fill="#f1ba37" d="M3664 7607l66-23 53-15-67 23z"/>
<path fill="#fcbc3d" d="M3783 7569l67-23 52-14-66 23z"/>
<path fill="#fec438" d="M3902 7532l67-23 53-14-67 22z"/>
<path fill="#61cd72" d="M2656 7898l52-16 67-17-52 16z"/>
<path fill="#72cd64" d="M2775 7865l53-16 67-17-53 16z"/>
<path fill="#88cb53" d="M2895 7832l52-15 67-18-53 15z"/>
<path fill="#9ac946" d="M3014 7799l53-15 66-18-52 15z"/>
<path fill="#aec637" d="M3133 7766l53-16 67-19-53 15z"/>
<path fill="#c1c32c" d="M3253 7731l67-21 52-15-67 21z"/>
<path fill="#d3bf27" d="M3372 7695l67-21 53-15-67 22z"/>
<path fill="#e3bc2c" d="M3492 7659l66-23 53-14-67 22z"/>
<path fill="#f1ba37" d="M3611 7622l67-24 52-14-66 23z"/>
<path fill="#fcbc3d" d="M3730 7584l67-23 53-15-67 23z"/>
<path fill="#fec438" d="M3850 7546l67-22 52-15-67 23z"/>
<path fill="#fcce31" d="M3969 7509l67-21 53-15-67 22z"/>
<path fill="#61cd72" d="M2603 7914l53-16 67-17-53 16z"/>
<path fill="#72cd64" d="M2723 7881l52-16 67-17-53 15z"/>
<path fill="#88cb53" d="M2842 7848l53-16 66-18-52 16z"/>
<path fill="#9ac946" d="M2961 7814l53-15 67-18-53 15z"/>
<path fill="#aec637" d="M3081 7781l67-20 52-15-67 20z"/>
<path fill="#c1c32c" d="M3200 7746l67-21 53-15-67 21z"/>
<path fill="#d3bf27" d="M3320 7710l66-22 53-14-67 21z"/>
<path fill="#e3bc2c" d="M3439 7674l67-23 52-15-66 23z"/>
<path fill="#f1ba37" d="M3558 7636l67-23 53-15-67 24z"/>
<path fill="#fcbc3d" d="M3678 7598l67-23 52-14-67 23z"/>
<path fill="#fec438" d="M3797 7561l67-23 53-14-67 22z"/>
<path fill="#fcce31" d="M3917 7524l66-22 53-14-67 21z"/>
<path fill="#f9d82c" d="M4036 7488l67-19 52-14-66 18z"/>
<path fill="#5ecc74" d="M2551 7931l52-17 67-17-53 16z"/>
<path fill="#72cd64" d="M2670 7897l53-16 66-18-52 16z"/>
<path fill="#88cb53" d="M2789 7863l53-15 67-18-53 15z"/>
<path fill="#9ac946" d="M2909 7830l52-16 67-18-52 15z"/>
<path fill="#aec637" d="M3028 7796l67-20 53-15-67 20z"/>
<path fill="#bec32e" d="M3148 7761l66-21 53-15-67 21z"/>
<path fill="#d0bf27" d="M3267 7725l67-22 52-15-66 22z"/>
<path fill="#e3bc2c" d="M3386 7688l67-22 53-15-67 23z"/>
<path fill="#f1ba37" d="M3506 7651l67-23 52-15-67 23z"/>
<path fill="#fcbc3d" d="M3625 7613l67-23 53-15-67 23z"/>
<path fill="#fec438" d="M3745 7575l66-22 53-15-67 23z"/>
<path fill="#fcce31" d="M3864 7538l67-21 52-15-66 22z"/>
<path fill="#f9d82c" d="M3983 7502l67-18 53-15-67 19z"/>
<path fill="#f6e028" d="M4103 7469l52-14 67-16-52 14z"/>
<path fill="#5ecc74" d="M2498 7947l53-16 66-18-52 16z"/>
<path fill="#72cd64" d="M2617 7913l53-16 67-18-53 16z"/>
<path fill="#84cc56" d="M2737 7879l52-16 67-18-52 16z"/>
<path fill="#9ac946" d="M2856 7845l67-19 53-15-67 19z"/>
<path fill="#aec637" d="M2976 7811l66-20 53-15-67 20z"/>
<path fill="#bec32e" d="M3095 7776l67-21 52-15-66 21z"/>
<path fill="#d0bf27" d="M3214 7740l67-22 53-15-67 22z"/>
<path fill="#e3bc2c" d="M3334 7703l67-23 52-14-67 22z"/>
<path fill="#f1ba37" d="M3453 7666l67-24 53-14-67 23z"/>
<path fill="#fcbc3d" d="M3573 7628l66-24 53-14-67 23z"/>
<path fill="#fec438" d="M3692 7590l67-23 52-14-66 22z"/>
<path fill="#fcce31" d="M3811 7553l67-22 53-14-67 21z"/>
<path fill="#f5e825" d="M4170 7453l52-14 67-11-53 14z"/>
<path fill="#f9d82c" d="M3931 7517l52-15 67-18-52 14z"/>
<path fill="#f6e028" d="M4050 7484l53-15 67-16-53 15z"/>
<path fill="#5ecc74" d="M2445 7965l53-18 67-18-53 17z"/>
<path fill="#6ecd66" d="M2565 7929l52-16 67-18-52 16z"/>
<path fill="#84cc56" d="M2684 7895l53-16 67-18-53 15z"/>
<path fill="#9ac946" d="M2804 7861l52-16 67-19-53 15z"/>
<path fill="#abc739" d="M2923 7826l67-20 52-15-66 20z"/>
<path fill="#bec32e" d="M3042 7791l67-21 53-15-67 21z"/>
<path fill="#d0bf27" d="M3162 7755l67-22 52-15-67 22z"/>
<path fill="#e0bc2b" d="M3281 7718l67-23 53-15-67 23z"/>
<path fill="#f1ba37" d="M3401 7680l66-23 53-15-67 24z"/>
<path fill="#fcbc3d" d="M3520 7642l67-23 52-15-66 24z"/>
<path fill="#fec438" d="M3639 7604l67-22 53-15-67 23z"/>
<path fill="#f5ee21" d="M4236 7442l53-14 67-6-53 15z"/>
<path fill="#fcce31" d="M3759 7567l67-21 52-15-67 22z"/>
<path fill="#f5e825" d="M4117 7468l53-15 66-11-52 15z"/>
<path fill="#f9d82c" d="M3878 7531l67-18 53-15-67 19z"/>
<path fill="#f6e028" d="M3998 7498l52-14 67-16-53 14z"/>
<path fill="#5acc77" d="M2393 7982l52-17 67-19-52 17z"/>
<path fill="#6ecd66" d="M2512 7946l53-17 67-18-53 16z"/>
<path fill="#84cc56" d="M2632 7911l52-16 67-19-53 16z"/>
<path fill="#9ac946" d="M2751 7876l53-15 66-20-52 16z"/>
<path fill="#abc739" d="M2870 7841l67-20 53-15-67 20z"/>
<path fill="#bec32e" d="M2990 7806l67-21 52-15-67 21z"/>
<path fill="#d0bf27" d="M3109 7770l67-23 53-14-67 22z"/>
<path fill="#e0bc2b" d="M3229 7733l66-23 53-15-67 23z"/>
<path fill="#f1ba37" d="M3348 7695l67-24 52-14-66 23z"/>
<path fill="#f6f21e" d="M4303 7437l53-15 67 2-53 15z"/>
<path fill="#fcbc3d" d="M3467 7657l67-24 53-14-67 23z"/>
<path fill="#fec438" d="M3587 7619l67-23 52-14-67 22z"/>
<path fill="#f5ee21" d="M4184 7457l52-15 67-5-52 14z"/>
<path fill="#fcce31" d="M3706 7582l67-22 53-14-67 21z"/>
<path fill="#f5e825" d="M4064 7482l53-14 67-11-53 14z"/>
<path fill="#f9d82c" d="M3826 7546l66-19 53-14-67 18z"/>
<path fill="#f6e028" d="M3945 7513l53-15 66-16-52 15z"/>
<path fill="#5acc77" d="M2340 7999l53-17 67-19-53 16z"/>
<path fill="#6ecd66" d="M2460 7963l52-17 67-19-53 17z"/>
<path fill="#81cc59" d="M2579 7927l53-16 66-19-52 16z"/>
<path fill="#96ca48" d="M2698 7892l53-16 67-19-53 15z"/>
<path fill="#abc739" d="M2818 7857l67-21 52-15-67 20z"/>
<path fill="#bec32e" d="M2937 7821l67-21 53-15-67 21z"/>
<path fill="#f7f51b" d="M4370 7439l53-15 66 11-52 14z"/>
<path fill="#d0bf27" d="M3057 7785l66-23 53-15-67 23z"/>
<path fill="#e0bc2b" d="M3176 7747l67-23 52-14-66 23z"/>
<path fill="#f1ba37" d="M3295 7710l67-24 53-15-67 24z"/>
<path fill="#f6f21e" d="M4251 7451l52-14 67 2-53 14z"/>
<path fill="#fcbc3d" d="M3415 7671l67-23 52-15-67 24z"/>
<path fill="#fec438" d="M3534 7633l67-22 53-15-67 23z"/>
<path fill="#f5ee21" d="M4131 7471l53-14 67-6-53 15z"/>
<path fill="#fcce31" d="M3654 7596l66-21 53-15-67 22z"/>
<path fill="#f5e825" d="M4012 7497l52-15 67-11-52 15z"/>
<path fill="#f9d82c" d="M3773 7560l67-18 52-15-66 19z"/>
<path fill="#f6e028" d="M3892 7527l53-14 67-16-53 14z"/>
<path fill="#f8f619" d="M4437 7449l52-14 67 21-52 15z"/>
<path fill="#57cc7a" d="M2288 8016l52-17 67-20-53 17z"/>
<path fill="#6bcd69" d="M2407 7979l53-16 66-19-52 16z"/>
<path fill="#81cc59" d="M2526 7944l53-17 67-19-53 16z"/>
<path fill="#96ca48" d="M2646 7908l52-16 67-20-52 16z"/>
<path fill="#abc739" d="M2765 7872l67-20 53-16-67 21z"/>
<path fill="#bec32e" d="M2885 7836l66-21 53-15-67 21z"/>
<path fill="#f7f51b" d="M4317 7453l53-14 67 10-53 15z"/>
<path fill="#d0bf27" d="M3004 7800l67-23 52-15-66 23z"/>
<path fill="#e0bc2b" d="M3123 7762l67-23 53-15-67 23z"/>
<path fill="#f1ba37" d="M3243 7724l67-23 52-15-67 24z"/>
<path fill="#f6f21e" d="M4198 7466l53-15 66 2-52 15z"/>
<path fill="#fcbc3d" d="M3362 7686l67-23 53-15-67 23z"/>
<path fill="#fec438" d="M3482 7648l66-23 53-14-67 22z"/>
<path fill="#f5ee21" d="M4079 7486l52-15 67-5-53 14z"/>
<path fill="#fcce31" d="M3601 7611l67-22 52-14-66 21z"/>
<path fill="#f5e825" d="M3959 7511l53-14 67-11-53 14z"/>
<path fill="#f9d82c" d="M3720 7575l67-19 53-14-67 18z"/>
<path fill="#f6e028" d="M3840 7542l52-15 67-16-52 15z"/>
<path fill="#f7f41c" d="M4504 7471l52-15 67 34-53 15z"/>
<path fill="#f8f619" d="M4384 7464l53-15 67 22-53 14z"/>
<path fill="#57cc7a" d="M2235 8033l53-17 66-20-52 16z"/>
<path fill="#6bcd69" d="M2354 7996l53-17 67-19-53 16z"/>
<path fill="#81cc59" d="M2474 7960l52-16 67-20-52 16z"/>
<path fill="#96ca48" d="M2593 7924l53-16 67-20-53 16z"/>
<path fill="#abc739" d="M2713 7888l66-21 53-15-67 20z"/>
<path fill="#bec32e" d="M2832 7852l67-22 52-15-66 21z"/>
<path fill="#f7f51b" d="M4265 7468l52-15 67 11-52 14z"/>
<path fill="#d0bf27" d="M2951 7815l67-23 53-15-67 23z"/>
<path fill="#e0bc2b" d="M3071 7777l67-23 52-15-67 23z"/>
<path fill="#f1ba37" d="M3190 7739l67-24 53-14-67 23z"/>
<path fill="#f6f21e" d="M4145 7480l53-14 67 2-53 14z"/>
<path fill="#fcbc3d" d="M3310 7701l66-24 53-14-67 23z"/>
<path fill="#fec438" d="M3429 7663l67-23 52-15-66 23z"/>
<path fill="#f5ee21" d="M4026 7500l53-14 66-6-52 15z"/>
<path fill="#fcce31" d="M3548 7625l67-21 53-15-67 22z"/>
<path fill="#f5e825" d="M3907 7526l52-15 67-11-53 15z"/>
<path fill="#f9d82c" d="M3668 7589l52-14 67-19-52 15z"/>
<path fill="#f6e028" d="M3787 7556l53-14 67-16-53 14z"/>
<path fill="#f5ee21" d="M4570 7505l53-15 67 48-53 14z"/>
<path fill="#f7f41c" d="M4451 7485l53-14 66 34-52 14z"/>
<path fill="#54cc7c" d="M2182 8049l53-16 67-21-53 17z"/>
<path fill="#f8f619" d="M4332 7478l52-14 67 21-53 15z"/>
<path fill="#6bcd69" d="M2302 8012l52-16 67-20-52 16z"/>
<path fill="#81cc59" d="M2421 7976l53-16 67-20-53 16z"/>
<path fill="#96ca48" d="M2541 7940l52-16 67-20-53 16z"/>
<path fill="#abc739" d="M2660 7904l67-22 52-15-66 21z"/>
<path fill="#bec32e" d="M2779 7867l67-22 53-15-67 22z"/>
<path fill="#f7f51b" d="M4212 7482l53-14 67 10-53 15z"/>
<path fill="#d0bf27" d="M2899 7830l67-23 52-15-67 23z"/>
<path fill="#e0bc2b" d="M3018 7792l67-24 53-14-67 23z"/>
<path fill="#f1ba37" d="M3138 7754l66-24 53-15-67 24z"/>
<path fill="#f6f21e" d="M4093 7495l52-15 67 2-52 15z"/>
<path fill="#fcbc3d" d="M3257 7715l67-23 52-15-66 24z"/>
<path fill="#fec438" d="M3376 7677l67-23 53-14-67 23z"/>
<path fill="#f5ee21" d="M3973 7515l53-15 67-5-53 14z"/>
<path fill="#fcce31" d="M3496 7640l67-22 52-14-67 21z"/>
<path fill="#f5e825" d="M3854 7540l53-14 66-11-52 14z"/>
<path fill="#f9d82c" d="M3615 7604l67-19 53-14-67 18z"/>
<path fill="#f6e028" d="M3735 7571l52-15 67-16-53 15z"/>
<path fill="#f5e626" d="M4637 7552l53-14 67 60-53 15z"/>
<path fill="#f5ee21" d="M4518 7519l52-14 67 47-52 15z"/>
<path fill="#f7f41c" d="M4398 7500l53-15 67 34-53 15z"/>
<path fill="#54cc7c" d="M2130 8065l67-21 52-15-67 20z"/>
<path fill="#f8f619" d="M4279 7493l53-15 66 22-52 14z"/>
<path fill="#67cd6c" d="M2249 8029l53-17 67-20-53 16z"/>
<path fill="#f9d82c" d="M4704 7613l53-15 66 75-52 14z"/>
<path fill="#7dcc5b" d="M2369 7992l52-16 67-20-53 16z"/>
<path fill="#93ca4b" d="M2488 7956l67-21 52-15-66 20z"/>
<path fill="#a7c73c" d="M2607 7920l67-22 53-16-67 22z"/>
<path fill="#bec32e" d="M2727 7882l67-22 52-15-67 22z"/>
<path fill="#f7f51b" d="M4160 7497l52-15 67 11-53 14z"/>
<path fill="#d0bf27" d="M2846 7845l67-23 53-15-67 23z"/>
<path fill="#e0bc2b" d="M2966 7807l66-24 53-15-67 24z"/>
<path fill="#f1ba37" d="M3085 7768l67-23 52-15-66 24z"/>
<path fill="#f6f21e" d="M4040 7509l53-14 67 2-53 14z"/>
<path fill="#fcbc3d" d="M3204 7730l67-24 53-14-67 23z"/>
<path fill="#fec438" d="M3324 7692l67-23 52-15-67 23z"/>
<path fill="#f5ee21" d="M3921 7529l52-14 67-6-52 15z"/>
<path fill="#fcce31" d="M3443 7654l67-21 53-15-67 22z"/>
<path fill="#f5e825" d="M3801 7555l53-15 67-11-53 15z"/>
<path fill="#f9d82c" d="M3563 7618l66-18 53-15-67 19z"/>
<path fill="#f6e028" d="M3682 7585l53-14 66-16-52 14z"/>
<path fill="#f5e626" d="M4585 7567l52-15 67 61-53 14z"/>
<path fill="#f5ee21" d="M4465 7534l53-15 67 48-53 14z"/>
<path fill="#fec834" d="M4771 7687l52-14 67 86-52 15z"/>
<path fill="#f7f41c" d="M4346 7514l52-14 67 34-52 14z"/>
<path fill="#54cc7c" d="M2077 8080l67-21 53-15-67 21z"/>
<path fill="#f8f619" d="M4226 7507l53-14 67 21-53 15z"/>
<path fill="#67cd6c" d="M2197 8044l66-20 53-16-67 21z"/>
<path fill="#f9d82c" d="M4651 7627l53-14 67 74-53 15z"/>
<path fill="#7dcc5b" d="M2316 8008l53-16 66-20-52 16z"/>
<path fill="#93ca4b" d="M2435 7972l67-21 53-16-67 21z"/>
<path fill="#a7c73c" d="M2555 7935l67-22 52-15-67 22z"/>
<path fill="#bbc42f" d="M2674 7898l67-23 53-15-67 22z"/>
<path fill="#f7f51b" d="M4107 7511l53-14 66 10-52 15z"/>
<path fill="#d0bf27" d="M2794 7860l66-23 53-15-67 23z"/>
<path fill="#e0bc2b" d="M2913 7822l67-24 52-15-66 24z"/>
<path fill="#efba35" d="M3032 7783l67-24 53-14-67 23z"/>
<path fill="#f6f21e" d="M3988 7524l52-15 67 2-53 15z"/>
<path fill="#f5ba3a" d="M4838 7774l52-15 67 98-53 15z"/>
<path fill="#fcbc3d" d="M3152 7745l67-24 52-15-67 24z"/>
<path fill="#fec438" d="M3271 7706l67-23 53-14-67 23z"/>
<path fill="#f5ee21" d="M3868 7544l53-15 67-5-53 14z"/>
<path fill="#fcce31" d="M3391 7669l66-22 53-14-67 21z"/>
<path fill="#f5e825" d="M3749 7569l52-14 67-11-52 14z"/>
<path fill="#f9d82c" d="M3510 7633l67-19 52-14-66 18z"/>
<path fill="#f6e028" d="M3629 7600l53-15 67-16-53 15z"/>
<path fill="#f5e626" d="M4532 7581l53-14 66 60-52 15z"/>
<path fill="#f5ee21" d="M4413 7548l52-14 67 47-53 15z"/>
<path fill="#fec834" d="M4718 7702l53-15 67 87-53 14z"/>
<path fill="#d0bf27" d="M4904 7872l53-15 67 106-53 14z"/>
<path fill="#f7f41c" d="M4293 7529l53-15 67 34-53 15z"/>
<path fill="#54cc7c" d="M2025 8095l66-21 53-15-67 21z"/>
<path fill="#f8f619" d="M4174 7522l52-15 67 22-52 14z"/>
<path fill="#67cd6c" d="M2144 8059l67-20 52-15-66 20z"/>
<path fill="#f9d82c" d="M4599 7642l52-15 67 75-52 14z"/>
<path fill="#7dcc5b" d="M2263 8024l67-21 53-15-67 20z"/>
<path fill="#93ca4b" d="M2383 7988l67-22 52-15-67 21z"/>
<path fill="#a7c73c" d="M2502 7951l67-22 53-16-67 22z"/>
<path fill="#bbc42f" d="M2622 7913l66-22 53-16-67 23z"/>
<path fill="#f7f51b" d="M4054 7526l53-15 67 11-53 14z"/>
<path fill="#d0bf27" d="M2741 7875l67-23 52-15-66 23z"/>
<path fill="#e0bc2b" d="M2860 7837l67-24 53-15-67 24z"/>
<path fill="#efba35" d="M2980 7798l67-24 52-15-67 24z"/>
<path fill="#f6f21e" d="M3935 7538l53-14 66 2-52 14z"/>
<path fill="#f5ba3a" d="M4785 7788l53-14 66 98-52 14z"/>
<path fill="#fcbc3d" d="M3099 7759l67-24 53-14-67 24z"/>
<path fill="#fec438" d="M3219 7721l66-23 53-15-67 23z"/>
<path fill="#f5ee21" d="M3816 7558l52-14 67-6-53 15z"/>
<path fill="#fcce31" d="M3338 7683l67-21 52-15-66 22z"/>
<path fill="#9dc943" d="M4971 7977l53-14 67 110-53 14z"/>
<path fill="#f5e825" d="M3696 7584l53-15 67-11-53 15z"/>
<path fill="#f9d82c" d="M3457 7647l67-18 53-15-67 19z"/>
<path fill="#f6e028" d="M3577 7614l52-14 67-16-52 14z"/>
<path fill="#f5e626" d="M4479 7596l53-15 67 61-53 14z"/>
<path fill="#f5ee21" d="M4360 7563l53-15 66 48-52 14z"/>
<path fill="#fec834" d="M4666 7716l52-14 67 86-53 15z"/>
<path fill="#d0bf27" d="M4852 7886l52-14 67 105-52 15z"/>
<path fill="#61cd72" d="M5038 8087l53-14 66 110-52 15z"/>
<path fill="#f7f41c" d="M4241 7543l52-14 67 34-53 14z"/>
<path fill="#54cc7c" d="M1972 8110l67-21 52-15-66 21z"/>
<path fill="#f8f619" d="M4121 7536l53-14 67 21-53 15z"/>
<path fill="#67cd6c" d="M2091 8074l67-20 53-15-67 20z"/>
<path fill="#f9d82c" d="M4546 7656l53-14 67 74-53 15z"/>
<path fill="#7dcc5b" d="M2211 8039l67-21 52-15-67 21z"/>
<path fill="#93ca4b" d="M2330 8003l67-22 53-15-67 22z"/>
<path fill="#a7c73c" d="M2450 7966l66-22 53-15-67 22z"/>
<path fill="#bbc42f" d="M2569 7929l67-23 52-15-66 22z"/>
<path fill="#f7f51b" d="M4002 7540l52-14 67 10-52 15z"/>
<path fill="#cdc028" d="M2688 7891l67-24 53-15-67 23z"/>
<path fill="#e0bc2b" d="M2808 7852l67-24 52-15-67 24z"/>
<path fill="#efba35" d="M2927 7813l67-24 53-15-67 24z"/>
<path fill="#f6f21e" d="M3882 7553l53-15 67 2-53 15z"/>
<path fill="#f5ba3a" d="M4732 7803l53-15 67 98-53 15z"/>
<path fill="#fcbc3d" d="M3047 7774l66-24 53-15-67 24z"/>
<path fill="#fec438" d="M3166 7735l67-23 52-14-66 23z"/>
<path fill="#f5ee21" d="M3763 7573l53-15 66-5-52 14z"/>
<path fill="#fcce31" d="M3285 7698l67-22 53-14-67 21z"/>
<path fill="#9dc943" d="M4919 7992l52-15 67 110-53 15z"/>
<path fill="#f5e825" d="M3644 7598l52-14 67-11-53 14z"/>
<path fill="#f9d82c" d="M3405 7662l52-15 67-18-52 14z"/>
<path fill="#f6e028" d="M3524 7629l53-15 67-16-53 15z"/>
<path fill="#35c79b" d="M5105 8198l52-15 67 109-52 14z"/>
<path fill="#f5e626" d="M4427 7610l52-14 67 60-52 15z"/>
<path fill="#f5ee21" d="M4307 7577l53-14 67 47-53 15z"/>
<path fill="#fec834" d="M4613 7731l53-15 66 87-52 14z"/>
<path fill="#d0bf27" d="M4799 7901l53-15 67 106-53 14z"/>
<path fill="#61cd72" d="M4985 8102l53-15 67 111-53 14z"/>
<path fill="#f7f41c" d="M4188 7558l53-15 66 34-52 15z"/>
<path fill="#10beba" d="M5172 8306l52-14 67 103-53 15z"/>
<path fill="#54cc7c" d="M1919 8125l67-20 53-16-67 21z"/>
<path fill="#f8f619" d="M4069 7551l52-15 67 22-53 14z"/>
<path fill="#67cd6c" d="M2039 8089l67-20 52-15-67 20z"/>
<path fill="#f9d82c" d="M4494 7671l52-15 67 75-53 14z"/>
<path fill="#7dcc5b" d="M2158 8054l67-21 53-15-67 21z"/>
<path fill="#93ca4b" d="M2278 8018l66-22 53-15-67 22z"/>
<path fill="#a7c73c" d="M2397 7981l67-22 52-15-66 22z"/>
<path fill="#bbc42f" d="M2516 7944l67-23 53-15-67 23z"/>
<path fill="#f7f51b" d="M3949 7555l53-15 67 11-53 14z"/>
<path fill="#cdc028" d="M2636 7906l67-24 52-15-67 24z"/>
<path fill="#e0bc2b" d="M2755 7867l67-24 53-15-67 24z"/>
<path fill="#efba35" d="M2875 7828l66-25 53-14-67 24z"/>
<path fill="#f6f21e" d="M3830 7567l52-14 67 2-52 14z"/>
<path fill="#f5ba3a" d="M4680 7817l52-14 67 98-52 14z"/>
<path fill="#fcbc3d" d="M2994 7789l67-24 52-15-66 24z"/>
<path fill="#fec438" d="M3113 7750l67-23 53-15-67 23z"/>
<path fill="#f5ee21" d="M3710 7587l53-14 67-6-53 15z"/>
<path fill="#fcce31" d="M3233 7712l67-21 52-15-67 22z"/>
<path fill="#9dc943" d="M4866 8006l53-14 66 110-52 14z"/>
<path fill="#f5e825" d="M3591 7613l53-15 66-11-52 15z"/>
<path fill="#f9d82c" d="M3352 7676l67-18 53-15-67 19z"/>
<path fill="#f6e028" d="M3472 7643l52-14 67-16-53 14z"/>
<path fill="#35c79b" d="M5052 8212l53-14 67 108-53 15z"/>
<path fill="#f5e626" d="M4374 7625l53-15 67 61-53 14z"/>
<path fill="#0db3d4" d="M5238 8410l53-15 67 98-53 14z"/>
<path fill="#f5ee21" d="M4255 7592l52-15 67 48-52 14z"/>
<path fill="#fec834" d="M4560 7745l53-14 67 86-53 15z"/>
<path fill="#d0bf27" d="M4747 7915l52-14 67 105-53 15z"/>
<path fill="#61cd72" d="M4933 8116l52-14 67 110-52 15z"/>
<path fill="#f7f41c" d="M4135 7572l53-14 67 34-53 14z"/>
<path fill="#10beba" d="M5119 8321l53-15 66 104-52 14z"/>
<path fill="#20a5e3" d="M5305 8507l53-14 67 90-53 14z"/>
<path fill="#54cc7c" d="M1867 8140l67-20 52-15-67 20z"/>
<path fill="#f8f619" d="M4016 7565l53-14 66 21-52 15z"/>
<path fill="#67cd6c" d="M1986 8105l67-21 53-15-67 20z"/>
<path fill="#f9d82c" d="M4441 7685l53-14 66 74-52 15z"/>
<path fill="#7dcc5b" d="M2106 8069l66-21 53-15-67 21z"/>
<path fill="#93ca4b" d="M2225 8033l67-21 52-16-66 22z"/>
<path fill="#a7c73c" d="M2344 7996l67-22 53-15-67 22z"/>
<path fill="#bbc42f" d="M2464 7959l67-23 52-15-67 23z"/>
<path fill="#f7f51b" d="M3897 7569l52-14 67 10-53 15z"/>
<path fill="#cdc028" d="M2583 7921l67-24 53-15-67 24z"/>
<path fill="#e0bc2b" d="M2703 7882l66-25 53-14-67 24z"/>
<path fill="#efba35" d="M2822 7843l67-25 52-15-66 25z"/>
<path fill="#f6f21e" d="M3777 7582l53-15 67 2-53 15z"/>
<path fill="#f5ba3a" d="M4627 7832l53-15 67 98-53 15z"/>
<path fill="#fcbc3d" d="M2941 7803l67-24 53-14-67 24z"/>
<path fill="#fec438" d="M3061 7765l67-24 52-14-67 23z"/>
<path fill="#f5ee21" d="M3658 7602l52-15 67-5-52 14z"/>
<path fill="#fcce31" d="M3180 7727l67-22 53-14-67 21z"/>
<path fill="#9dc943" d="M4813 8021l53-15 67 110-53 15z"/>
<path fill="#f5e825" d="M3538 7627l53-14 67-11-53 14z"/>
<path fill="#f9d82c" d="M3300 7691l66-19 53-14-67 18z"/>
<path fill="#f6e028" d="M3419 7658l53-15 66-16-52 15z"/>
<path fill="#35c79b" d="M5000 8227l52-15 67 109-53 14z"/>
<path fill="#f5e626" d="M4322 7639l52-14 67 60-53 15z"/>
<path fill="#0db3d4" d="M5186 8424l52-14 67 97-52 15z"/>
<path fill="#2994ed" d="M5372 8597l53-14 66 82-52 14z"/>
<path fill="#f5ee21" d="M4202 7606l53-14 67 47-53 15z"/>
<path fill="#fec834" d="M4508 7760l52-15 67 87-52 14z"/>
<path fill="#d0bf27" d="M4694 7930l53-15 66 106-52 14z"/>
<path fill="#61cd72" d="M4880 8131l53-15 67 111-53 14z"/>
<path fill="#f7f41c" d="M4083 7587l52-15 67 34-52 15z"/>
<path fill="#10beba" d="M5066 8335l53-14 67 103-53 15z"/>
<path fill="#20a5e3" d="M5253 8522l52-15 67 90-53 15z"/>
<path fill="#54cc7c" d="M1814 8155l67-20 53-15-67 20z"/>
<path fill="#67cd6c" d="M1934 8120l66-21 53-15-67 21z"/>
<path fill="#f8f619" d="M3963 7580l53-15 67 22-53 14z"/>
<path fill="#f9d82c" d="M4388 7700l53-15 67 75-53 14z"/>
<path fill="#79cc5e" d="M2053 8084l67-21 52-15-66 21z"/>
<path fill="#8fcb4e" d="M2172 8048l67-21 53-15-67 21z"/>
<path fill="#a4c83e" d="M2292 8012l67-23 52-15-67 22z"/>
<path fill="#bbc42f" d="M2411 7974l67-23 53-15-67 23z"/>
<path fill="#f7f51b" d="M3844 7584l53-15 66 11-52 14z"/>
<path fill="#cdc028" d="M2531 7936l66-24 53-15-67 24z"/>
<path fill="#e0bc2b" d="M2650 7897l67-25 52-15-66 25z"/>
<path fill="#efba35" d="M2769 7857l67-24 53-15-67 25z"/>
<path fill="#2e84f8" d="M5439 8679l52-14 67 73-52 15z"/>
<path fill="#f6f21e" d="M3725 7596l52-14 67 2-53 14z"/>
<path fill="#f5ba3a" d="M4575 7846l52-14 67 98-53 14z"/>
<path fill="#fcbc3d" d="M2889 7818l67-24 52-15-67 24z"/>
<path fill="#fec438" d="M3008 7779l67-23 53-15-67 24z"/>
<path fill="#f5ee21" d="M3605 7616l53-14 67-6-53 15z"/>
<path fill="#fcce31" d="M3128 7741l66-21 53-15-67 22z"/>
<path fill="#9dc943" d="M4761 8035l52-14 67 110-52 14z"/>
<path fill="#f5e825" d="M3486 7642l52-15 67-11-52 15z"/>
<path fill="#f9d82c" d="M3247 7705l67-18 52-15-66 19z"/>
<path fill="#f6e028" d="M3366 7672l53-14 67-16-53 14z"/>
<path fill="#35c79b" d="M4947 8241l53-14 66 108-52 15z"/>
<path fill="#f5e626" d="M4269 7654l53-15 66 61-52 14z"/>
<path fill="#0db3d4" d="M5133 8439l53-15 67 98-53 14z"/>
<path fill="#2994ed" d="M5319 8612l53-15 67 82-53 15z"/>
<path fill="#f5ee21" d="M4150 7621l52-15 67 48-53 14z"/>
<path fill="#fec834" d="M4455 7774l53-14 67 86-53 15z"/>
<path fill="#d0bf27" d="M4641 7944l53-14 67 105-53 15z"/>
<path fill="#61cd72" d="M4828 8145l52-14 67 110-53 15z"/>
<path fill="#f7f41c" d="M4030 7601l53-14 67 34-53 14z"/>
<path fill="#10beba" d="M5014 8350l52-15 67 104-52 14z"/>
<path fill="#3876fe" d="M5506 8753l52-15 67 66-53 14z"/>
<path fill="#20a5e3" d="M5200 8536l53-14 66 90-52 14z"/>
<path fill="#54cc7c" d="M1762 8170l66-20 53-15-67 20z"/>
<path fill="#64cd6f" d="M1881 8135l67-20 52-16-66 21z"/>
<path fill="#f8f619" d="M3911 7594l52-14 67 21-52 15z"/>
<path fill="#79cc5e" d="M2000 8099l67-20 53-16-67 21z"/>
<path fill="#f9d82c" d="M4336 7714l52-14 67 74-52 15z"/>
<path fill="#8fcb4e" d="M2120 8063l67-21 52-15-67 21z"/>
<path fill="#a4c83e" d="M2239 8027l67-22 53-16-67 23z"/>
<path fill="#bbc42f" d="M2359 7989l66-23 53-15-67 23z"/>
<path fill="#f7f51b" d="M3791 7598l53-14 67 10-53 15z"/>
<path fill="#cdc028" d="M2478 7951l67-24 52-15-66 24z"/>
<path fill="#e0bc2b" d="M2597 7912l67-25 53-15-67 25z"/>
<path fill="#efba35" d="M2717 7872l67-25 52-14-67 24z"/>
<path fill="#2e84f8" d="M5386 8694l53-15 67 74-53 14z"/>
<path fill="#f6f21e" d="M3672 7611l53-15 66 2-52 15z"/>
<path fill="#f5ba3a" d="M4522 7861l53-15 66 98-52 15z"/>
<path fill="#fcbc3d" d="M2836 7833l67-25 53-14-67 24z"/>
<path fill="#fec438" d="M2956 7794l66-24 53-14-67 23z"/>
<path fill="#f5ee21" d="M3553 7631l52-15 67-5-53 14z"/>
<path fill="#fcce31" d="M3075 7756l67-22 52-14-66 21z"/>
<path fill="#9dc943" d="M4708 8050l53-15 67 110-53 15z"/>
<path fill="#f5e825" d="M3433 7656l53-14 67-11-53 14z"/>
<path fill="#f9d82c" d="M3194 7720l67-19 53-14-67 18z"/>
<path fill="#f6e028" d="M3314 7687l52-15 67-16-52 15z"/>
<path fill="#35c79b" d="M4894 8256l53-15 67 109-53 14z"/>
<path fill="#f5e626" d="M4216 7668l53-14 67 60-53 15z"/>
<path fill="#0db3d4" d="M5081 8453l52-14 67 97-53 15z"/>
<path fill="#2994ed" d="M5267 8626l52-14 67 82-52 14z"/>
<path fill="#4368fe" d="M5572 8818l53-14 67 57-53 15z"/>
<path fill="#f5ee21" d="M4097 7635l53-14 66 47-52 15z"/>
<path fill="#fec834" d="M4403 7789l52-15 67 87-53 14z"/>
<path fill="#d0bf27" d="M4589 7959l52-15 67 106-52 14z"/>
<path fill="#61cd72" d="M4775 8160l53-15 66 111-52 14z"/>
<path fill="#f7f41c" d="M3978 7616l52-15 67 34-53 15z"/>
<path fill="#10beba" d="M4961 8364l53-14 67 103-53 15z"/>
<path fill="#3876fe" d="M5453 8767l53-14 66 65-52 15z"/>
<path fill="#20a5e3" d="M5147 8551l53-15 67 90-53 15z"/>
<path fill="#54cc7c" d="M1709 8184l67-18 52-16-66 20z"/>
<path fill="#64cd6f" d="M1828 8150l53-15 67-20-53 16z"/>
<path fill="#f8f619" d="M3858 7609l53-15 67 22-53 14z"/>
<path fill="#79cc5e" d="M1948 8115l67-21 52-15-67 20z"/>
<path fill="#f9d82c" d="M4283 7729l53-15 67 75-53 14z"/>
<path fill="#8fcb4e" d="M2067 8079l67-22 53-15-67 21z"/>
<path fill="#a4c83e" d="M2187 8042l66-22 53-15-67 22z"/>
<path fill="#b8c431" d="M2306 8005l67-23 52-16-66 23z"/>
<path fill="#cdc028" d="M2425 7966l67-24 53-15-67 24z"/>
<path fill="#f7f51b" d="M3739 7613l52-15 67 11-52 14z"/>
<path fill="#debd29" d="M2545 7927l67-25 52-15-67 25z"/>
<path fill="#efba35" d="M2664 7887l67-25 53-15-67 25z"/>
<path fill="#2e84f8" d="M5334 8708l52-14 67 73-53 15z"/>
<path fill="#f6f21e" d="M3619 7625l53-14 67 2-53 14z"/>
<path fill="#f5ba3a" d="M4469 7875l53-14 67 98-53 14z"/>
<path fill="#fcbc3d" d="M2784 7847l66-24 53-15-67 25z"/>
<path fill="#fec438" d="M2903 7808l67-23 52-15-66 24z"/>
<path fill="#f5ee21" d="M3500 7645l53-14 66-6-52 15z"/>
<path fill="#fcce31" d="M3022 7770l67-21 53-15-67 22z"/>
<path fill="#9dc943" d="M4656 8064l52-14 67 110-53 14z"/>
<path fill="#f5e825" d="M3381 7671l52-15 67-11-53 15z"/>
<path fill="#f9d82c" d="M3142 7734l52-14 67-19-52 15z"/>
<path fill="#f6e028" d="M3261 7701l53-14 67-16-53 14z"/>
<path fill="#465dfa" d="M5639 8876l53-15 67 50-53 15z"/>
<path fill="#35c79b" d="M4842 8270l52-14 67 108-52 15z"/>
<path fill="#f5e626" d="M4164 7683l52-15 67 61-52 14z"/>
<path fill="#0db3d4" d="M5028 8468l53-15 66 98-52 14z"/>
<path fill="#2994ed" d="M5214 8641l53-15 67 82-53 15z"/>
<path fill="#4368fe" d="M5520 8833l52-15 67 58-52 14z"/>
<path fill="#f5ee21" d="M4044 7650l53-15 67 48-53 14z"/>
<path fill="#fec834" d="M4350 7803l53-14 66 86-52 15z"/>
<path fill="#d0bf27" d="M4536 7973l53-14 67 105-53 15z"/>
<path fill="#61cd72" d="M4722 8174l53-14 67 110-53 15z"/>
<path fill="#f7f41c" d="M3925 7630l53-14 66 34-52 14z"/>
<path fill="#10beba" d="M4909 8379l52-15 67 104-53 14z"/>
<path fill="#3876fe" d="M5400 8782l53-15 67 66-53 14z"/>
<path fill="#20a5e3" d="M5095 8565l52-14 67 90-52 14z"/>
<path fill="#54cc7c" d="M1656 8199l53-15 67-18-53 15z"/>
<path fill="#64cd6f" d="M1776 8166l52-16 67-19-52 16z"/>
<path fill="#f8f619" d="M3806 7623l52-14 67 21-53 15z"/>
<path fill="#79cc5e" d="M1895 8131l53-16 67-21-53 17z"/>
<path fill="#f9d82c" d="M4231 7743l52-14 67 74-53 15z"/>
<path fill="#8fcb4e" d="M2015 8094l66-21 53-16-67 22z"/>
<path fill="#a4c83e" d="M2134 8057l67-22 52-15-66 22z"/>
<path fill="#4853f5" d="M5706 8926l53-15 66 44-52 14z"/>
<path fill="#b8c431" d="M2253 8020l67-23 53-15-67 23z"/>
<path fill="#cdc028" d="M2373 7982l67-24 52-16-67 24z"/>
<path fill="#f7f51b" d="M3686 7627l53-14 67 10-53 15z"/>
<path fill="#debd29" d="M2492 7942l67-24 53-16-67 25z"/>
<path fill="#efba35" d="M2612 7902l66-24 53-16-67 25z"/>
<path fill="#2e84f8" d="M5281 8723l53-15 66 74-52 14z"/>
<path fill="#f6f21e" d="M3567 7640l52-15 67 2-52 15z"/>
<path fill="#f5ba3a" d="M4417 7890l52-15 67 98-52 15z"/>
<path fill="#fcbc3d" d="M2731 7862l67-24 52-15-66 24z"/>
<path fill="#fec438" d="M2850 7823l67-23 53-15-67 23z"/>
<path fill="#f5ee21" d="M3447 7660l53-15 67-5-53 14z"/>
<path fill="#fcce31" d="M2970 7785l67-22 52-14-67 21z"/>
<path fill="#9dc943" d="M4603 8079l53-15 66 110-52 15z"/>
<path fill="#f5e825" d="M3328 7685l53-14 66-11-52 14z"/>
<path fill="#f9d82c" d="M3089 7749l67-19 53-14-67 18z"/>
<path fill="#f6e028" d="M3209 7716l52-15 67-16-53 15z"/>
<path fill="#465dfa" d="M5587 8890l52-14 67 50-53 14z"/>
<path fill="#35c79b" d="M4789 8285l53-15 67 109-53 14z"/>
<path fill="#f5e626" d="M4111 7697l53-14 67 60-53 15z"/>
<path fill="#0db3d4" d="M4975 8482l53-14 67 97-53 15z"/>
<path fill="#2994ed" d="M5162 8655l52-14 67 82-53 14z"/>
<path fill="#4368fe" d="M5467 8847l53-14 67 57-53 15z"/>
<path fill="#f5ee21" d="M3992 7664l52-14 67 47-52 15z"/>
<path fill="#fec834" d="M4297 7818l53-15 67 87-53 14z"/>
<path fill="#d0bf27" d="M4484 7988l52-15 67 106-53 14z"/>
<path fill="#61cd72" d="M4670 8189l52-15 67 111-52 14z"/>
<path fill="#f7f41c" d="M3872 7645l53-15 67 34-53 15z"/>
<path fill="#10beba" d="M4856 8393l53-14 66 103-52 15z"/>
<path fill="#484cf0" d="M5773 8969l52-14 67 38-52 15z"/>
<path fill="#3876fe" d="M5348 8796l52-14 67 65-52 15z"/>
<path fill="#20a5e3" d="M5042 8580l53-15 67 90-53 15z"/>
<path fill="#54cc7c" d="M1604 8214l52-15 67-18-52 16z"/>
<path fill="#64cd6f" d="M1723 8181l53-15 67-19-53 17z"/>
<path fill="#79cc5e" d="M1843 8147l52-16 67-20-53 17z"/>
<path fill="#f8f619" d="M3753 7638l53-15 66 22-52 14z"/>
<path fill="#f9d82c" d="M4178 7758l53-15 66 75-52 14z"/>
<path fill="#8fcb4e" d="M1962 8111l53-17 66-21-52 18z"/>
<path fill="#a4c83e" d="M2081 8073l67-21 53-17-67 22z"/>
<path fill="#4853f5" d="M5653 8940l53-14 67 43-53 15z"/>
<path fill="#b8c431" d="M2201 8035l67-22 52-16-67 23z"/>
<path fill="#cdc028" d="M2320 7997l67-24 53-15-67 24z"/>
<path fill="#f7f51b" d="M3634 7642l52-15 67 11-53 14z"/>
<path fill="#debd29" d="M2440 7958l66-25 53-15-67 24z"/>
<path fill="#efba35" d="M2559 7918l67-25 52-15-66 24z"/>
<path fill="#2e84f8" d="M5228 8737l53-14 67 73-53 15z"/>
<path fill="#f6f21e" d="M3514 7654l53-14 67 2-53 14z"/>
<path fill="#fabb3d" d="M2678 7878l67-25 53-15-67 24z"/>
<path fill="#f5ba3a" d="M4364 7904l53-14 67 98-53 14z"/>
<path fill="#fec438" d="M2798 7838l67-23 52-15-67 23z"/>
<path fill="#f5ee21" d="M3395 7674l52-14 67-6-52 15z"/>
<path fill="#fdcd32" d="M2917 7800l67-22 53-15-67 22z"/>
<path fill="#9dc943" d="M4550 8093l53-14 67 110-53 14z"/>
<path fill="#f5e825" d="M3275 7700l53-15 67-11-53 15z"/>
<path fill="#f9d82c" d="M3037 7763l66-18 53-15-67 19z"/>
<path fill="#f6e028" d="M3156 7730l53-14 66-16-52 14z"/>
<path fill="#465dfa" d="M5534 8905l53-15 66 50-52 15z"/>
<path fill="#35c79b" d="M4737 8299l52-14 67 108-53 15z"/>
<path fill="#f5e626" d="M4059 7712l52-15 67 61-53 14z"/>
<path fill="#0db3d4" d="M4923 8497l52-15 67 98-52 14z"/>
<path fill="#2994ed" d="M5109 8670l53-15 66 82-52 15z"/>
<path fill="#4368fe" d="M5415 8862l52-15 67 58-53 14z"/>
<path fill="#f5ee21" d="M3939 7679l53-15 67 48-53 14z"/>
<path fill="#4746eb" d="M5840 9008l52-15 67 35-53 14z"/>
<path fill="#fec834" d="M4245 7832l52-14 67 86-52 15z"/>
<path fill="#d0bf27" d="M4431 8002l53-14 66 105-52 15z"/>
<path fill="#61cd72" d="M4617 8203l53-14 67 110-53 15z"/>
<path fill="#f7f41c" d="M3820 7659l52-14 67 34-52 14z"/>
<path fill="#10beba" d="M4803 8408l53-15 67 104-53 14z"/>
<path fill="#484cf0" d="M5720 8984l53-15 67 39-53 14z"/>
<path fill="#3876fe" d="M5295 8811l53-15 67 66-53 14z"/>
<path fill="#20a5e3" d="M4990 8594l52-14 67 90-53 14z"/>
<path fill="#54cc7c" d="M1551 8227l53-13 67-17-53 15z"/>
<path fill="#64cd6f" d="M1671 8197l52-16 67-17-53 17z"/>
<path fill="#76cc61" d="M1790 8164l53-17 66-19-52 19z"/>
<path fill="#f8f619" d="M3700 7652l53-14 67 21-53 15z"/>
<path fill="#8bcb51" d="M1909 8128l53-17 67-20-53 18z"/>
<path fill="#f9d82c" d="M4125 7772l53-14 67 74-53 15z"/>
<path fill="#a1c840" d="M2029 8091l52-18 67-21-52 18z"/>
<path fill="#4853f5" d="M5601 8955l52-15 67 44-52 14z"/>
<path fill="#b8c431" d="M2148 8052l67-23 53-16-67 22z"/>
<path fill="#cac129" d="M2268 8013l66-24 53-16-67 24z"/>
<path fill="#f7f51b" d="M3581 7656l53-14 66 10-52 15z"/>
<path fill="#debd29" d="M2387 7973l67-24 52-16-66 25z"/>
<path fill="#efba35" d="M2506 7933l67-24 53-16-67 25z"/>
<path fill="#2e84f8" d="M5176 8752l52-15 67 74-52 14z"/>
<path fill="#f6f21e" d="M3462 7669l52-15 67 2-53 15z"/>
<path fill="#fabb3d" d="M2626 7893l67-24 52-16-67 25z"/>
<path fill="#f5ba3a" d="M4312 7919l52-15 67 98-53 15z"/>
<path fill="#fec438" d="M2745 7853l67-23 53-15-67 23z"/>
<path fill="#f5ee21" d="M3342 7689l53-15 67-5-53 14z"/>
<path fill="#fdcd32" d="M2865 7815l66-22 53-15-67 22z"/>
<path fill="#9dc943" d="M4498 8108l52-15 67 110-52 15z"/>
<path fill="#f5e825" d="M3223 7714l52-14 67-11-52 14z"/>
<path fill="#f9d62d" d="M2984 7778l67-19 52-14-66 18z"/>
<path fill="#f6e028" d="M3103 7745l53-15 67-16-53 15z"/>
<path fill="#465dfa" d="M5481 8919l53-14 67 50-53 14z"/>
<path fill="#35c79b" d="M4684 8314l53-15 66 109-52 14z"/>
<path fill="#f5e626" d="M4006 7726l53-14 66 60-52 15z"/>
<path fill="#0db3d4" d="M4870 8511l53-14 67 97-53 15z"/>
<path fill="#4741e5" d="M5906 9042l53-14 67 31-53 14z"/>
<path fill="#2994ed" d="M5056 8684l53-14 67 82-53 14z"/>
<path fill="#4368fe" d="M5362 8876l53-14 66 57-52 15z"/>
<path fill="#f5ee21" d="M3887 7693l52-14 67 47-53 15z"/>
<path fill="#4746eb" d="M5787 9022l53-14 66 34-52 15z"/>
<path fill="#fec834" d="M4192 7847l53-15 67 87-53 14z"/>
<path fill="#d0bf27" d="M4378 8017l53-15 67 106-53 14z"/>
<path fill="#61cd72" d="M4565 8218l52-15 67 111-53 14z"/>
<path fill="#f7f41c" d="M3767 7674l53-15 67 34-53 15z"/>
<path fill="#10beba" d="M4751 8422l52-14 67 103-52 15z"/>
<path fill="#484cf0" d="M5668 8998l52-14 67 38-53 15z"/>
<path fill="#3876fe" d="M5243 8825l52-14 67 65-53 15z"/>
<path fill="#64cd6f" d="M1618 8212l53-15 66-16-52 17z"/>
<path fill="#20a5e3" d="M4937 8609l53-15 66 90-52 15z"/>
<path fill="#54cc7c" d="M1499 8240l52-13 67-15-53 15z"/>
<path fill="#76cc61" d="M1737 8181l53-17 67-17-53 18z"/>
<path fill="#88cb53" d="M1857 8147l52-19 67-19-52 20z"/>
<path fill="#f8f619" d="M3648 7667l52-15 67 22-52 14z"/>
<path fill="#f9d82c" d="M4073 7787l52-15 67 75-52 14z"/>
<path fill="#a1c840" d="M1976 8109l53-18 67-21-53 19z"/>
<path fill="#b5c533" d="M2096 8070l52-18 67-23-53 19z"/>
<path fill="#4853f5" d="M5548 8969l53-14 67 43-53 15z"/>
<path fill="#cac129" d="M2215 8029l67-23 52-17-66 24z"/>
<path fill="#f7f51b" d="M3528 7671l53-15 67 11-53 14z"/>
<path fill="#debd29" d="M2334 7989l67-24 53-16-67 24z"/>
<path fill="#ecba33" d="M2454 7949l67-24 52-16-67 24z"/>
<path fill="#2e84f8" d="M5123 8766l53-14 67 73-53 15z"/>
<path fill="#f6f21e" d="M3409 7683l53-14 66 2-52 14z"/>
<path fill="#fabb3d" d="M2573 7909l67-24 53-16-67 24z"/>
<path fill="#f5ba3a" d="M4259 7933l53-14 66 98-52 14z"/>
<path fill="#fec438" d="M2693 7869l66-23 53-16-67 23z"/>
<path fill="#f5ee21" d="M3290 7703l52-14 67-6-53 15z"/>
<path fill="#463ddf" d="M5973 9073l53-14 67 29-53 14z"/>
<path fill="#fdcd32" d="M2812 7830l67-21 52-16-66 22z"/>
<path fill="#9dc943" d="M4445 8122l53-14 67 110-53 14z"/>
<path fill="#f5e825" d="M3170 7729l53-15 67-11-53 15z"/>
<path fill="#f9d62d" d="M2931 7793l67-19 53-15-67 19z"/>
<path fill="#f6e028" d="M3051 7759l52-14 67-16-52 15z"/>
<path fill="#465dfa" d="M5429 8934l52-15 67 50-52 15z"/>
<path fill="#35c79b" d="M4631 8328l53-14 67 108-53 15z"/>
<path fill="#f5e626" d="M3953 7741l53-15 67 61-53 14z"/>
<path fill="#0db3d4" d="M4818 8526l52-15 67 98-53 14z"/>
<path fill="#4741e5" d="M5854 9057l52-15 67 31-52 15z"/>
<path fill="#2994ed" d="M5004 8699l52-15 67 82-52 15z"/>
<path fill="#4368fe" d="M5309 8891l53-15 67 58-53 14z"/>
<path fill="#f5ee21" d="M3834 7708l53-15 66 48-52 14z"/>
<path fill="#4746eb" d="M5734 9037l53-15 67 35-53 14z"/>
<path fill="#fec834" d="M4140 7861l52-14 67 86-53 15z"/>
<path fill="#d0bf27" d="M4326 8031l52-14 67 105-52 15z"/>
<path fill="#61cd72" d="M4512 8232l53-14 66 110-52 15z"/>
<path fill="#f7f41c" d="M3715 7688l52-14 67 34-53 14z"/>
<path fill="#10beba" d="M4698 8437l53-15 67 104-53 14z"/>
<path fill="#484cf0" d="M5615 9013l53-15 66 39-52 14z"/>
<path fill="#3876fe" d="M5190 8840l53-15 66 66-52 14z"/>
<path fill="#64cd6f" d="M1565 8227l53-15 67-14-53 17z"/>
<path fill="#72cd64" d="M1685 8198l52-17 67-16-52 18z"/>
<path fill="#20a5e3" d="M4884 8623l53-14 67 90-53 14z"/>
<path fill="#57cc7a" d="M1446 8251l53-11 66-13-52 14z"/>
<path fill="#88cb53" d="M1804 8165l53-18 67-18-53 19z"/>
<path fill="#f8f619" d="M3595 7681l53-14 67 21-53 15z"/>
<path fill="#9dc943" d="M1924 8129l52-20 67-20-53 21z"/>
<path fill="#f9d82c" d="M4020 7801l53-14 67 74-53 15z"/>
<path fill="#b1c635" d="M2043 8089l53-19 66-22-52 21z"/>
<path fill="#4853f5" d="M5496 8984l52-15 67 44-53 14z"/>
<path fill="#c8c129" d="M2162 8048l53-19 67-23-53 20z"/>
<path fill="#4639d9" d="M6040 9102l53-14 66 27-52 14z"/>
<path fill="#f7f51b" d="M3476 7685l52-14 67 10-52 15z"/>
<path fill="#dbbd29" d="M2282 8006l67-24 52-17-67 24z"/>
<path fill="#ecba33" d="M2401 7965l67-24 53-16-67 24z"/>
<path fill="#2e84f8" d="M5071 8781l52-15 67 74-53 14z"/>
<path fill="#fabb3d" d="M2521 7925l66-24 53-16-67 24z"/>
<path fill="#f6f21e" d="M3356 7698l53-15 67 2-53 15z"/>
<path fill="#f5ba3a" d="M4206 7948l53-15 67 98-53 15z"/>
<path fill="#fec438" d="M2640 7885l67-23 52-16-66 23z"/>
<path fill="#f5ee21" d="M3237 7718l53-15 66-5-52 14z"/>
<path fill="#fdcd32" d="M2759 7846l67-22 53-15-67 21z"/>
<path fill="#463ddf" d="M5921 9088l52-15 67 29-53 15z"/>
<path fill="#9dc943" d="M4393 8137l52-15 67 110-53 15z"/>
<path fill="#f5e825" d="M3118 7744l52-15 67-11-53 14z"/>
<path fill="#f9d62d" d="M2879 7809l52-16 67-19-52 16z"/>
<path fill="#f6e028" d="M2998 7774l53-15 67-15-53 15z"/>
<path fill="#465dfa" d="M5376 8948l53-14 67 50-53 14z"/>
<path fill="#35c79b" d="M4579 8343l52-15 67 109-52 14z"/>
<path fill="#f5e626" d="M3901 7755l52-14 67 60-52 15z"/>
<path fill="#0db3d4" d="M4765 8540l53-14 66 97-52 15z"/>
<path fill="#4741e5" d="M5801 9071l53-14 67 31-53 14z"/>
<path fill="#2994ed" d="M4951 8713l53-14 67 82-53 14z"/>
<path fill="#4368fe" d="M5257 8905l52-14 67 57-52 15z"/>
<path fill="#f5ee21" d="M3781 7722l53-14 67 47-53 15z"/>
<path fill="#4746eb" d="M5682 9051l52-14 67 34-52 15z"/>
<path fill="#fec834" d="M4087 7876l53-15 66 87-52 14z"/>
<path fill="#d0bf27" d="M4273 8046l53-15 67 106-53 14z"/>
<path fill="#61cd72" d="M4459 8247l53-15 67 111-53 14z"/>
<path fill="#f7f41c" d="M3662 7703l53-15 66 34-52 15z"/>
<path fill="#10beba" d="M4646 8451l52-14 67 103-53 15z"/>
<path fill="#484cf0" d="M5562 9027l53-14 67 38-53 15z"/>
<path fill="#3876fe" d="M5137 8854l53-14 67 65-53 15z"/>
<path fill="#4535d2" d="M6107 9129l52-14 67 26-52 15z"/>
<path fill="#72cd64" d="M1632 8215l53-17 67-15-53 19z"/>
<path fill="#64cd6f" d="M1513 8241l52-14 67-12-52 16z"/>
<path fill="#84cc56" d="M1752 8183l52-18 67-17-53 20z"/>
<path fill="#20a5e3" d="M4832 8638l52-15 67 90-52 15z"/>
<path fill="#57cc7a" d="M1393 8261l53-10 67-10-53 14z"/>
<path fill="#9ac946" d="M1871 8148l53-19 66-19-52 21z"/>
<path fill="#f8f619" d="M3543 7696l52-15 67 22-53 14z"/>
<path fill="#f9d82c" d="M3968 7816l52-15 67 75-53 14z"/>
<path fill="#aec637" d="M1990 8110l53-21 67-20-53 22z"/>
<path fill="#4853f5" d="M5443 8998l53-14 66 43-52 15z"/>
<path fill="#c5c22a" d="M2110 8069l52-21 67-22-52 22z"/>
<path fill="#4639d9" d="M5987 9117l53-15 67 27-53 15z"/>
<path fill="#d9be28" d="M2229 8026l53-20 67-24-53 21z"/>
<path fill="#f7f51b" d="M3423 7700l53-15 67 11-53 14z"/>
<path fill="#ecba33" d="M2349 7982l66-24 53-17-67 24z"/>
<path fill="#fabb3d" d="M2468 7941l67-24 52-16-66 24z"/>
<path fill="#2e84f8" d="M5018 8795l53-14 66 73-52 15z"/>
<path fill="#f6f21e" d="M3304 7712l52-14 67 2-52 14z"/>
<path fill="#f5ba3a" d="M4154 7962l52-14 67 98-52 14z"/>
<path fill="#fec239" d="M2587 7901l67-23 53-16-67 23z"/>
<path fill="#f5ee21" d="M3184 7732l53-14 67-6-53 15z"/>
<path fill="#fdcd32" d="M2707 7862l67-22 52-16-67 22z"/>
<path fill="#463ddf" d="M5868 9102l53-14 66 29-52 14z"/>
<path fill="#9dc943" d="M4340 8151l53-14 66 110-52 14z"/>
<path fill="#f9d62d" d="M2826 7824l53-15 67-19-53 16z"/>
<path fill="#f5e825" d="M3065 7759l53-15 66-12-52 16z"/>
<path fill="#f6e028" d="M2946 7790l52-16 67-15-53 15z"/>
<path fill="#465dfa" d="M5324 8963l52-15 67 50-53 15z"/>
<path fill="#35c79b" d="M4526 8357l53-14 67 108-53 15z"/>
<path fill="#f5e626" d="M3848 7770l53-15 67 61-53 14z"/>
<path fill="#0db3d4" d="M4712 8555l53-15 67 98-53 14z"/>
<path fill="#4741e5" d="M5749 9086l52-15 67 31-53 15z"/>
<path fill="#2994ed" d="M4899 8728l52-15 67 82-53 15z"/>
<path fill="#4368fe" d="M5204 8920l53-15 67 58-53 14z"/>
<path fill="#f5ee21" d="M3729 7737l52-15 67 48-52 14z"/>
<path fill="#4746eb" d="M5629 9066l53-15 67 35-53 14z"/>
<path fill="#fec834" d="M4034 7890l53-14 67 86-53 15z"/>
<path fill="#d0bf27" d="M4221 8060l52-14 67 105-53 15z"/>
<path fill="#4433cd" d="M6174 9156l52-15 67 26-53 14z"/>
<path fill="#61cd72" d="M4407 8261l52-14 67 110-52 15z"/>
<path fill="#f7f41c" d="M3609 7717l53-14 67 34-53 14z"/>
<path fill="#10beba" d="M4593 8466l53-15 66 104-52 14z"/>
<path fill="#484cf0" d="M5510 9042l52-15 67 39-52 14z"/>
<path fill="#3876fe" d="M5085 8869l52-15 67 66-52 14z"/>
<path fill="#72cd64" d="M1580 8231l52-16 67-13-53 20z"/>
<path fill="#4535d2" d="M6054 9144l53-15 67 27-53 14z"/>
<path fill="#81cc59" d="M1699 8202l53-19 66-15-52 22z"/>
<path fill="#64cd6f" d="M1460 8255l53-14 67-10-53 18z"/>
<path fill="#96ca48" d="M1818 8168l53-20 67-17-53 22z"/>
<path fill="#20a5e3" d="M4779 8652l53-14 67 90-53 14z"/>
<path fill="#abc739" d="M1938 8131l52-21 67-19-52 23z"/>
<path fill="#5acc77" d="M1341 8271l52-10 67-6-52 13z"/>
<path fill="#f8f619" d="M3490 7710l53-14 66 21-52 15z"/>
<path fill="#f9d82c" d="M3915 7830l53-14 66 74-52 15z"/>
<path fill="#c1c32c" d="M2057 8091l53-22 67-21-53 23z"/>
<path fill="#4853f5" d="M5390 9013l53-15 67 44-53 14z"/>
<path fill="#d6be28" d="M2177 8048l52-22 67-23-53 23z"/>
<path fill="#4639d9" d="M5935 9131l52-14 67 27-52 14z"/>
<path fill="#f7f51b" d="M3371 7714l52-14 67 10-53 15z"/>
<path fill="#eaba31" d="M2296 8003l53-21 66-24-52 22z"/>
<path fill="#f9bb3d" d="M2415 7958l67-23 53-18-67 24z"/>
<path fill="#2e84f8" d="M4965 8810l53-15 67 74-53 14z"/>
<path fill="#f6f21e" d="M3251 7727l53-15 67 2-53 15z"/>
<path fill="#f5ba3a" d="M4101 7977l53-15 67 98-53 15z"/>
<path fill="#fec239" d="M2535 7917l67-23 52-16-67 23z"/>
<path fill="#fdcb32" d="M2654 7878l67-21 53-17-67 22z"/>
<path fill="#f5ee21" d="M3132 7748l52-16 67-5-52 15z"/>
<path fill="#463ddf" d="M5815 9117l53-15 67 29-53 15z"/>
<path fill="#f9d62d" d="M2774 7840l52-16 67-18-53 16z"/>
<path fill="#f5e825" d="M3012 7774l53-15 67-11-53 15z"/>
<path fill="#9dc943" d="M4287 8166l53-15 67 110-53 15z"/>
<path fill="#f6de29" d="M2893 7806l53-16 66-16-52 16z"/>
<path fill="#465dfa" d="M5271 8977l53-14 66 50-52 14z"/>
<path fill="#35c79b" d="M4474 8372l52-15 67 109-53 14z"/>
<path fill="#f5e626" d="M3796 7784l52-14 67 60-53 15z"/>
<path fill="#0db3d4" d="M4660 8569l52-14 67 97-52 15z"/>
<path fill="#4741e5" d="M5696 9100l53-14 66 31-52 14z"/>
<path fill="#2994ed" d="M4846 8742l53-14 66 82-52 14z"/>
<path fill="#4368fe" d="M5152 8934l52-14 67 57-53 15z"/>
<path fill="#f5ee21" d="M3676 7751l53-14 67 47-53 15z"/>
<path fill="#4331c8" d="M6240 9181l53-14 67 25-53 14z"/>
<path fill="#4746eb" d="M5577 9080l52-14 67 34-53 15z"/>
<path fill="#fec834" d="M3982 7905l52-15 67 87-52 14z"/>
<path fill="#d0bf27" d="M4168 8075l53-15 66 106-52 14z"/>
<path fill="#4433cd" d="M6121 9170l53-14 66 25-52 15z"/>
<path fill="#61cd72" d="M4354 8276l53-15 67 111-53 14z"/>
<path fill="#f7f41c" d="M3557 7732l52-15 67 34-52 15z"/>
<path fill="#10beba" d="M4540 8480l53-14 67 103-53 15z"/>
<path fill="#484cf0" d="M5457 9056l53-14 67 38-53 15z"/>
<path fill="#3876fe" d="M5032 8883l53-14 67 65-53 15z"/>
<path fill="#7dcc5b" d="M1646 8222l53-20 67-12-53 22z"/>
<path fill="#6ecd66" d="M1527 8249l53-18 66-9-52 21z"/>
<path fill="#93ca4b" d="M1766 8190l52-22 67-15-52 24z"/>
<path fill="#4535d2" d="M6002 9158l52-14 67 26-53 15z"/>
<path fill="#64cd6f" d="M1408 8268l52-13 67-6-53 16z"/>
<path fill="#a7c73c" d="M1885 8153l53-22 67-17-53 23z"/>
<path fill="#20a5e3" d="M4727 8667l52-15 67 90-53 15z"/>
<path fill="#f8f619" d="M3437 7725l53-15 67 22-53 14z"/>
<path fill="#bbc42f" d="M2005 8114l52-23 67-20-53 25z"/>
<path fill="#5ecc74" d="M1288 8281l53-10 67-3-53 13z"/>
<path fill="#f9d82c" d="M3862 7845l53-15 67 75-53 14z"/>
<path fill="#d0bf27" d="M2124 8071l53-23 66-22-52 26z"/>
<path fill="#4853f5" d="M5338 9027l52-14 67 43-52 15z"/>
<path fill="#4639d9" d="M5882 9146l53-15 67 27-53 15z"/>
<path fill="#e5bb2d" d="M2243 8026l53-23 67-23-53 25z"/>
<path fill="#f7f51b" d="M3318 7729l53-15 66 11-52 15z"/>
<path fill="#f7ba3c" d="M2363 7980l52-22 67-23-52 23z"/>
<path fill="#f6f21e" d="M3199 7742l52-15 67 2-53 15z"/>
<path fill="#2e84f8" d="M4913 8824l52-14 67 73-52 15z"/>
<path fill="#fec13a" d="M2482 7935l53-18 67-23-53 19z"/>
<path fill="#f5ba3a" d="M4049 7991l52-14 67 98-53 14z"/>
<path fill="#fdcb32" d="M2602 7894l52-16 67-21-53 17z"/>
<path fill="#f5ee21" d="M3079 7763l53-15 67-6-53 16z"/>
<path fill="#463ddf" d="M5763 9131l52-14 67 29-52 14z"/>
<path fill="#fad52e" d="M2721 7857l53-17 66-18-52 16z"/>
<path fill="#f5e626" d="M2960 7790l52-16 67-11-52 16z"/>
<path fill="#f6de29" d="M2840 7822l53-16 67-16-53 17z"/>
<path fill="#9dc943" d="M4235 8180l52-14 67 110-52 14z"/>
<path fill="#465dfa" d="M5218 8992l53-15 67 50-53 15z"/>
<path fill="#35c79b" d="M4421 8386l53-14 66 108-52 15z"/>
<path fill="#f5e626" d="M3743 7799l53-15 66 61-52 14z"/>
<path fill="#0db3d4" d="M4607 8584l53-15 67 98-53 14z"/>
<path fill="#4741e5" d="M5643 9115l53-15 67 31-53 15z"/>
<path fill="#422fc2" d="M6307 9206l53-14 67 25-53 14z"/>
<path fill="#2994ed" d="M4793 8757l53-15 67 82-53 15z"/>
<path fill="#4368fe" d="M5099 8949l53-15 66 58-52 14z"/>
<path fill="#f5ee21" d="M3624 7766l52-15 67 48-53 14z"/>
<path fill="#4331c8" d="M6188 9196l52-15 67 25-52 15z"/>
<path fill="#4746eb" d="M5524 9095l53-15 66 35-52 14z"/>
<path fill="#fec834" d="M3929 7919l53-14 67 86-53 15z"/>
<path fill="#d0bf27" d="M4115 8089l53-14 67 105-53 15z"/>
<path fill="#4433cd" d="M6068 9185l53-15 67 26-53 14z"/>
<path fill="#61cd72" d="M4302 8290l52-14 67 110-53 15z"/>
<path fill="#f7f41c" d="M3504 7746l53-14 67 34-53 14z"/>
<path fill="#10beba" d="M4488 8495l52-15 67 104-52 14z"/>
<path fill="#484cf0" d="M5405 9071l52-15 67 39-53 14z"/>
<path fill="#3876fe" d="M4980 8898l52-15 67 66-53 14z"/>
<path fill="#79cc5e" d="M1594 8243l52-21 67-10-52 25z"/>
<path fill="#8bcb51" d="M1713 8212l53-22 67-13-53 26z"/>
<path fill="#6ecd66" d="M1474 8265l53-16 67-6-53 20z"/>
<path fill="#a1c840" d="M1833 8177l52-24 67-16-53 27z"/>
<path fill="#4535d2" d="M5949 9173l53-15 66 27-52 14z"/>
<path fill="#64cd6f" d="M1355 8281l53-13 66-3-52 16z"/>
<path fill="#b8c431" d="M1952 8137l53-23 66-18-52 25z"/>
<path fill="#20a5e3" d="M4674 8681l53-14 66 90-52 14z"/>
<path fill="#f8f619" d="M3385 7740l52-15 67 21-52 15z"/>
<path fill="#cdc028" d="M2071 8096l53-25 67-19-53 26z"/>
<path fill="#f9d82c" d="M3810 7859l52-14 67 74-52 15z"/>
<path fill="#61cd72" d="M1236 8290l52-9 67 0-53 13z"/>
<path fill="#4853f5" d="M5285 9042l53-15 67 44-53 14z"/>
<path fill="#e0bc2b" d="M2191 8052l52-26 67-21-52 27z"/>
<path fill="#4639d9" d="M5830 9160l52-14 67 27-53 14z"/>
<path fill="#f7f51b" d="M3265 7744l53-15 67 11-53 15z"/>
<path fill="#f3ba38" d="M2310 8005l53-25 67-22-53 26z"/>
<path fill="#fec03b" d="M2430 7958l52-23 67-22-53 23z"/>
<path fill="#f6f21e" d="M3146 7758l53-16 66 2-52 16z"/>
<path fill="#2e84f8" d="M4860 8839l53-15 67 74-53 14z"/>
<path fill="#f5ba3a" d="M3996 8006l53-15 66 98-52 15z"/>
<path fill="#feca33" d="M2549 7913l53-19 66-20-52 18z"/>
<path fill="#f5ee21" d="M3027 7779l52-16 67-5-53 16z"/>
<path fill="#fad52e" d="M2668 7874l53-17 67-19-53 17z"/>
<path fill="#463ddf" d="M5710 9146l53-15 67 29-53 15z"/>
<path fill="#f5e626" d="M2907 7807l53-17 67-11-53 17z"/>
<path fill="#f6de29" d="M2788 7838l52-16 67-15-52 16z"/>
<path fill="#9dc943" d="M4182 8195l53-15 67 110-53 15z"/>
<path fill="#412dbd" d="M6374 9231l53-14 66 24-52 14z"/>
<path fill="#465dfa" d="M5166 9006l52-14 67 50-52 14z"/>
<path fill="#35c79b" d="M4368 8401l53-15 67 109-53 14z"/>
<path fill="#f5e626" d="M3690 7813l53-14 67 60-53 15z"/>
<path fill="#0db3d4" d="M4555 8598l52-14 67 97-53 15z"/>
<path fill="#4741e5" d="M5591 9129l52-14 67 31-52 14z"/>
<path fill="#422fc2" d="M6255 9221l52-15 67 25-53 15z"/>
<path fill="#2994ed" d="M4741 8771l52-14 67 82-52 14z"/>
<path fill="#4368fe" d="M5046 8963l53-14 67 57-53 15z"/>
<path fill="#f5ee21" d="M3571 7780l53-14 66 47-52 15z"/>
<path fill="#4331c8" d="M6135 9210l53-14 67 25-53 14z"/>
<path fill="#4746eb" d="M5471 9109l53-14 67 34-53 15z"/>
<path fill="#fec834" d="M3877 7934l52-15 67 87-53 14z"/>
<path fill="#d0bf27" d="M4063 8104l52-15 67 106-52 14z"/>
<path fill="#4433cd" d="M6016 9199l52-14 67 25-52 15z"/>
<path fill="#61cd72" d="M4249 8305l53-15 66 111-52 14z"/>
<path fill="#f7f41c" d="M3452 7761l52-15 67 34-53 15z"/>
<path fill="#10beba" d="M4435 8509l53-14 67 103-53 15z"/>
<path fill="#484cf0" d="M5352 9085l53-14 66 38-52 15z"/>
<path fill="#88cb53" d="M1661 8237l52-25 67-9-53 28z"/>
<path fill="#76cc61" d="M1541 8263l53-20 67-6-53 24z"/>
<path fill="#3876fe" d="M4927 8912l53-14 66 65-52 15z"/>
<path fill="#9ac946" d="M1780 8203l53-26 66-13-52 29z"/>
<path fill="#6bcd69" d="M1422 8281l52-16 67-2-52 19z"/>
<path fill="#b1c635" d="M1899 8164l53-27 67-16-53 29z"/>
<path fill="#4535d2" d="M5896 9187l53-14 67 26-53 15z"/>
<path fill="#67cd6c" d="M1302 8294l53-13 67 0-53 16z"/>
<path fill="#20a5e3" d="M4621 8696l53-15 67 90-53 15z"/>
<path fill="#c8c129" d="M2019 8121l52-25 67-18-52 27z"/>
<path fill="#f8f619" d="M3332 7755l53-15 67 21-53 15z"/>
<path fill="#f9d82c" d="M3757 7874l53-15 67 75-53 14z"/>
<path fill="#dbbd29" d="M2138 8078l53-26 67-20-53 27z"/>
<path fill="#64cd6f" d="M1183 8300l53-10 66 4-52 12z"/>
<path fill="#4853f5" d="M5233 9056l52-14 67 43-53 15z"/>
<path fill="#efba35" d="M2258 8032l52-27 67-21-53 28z"/>
<path fill="#4639d9" d="M5777 9175l53-15 66 27-52 15z"/>
<path fill="#f7f51b" d="M3213 7760l52-16 67 11-52 16z"/>
<path fill="#402bb7" d="M6441 9255l52-14 67 24-52 14z"/>
<path fill="#fdbd3d" d="M2377 7984l53-26 66-22-52 28z"/>
<path fill="#f6f21e" d="M3093 7774l53-16 67 2-53 16z"/>
<path fill="#2e84f8" d="M4808 8853l52-14 67 73-53 15z"/>
<path fill="#fec834" d="M2496 7936l53-23 67-21-53 25z"/>
<path fill="#f5ba3a" d="M3943 8020l53-14 67 98-53 14z"/>
<path fill="#f5ec22" d="M2974 7796l53-17 66-5-52 16z"/>
<path fill="#fbd32e" d="M2616 7892l52-18 67-19-52 19z"/>
<path fill="#f5e626" d="M2855 7823l52-16 67-11-53 17z"/>
<path fill="#f7dd2a" d="M2735 7855l53-17 67-15-53 17z"/>
<path fill="#463ddf" d="M5658 9160l52-14 67 29-53 14z"/>
<path fill="#9dc943" d="M4130 8209l52-14 67 110-53 14z"/>
<path fill="#412dbd" d="M6321 9246l53-15 67 24-53 15z"/>
<path fill="#465dfa" d="M5113 9021l53-15 67 50-53 15z"/>
<path fill="#35c79b" d="M4316 8415l52-14 67 108-52 15z"/>
<path fill="#f5e626" d="M3638 7828l52-15 67 61-52 14z"/>
<path fill="#0db3d4" d="M4502 8613l53-15 66 98-52 14z"/>
<path fill="#4741e5" d="M5538 9144l53-15 67 31-53 15z"/>
<path fill="#422fc2" d="M6202 9235l53-14 66 25-52 14z"/>
<path fill="#2994ed" d="M4688 8786l53-15 67 82-53 15z"/>
<path fill="#4368fe" d="M4994 8978l52-15 67 58-52 14z"/>
<path fill="#f5ee21" d="M3518 7795l53-15 67 48-53 14z"/>
<path fill="#4331c8" d="M6083 9225l52-15 67 25-53 15z"/>
<path fill="#4746eb" d="M5419 9124l52-15 67 35-52 14z"/>
<path fill="#fec834" d="M3824 7948l53-14 66 86-52 15z"/>
<path fill="#d0bf27" d="M4010 8118l53-14 67 105-53 15z"/>
<path fill="#4433cd" d="M5963 9214l53-15 67 26-53 14z"/>
<path fill="#61cd72" d="M4196 8319l53-14 67 110-53 15z"/>
<path fill="#81cc59" d="M1608 8261l53-24 66-6-52 27z"/>
<path fill="#93ca4b" d="M1727 8231l53-28 67-10-53 31z"/>
<path fill="#f7f41c" d="M3399 7776l53-15 66 34-52 15z"/>
<path fill="#72cd64" d="M1489 8282l52-19 67-2-53 22z"/>
<path fill="#10beba" d="M4383 8524l52-15 67 104-53 14z"/>
<path fill="#484cf0" d="M5299 9100l53-15 67 39-53 14z"/>
<path fill="#a7c73c" d="M1847 8193l52-29 67-14-52 32z"/>
<path fill="#3876fe" d="M4874 8927l53-15 67 66-53 14z"/>
<path fill="#6bcd69" d="M1369 8297l53-16 67 1-53 19z"/>
<path fill="#bec32e" d="M1966 8150l53-29 67-16-53 32z"/>
<path fill="#4535d2" d="M5844 9202l52-15 67 27-52 14z"/>
<path fill="#67cd6c" d="M1250 8306l52-12 67 3-52 15z"/>
<path fill="#20a5e3" d="M4569 8710l52-14 67 90-52 14z"/>
<path fill="#d6be28" d="M2086 8105l52-27 67-19-53 30z"/>
<path fill="#f7f51b" d="M3280 7771l52-16 67 21-53 16z"/>
<path fill="#3f29b1" d="M6508 9279l52-14 67 23-53 15z"/>
<path fill="#f9d82c" d="M3705 7888l52-14 67 74-53 15z"/>
<path fill="#eaba31" d="M2205 8059l53-27 66-20-52 30z"/>
<path fill="#64cd6f" d="M1130 8311l53-11 67 6-53 12z"/>
<path fill="#4853f5" d="M5180 9071l53-15 66 44-52 14z"/>
<path fill="#4639d9" d="M5724 9189l53-14 67 27-53 14z"/>
<path fill="#fabb3d" d="M2324 8012l53-28 67-20-53 30z"/>
<path fill="#f7f51b" d="M3160 7776l53-16 67 11-53 16z"/>
<path fill="#402bb7" d="M6388 9270l53-15 67 24-53 15z"/>
<path fill="#fec537" d="M2444 7964l52-28 67-19-52 28z"/>
<path fill="#f6f11f" d="M3041 7790l52-16 67 2-52 16z"/>
<path fill="#2e84f8" d="M4755 8868l53-15 66 74-52 14z"/>
<path fill="#f5ba3a" d="M3891 8035l52-15 67 98-52 15z"/>
<path fill="#fbd22f" d="M2563 7917l53-25 67-18-53 26z"/>
<path fill="#f5ec22" d="M2921 7813l53-17 67-6-53 17z"/>
<path fill="#f7dd2a" d="M2683 7874l52-19 67-15-53 20z"/>
<path fill="#f5e526" d="M2802 7840l53-17 66-10-52 17z"/>
<path fill="#463ddf" d="M5605 9175l53-15 66 29-52 15z"/>
<path fill="#9dc943" d="M4077 8224l53-15 66 110-52 15z"/>
<path fill="#412dbd" d="M6269 9260l52-14 67 24-52 14z"/>
<path fill="#465dfa" d="M5061 9035l52-14 67 50-53 14z"/>
<path fill="#35c79b" d="M4263 8430l53-15 67 109-53 14z"/>
<path fill="#f5e526" d="M3585 7842l53-14 67 60-53 15z"/>
<path fill="#0db3d4" d="M4449 8627l53-14 67 97-53 15z"/>
<path fill="#4741e5" d="M5486 9158l52-14 67 31-53 14z"/>
<path fill="#422fc2" d="M6149 9250l53-15 67 25-53 15z"/>
<path fill="#2994ed" d="M4636 8800l52-14 67 82-53 14z"/>
<path fill="#4368fe" d="M4941 8992l53-14 67 57-53 15z"/>
<path fill="#f5ee21" d="M3466 7810l52-15 67 47-52 15z"/>
<path fill="#4331c8" d="M6030 9239l53-14 66 25-52 14z"/>
<path fill="#4746eb" d="M5366 9138l53-14 67 34-53 15z"/>
<path fill="#fec834" d="M3771 7963l53-15 67 87-53 14z"/>
<path fill="#8bcb51" d="M1675 8258l52-27 67-7-52 32z"/>
<path fill="#d0bf27" d="M3958 8133l52-15 67 106-53 14z"/>
<path fill="#7dcc5b" d="M1555 8283l53-22 67-3-53 26z"/>
<path fill="#4433cd" d="M5911 9228l52-14 67 25-53 15z"/>
<path fill="#9dc943" d="M1794 8224l53-31 67-11-53 36z"/>
<path fill="#61cd72" d="M4144 8334l52-15 67 111-52 14z"/>
<path fill="#72cd64" d="M1436 8301l53-19 66 1-52 23z"/>
<path fill="#f7f41c" d="M3346 7792l53-16 67 34-53 16z"/>
<path fill="#10beba" d="M4330 8538l53-14 66 103-52 15z"/>
<path fill="#484cf0" d="M5247 9114l52-14 67 38-52 15z"/>
<path fill="#b5c533" d="M1914 8182l52-32 67-13-53 35z"/>
<path fill="#6bcd69" d="M1317 8312l52-15 67 4-53 18z"/>
<path fill="#3876fe" d="M4822 8941l52-14 67 65-52 15z"/>
<path fill="#cdc028" d="M2033 8137l53-32 66-16-52 34z"/>
<path fill="#4535d2" d="M5791 9216l53-14 67 26-53 15z"/>
<path fill="#67cd6c" d="M1197 8318l53-12 67 6-53 14z"/>
<path fill="#20a5e3" d="M4516 8725l53-15 67 90-53 15z"/>
<path fill="#e3bc2c" d="M2152 8089l53-30 67-17-53 31z"/>
<path fill="#f7f51b" d="M3227 7787l53-16 66 21-52 16z"/>
<path fill="#3f29b1" d="M6455 9294l53-15 66 24-52 14z"/>
<path fill="#f9d82c" d="M3652 7903l53-15 66 75-52 14z"/>
<path fill="#f5ba3a" d="M2272 8042l52-30 67-18-52 31z"/>
<path fill="#67cd6c" d="M1078 8322l52-11 67 7-52 13z"/>
<path fill="#4853f5" d="M5127 9085l53-14 67 43-53 15z"/>
<path fill="#4639d9" d="M5672 9204l52-15 67 27-52 15z"/>
<path fill="#f7f41c" d="M3108 7792l52-16 67 11-53 16z"/>
<path fill="#fec13a" d="M2391 7994l53-30 67-19-53 32z"/>
<path fill="#402bb7" d="M6336 9284l52-14 67 24-53 14z"/>
<path fill="#fdcd32" d="M2511 7945l52-28 67-17-53 30z"/>
<path fill="#f6f11f" d="M2988 7807l53-17 67 2-53 17z"/>
<path fill="#2e84f8" d="M4702 8882l53-14 67 73-53 15z"/>
<path fill="#f5ba3a" d="M3838 8049l53-14 67 98-53 14z"/>
<path fill="#f8d92b" d="M2630 7900l53-26 66-14-52 26z"/>
<path fill="#f5eb23" d="M2869 7830l52-17 67-6-52 18z"/>
<path fill="#f5e327" d="M2749 7860l53-20 67-10-53 19z"/>
<path fill="#463ddf" d="M5552 9189l53-14 67 29-53 14z"/>
<path fill="#9dc943" d="M4024 8238l53-14 67 110-53 14z"/>
<path fill="#412dbd" d="M6216 9275l53-15 67 24-53 15z"/>
<path fill="#465dfa" d="M5008 9050l53-15 66 50-52 15z"/>
<path fill="#35c79b" d="M4211 8444l52-14 67 108-53 15z"/>
<path fill="#f5e526" d="M3533 7857l52-15 67 61-53 15z"/>
<path fill="#0db3d4" d="M4397 8642l52-15 67 98-52 14z"/>
<path fill="#4741e5" d="M5433 9173l53-15 66 31-52 15z"/>
<path fill="#422fc2" d="M6097 9264l52-14 67 25-52 14z"/>
<path fill="#2994ed" d="M4583 8815l53-15 66 82-52 15z"/>
<path fill="#4368fe" d="M4889 9007l52-15 67 58-53 14z"/>
<path fill="#f5ee21" d="M3413 7826l53-16 67 47-53 16z"/>
<path fill="#4331c8" d="M5977 9254l53-15 67 25-53 15z"/>
<path fill="#4746eb" d="M5314 9153l52-15 67 35-53 14z"/>
<path fill="#fec735" d="M3719 7977l52-14 67 86-52 15z"/>
<path fill="#84cc56" d="M1622 8284l53-26 67-2-53 29z"/>
<path fill="#93ca4b" d="M1742 8256l52-32 67-6-53 36z"/>
<path fill="#76cc61" d="M1503 8306l52-23 67 1-52 26z"/>
<path fill="#abc739" d="M1861 8218l53-36 66-10-52 40z"/>
<path fill="#d0bf27" d="M3905 8147l53-14 66 105-52 15z"/>
<path fill="#4433cd" d="M5858 9243l53-15 66 26-52 14z"/>
<path fill="#6ecd66" d="M1383 8319l53-18 67 5-53 19z"/>
<path fill="#61cd72" d="M4091 8348l53-14 67 110-53 15z"/>
<path fill="#f7f41c" d="M3294 7808l52-16 67 34-52 16z"/>
<path fill="#c1c32c" d="M1980 8172l53-35 67-14-53 39z"/>
<path fill="#10beba" d="M4277 8553l53-15 67 104-53 14z"/>
<path fill="#484cf0" d="M5194 9129l53-15 67 39-53 14z"/>
<path fill="#6bcd69" d="M1264 8326l53-14 66 7-52 15z"/>
<path fill="#3876fe" d="M4769 8956l53-15 67 66-53 14z"/>
<path fill="#d9be28" d="M2100 8123l52-34 67-16-52 37z"/>
<path fill="#4535d2" d="M5739 9231l52-15 67 27-53 14z"/>
<path fill="#6bcd69" d="M1145 8331l52-13 67 8-53 13z"/>
<path fill="#20a5e3" d="M4464 8739l52-14 67 90-53 14z"/>
<path fill="#efba35" d="M2219 8073l53-31 67-17-53 34z"/>
<path fill="#f7f51b" d="M3174 7803l53-16 67 21-53 17z"/>
<path fill="#3f29b1" d="M6402 9308l53-14 67 23-53 15z"/>
<path fill="#f9d82c" d="M3599 7918l53-15 67 74-53 15z"/>
<path fill="#fdbd3d" d="M2339 8025l52-31 67-17-53 33z"/>
<path fill="#4853f5" d="M5075 9100l52-15 67 44-52 14z"/>
<path fill="#67cd6c" d="M1025 8333l53-11 67 9-53 12z"/>
<path fill="#f7f41c" d="M3055 7809l53-17 66 11-52 17z"/>
<path fill="#4639d9" d="M5619 9218l53-14 67 27-53 14z"/>
<path fill="#fec834" d="M2458 7977l53-32 66-15-52 33z"/>
<path fill="#402bb7" d="M6283 9299l53-15 66 24-52 15z"/>
<path fill="#f6ef20" d="M2936 7825l52-18 67 2-53 18z"/>
<path fill="#fad52e" d="M2577 7930l53-30 67-14-53 31z"/>
<path fill="#2e84f8" d="M4650 8897l52-15 67 74-52 14z"/>
<path fill="#f6e028" d="M2697 7886l52-26 67-11-52 27z"/>
<path fill="#f5e924" d="M2816 7849l53-19 67-5-53 20z"/>
<path fill="#f5ba3a" d="M3786 8064l52-15 67 98-53 15z"/>
<path fill="#463ddf" d="M5500 9204l52-15 67 29-52 15z"/>
<path fill="#9dc943" d="M3972 8253l52-15 67 110-52 15z"/>
<path fill="#412dbd" d="M6164 9289l52-14 67 24-53 14z"/>
<path fill="#465dfa" d="M4955 9064l53-14 67 50-53 14z"/>
<path fill="#35c79b" d="M4158 8459l53-15 66 109-52 14z"/>
<path fill="#f5e526" d="M3480 7873l53-16 66 61-52 16z"/>
<path fill="#0db3d4" d="M4344 8656l53-14 67 97-53 15z"/>
<path fill="#4741e5" d="M5380 9187l53-14 67 31-53 14z"/>
<path fill="#422fc2" d="M6044 9279l53-15 67 25-53 15z"/>
<path fill="#2994ed" d="M4530 8829l53-14 67 82-53 14z"/>
<path fill="#4368fe" d="M4836 9021l53-14 66 57-52 15z"/>
<path fill="#f5ee21" d="M3361 7842l52-16 67 47-53 16z"/>
<path fill="#4331c8" d="M5925 9268l52-14 67 25-52 14z"/>
<path fill="#fec735" d="M3666 7992l53-15 67 87-53 15z"/>
<path fill="#4746eb" d="M5261 9167l53-14 66 34-52 15z"/>
<path fill="#8bcb51" d="M1689 8285l53-29 66-2-52 33z"/>
<path fill="#7dcc5b" d="M1570 8310l52-26 67 1-53 30z"/>
<path fill="#9dc943" d="M1808 8254l53-36 67-6-53 40z"/>
<path fill="#72cd64" d="M1450 8325l53-19 67 4-53 22z"/>
<path fill="#b5c533" d="M1928 8212l52-40 67-10-52 44z"/>
<path fill="#d0bf27" d="M3852 8162l53-15 67 106-53 14z"/>
<path fill="#4433cd" d="M5805 9257l53-14 67 25-53 15z"/>
<path fill="#6ecd66" d="M1331 8334l52-15 67 6-52 17z"/>
<path fill="#61cd72" d="M4039 8363l52-15 67 111-53 14z"/>
<path fill="#f6f21e" d="M3241 7825l53-17 67 34-53 16z"/>
<path fill="#cdc028" d="M2047 8162l53-39 67-13-53 42z"/>
<path fill="#10beba" d="M4225 8567l52-14 67 103-52 15z"/>
<path fill="#484cf0" d="M5142 9143l52-14 67 38-53 15z"/>
<path fill="#6bcd69" d="M1211 8339l53-13 67 8-53 14z"/>
<path fill="#3876fe" d="M4717 8970l52-14 67 65-53 15z"/>
<path fill="#e5bb2d" d="M2167 8110l52-37 67-14-53 39z"/>
<path fill="#4535d2" d="M5686 9245l53-14 66 26-52 15z"/>
<path fill="#20a5e3" d="M4411 8754l53-15 66 90-52 15z"/>
<path fill="#6bcd69" d="M1092 8343l53-12 66 8-52 13z"/>
<path fill="#f7f41c" d="M3122 7820l52-17 67 22-52 17z"/>
<path fill="#f9bb3d" d="M2286 8059l53-34 66-15-52 36z"/>
<path fill="#3f29b1" d="M6350 9323l52-15 67 24-52 14z"/>
<path fill="#f9d82c" d="M3547 7934l52-16 67 74-52 16z"/>
<path fill="#fec438" d="M2405 8010l53-33 67-14-53 34z"/>
<path fill="#4853f5" d="M5022 9114l53-14 67 43-53 15z"/>
<path fill="#6bcd69" d="M973 8345l52-12 67 10-53 12z"/>
<path fill="#f6f21e" d="M3002 7827l53-18 67 11-53 18z"/>
<path fill="#4639d9" d="M5567 9233l52-15 67 27-53 15z"/>
<path fill="#fcd030" d="M2525 7963l52-33 67-13-52 34z"/>
<path fill="#402bb7" d="M6230 9313l53-14 67 24-53 14z"/>
<path fill="#f6ef20" d="M2883 7845l53-20 66 2-52 20z"/>
<path fill="#f7dd2a" d="M2644 7917l53-31 67-10-53 32z"/>
<path fill="#f5e626" d="M2764 7876l52-27 67-4-53 27z"/>
<path fill="#2e84f8" d="M4597 8911l53-14 67 73-53 15z"/>
<path fill="#f5ba3a" d="M3733 8079l53-15 66 98-52 14z"/>
<path fill="#463ddf" d="M5447 9218l53-14 67 29-53 14z"/>
<path fill="#9dc943" d="M3919 8267l53-14 67 110-53 14z"/>
<path fill="#412dbd" d="M6111 9304l53-15 66 24-52 15z"/>
<path fill="#465dfa" d="M4903 9079l52-15 67 50-52 15z"/>
<path fill="#35c79b" d="M4105 8473l53-14 67 108-53 15z"/>
<path fill="#f5e526" d="M3427 7889l53-16 67 61-53 15z"/>
<path fill="#0db3d4" d="M4292 8671l52-15 67 98-53 14z"/>
<path fill="#4741e5" d="M5328 9202l52-15 67 31-52 15z"/>
<path fill="#422fc2" d="M5992 9293l52-14 67 25-53 14z"/>
<path fill="#2994ed" d="M4478 8844l52-15 67 82-52 15z"/>
<path fill="#4368fe" d="M4783 9036l53-15 67 58-53 14z"/>
<path fill="#81cc59" d="M1636 8315l53-30 67 2-53 32z"/>
<path fill="#93ca4b" d="M1756 8287l52-33 67-2-52 36z"/>
<path fill="#f5ee21" d="M3308 7858l53-16 66 47-52 16z"/>
<path fill="#4331c8" d="M5872 9283l53-15 67 25-53 15z"/>
<path fill="#76cc61" d="M1517 8332l53-22 66 5-52 25z"/>
<path fill="#a4c83e" d="M1875 8252l53-40 67-6-53 44z"/>
<path fill="#fec735" d="M3614 8008l52-16 67 87-53 15z"/>
<path fill="#4746eb" d="M5208 9182l53-15 67 35-53 14z"/>
<path fill="#72cd64" d="M1398 8342l52-17 67 7-53 18z"/>
<path fill="#bec32e" d="M1995 8206l52-44 67-10-53 49z"/>
<path fill="#d0bf27" d="M3800 8176l52-14 67 105-52 15z"/>
<path fill="#6ecd66" d="M1278 8348l53-14 67 8-53 15z"/>
<path fill="#4433cd" d="M5753 9272l52-15 67 26-52 14z"/>
<path fill="#d9be28" d="M2114 8152l53-42 66-12-52 46z"/>
<path fill="#61cd72" d="M3986 8377l53-14 66 110-52 15z"/>
<path fill="#f6f21e" d="M3189 7842l52-17 67 33-53 17z"/>
<path fill="#10beba" d="M4172 8582l53-15 67 104-53 14z"/>
<path fill="#484cf0" d="M5089 9158l53-15 66 39-52 14z"/>
<path fill="#6ecd66" d="M1159 8352l52-13 67 9-52 14z"/>
<path fill="#3876fe" d="M4664 8985l53-15 66 66-52 14z"/>
<path fill="#efba35" d="M2233 8098l53-39 67-13-53 42z"/>
<path fill="#4535d2" d="M5633 9260l53-15 67 27-53 14z"/>
<path fill="#f7f41c" d="M3069 7838l53-18 67 22-53 17z"/>
<path fill="#febe3c" d="M2353 8046l52-36 67-13-52 38z"/>
<path fill="#20a5e3" d="M4358 8768l53-14 67 90-53 14z"/>
<path fill="#6ecd66" d="M1039 8355l53-12 67 9-53 13z"/>
<path fill="#3f29b1" d="M6297 9337l53-14 67 23-53 15z"/>
<path fill="#f9d82c" d="M3494 7949l53-15 67 74-53 15z"/>
<path fill="#feca33" d="M2472 7997l53-34 67-12-53 36z"/>
<path fill="#4853f5" d="M4970 9129l52-15 67 44-53 14z"/>
<path fill="#f6f11f" d="M2950 7847l52-20 67 11-52 20z"/>
<path fill="#f9d62d" d="M2592 7951l52-34 67-9-53 36z"/>
<path fill="#6ecd66" d="M920 8356l53-11 66 10-52 11z"/>
<path fill="#4639d9" d="M5514 9247l53-14 66 27-52 14z"/>
<path fill="#f5e128" d="M2711 7908l53-32 66-4-52 32z"/>
<path fill="#f5eb23" d="M2830 7872l53-27 67 2-53 27z"/>
<path fill="#402bb7" d="M6178 9328l52-15 67 24-52 15z"/>
<path fill="#2e84f8" d="M4545 8926l52-15 67 74-53 14z"/>
<path fill="#f3ba38" d="M3680 8094l53-15 67 97-53 15z"/>
<path fill="#463ddf" d="M5395 9233l52-15 67 29-53 15z"/>
<path fill="#9dc943" d="M3867 8282l52-15 67 110-53 15z"/>
<path fill="#412dbd" d="M6058 9318l53-14 67 24-53 14z"/>
<path fill="#465dfa" d="M4850 9093l53-14 67 50-53 14z"/>
<path fill="#35c79b" d="M4053 8488l52-15 67 109-52 14z"/>
<path fill="#f5e526" d="M3375 7905l52-16 67 60-52 16z"/>
<path fill="#0db3d4" d="M4239 8685l53-14 66 97-52 15z"/>
<path fill="#4741e5" d="M5275 9216l53-14 67 31-53 14z"/>
<path fill="#422fc2" d="M5939 9308l53-15 66 25-52 15z"/>
<path fill="#84cc56" d="M1703 8319l53-32 67 1-53 37z"/>
<path fill="#9ac946" d="M1823 8288l52-36 67-2-53 40z"/>
<path fill="#79cc5e" d="M1584 8340l52-25 67 4-52 28z"/>
<path fill="#2994ed" d="M4425 8858l53-14 67 82-53 14z"/>
<path fill="#4368fe" d="M4731 9050l52-14 67 57-52 15z"/>
<path fill="#aec637" d="M1942 8250l53-44 66-5-52 47z"/>
<path fill="#f5ec22" d="M3255 7875l53-17 67 47-53 17z"/>
<path fill="#76cc61" d="M1464 8350l53-18 67 8-53 19z"/>
<path fill="#4331c8" d="M5820 9297l52-14 67 25-53 14z"/>
<path fill="#fec735" d="M3561 8023l53-15 66 86-52 15z"/>
<path fill="#4746eb" d="M5156 9196l52-14 67 34-52 15z"/>
<path fill="#c8c129" d="M2061 8201l53-49 67-8-53 52z"/>
<path fill="#72cd64" d="M1345 8357l53-15 66 8-52 17z"/>
<path fill="#d0bf27" d="M3747 8191l53-15 67 106-53 15z"/>
<path fill="#e3bc2c" d="M2181 8144l52-46 67-10-52 48z"/>
<path fill="#6ecd66" d="M1226 8362l52-14 67 9-53 15z"/>
<path fill="#4433cd" d="M5700 9286l53-14 67 25-53 15z"/>
<path fill="#f6f11f" d="M3136 7859l53-17 66 33-52 17z"/>
<path fill="#61cd72" d="M3933 8392l53-15 67 111-53 14z"/>
<path fill="#10beba" d="M4120 8596l52-14 67 103-53 15z"/>
<path fill="#484cf0" d="M5036 9172l53-14 67 38-53 15z"/>
<path fill="#f7ba3c" d="M2300 8088l53-42 67-11-53 44z"/>
<path fill="#6ecd66" d="M1106 8365l53-13 67 10-53 13z"/>
<path fill="#3876fe" d="M4611 8999l53-14 67 65-53 15z"/>
<path fill="#4535d2" d="M5581 9274l52-14 67 26-52 15z"/>
<path fill="#fec438" d="M2420 8035l52-38 67-10-53 39z"/>
<path fill="#f6f21e" d="M3017 7858l52-20 67 21-53 20z"/>
<path fill="#20a5e3" d="M4306 8783l52-15 67 90-52 15z"/>
<path fill="#6ecd66" d="M987 8366l52-11 67 10-52 12z"/>
<path fill="#3f29b1" d="M6245 9352l52-15 67 24-53 14z"/>
<path fill="#fcd030" d="M2539 7987l53-36 66-7-52 37z"/>
<path fill="#f9d62d" d="M3442 7965l52-16 67 74-53 16z"/>
<path fill="#f5ee21" d="M2897 7874l53-27 67 11-53 27z"/>
<path fill="#f7dd2a" d="M2658 7944l53-36 67-4-53 37z"/>
<path fill="#f5e626" d="M2778 7904l52-32 67 2-52 33z"/>
<path fill="#4853f5" d="M4917 9143l53-14 66 43-52 15z"/>
<path fill="#6ecd66" d="M867 8367l53-11 67 10-53 12z"/>
<path fill="#4639d9" d="M5461 9262l53-15 67 27-53 15z"/>
<path fill="#402bb7" d="M6125 9342l53-14 67 24-53 14z"/>
<path fill="#2e84f8" d="M4492 8940l53-14 66 73-52 15z"/>
<path fill="#f3ba38" d="M3628 8109l52-15 67 97-52 15z"/>
<path fill="#463ddf" d="M5342 9247l53-14 66 29-52 14z"/>
<path fill="#9dc943" d="M3814 8297l53-15 66 110-52 14z"/>
<path fill="#412dbd" d="M6006 9333l52-15 67 24-52 15z"/>
<path fill="#465dfa" d="M4798 9108l52-15 67 50-53 15z"/>
<path fill="#35c79b" d="M4000 8502l53-14 67 108-53 14z"/>
<path fill="#f5e327" d="M3322 7922l53-17 67 60-53 17z"/>
<path fill="#0db3d4" d="M4186 8700l53-15 67 98-53 14z"/>
<path fill="#8bcb51" d="M1770 8325l53-37 66 2-52 40z"/>
<path fill="#7dcc5b" d="M1651 8347l52-28 67 6-53 30z"/>
<path fill="#4741e5" d="M5223 9231l52-15 67 31-53 15z"/>
<path fill="#422fc2" d="M5886 9322l53-14 67 25-53 14z"/>
<path fill="#a1c840" d="M1889 8290l53-40 67-2-53 44z"/>
<path fill="#76cc61" d="M1531 8359l53-19 67 7-53 21z"/>
<path fill="#b8c431" d="M2009 8248l52-47 67-5-52 52z"/>
<path fill="#2994ed" d="M4373 8873l52-15 67 82-53 15z"/>
<path fill="#f5ec22" d="M3203 7892l52-17 67 47-52 17z"/>
<path fill="#4368fe" d="M4678 9065l53-15 67 58-53 14z"/>
<path fill="#72cd64" d="M1412 8367l52-17 67 9-52 18z"/>
<path fill="#4331c8" d="M5767 9312l53-15 66 25-52 15z"/>
<path fill="#d0bf27" d="M2128 8196l53-52 67-8-53 57z"/>
<path fill="#fec735" d="M3508 8039l53-16 67 86-53 16z"/>
<path fill="#4746eb" d="M5103 9211l53-15 67 35-53 14z"/>
<path fill="#72cd64" d="M1292 8372l53-15 67 10-53 16z"/>
<path fill="#eaba31" d="M2248 8136l52-48 67-9-53 52z"/>
<path fill="#d0bf27" d="M3695 8206l52-15 67 106-53 14z"/>
<path fill="#6ecd66" d="M1173 8375l53-13 66 10-52 14z"/>
<path fill="#4433cd" d="M5648 9301l52-15 67 26-53 14z"/>
<path fill="#f6ef20" d="M3083 7879l53-20 67 33-53 20z"/>
<path fill="#61cd72" d="M3881 8406l52-14 67 110-52 14z"/>
<path fill="#fdbd3d" d="M2367 8079l53-44 66-9-52 47z"/>
<path fill="#10beba" d="M4067 8610l53-14 66 104-52 13z"/>
<path fill="#484cf0" d="M4984 9187l52-15 67 39-52 14z"/>
<path fill="#3876fe" d="M4559 9014l52-15 67 66-52 14z"/>
<path fill="#6ecd66" d="M1054 8377l52-12 67 10-53 13z"/>
<path fill="#f5ee21" d="M2964 7885l53-27 66 21-52 27z"/>
<path fill="#feca33" d="M2486 8026l53-39 67-6-53 40z"/>
<path fill="#4535d2" d="M5528 9289l53-15 67 27-53 14z"/>
<path fill="#f9d62d" d="M2606 7981l52-37 67-3-52 38z"/>
<path fill="#20a5e3" d="M4253 8797l53-14 67 90-53 14z"/>
<path fill="#f5e924" d="M2845 7907l52-33 67 11-53 33z"/>
<path fill="#f6e028" d="M2725 7941l53-37 67 3-53 37z"/>
<path fill="#3f29b1" d="M6192 9366l53-14 66 23-52 15z"/>
<path fill="#6ecd66" d="M934 8378l53-12 67 11-53 12z"/>
<path fill="#f9d62d" d="M3389 7982l53-17 66 74-52 16z"/>
<path fill="#4853f5" d="M4864 9158l53-15 67 44-53 14z"/>
<path fill="#4639d9" d="M5409 9276l52-14 67 27-52 14z"/>
<path fill="#72cd64" d="M815 8379l52-12 67 11-52 12z"/>
<path fill="#402bb7" d="M6073 9357l52-15 67 24-53 15z"/>
<path fill="#2e84f8" d="M4439 8955l53-15 67 74-53 14z"/>
<path fill="#f3ba38" d="M3575 8125l53-16 67 97-53 15z"/>
<path fill="#463ddf" d="M5289 9262l53-15 67 29-53 15z"/>
<path fill="#9dc943" d="M3761 8311l53-14 67 109-53 14z"/>
<path fill="#412dbd" d="M5953 9347l53-14 67 24-53 14z"/>
<path fill="#465dfa" d="M4745 9122l53-14 66 50-52 14z"/>
<path fill="#f5e327" d="M3270 7939l52-17 67 60-53 17z"/>
<path fill="#35c79b" d="M3948 8516l52-14 67 108-53 14z"/>
<path fill="#81cc59" d="M1717 8355l53-30 67 5-53 33z"/>
<path fill="#8fcb4e" d="M1837 8330l52-40 67 2-52 44z"/>
<path fill="#0bb3d2" d="M4134 8713l52-13 67 97-52 13z"/>
<path fill="#a4c83e" d="M1956 8292l53-44 67 0-53 47z"/>
<path fill="#79cc5e" d="M1598 8368l53-21 66 8-52 22z"/>
<path fill="#4741e5" d="M5170 9245l53-14 66 31-52 14z"/>
<path fill="#422fc2" d="M5834 9337l52-15 67 25-52 15z"/>
<path fill="#bec32e" d="M2076 8248l52-52 67-3-53 55z"/>
<path fill="#76cc61" d="M1479 8377l52-18 67 9-53 19z"/>
<path fill="#f5eb23" d="M3150 7912l53-20 67 47-53 19z"/>
<path fill="#72cd64" d="M1359 8383l53-16 67 10-53 17z"/>
<path fill="#2994ed" d="M4320 8887l53-14 66 82-52 13z"/>
<path fill="#4368fe" d="M4626 9079l52-14 67 57-53 15z"/>
<path fill="#d9be28" d="M2195 8193l53-57 66-5-52 60z"/>
<path fill="#4331c8" d="M5714 9326l53-14 67 25-53 14z"/>
<path fill="#fec735" d="M3456 8055l52-16 67 86-52 16z"/>
<path fill="#4746eb" d="M5051 9225l52-14 67 34-53 15z"/>
<path fill="#72cd64" d="M1240 8386l52-14 67 11-52 14z"/>
<path fill="#f3ba38" d="M2314 8131l53-52 67-6-53 54z"/>
<path fill="#f5ec22" d="M3031 7906l52-27 67 33-52 27z"/>
<path fill="#d0bf27" d="M3642 8221l53-15 66 105-52 15z"/>
<path fill="#4433cd" d="M5595 9315l53-14 66 25-52 15z"/>
<path fill="#72cd64" d="M1120 8388l53-13 67 11-53 13z"/>
<path fill="#fec13a" d="M2434 8073l52-47 67-5-52 49z"/>
<path fill="#61cd72" d="M3828 8420l53-14 67 110-53 14z"/>
<path fill="#484cf0" d="M4931 9201l53-14 67 38-53 15z"/>
<path fill="#10beba" d="M4014 8624l53-14 67 103-53 14z"/>
<path fill="#f5e924" d="M2911 7918l53-33 67 21-53 33z"/>
<path fill="#fcce31" d="M2553 8021l53-40 67-2-53 41z"/>
<path fill="#3876fe" d="M4506 9028l53-14 67 65-53 14z"/>
<path fill="#72cd64" d="M1001 8389l53-12 66 11-52 13z"/>
<path fill="#f5e327" d="M2792 7944l53-37 66 11-52 37z"/>
<path fill="#f8d92b" d="M2673 7979l52-38 67 3-53 39z"/>
<path fill="#4535d2" d="M5476 9303l52-14 67 26-53 15z"/>
<path fill="#20a5e3" d="M4201 8810l52-13 67 90-53 13z"/>
<path fill="#f9d62d" d="M3336 7999l53-17 67 73-53 16z"/>
<path fill="#3f29b1" d="M6139 9381l53-15 67 24-53 14z"/>
<path fill="#72cd64" d="M882 8390l52-12 67 11-53 13z"/>
<path fill="#4853f5" d="M4812 9172l52-14 67 43-52 15z"/>
<path fill="#4639d9" d="M5356 9291l53-15 67 27-53 15z"/>
<path fill="#72cd64" d="M762 8390l53-11 67 11-53 12z"/>
<path fill="#402bb7" d="M6020 9371l53-14 66 24-52 14z"/>
<path fill="#2e84f8" d="M4387 8968l52-13 67 73-52 14z"/>
<path fill="#f3ba38" d="M3523 8141l52-16 67 96-53 16z"/>
<path fill="#84cc56" d="M1784 8363l53-33 67 6-53 36z"/>
<path fill="#463ddf" d="M5237 9276l52-14 67 29-52 14z"/>
<path fill="#93ca4b" d="M1904 8336l52-44 67 3-53 47z"/>
<path fill="#9dc943" d="M3709 8326l52-15 67 109-52 15z"/>
<path fill="#f5e128" d="M3217 7958l53-19 66 60-52 18z"/>
<path fill="#412dbd" d="M5901 9362l52-15 67 24-53 15z"/>
<path fill="#465dfa" d="M4692 9137l53-15 67 50-53 15z"/>
<path fill="#7dcc5b" d="M1665 8377l52-22 67 8-52 23z"/>
<path fill="#35c79b" d="M3895 8530l53-14 66 108-52 14z"/>
<path fill="#abc739" d="M2023 8295l53-47 66 0-52 51z"/>
<path fill="#76cc61" d="M1545 8387l53-19 67 9-53 20z"/>
<path fill="#0bb3d2" d="M4081 8727l53-14 67 97-53 14z"/>
<path fill="#c5c22a" d="M2142 8248l53-55 67-2-53 58z"/>
<path fill="#4741e5" d="M5117 9260l53-15 67 31-53 15z"/>
<path fill="#422fc2" d="M5781 9351l53-14 67 25-53 14z"/>
<path fill="#72cd64" d="M1426 8394l53-17 66 10-52 18z"/>
<path fill="#f5e825" d="M3098 7939l52-27 67 46-53 26z"/>
<path fill="#e0bc2b" d="M2262 8191l52-60 67-4-52 63z"/>
<path fill="#72cd64" d="M1307 8397l52-14 67 11-53 14z"/>
<path fill="#2895ec" d="M4267 8900l53-13 67 81-53 13z"/>
<path fill="#4368fe" d="M4573 9093l53-14 66 58-52 14z"/>
<path fill="#4331c8" d="M5662 9341l52-15 67 25-52 15z"/>
<path fill="#fec537" d="M3403 8071l53-16 67 86-53 15z"/>
<path fill="#4746eb" d="M4998 9240l53-15 66 35-52 14z"/>
<path fill="#f9bb3d" d="M2381 8127l53-54 67-3-53 56z"/>
<path fill="#72cd64" d="M1187 8399l53-13 67 11-53 13z"/>
<path fill="#f5e825" d="M2978 7939l53-33 67 33-53 32z"/>
<path fill="#fec537" d="M2501 8070l52-49 67-1-53 50z"/>
<path fill="#cdc028" d="M3589 8237l53-16 67 105-53 15z"/>
<path fill="#f5e327" d="M2859 7955l52-37 67 21-52 37z"/>
<path fill="#4433cd" d="M5542 9330l53-15 67 26-53 14z"/>
<path fill="#72cd64" d="M1068 8401l52-13 67 11-52 13z"/>
<path fill="#fbd32e" d="M2620 8020l53-41 66 4-52 42z"/>
<path fill="#f7dd2a" d="M2739 7983l53-39 67 11-53 39z"/>
<path fill="#61cd72" d="M3776 8435l52-15 67 110-53 14z"/>
<path fill="#484cf0" d="M4879 9216l52-15 67 39-53 14z"/>
<path fill="#13beb8" d="M3962 8638l52-14 67 103-52 13z"/>
<path fill="#3876fe" d="M4454 9042l52-14 67 65-53 14z"/>
<path fill="#72cd64" d="M948 8402l53-13 67 12-53 12z"/>
<path fill="#4535d2" d="M5423 9318l53-15 66 27-52 14z"/>
<path fill="#20a5e3" d="M4148 8824l53-14 66 90-52 13z"/>
<path fill="#fad52e" d="M3284 8017l52-18 67 72-52 18z"/>
<path fill="#3f29b1" d="M6087 9395l52-14 67 23-52 15z"/>
<path fill="#72cd64" d="M829 8402l53-12 66 12-52 12z"/>
<path fill="#4853f5" d="M4759 9187l53-15 67 44-53 14z"/>
<path fill="#4639d9" d="M5304 9305l52-14 67 27-53 14z"/>
<path fill="#76cc61" d="M710 8401l52-11 67 12-53 12z"/>
<path fill="#402bb7" d="M5967 9386l53-15 67 24-53 15z"/>
<path fill="#88cb53" d="M1851 8372l53-36 66 6-52 39z"/>
<path fill="#96ca48" d="M1970 8342l53-47 67 4-53 50z"/>
<path fill="#f3ba38" d="M3470 8156l53-15 66 96-52 15z"/>
<path fill="#7dcc5b" d="M1732 8386l52-23 67 9-53 24z"/>
<path fill="#2e86f8" d="M4334 8981l53-13 67 74-53 13z"/>
<path fill="#b1c635" d="M2090 8299l52-51 67 1-52 55z"/>
<path fill="#f6de29" d="M3164 7984l53-26 67 59-53 25z"/>
<path fill="#463ddf" d="M5184 9291l53-15 67 29-53 15z"/>
<path fill="#79cc5e" d="M1612 8397l53-20 67 9-53 22z"/>
<path fill="#9dc943" d="M3656 8341l53-15 67 109-53 14z"/>
<path fill="#412dbd" d="M5848 9376l53-14 66 24-52 14z"/>
<path fill="#465dfa" d="M4640 9151l52-14 67 50-52 13z"/>
<path fill="#35c79b" d="M3842 8544l53-14 67 108-53 13z"/>
<path fill="#cac129" d="M2209 8249l53-58 67-1-53 62z"/>
<path fill="#76cc61" d="M1493 8405l52-18 67 10-52 19z"/>
<path fill="#0bb3d2" d="M4029 8740l52-13 67 97-53 13z"/>
<path fill="#4741e5" d="M5065 9274l52-14 67 31-52 14z"/>
<path fill="#422fc2" d="M5729 9366l52-15 67 25-53 15z"/>
<path fill="#72cd64" d="M1373 8408l53-14 67 11-53 15z"/>
<path fill="#f5e327" d="M3045 7971l53-32 66 45-52 31z"/>
<path fill="#e5bb2d" d="M2329 8190l52-63 67-1-53 66z"/>
<path fill="#72cd64" d="M1254 8410l53-13 66 11-52 14z"/>
<path fill="#4368fe" d="M4520 9107l53-14 67 58-53 13z"/>
<path fill="#2895ec" d="M4215 8913l52-13 67 81-52 13z"/>
<path fill="#fcbc3d" d="M2448 8126l53-56 66 0-52 58z"/>
<path fill="#f5e128" d="M2926 7976l52-37 67 32-53 35z"/>
<path fill="#fec537" d="M3351 8089l52-18 67 85-53 18z"/>
<path fill="#4331c8" d="M5609 9355l53-14 67 25-53 14z"/>
<path fill="#4746eb" d="M4945 9254l53-14 67 34-53 15z"/>
<path fill="#fec834" d="M2567 8070l53-50 67 5-53 51z"/>
<path fill="#f7dd2a" d="M2806 7994l53-39 67 21-53 38z"/>
<path fill="#72cd64" d="M1135 8412l52-13 67 11-53 14z"/>
<path fill="#fad52e" d="M2687 8025l52-42 67 11-52 42z"/>
<path fill="#cdc028" d="M3537 8252l52-15 67 104-52 15z"/>
<path fill="#4433cd" d="M5490 9344l52-14 67 25-52 15z"/>
<path fill="#72cd64" d="M1015 8413l53-12 67 11-53 13z"/>
<path fill="#61cd72" d="M3723 8449l53-14 66 109-52 14z"/>
<path fill="#484cf0" d="M4826 9230l53-14 66 38-52 15z"/>
<path fill="#13beb8" d="M3909 8651l53-13 67 102-53 13z"/>
<path fill="#3876fe" d="M4401 9055l53-13 66 65-52 12z"/>
<path fill="#76cc61" d="M896 8414l52-12 67 11-52 13z"/>
<path fill="#4535d2" d="M5370 9332l53-14 67 26-53 15z"/>
<path fill="#fbd22f" d="M3231 8042l53-25 67 72-53 23z"/>
<path fill="#20a5e3" d="M4095 8837l53-13 67 89-53 13z"/>
<path fill="#3f29b1" d="M6034 9410l53-15 67 24-53 14z"/>
<path fill="#76cc61" d="M776 8414l53-12 67 12-53 12z"/>
<path fill="#4853f5" d="M4707 9200l52-13 67 43-53 14z"/>
<path fill="#88cb53" d="M1918 8381l52-39 67 7-52 41z"/>
<path fill="#4639d9" d="M5251 9320l53-15 66 27-52 15z"/>
<path fill="#81cc59" d="M1798 8396l53-24 67 9-53 26z"/>
<path fill="#9ac946" d="M2037 8349l53-50 67 5-53 53z"/>
<path fill="#76cc61" d="M657 8413l53-12 66 13-52 12z"/>
<path fill="#402bb7" d="M5915 9400l52-14 67 24-52 14z"/>
<path fill="#79cc5e" d="M1679 8408l53-22 66 10-52 23z"/>
<path fill="#b5c533" d="M2157 8304l52-55 67 3-53 57z"/>
<path fill="#f1ba37" d="M3417 8174l53-18 67 96-53 17z"/>
<path fill="#f8d92b" d="M3112 8015l52-31 67 58-52 29z"/>
<path fill="#2e86f8" d="M4282 8994l52-13 67 74-53 12z"/>
<path fill="#76cc61" d="M1560 8416l52-19 67 11-53 19z"/>
<path fill="#463ddf" d="M5132 9305l52-14 67 29-53 14z"/>
<path fill="#d0bf27" d="M2276 8252l53-62 66 2-52 64z"/>
<path fill="#9ac946" d="M3604 8356l52-15 67 108-53 14z"/>
<path fill="#412dbd" d="M5795 9391l53-15 67 24-53 15z"/>
<path fill="#465dfa" d="M4587 9164l53-13 67 49-53 13z"/>
<path fill="#35c79b" d="M3790 8558l52-14 67 107-52 13z"/>
<path fill="#76cc61" d="M1440 8420l53-15 67 11-53 15z"/>
<path fill="#f7dd2a" d="M2992 8006l53-35 67 44-53 34z"/>
<path fill="#0bb3d2" d="M3976 8753l53-13 66 97-52 12z"/>
<path fill="#eaba31" d="M2395 8192l53-66 67 2-53 68z"/>
<path fill="#4741e5" d="M5012 9289l53-15 67 31-53 15z"/>
<path fill="#422fc2" d="M5676 9380l53-14 66 25-52 14z"/>
<path fill="#76cc61" d="M1321 8422l52-14 67 12-52 14z"/>
<path fill="#febe3c" d="M2515 8128l52-58 67 6-52 59z"/>
<path fill="#f7db2a" d="M2873 8014l53-38 66 30-52 38z"/>
<path fill="#72cd64" d="M1201 8424l53-14 67 12-53 14z"/>
<path fill="#fdcb32" d="M2634 8076l53-51 67 11-53 51z"/>
<path fill="#fad52e" d="M2754 8036l52-42 67 20-53 42z"/>
<path fill="#4368fe" d="M4468 9119l52-12 67 57-52 12z"/>
<path fill="#2895ec" d="M4162 8926l53-13 67 81-53 12z"/>
<path fill="#fec239" d="M3298 8112l53-23 66 85-52 21z"/>
<path fill="#4331c8" d="M5557 9370l52-15 67 25-53 15z"/>
<path fill="#4746eb" d="M4893 9269l52-15 67 35-52 14z"/>
<path fill="#76cc61" d="M1082 8425l53-13 66 12-52 13z"/>
<path fill="#cdc028" d="M3484 8269l53-17 67 104-53 15z"/>
<path fill="#4433cd" d="M5437 9359l53-15 67 26-53 14z"/>
<path fill="#76cc61" d="M963 8426l52-13 67 12-53 13z"/>
<path fill="#61cd72" d="M3670 8463l53-14 67 109-53 14z"/>
<path fill="#484cf0" d="M4773 9244l53-14 67 39-53 13z"/>
<path fill="#13beb8" d="M3857 8664l52-13 67 102-53 13z"/>
<path fill="#3677fe" d="M4348 9067l53-12 67 64-53 12z"/>
<path fill="#fcce31" d="M3179 8071l52-29 67 70-53 27z"/>
<path fill="#76cc61" d="M843 8426l53-12 67 12-53 13z"/>
<path fill="#4535d2" d="M5318 9347l52-15 67 27-52 14z"/>
<path fill="#1fa6e2" d="M4043 8849l52-12 67 89-52 12z"/>
<path fill="#8bcb51" d="M1985 8390l52-41 67 8-53 43z"/>
<path fill="#3f29b1" d="M5982 9424l52-14 67 23-53 15z"/>
<path fill="#81cc59" d="M1865 8407l53-26 67 9-53 27z"/>
<path fill="#9dc943" d="M2104 8357l53-53 66 5-52 56z"/>
<path fill="#76cc61" d="M724 8426l52-12 67 12-52 13z"/>
<path fill="#4854f6" d="M4654 9213l53-13 66 44-52 13z"/>
<path fill="#79cc5e" d="M1746 8419l52-23 67 11-52 23z"/>
<path fill="#4639d9" d="M5198 9334l53-14 67 27-53 14z"/>
<path fill="#b8c431" d="M2223 8309l53-57 67 4-53 60z"/>
<path fill="#402bb7" d="M5862 9415l53-15 67 24-53 15z"/>
<path fill="#fad52e" d="M3059 8049l53-34 67 56-53 32z"/>
<path fill="#76cc61" d="M1626 8427l53-19 67 11-53 20z"/>
<path fill="#efba35" d="M3365 8195l52-21 67 95-52 18z"/>
<path fill="#d3bf27" d="M2343 8256l52-64 67 4-52 67z"/>
<path fill="#2e86f8" d="M4229 9006l53-12 66 73-52 12z"/>
<path fill="#76cc61" d="M1507 8431l53-15 66 11-52 16z"/>
<path fill="#463ddf" d="M5079 9320l53-15 66 29-52 15z"/>
<path fill="#9ac946" d="M3551 8371l53-15 66 107-52 14z"/>
<path fill="#412dbd" d="M5743 9405l52-14 67 24-52 14z"/>
<path fill="#f9d62d" d="M2940 8044l52-38 67 43-52 35z"/>
<path fill="#465dfa" d="M4535 9176l52-12 67 49-53 13z"/>
<path fill="#efba35" d="M2462 8196l53-68 67 7-53 69z"/>
<path fill="#35c79b" d="M3737 8572l53-14 67 106-53 13z"/>
<path fill="#76cc61" d="M1388 8434l52-14 67 11-53 15z"/>
<path fill="#0bb3d2" d="M3923 8766l53-13 67 96-53 12z"/>
<path fill="#fec03b" d="M2582 8135l52-59 67 11-53 60z"/>
<path fill="#fbd32e" d="M2820 8056l53-42 67 30-53 40z"/>
<path fill="#4741e5" d="M4960 9303l52-14 67 31-53 14z"/>
<path fill="#fdcb32" d="M2701 8087l53-51 66 20-52 50z"/>
<path fill="#422fc2" d="M5623 9395l53-15 67 25-53 15z"/>
<path fill="#76cc61" d="M1268 8436l53-14 67 12-53 14z"/>
<path fill="#fec03b" d="M3245 8139l53-27 67 83-53 23z"/>
<path fill="#76cc61" d="M1149 8437l52-13 67 12-52 13z"/>
<path fill="#426afe" d="M4415 9131l53-12 67 57-53 12z"/>
<path fill="#2797eb" d="M4110 8938l52-12 67 80-53 12z"/>
<path fill="#4331c8" d="M5504 9384l53-14 66 25-52 14z"/>
<path fill="#4746eb" d="M4840 9282l53-13 67 34-53 14z"/>
<path fill="#76cc61" d="M1029 8438l53-13 67 12-53 14z"/>
<path fill="#cac129" d="M3432 8287l52-18 67 102-53 16z"/>
<path fill="#4433cd" d="M5385 9373l52-14 67 25-53 15z"/>
<path fill="#76cc61" d="M910 8439l53-13 66 12-52 13z"/>
<path fill="#61cd72" d="M3618 8477l52-14 67 109-52 12z"/>
<path fill="#484cf0" d="M4721 9257l52-13 67 38-52 13z"/>
<path fill="#feca33" d="M3126 8103l53-32 66 68-52 29z"/>
<path fill="#13beb8" d="M3804 8677l53-13 66 102-52 12z"/>
<path fill="#8bcb51" d="M2051 8400l53-43 67 8-53 45z"/>
<path fill="#3677fe" d="M4296 9079l52-12 67 64-52 12z"/>
<path fill="#84cc56" d="M1932 8417l53-27 66 10-52 28z"/>
<path fill="#76cc61" d="M791 8439l52-13 67 13-53 13z"/>
<path fill="#4535d2" d="M5265 9361l53-14 67 26-53 15z"/>
<path fill="#a1c840" d="M2171 8365l52-56 67 7-52 59z"/>
<path fill="#7dcc5b" d="M1813 8430l52-23 67 10-53 25z"/>
<path fill="#3f29b1" d="M5929 9439l53-15 66 24-52 14z"/>
<path fill="#1fa6e2" d="M3990 8861l53-12 67 89-53 11z"/>
<path fill="#bec32e" d="M2290 8316l53-60 67 7-53 61z"/>
<path fill="#76cc61" d="M1693 8439l53-20 67 11-53 21z"/>
<path fill="#fcce31" d="M3007 8084l52-35 67 54-53 33z"/>
<path fill="#4854f6" d="M4601 9226l53-13 67 44-53 12z"/>
<path fill="#4639d9" d="M5146 9349l52-15 67 27-52 15z"/>
<path fill="#d6be28" d="M2410 8263l52-67 67 8-53 68z"/>
<path fill="#76cc61" d="M1574 8443l52-16 67 12-52 17z"/>
<path fill="#402bb7" d="M5810 9429l52-14 67 24-53 14z"/>
<path fill="#eaba31" d="M3312 8218l53-23 67 92-53 21z"/>
<path fill="#fcce31" d="M2887 8084l53-40 67 40-53 39z"/>
<path fill="#efba35" d="M2529 8204l53-69 66 12-52 69z"/>
<path fill="#2e87f7" d="M4176 9018l53-12 67 73-53 11z"/>
<path fill="#76cc61" d="M1454 8446l53-15 67 12-53 15z"/>
<path fill="#463ddf" d="M5026 9334l53-14 67 29-53 14z"/>
<path fill="#9ac946" d="M3498 8387l53-16 67 106-53 14z"/>
<path fill="#fec03b" d="M2648 8147l53-60 67 19-53 58z"/>
<path fill="#412dbd" d="M5690 9420l53-15 67 24-53 15z"/>
<path fill="#feca33" d="M2768 8106l52-50 67 28-52 49z"/>
<path fill="#465efb" d="M4482 9188l53-12 66 50-52 11z"/>
<path fill="#36c899" d="M3685 8584l52-12 67 105-53 11z"/>
<path fill="#76cc61" d="M1335 8448l53-14 66 12-52 14z"/>
<path fill="#08b4d1" d="M3871 8778l52-12 67 95-52 12z"/>
<path fill="#4741e5" d="M4907 9317l53-14 66 31-52 14z"/>
<path fill="#422fc2" d="M5571 9409l52-14 67 25-52 14z"/>
<path fill="#76cc61" d="M1216 8449l52-13 67 12-53 13z"/>
<path fill="#fdbd3d" d="M3193 8168l52-29 67 79-52 26z"/>
<path fill="#76cc61" d="M1096 8451l53-14 67 12-53 14z"/>
<path fill="#426afe" d="M4363 9143l52-12 67 57-53 11z"/>
<path fill="#2797eb" d="M4057 8949l53-11 66 80-52 11z"/>
<path fill="#4331c8" d="M5451 9399l53-15 67 25-53 15z"/>
<path fill="#4746eb" d="M4788 9295l52-13 67 35-53 13z"/>
<path fill="#76cc61" d="M977 8451l52-13 67 13-52 13z"/>
<path fill="#c8c129" d="M3379 8308l53-21 66 100-52 17z"/>
<path fill="#4433cd" d="M5332 9388l53-15 66 26-52 14z"/>
<path fill="#fec438" d="M3073 8136l53-33 67 65-53 30z"/>
<path fill="#8fcb4e" d="M2118 8410l53-45 67 10-53 46z"/>
<path fill="#84cc56" d="M1999 8428l52-28 67 10-52 30z"/>
<path fill="#76cc61" d="M857 8452l53-13 67 12-53 14z"/>
<path fill="#61cd72" d="M3565 8491l53-14 67 107-53 11z"/>
<path fill="#a4c83e" d="M2238 8375l52-59 67 8-53 60z"/>
<path fill="#484ef1" d="M4668 9269l53-12 67 38-53 13z"/>
<path fill="#7dcc5b" d="M1879 8442l53-25 67 11-53 26z"/>
<path fill="#17bfb6" d="M3751 8688l53-11 67 101-53 9z"/>
<path fill="#3579fd" d="M4243 9090l53-11 67 64-53 11z"/>
<path fill="#bec32e" d="M2357 8324l53-61 66 9-52 62z"/>
<path fill="#4535d2" d="M5213 9376l52-15 67 27-53 14z"/>
<path fill="#79cc5e" d="M1760 8451l53-21 66 12-52 22z"/>
<path fill="#3f29b1" d="M5876 9453l53-14 67 23-53 15z"/>
<path fill="#fec834" d="M2954 8123l53-39 66 52-52 36z"/>
<path fill="#1ea7e1" d="M3938 8873l52-12 67 88-53 11z"/>
<path fill="#d9be28" d="M2476 8272l53-68 67 12-53 68z"/>
<path fill="#76cc61" d="M1641 8456l52-17 67 12-53 17z"/>
<path fill="#4756f7" d="M4549 9237l52-11 67 43-52 12z"/>
<path fill="#4639d9" d="M5093 9363l53-14 67 27-53 14z"/>
<path fill="#f1ba37" d="M2596 8216l52-69 67 17-52 69z"/>
<path fill="#fec537" d="M2835 8133l52-49 67 39-53 46z"/>
<path fill="#e8bb2f" d="M3260 8244l52-26 67 90-53 21z"/>
<path fill="#76cc61" d="M1521 8458l53-15 67 13-53 14z"/>
<path fill="#402bb7" d="M5757 9444l53-15 66 24-52 15z"/>
<path fill="#febe3c" d="M2715 8164l53-58 67 27-53 57z"/>
<path fill="#76cc61" d="M1402 8460l52-14 67 12-52 14z"/>
<path fill="#2e87f7" d="M4124 9029l52-11 67 72-52 11z"/>
<path fill="#463ddf" d="M4974 9348l52-14 67 29-52 14z"/>
<path fill="#9ac946" d="M3446 8404l52-17 67 104-52 13z"/>
<path fill="#412dbd" d="M5638 9434l52-14 67 24-53 14z"/>
<path fill="#4660fb" d="M4429 9199l53-11 67 49-53 11z"/>
<path fill="#36c899" d="M3632 8595l53-11 66 104-52 8z"/>
<path fill="#76cc61" d="M1282 8461l53-13 67 12-53 14z"/>
<path fill="#06b5cf" d="M3818 8787l53-9 67 95-53 6z"/>
<path fill="#4741e5" d="M4854 9330l53-13 67 31-53 13z"/>
<path fill="#422fc2" d="M5518 9424l53-15 67 25-53 15z"/>
<path fill="#f9bb3d" d="M3140 8198l53-30 67 76-53 26z"/>
<path fill="#76cc61" d="M1163 8463l53-14 66 12-52 14zm-119 1l52-13 67 12-53 14z"/>
<path fill="#4331c8" d="M5399 9413l52-14 67 25-52 14z"/>
<path fill="#416bfe" d="M4310 9154l53-11 66 56-52 11z"/>
<path fill="#2798ea" d="M4004 8960l53-11 67 80-53 9z"/>
<path fill="#4746eb" d="M4735 9308l53-13 66 35-52 12z"/>
<path fill="#8fcb4e" d="M2185 8421l53-46 66 9-52 48z"/>
<path fill="#76cc61" d="M924 8465l53-14 67 13-53 13z"/>
<path fill="#84cc56" d="M2066 8440l52-30 67 11-53 30z"/>
<path fill="#c5c22a" d="M3326 8329l53-21 67 96-53 17z"/>
<path fill="#fec03b" d="M3021 8172l52-36 67 62-52 32z"/>
<path fill="#a4c83e" d="M2304 8384l53-60 67 10-53 62z"/>
<path fill="#7dcc5b" d="M1946 8454l53-26 67 12-53 26z"/>
<path fill="#4433cd" d="M5279 9402l53-14 67 25-53 15z"/>
<path fill="#c1c32c" d="M2424 8334l52-62 67 12-52 62z"/>
<path fill="#64cd6f" d="M3513 8504l52-13 67 104-53 9z"/>
<path fill="#79cc5e" d="M1827 8464l52-22 67 12-52 22z"/>
<path fill="#484ef1" d="M4616 9281l52-12 67 39-53 11z"/>
<path fill="#fec03b" d="M2901 8169l53-46 67 49-53 42z"/>
<path fill="#d9be28" d="M2543 8284l53-68 67 17-53 67z"/>
<path fill="#1ac0b5" d="M3699 8696l52-8 67 99-52 5z"/>
<path fill="#76cc61" d="M1707 8468l53-17 67 13-53 17z"/>
<path fill="#3579fd" d="M4191 9101l52-11 67 64-53 10z"/>
<path fill="#4535d2" d="M5160 9390l53-14 66 26-52 15z"/>
<path fill="#efba35" d="M2663 8233l52-69 67 26-53 65z"/>
<path fill="#fcbc3d" d="M2782 8190l53-57 66 36-52 53z"/>
<path fill="#3f29b1" d="M5824 9468l52-15 67 24-52 14z"/>
<path fill="#76cc61" d="M1588 8470l53-14 66 12-52 14z"/>
<path fill="#1da8e0" d="M3885 8879l53-6 66 87-52 3z"/>
<path fill="#e0bc2b" d="M3207 8270l53-26 66 85-52 22z"/>
<path fill="#4756f7" d="M4496 9248l53-11 67 44-53 11z"/>
<path fill="#4639d9" d="M5041 9377l52-14 67 27-53 15z"/>
<path fill="#76cc61" d="M1469 8472l52-14 67 12-53 14z"/>
<path fill="#402bb7" d="M5704 9458l53-14 67 24-53 14z"/>
<path fill="#76cc61" d="M1349 8474l53-14 67 12-53 14z"/>
<path fill="#2d88f6" d="M4071 9038l53-9 67 72-53 6z"/>
<path fill="#463ddf" d="M4921 9361l53-13 67 29-53 14z"/>
<path fill="#96ca48" d="M3393 8421l53-17 67 100-53 13z"/>
<path fill="#412dbd" d="M5585 9449l53-15 66 24-52 15z"/>
<path fill="#4660fb" d="M4377 9210l52-11 67 49-52 11z"/>
<path fill="#76cc61" d="M1230 8475l52-14 67 13-52 14z"/>
<path fill="#38c896" d="M3579 8604l53-9 67 101-53 5z"/>
<path fill="#f3ba38" d="M3088 8230l52-32 67 72-53 29z"/>
<path fill="#422fc2" d="M5466 9438l52-14 67 25-53 14z"/>
<path fill="#4742e6" d="M4802 9342l52-12 67 31-52 13z"/>
<path fill="#76cc61" d="M1110 8477l53-14 67 12-53 14z"/>
<path fill="#03b7cc" d="M3766 8792l52-5 67 92-53 1z"/>
<path fill="#76cc61" d="M991 8477l53-13 66 13-52 13z"/>
<path fill="#93ca4b" d="M2252 8432l52-48 67 12-52 48z"/>
<path fill="#84cc56" d="M2132 8451l53-30 67 11-53 31z"/>
<path fill="#4331c8" d="M5346 9428l53-15 67 25-53 15z"/>
<path fill="#f9bb3d" d="M2968 8214l53-42 67 58-53 38z"/>
<path fill="#416bfe" d="M4257 9164l53-10 67 56-53 10z"/>
<path fill="#a7c73c" d="M2371 8396l53-62 67 12-53 62z"/>
<path fill="#7dcc5b" d="M2013 8466l53-26 66 11-52 27z"/>
<path fill="#269ae8" d="M3952 8963l52-3 67 78-52 0z"/>
<path fill="#4848ec" d="M4682 9319l53-11 67 34-53 12z"/>
<path fill="#c1c32c" d="M3274 8351l52-22 67 92-52 18zm-783-5l52-62 67 16-53 62z"/>
<path fill="#79cc5e" d="M1894 8476l52-22 67 12-53 23z"/>
<path fill="#f7ba3c" d="M2849 8222l52-53 67 45-52 49z"/>
<path fill="#d9be28" d="M2610 8300l53-67 66 22-52 65z"/>
<path fill="#4433cd" d="M5227 9417l52-15 67 26-52 14z"/>
<path fill="#eaba31" d="M2729 8255l53-65 67 32-53 62z"/>
<path fill="#76cc61" d="M1774 8481l53-17 67 12-53 17z"/>
<path fill="#64cd6f" d="M3460 8517l53-13 66 100-52 8z"/>
<path fill="#484ff2" d="M4563 9292l53-11 66 38-52 11z"/>
<path fill="#76cc61" d="M1655 8482l52-14 67 13-52 14z"/>
<path fill="#4535d2" d="M5107 9405l53-15 67 27-53 14z"/>
<path fill="#20c1b1" d="M3646 8701l53-5 67 96-53 1z"/>
<path fill="#327cfc" d="M4138 9107l53-6 66 63-52 4z"/>
<path fill="#3f29b1" d="M5771 9482l53-14 67 23-53 15z"/>
<path fill="#76cc61" d="M1535 8484l53-14 67 12-53 15z"/>
<path fill="#dbbd29" d="M3154 8299l53-29 67 81-53 24z"/>
<path fill="#1caadf" d="M3832 8880l53-1 67 84-53-3z"/>
<path fill="#4639d9" d="M4988 9391l53-14 66 28-52 13z"/>
<path fill="#4757f7" d="M4444 9259l52-11 67 44-53 10z"/>
<path fill="#76cc61" d="M1416 8486l53-14 66 12-52 15z"/>
<path fill="#402bb7" d="M5652 9473l52-15 67 24-52 15z"/>
<path fill="#76cc61" d="M1297 8488l52-14 67 12-53 14z"/>
<path fill="#96ca48" d="M3341 8439l52-18 67 96-53 12z"/>
<path fill="#463ddf" d="M4869 9374l52-13 67 30-53 12z"/>
<path fill="#412dbd" d="M5532 9463l53-14 67 24-53 14z"/>
<path fill="#2d8cf3" d="M4019 9038l52 0 67 69-53-3z"/>
<path fill="#eaba31" d="M3035 8268l53-38 66 69-52 32z"/>
<path fill="#76cc61" d="M1177 8489l53-14 67 13-53 14z"/>
<path fill="#4561fc" d="M4324 9220l53-10 67 49-53 9z"/>
<path fill="#3ac994" d="M3527 8612l52-8 67 97-52 3z"/>
<path fill="#422fc2" d="M5413 9453l53-15 66 25-52 15z"/>
<path fill="#4742e6" d="M4749 9354l53-12 67 32-53 11z"/>
<path fill="#76cc61" d="M1058 8490l52-13 67 12-52 14z"/>
<path fill="#93ca4b" d="M2319 8444l52-48 67 12-53 49z"/>
<path fill="#88cb53" d="M2199 8463l53-31 67 12-53 32z"/>
<path fill="#ecba33" d="M2916 8263l52-49 67 54-53 44z"/>
<path fill="#a7c73c" d="M2438 8408l53-62 66 16-52 60z"/>
<path fill="#01b8c9" d="M3713 8793l53-1 66 88-52-3z"/>
<path fill="#7dcc5b" d="M2080 8478l52-27 67 12-52 28z"/>
<path fill="#c1c32c" d="M2557 8362l53-62 67 20-53 60z"/>
<path fill="#e3bc2c" d="M2796 8284l53-62 67 41-53 57z"/>
<path fill="#d3bf27" d="M2677 8320l52-65 67 29-52 61z"/>
<path fill="#79cc5e" d="M1960 8489l53-23 67 12-53 24z"/>
<path fill="#4331c8" d="M5294 9442l52-14 67 25-53 14z"/>
<path fill="#3f6eff" d="M4205 9168l52-4 67 56-52 1z"/>
<path fill="#bbc42f" d="M3221 8375l53-24 67 88-53 18z"/>
<path fill="#4848ec" d="M4630 9330l52-11 67 35-52 10z"/>
<path fill="#76cc61" d="M1841 8493l53-17 66 13-52 17z"/>
<path fill="#249ee6" d="M3899 8960l53 3 67 75-53-6z"/>
<path fill="#4433cd" d="M5174 9431l53-14 67 25-53 15z"/>
<path fill="#76cc61" d="M1722 8495l52-14 67 12-53 15z"/>
<path fill="#64cd6f" d="M3407 8529l53-12 67 95-53 8z"/>
<path fill="#4850f3" d="M4510 9302l53-10 67 38-53 10z"/>
<path fill="#76cc61" d="M1602 8497l53-15 67 13-53 15z"/>
<path fill="#4537d5" d="M5055 9418l52-13 67 26-52 14z"/>
<path fill="#25c2ae" d="M3594 8704l52-3 67 92-53-1z"/>
<path fill="#3f29b1" d="M5719 9497l52-15 67 24-53 14z"/>
<path fill="#d3bf27" d="M3102 8331l52-32 67 76-52 26z"/>
<path fill="#2f80fa" d="M4085 9104l53 3 67 61-53-6z"/>
<path fill="#76cc61" d="M1483 8499l52-15 67 13-52 14z"/>
<path fill="#4639d9" d="M4935 9403l53-12 67 27-53 13z"/>
<path fill="#4759f8" d="M4391 9268l53-9 66 43-52 9z"/>
<path fill="#76cc61" d="M1363 8500l53-14 67 13-53 14z"/>
<path fill="#402bb7" d="M5599 9487l53-14 67 24-53 14z"/>
<path fill="#17aeda" d="M3780 8877l52 3 67 80-52-7z"/>
<path fill="#debd29" d="M2982 8312l53-44 67 63-53 36z"/>
<path fill="#76cc61" d="M1244 8502l53-14 66 12-52 15z"/>
<path fill="#93ca4b" d="M3288 8457l53-18 66 90-52 13z"/>
<path fill="#473ee1" d="M4816 9385l53-11 66 29-52 12z"/>
<path fill="#412dbd" d="M5480 9478l52-15 67 24-52 15z"/>
<path fill="#76cc61" d="M1125 8503l52-14 67 13-53 14z"/>
<path fill="#93ca4b" d="M2385 8457l53-49 67 14-53 49z"/>
<path fill="#88cb53" d="M2266 8476l53-32 66 13-52 31z"/>
<path fill="#d9be28" d="M2863 8320l53-57 66 49-52 49z"/>
<path fill="#2b91ef" d="M3966 9032l53 6 66 66-52-9z"/>
<path fill="#a4c83e" d="M2505 8422l52-60 67 18-52 59z"/>
<path fill="#4564fd" d="M4272 9221l52-1 67 48-53 0z"/>
<path fill="#bec32e" d="M2624 8380l53-60 67 25-53 57z"/>
<path fill="#cdc028" d="M2744 8345l52-61 67 36-53 55z"/>
<path fill="#7dcc5b" d="M2147 8491l52-28 67 13-53 27z"/>
<path fill="#3eca90" d="M3474 8620l53-8 67 92-53 3z"/>
<path fill="#422fc2" d="M5360 9467l53-14 67 25-53 14z"/>
<path fill="#4744e8" d="M4697 9364l52-10 67 31-53 11z"/>
<path fill="#79cc5e" d="M2027 8502l53-24 67 13-53 23z"/>
<path fill="#76cc61" d="M1908 8506l52-17 67 13-52 17z"/>
<path fill="#02bac4" d="M3660 8792l53 1 67 84-53-5z"/>
<path fill="#4331c8" d="M5241 9457l53-15 66 25-52 15z"/>
<path fill="#b5c533" d="M3169 8401l52-26 67 82-53 19z"/>
<path fill="#4849ed" d="M4577 9340l53-10 67 34-53 10z"/>
<path fill="#76cc61" d="M1788 8508l53-15 67 13-53 15z"/>
<path fill="#3974fe" d="M4152 9162l53 6 67 53-53-8z"/>
<path fill="#4433cd" d="M5122 9445l52-14 67 26-53 13z"/>
<path fill="#22a1e4" d="M3847 8953l52 7 67 72-53-11z"/>
<path fill="#76cc61" d="M1669 8510l53-15 66 13-52 14z"/>
<path fill="#67cd6c" d="M3355 8542l52-13 67 91-52 6z"/>
<path fill="#4852f4" d="M4458 9311l52-9 67 38-52 9z"/>
<path fill="#76cc61" d="M1550 8511l52-14 67 13-53 14z"/>
<path fill="#c8c129" d="M3049 8367l53-36 67 70-53 29z"/>
<path fill="#4537d5" d="M5002 9431l53-13 67 27-53 12z"/>
<path fill="#3f29b1" d="M5666 9511l53-14 66 23-52 15z"/>
<path fill="#76cc61" d="M1430 8513l53-14 67 12-53 15z"/>
<path fill="#29c3aa" d="M3541 8707l53-3 66 88-52-2z"/>
<path fill="#2e86f8" d="M4033 9095l52 9 67 58-52-13z"/>
<path fill="#463adb" d="M4883 9415l52-12 67 28-52 12z"/>
<path fill="#cac129" d="M2930 8361l52-49 67 55-52 42z"/>
<path fill="#76cc61" d="M1311 8515l52-15 67 13-52 14z"/>
<path fill="#402bb7" d="M5547 9502l52-15 67 24-53 15z"/>
<path fill="#475bfa" d="M4338 9268l53 0 67 43-53 0z"/>
<path fill="#12b1d6" d="M3727 8872l53 5 67 76-53-9z"/>
<path fill="#c5c22a" d="M2810 8375l53-55 67 41-53 49z"/>
<path fill="#93ca4b" d="M2452 8471l53-49 67 17-53 46z"/>
<path fill="#76cc61" d="M1191 8516l53-14 67 13-53 14z"/>
<path fill="#a4c83e" d="M2572 8439l52-59 67 22-53 55z"/>
<path fill="#88cb53" d="M2333 8488l52-31 67 14-52 31z"/>
<path fill="#b8c431" d="M2691 8402l53-57 66 30-52 52z"/>
<path fill="#8fcb4e" d="M3235 8476l53-19 67 85-53 11z"/>
<path fill="#412dbd" d="M5427 9492l53-14 67 24-53 14z"/>
<path fill="#473ee1" d="M4763 9396l53-11 67 30-53 11z"/>
<path fill="#7dcc5b" d="M2213 8503l53-27 67 12-53 28z"/>
<path fill="#79cc5e" d="M2094 8514l53-23 66 12-52 24z"/>
<path fill="#422fc2" d="M5308 9482l52-15 67 25-52 15z"/>
<path fill="#76cc61" d="M1975 8519l52-17 67 12-53 18z"/>
<path fill="#426afe" d="M4219 9213l53 8 66 47-52-10z"/>
<path fill="#40ca8d" d="M3422 8626l52-6 67 87-53 0z"/>
<path fill="#2797eb" d="M3913 9021l53 11 67 63-53-15z"/>
<path fill="#4745e9" d="M4644 9374l53-10 66 32-52 10z"/>
<path fill="#76cc61" d="M1855 8521l53-15 67 13-53 15z"/>
<path fill="#aec637" d="M3116 8430l53-29 66 75-52 20z"/>
<path fill="#4331c8" d="M5188 9470l53-13 67 25-53 14z"/>
<path fill="#08bcbf" d="M3608 8790l52 2 67 80-52-7z"/>
<path fill="#76cc61" d="M1736 8522l52-14 67 13-52 14z"/>
<path fill="#484bee" d="M4525 9349l52-9 67 34-53 10z"/>
<path fill="#4433cd" d="M5069 9457l53-12 66 25-52 13z"/>
<path fill="#76cc61" d="M1616 8524l53-14 67 12-53 15z"/>
<path fill="#327cfc" d="M4100 9149l52 13 67 51-53-16z"/>
<path fill="#b8c431" d="M2997 8409l52-42 67 63-53 31z"/>
<path fill="#1ea7e1" d="M3794 8944l53 9 66 68-52-13z"/>
<path fill="#67cd6c" d="M3302 8553l53-11 67 84-53 4z"/>
<path fill="#76cc61" d="M1497 8526l53-15 66 13-52 15z"/>
<path fill="#4854f6" d="M4405 9311l53 0 67 38-53 0z"/>
<path fill="#4537d5" d="M4950 9443l52-12 67 26-53 12z"/>
<path fill="#3f29b1" d="M5613 9526l53-15 67 24-53 14z"/>
<path fill="#b8c431" d="M2877 8410l53-49 67 48-53 41z"/>
<path fill="#76cc61" d="M1378 8527l52-14 67 13-53 14z"/>
<path fill="#b1c635" d="M2758 8427l52-52 67 35-52 46z"/>
<path fill="#2cc4a6" d="M3488 8707l53 0 67 83-53-7z"/>
<path fill="#a1c840" d="M2638 8457l53-55 67 25-53 51z"/>
<path fill="#8fcb4e" d="M2519 8485l53-46 66 18-52 44z"/>
<path fill="#463bde" d="M4830 9426l53-11 67 28-53 10z"/>
<path fill="#76cc61" d="M1258 8529l53-14 67 12-53 15z"/>
<path fill="#402bb7" d="M5494 9516l53-14 66 24-52 14z"/>
<path fill="#88cb53" d="M2400 8502l52-31 67 14-53 31z"/>
<path fill="#2d8cf3" d="M3980 9080l53 15 67 54-53-17z"/>
<path fill="#7dcc5b" d="M2280 8516l53-28 67 14-53 27z"/>
<path fill="#4562fc" d="M4286 9258l52 10 67 43-52-12z"/>
<path fill="#8bcb51" d="M3183 8496l52-20 67 77-52 11z"/>
<path fill="#79cc5e" d="M2161 8527l52-24 67 13-52 24z"/>
<path fill="#412dbd" d="M5375 9507l52-15 67 24-53 15z"/>
<path fill="#08b4d1" d="M3675 8865l52 7 67 72-53-11z"/>
<path fill="#473fe3" d="M4711 9406l52-10 67 30-52 10z"/>
<path fill="#76cc61" d="M2041 8532l53-18 67 13-53 18z"/>
<path fill="#422fc2" d="M5255 9496l53-14 67 25-53 13z"/>
<path fill="#76cc61" d="M1922 8534l53-15 66 13-52 15z"/>
<path fill="#4745e9" d="M4591 9384l53-10 67 32-53 9z"/>
<path fill="#45cb89" d="M3369 8630l53-4 66 81-52-3z"/>
<path fill="#a4c83e" d="M3063 8461l53-31 67 66-53 21z"/>
<path fill="#76cc61" d="M1803 8535l52-14 67 13-53 14z"/>
<path fill="#3c71ff" d="M4166 9197l53 16 67 45-53-17z"/>
<path fill="#259ce7" d="M3861 9008l52 13 67 59-52-16z"/>
<path fill="#4331c8" d="M5136 9483l52-13 67 26-52 12z"/>
<path fill="#76cc61" d="M1683 8537l53-15 67 13-53 15z"/>
<path fill="#484ff2" d="M4472 9349l53 0 66 35-52 1z"/>
<path fill="#10beba" d="M3555 8783l53 7 67 75-53-13z"/>
<path fill="#abc739" d="M2944 8450l53-41 66 52-52 32z"/>
<path fill="#4434d0" d="M5016 9469l53-12 67 26-53 12z"/>
<path fill="#76cc61" d="M1564 8539l52-15 67 13-52 14z"/>
<path fill="#a7c73c" d="M2825 8456l52-46 67 40-53 38z"/>
<path fill="#76cc61" d="M1444 8540l53-14 67 13-53 14z"/>
<path fill="#6bcd69" d="M3250 8564l52-11 67 77-53 2z"/>
<path fill="#2e83f9" d="M4047 9132l53 17 66 48-52-19z"/>
<path fill="#9dc943" d="M2705 8478l53-51 67 29-53 44z"/>
<path fill="#4538d7" d="M4897 9453l53-10 66 26-52 11z"/>
<path fill="#8fcb4e" d="M2586 8501l52-44 67 21-52 40z"/>
<path fill="#3f29b1" d="M5561 9540l52-14 67 23-52 15z"/>
<path fill="#1babde" d="M3741 8933l53 11 67 64-53-17z"/>
<path fill="#76cc61" d="M1325 8542l53-15 66 13-52 15z"/>
<path fill="#475bfa" d="M4353 9299l52 12 67 38-53-11z"/>
<path fill="#88cb53" d="M2466 8516l53-31 67 16-53 29z"/>
<path fill="#7dcc5b" d="M2347 8529l53-27 66 14-52 27z"/>
<path fill="#402bb7" d="M5441 9531l53-15 67 24-53 15z"/>
<path fill="#463bde" d="M4778 9436l52-10 67 27-53 11z"/>
<path fill="#79cc5e" d="M2228 8540l52-24 67 13-53 24z"/>
<path fill="#30c5a1" d="M3436 8704l52 3 67 76-52-11z"/>
<path fill="#76cc61" d="M2108 8545l53-18 67 13-53 18z"/>
<path fill="#88cb53" d="M3130 8517l53-21 67 68-53 11z"/>
<path fill="#412dbd" d="M5322 9520l53-13 66 24-52 14z"/>
<path fill="#2a93ee" d="M3928 9064l52 16 67 52-53-19z"/>
<path fill="#4741e5" d="M4658 9415l53-9 67 30-53 9z"/>
<path fill="#76cc61" d="M1989 8547l52-15 67 13-52 14z"/>
<path fill="#426afe" d="M4233 9241l53 17 67 41-53-18z"/>
<path fill="#02b7ca" d="M3622 8852l53 13 66 68-52-20z"/>
<path fill="#422fc2" d="M5203 9508l52-12 67 24-53 13z"/>
<path fill="#76cc61" d="M1869 8548l53-14 67 13-53 14z"/>
<path fill="#9ac946" d="M3011 8493l52-32 67 56-52 21z"/>
<path fill="#4849ed" d="M4539 9385l52-1 67 31-52 4z"/>
<path fill="#76cc61" d="M1750 8550l53-15 66 13-52 15z"/>
<path fill="#4bcb84" d="M3316 8632l53-2 67 74-53-8z"/>
<path fill="#4332ca" d="M5083 9495l53-12 67 25-53 13z"/>
<path fill="#76cc61" d="M1631 8551l52-14 67 13-53 14z"/>
<path fill="#9dc943" d="M2891 8488l53-38 67 43-53 29z"/>
<path fill="#337afd" d="M4114 9178l52 19 67 44-52-22z"/>
<path fill="#22a2e4" d="M3808 8991l53 17 67 56-53-22z"/>
<path fill="#96ca48" d="M2772 8500l53-44 66 32-52 37z"/>
<path fill="#4535d2" d="M4964 9480l52-11 67 26-52 11z"/>
<path fill="#76cc61" d="M1511 8553l53-14 67 12-53 15z"/>
<path fill="#4854f6" d="M4419 9338l53 11 67 36-53-10z"/>
<path fill="#20c1b1" d="M3503 8772l52 11 67 69-53-19z"/>
<path fill="#8bcb51" d="M2653 8518l52-40 67 22-53 37z"/>
<path fill="#84cc56" d="M2533 8530l53-29 67 17-53 28z"/>
<path fill="#76cc61" d="M1392 8555l52-15 67 13-52 15z"/>
<path fill="#6bcd69" d="M3197 8575l53-11 66 68-52-1z"/>
<path fill="#7dcc5b" d="M2414 8543l52-27 67 14-52 27z"/>
<path fill="#4639d9" d="M4844 9464l53-11 67 27-53 11z"/>
<path fill="#3f29b1" d="M5508 9555l53-15 67 24-53 14z"/>
<path fill="#79cc5e" d="M2294 8553l53-24 67 14-53 23z"/>
<path fill="#2d8bf4" d="M3994 9113l53 19 67 46-53-22z"/>
<path fill="#12b1d6" d="M3689 8913l52 20 67 58-52-26z"/>
<path fill="#76cc61" d="M2175 8558l53-18 66 13-52 18z"/>
<path fill="#4562fc" d="M4300 9281l53 18 66 39-52-20z"/>
<path fill="#402bb7" d="M5389 9545l52-14 67 24-52 14z"/>
<path fill="#463ddf" d="M4725 9445l53-9 66 28-52 9z"/>
<path fill="#76cc61" d="M2056 8559l52-14 67 13-53 14z"/>
<path fill="#84cc56" d="M3078 8538l52-21 67 58-53 10z"/>
<path fill="#36c899" d="M3383 8696l53 8 67 68-53-18z"/>
<path fill="#412dbd" d="M5269 9533l53-13 67 25-53 13z"/>
<path fill="#76cc61" d="M1936 8561l53-14 67 12-53 15z"/>
<path fill="#4744e8" d="M4606 9419l52-4 67 30-53 6z"/>
<path fill="#259be8" d="M3875 9042l53 22 66 49-52-27z"/>
<path fill="#422fc2" d="M5150 9521l53-13 66 25-52 12z"/>
<path fill="#76cc61" d="M1817 8563l52-15 67 13-52 15z"/>
<path fill="#8fcb4e" d="M2958 8522l53-29 67 45-53 21z"/>
<path fill="#3b73fe" d="M4181 9219l52 22 67 40-53-24z"/>
<path fill="#05bbc1" d="M3569 8833l53 19 67 61-53-27z"/>
<path fill="#76cc61" d="M1697 8564l53-14 67 13-53 14z"/>
<path fill="#8fcb4e" d="M2839 8525l52-37 67 34-52 30z"/>
<path fill="#484ff2" d="M4486 9375l53 10 67 34-53-9z"/>
<path fill="#4332ca" d="M5031 9506l52-11 67 26-53 11z"/>
<path fill="#54cc7c" d="M3264 8631l52 1 67 64-52-12z"/>
<path fill="#76cc61" d="M1578 8566l53-15 66 13-52 15z"/>
<path fill="#88cb53" d="M2719 8537l53-37 67 25-53 31z"/>
<path fill="#84cc56" d="M2600 8546l53-28 66 19-52 25z"/>
<path fill="#76cc61" d="M1459 8568l52-15 67 13-53 14z"/>
<path fill="#4535d2" d="M4911 9491l53-11 67 26-53 11z"/>
<path fill="#2e84f8" d="M4061 9156l53 22 67 41-53-24z"/>
<path fill="#7dcc5b" d="M2481 8557l52-27 67 16-53 25z"/>
<path fill="#1caadf" d="M3756 8965l52 26 67 51-53-32z"/>
<path fill="#465dfa" d="M4367 9318l52 20 67 37-52-20z"/>
<path fill="#79cc5e" d="M2361 8566l53-23 67 14-53 22z"/>
<path fill="#2bc3a8" d="M3450 8754l53 18 66 61-52-28z"/>
<path fill="#3f29b1" d="M5456 9569l52-14 67 23-53 14z"/>
<path fill="#463adb" d="M4792 9473l52-9 67 27-52 9z"/>
<path fill="#6ecd66" d="M3144 8585l53-10 67 56-53 0z"/>
<path fill="#76cc61" d="M2242 8571l52-18 67 13-52 18zm-120 1l53-14 67 13-53 14z"/>
<path fill="#402bb7" d="M5336 9558l53-13 67 24-53 13z"/>
<path fill="#473fe3" d="M4672 9451l53-6 67 28-53 7z"/>
<path fill="#2994ed" d="M3942 9086l52 27 67 43-52-32z"/>
<path fill="#76cc61" d="M2003 8574l53-15 66 13-52 15z"/>
<path fill="#81cc59" d="M3025 8559l53-21 66 47-52 11z"/>
<path fill="#406dfe" d="M4247 9257l53 24 67 37-53-24z"/>
<path fill="#03b7cc" d="M3636 8886l53 27 67 52-53-35z"/>
<path fill="#412dbd" d="M5217 9545l52-12 67 25-52 12z"/>
<path fill="#76cc61" d="M1884 8576l52-15 67 13-53 14z"/>
<path fill="#40ca8d" d="M3331 8684l52 12 67 58-53-23z"/>
<path fill="#4849ed" d="M4553 9410l53 9 66 32-52-8z"/>
<path fill="#84cc56" d="M2906 8552l52-30 67 37-53 20z"/>
<path fill="#76cc61" d="M1764 8577l53-14 67 13-53 14z"/>
<path fill="#4330c5" d="M5097 9532l53-11 67 24-53 12z"/>
<path fill="#84cc56" d="M2786 8556l53-31 67 27-53 25z"/>
<path fill="#76cc61" d="M1645 8579l52-15 67 13-52 15z"/>
<path fill="#20a5e3" d="M3822 9010l67 38 53 38-67-44z"/>
<path fill="#317dfc" d="M4128 9195l53 24 66 38-52-25z"/>
<path fill="#81cc59" d="M2667 8562l52-25 67 19-52 23z"/>
<path fill="#4433cd" d="M4978 9517l53-11 66 26-52 10z"/>
<path fill="#76cc61" d="M1525 8580l53-14 67 13-53 14z"/>
<path fill="#1dc0b3" d="M3517 8805l52 28 67 53-52-38z"/>
<path fill="#4757f7" d="M4434 9355l52 20 67 35-53-19z"/>
<path fill="#7dcc5b" d="M2547 8571l53-25 67 16-53 23z"/>
<path fill="#5acc77" d="M3211 8631l53 0 67 53-53-10z"/>
<path fill="#79cc5e" d="M2428 8579l53-22 66 14-52 21z"/>
<path fill="#4537d5" d="M4859 9500l52-9 67 26-53 9z"/>
<path fill="#76cc61" d="M2309 8584l52-18 67 13-53 17z"/>
<path fill="#3f29b1" d="M5403 9582l53-13 66 23-52 13z"/>
<path fill="#2c8ff1" d="M4009 9124l66 36 53 35-67-39z"/>
<path fill="#463bde" d="M4739 9480l53-7 67 27-53 8z"/>
<path fill="#76cc61" d="M2189 8585l53-14 67 13-53 14z"/>
<path fill="#72cd64" d="M3092 8596l52-11 67 46-52 1z"/>
<path fill="#0db3d4" d="M3703 8930l67 36 52 44-66-45z"/>
<path fill="#4367fd" d="M4314 9294l53 24 67 37-53-25z"/>
<path fill="#76cc61" d="M2070 8587l52-15 67 13-52 15z"/>
<path fill="#35c79b" d="M3397 8731l53 23 67 51-53-32z"/>
<path fill="#402bb7" d="M5284 9570l52-12 67 24-53 12z"/>
<path fill="#76cc61" d="M1950 8588l53-14 67 13-53 14z"/>
<path fill="#4745e9" d="M4620 9443l52 8 67 29-52-5z"/>
<path fill="#7dcc5b" d="M2972 8579l53-20 67 37-53 11z"/>
<path fill="#422ebf" d="M5164 9557l53-12 67 25-53 11z"/>
<path fill="#76cc61" d="M1831 8590l53-14 66 12-52 15z"/>
<path fill="#81cc59" d="M2853 8577l53-25 66 27-52 19z"/>
<path fill="#249fe6" d="M3889 9048l67 33 53 43-67-38z"/>
<path fill="#3677fe" d="M4195 9232l52 25 67 37-52-27z"/>
<path fill="#76cc61" d="M1712 8592l52-15 67 13-53 15z"/>
<path fill="#0dbdbc" d="M3584 8848l66 34 53 48-67-44z"/>
<path fill="#4331c8" d="M5045 9542l52-10 67 25-52 10z"/>
<path fill="#4bcb84" d="M3278 8674l53 10 66 47-52-18z"/>
<path fill="#7dcc5b" d="M2734 8579l52-23 67 21-53 19z"/>
<path fill="#4852f4" d="M4500 9391l53 19 67 33-53-18z"/>
<path fill="#76cc61" d="M1592 8593l53-14 67 13-53 14z"/>
<path fill="#7dcc5b" d="M2614 8585l53-23 67 17-53 21z"/>
<path fill="#4434d0" d="M4925 9526l53-9 67 25-53 10z"/>
<path fill="#79cc5e" d="M2495 8592l52-21 67 14-52 21z"/>
<path fill="#76cc61" d="M2375 8596l53-17 67 13-53 17z"/>
<path fill="#2d8af5" d="M4075 9160l67 34 53 38-67-37z"/>
<path fill="#64cd6f" d="M3159 8632l52-1 67 43-53-9z"/>
<path fill="#15afd9" d="M3770 8966l67 30 52 52-67-38z"/>
<path fill="#4538d7" d="M4806 9508l53-8 66 26-52 9z"/>
<path fill="#4561fc" d="M4381 9330l53 25 66 36-52-26z"/>
<path fill="#2ec4a4" d="M3464 8773l67 34 53 41-67-43z"/>
<path fill="#76cc61" d="M2256 8598l53-14 66 12-52 15z"/>
<path fill="#3f29b1" d="M5350 9594l53-12 67 23-53 12z"/>
<path fill="#76cc61" d="M2137 8600l52-15 67 13-53 15z"/>
<path fill="#72cd64" d="M3039 8607l53-11 67 36-53 2z"/>
<path fill="#473fe3" d="M4687 9475l52 5 67 28-53-3z"/>
<path fill="#76cc61" d="M2017 8601l53-14 67 13-53 14z"/>
<path fill="#412cba" d="M5231 9581l53-11 66 24-52 11z"/>
<path fill="#259be8" d="M3956 9081l67 32 52 47-66-36z"/>
<path fill="#3c71ff" d="M4262 9267l52 27 67 36-53-27z"/>
<path fill="#76cc61" d="M1898 8603l52-15 67 13-52 15z"/>
<path fill="#79cc5e" d="M2920 8598l52-19 67 28-52 12z"/>
<path fill="#40ca8d" d="M3345 8713l52 18 67 42-52-27z"/>
<path fill="#03bbc2" d="M3650 8882l67 28 53 56-67-36z"/>
<path fill="#422fc2" d="M5112 9567l52-10 67 24-53 11z"/>
<path fill="#484cf0" d="M4567 9425l53 18 67 32-53-17z"/>
<path fill="#76cc61" d="M1778 8605l53-15 67 13-53 14z"/>
<path fill="#7dcc5b" d="M2800 8596l53-19 67 21-53 16z"/>
<path fill="#76cc61" d="M1659 8606l53-14 66 13-52 14z"/>
<path fill="#79cc5e" d="M2681 8600l53-21 66 17-52 19z"/>
<path fill="#4332ca" d="M4992 9552l53-10 67 25-53 10z"/>
<path fill="#79cc5e" d="M2562 8606l52-21 67 15-53 19z"/>
<path fill="#2e84f8" d="M4142 9194l67 36 53 37-67-35z"/>
<path fill="#57cc7a" d="M3225 8665l53 9 67 39-53-18z"/>
<path fill="#1aacdd" d="M3837 8996l66 27 53 58-67-33z"/>
<path fill="#475bfa" d="M4448 9365l52 26 67 34-52-25z"/>
<path fill="#4535d2" d="M4873 9535l52-9 67 26-52 9z"/>
<path fill="#76cc61" d="M2442 8609l53-17 67 14-53 16z"/>
<path fill="#27c2ac" d="M3531 8807l67 28 52 47-66-34z"/>
<path fill="#76cc61" d="M2323 8611l52-15 67 13-52 15z"/>
<path fill="#6bcd69" d="M3106 8634l53-2 66 33-52-7z"/>
<path fill="#463bde" d="M4753 9505l53 3 67 27-53-1z"/>
<path fill="#76cc61" d="M2203 8613l53-15 67 13-53 14z"/>
<path fill="#402ab4" d="M5298 9605l52-11 67 23-52 12z"/>
<path fill="#76cc61" d="M2084 8614l53-14 66 13-52 14z"/>
<path fill="#2797eb" d="M4023 9113l67 32 52 49-67-34z"/>
<path fill="#416bfe" d="M4328 9303l67 34 53 28-67-35z"/>
<path fill="#76cc61" d="M2987 8619l52-12 67 27-53 6z"/>
<path fill="#38c896" d="M3412 8746l66 28 53 33-67-34z"/>
<path fill="#01b9c7" d="M3717 8910l67 24 53 62-67-30z"/>
<path fill="#76cc61" d="M1965 8616l52-15 67 13-53 15z"/>
<path fill="#4848ec" d="M4634 9458l53 17 66 30-52-15z"/>
<path fill="#412dbd" d="M5178 9592l53-11 67 24-53 11z"/>
<path fill="#79cc5e" d="M2867 8614l53-16 67 21-53 13z"/>
<path fill="#76cc61" d="M1845 8617l53-14 67 13-53 14z"/>
<path fill="#4330c5" d="M5059 9577l53-10 66 25-52 9z"/>
<path fill="#76cc61" d="M1726 8619l52-14 67 12-52 15z"/>
<path fill="#79cc5e" d="M2748 8615l52-19 67 18-52 16z"/>
<path fill="#307ffb" d="M4209 9230l67 36 52 37-66-36z"/>
<path fill="#4ecc81" d="M3292 8695l53 18 67 33-53-26z"/>
<path fill="#79cc5e" d="M2628 8619l53-19 67 15-53 18z"/>
<path fill="#1da9e0" d="M3903 9023l67 26 53 64-67-32z"/>
<path fill="#4756f7" d="M4515 9400l52 25 67 33-53-24z"/>
<path fill="#4433cd" d="M4940 9561l52-9 67 25-53 9z"/>
<path fill="#20c1b1" d="M3598 8835l67 23 52 52-67-28z"/>
<path fill="#76cc61" d="M2509 8622l53-16 66 13-52 16zm-119 2l52-15 67 13-53 15z"/>
<path fill="#64cd6f" d="M3173 8658l52 7 67 30-52-15z"/>
<path fill="#4639d9" d="M4820 9534l53 1 67 26-53 0z"/>
<path fill="#76cc61" d="M2270 8625l53-14 67 13-53 14z"/>
<path fill="#2a93ee" d="M4090 9145l66 34 53 51-67-36z"/>
<path fill="#4465fd" d="M4395 9337l67 35 53 28-67-35z"/>
<path fill="#76cc61" d="M2151 8627l52-14 67 12-52 15z"/>
<path fill="#33c79d" d="M3478 8774l67 21 53 40-67-28z"/>
<path fill="#6ecd66" d="M3053 8640l53-6 67 24-53 1z"/>
<path fill="#02b7ca" d="M3784 8934l67 22 52 67-66-27z"/>
<path fill="#4744e8" d="M4701 9490l52 15 67 29-52-15z"/>
<path fill="#76cc61" d="M2031 8629l53-15 67 13-53 15z"/>
<path fill="#402bb7" d="M5245 9616l53-11 67 24-53 10z"/>
<path fill="#76cc61" d="M2934 8632l53-13 66 21-52 10zm-1022-2l53-14 66 13-52 14z"/>
<path fill="#412dbd" d="M5126 9601l52-9 67 24-52 9z"/>
<path fill="#3579fd" d="M4276 9266l67 36 52 35-67-34z"/>
<path fill="#79cc5e" d="M2815 8630l52-16 67 18-53 14z"/>
<path fill="#76cc61" d="M1793 8632l52-15 67 13-53 15z"/>
<path fill="#48cb86" d="M3359 8720l67 20 52 34-66-28z"/>
<path fill="#4852f4" d="M4581 9434l53 24 67 32-53-24z"/>
<path fill="#1ea7e1" d="M3970 9049l67 29 53 67-67-32z"/>
<path fill="#76cc61" d="M2695 8633l53-18 67 15-53 16z"/>
<path fill="#4331c8" d="M5006 9586l53-9 67 24-53 9z"/>
<path fill="#1dc0b3" d="M3665 8858l66 20 53 56-67-24z"/>
<path fill="#76cc61" d="M2576 8635l52-16 67 14-52 15z"/>
<path fill="#5ecc74" d="M3240 8680l66 19 53 21-67-25z"/>
<path fill="#4535d2" d="M4887 9561l53 0 66 25-52 1z"/>
<path fill="#76cc61" d="M2456 8637l53-15 67 13-53 15z"/>
<path fill="#2c8ef2" d="M4156 9179l67 36 53 51-67-36z"/>
<path fill="#4561fc" d="M4462 9372l67 33 52 29-66-34z"/>
<path fill="#76cc61" d="M2337 8638l53-14 66 13-52 14z"/>
<path fill="#32c69f" d="M3545 8795l67 17 53 46-67-23z"/>
<path fill="#03b7cc" d="M3851 8956l67 22 52 71-67-26z"/>
<path fill="#6bcd69" d="M3120 8659l53-1 67 22-53-2z"/>
<path fill="#76cc61" d="M2218 8640l52-15 67 13-53 15z"/>
<path fill="#473fe3" d="M4768 9519l52 15 67 27-53-13z"/>
<path fill="#76cc61" d="M2098 8642l53-15 67 13-53 14z"/>
<path fill="#72cd64" d="M3001 8650l52-10 67 19-52 7z"/>
<path fill="#3b73fe" d="M4343 9302l66 36 53 34-67-35z"/>
<path fill="#76cc61" d="M1979 8643l52-14 67 13-52 14z"/>
<path fill="#412cba" d="M5193 9625l52-9 67 23-53 9z"/>
<path fill="#76cc61" d="M2881 8646l53-14 67 18-53 11z"/>
<path fill="#484cf0" d="M4648 9466l67 30 53 23-67-29z"/>
<path fill="#45cb89" d="M3426 8740l67 15 52 40-67-21z"/>
<path fill="#21a3e3" d="M4037 9078l67 33 52 68-66-34z"/>
<path fill="#76cc61" d="M1859 8645l53-15 67 13-53 15z"/>
<path fill="#422ebf" d="M5073 9610l53-9 67 24-53 9z"/>
<path fill="#76cc61" d="M2762 8646l53-16 66 16-52 13z"/>
<path fill="#17bfb6" d="M3731 8878l67 19 53 59-67-22z"/>
<path fill="#76cc61" d="M2643 8648l52-15 67 13-53 15z"/>
<path fill="#4433cd" d="M4954 9587l52-1 67 24-52 2z"/>
<path fill="#5acc77" d="M3306 8699l67 16 53 25-67-20z"/>
<path fill="#2d88f6" d="M4223 9215l67 37 53 50-67-36z"/>
<path fill="#475bfa" d="M4529 9405l67 32 52 29-67-32z"/>
<path fill="#76cc61" d="M2523 8650l53-15 67 13-53 14zm-119 1l52-14 67 13-52 14z"/>
<path fill="#06b5cf" d="M3918 8978l66 26 53 74-67-29z"/>
<path fill="#30c5a1" d="M3612 8812l67 14 52 52-66-20z"/>
<path fill="#463bde" d="M4834 9548l53 13 67 26-53-12z"/>
<path fill="#67cd6c" d="M3187 8678l53 2 66 19-52-4z"/>
<path fill="#76cc61" d="M2284 8653l53-15 67 13-53 15zm-119 1l53-14 66 13-52 14z"/>
<path fill="#406dfe" d="M4409 9338l67 35 53 32-67-33z"/>
<path fill="#6ecd66" d="M3068 8666l52-7 67 19-53 4z"/>
<path fill="#76cc61" d="M2046 8656l52-14 67 12-53 15z"/>
<path fill="#23a0e5" d="M4104 9111l67 36 52 68-67-36z"/>
<path fill="#4848ec" d="M4715 9496l67 29 52 23-66-29z"/>
<path fill="#76cc61" d="M2948 8661l53-11 67 16-53 9z"/>
<path fill="#42ca8b" d="M3493 8755l66 13 53 44-67-17z"/>
<path fill="#76cc61" d="M1926 8658l53-15 67 13-53 15z"/>
<path fill="#412dbd" d="M5140 9634l53-9 66 23-52 9z"/>
<path fill="#13beb8" d="M3798 8897l67 19 53 62-67-22z"/>
<path fill="#76cc61" d="M2829 8659l52-13 67 15-52 12z"/>
<path fill="#2e83f9" d="M4290 9252l67 37 52 49-66-36z"/>
<path fill="#76cc61" d="M2709 8661l53-15 67 13-53 15z"/>
<path fill="#4331c8" d="M5021 9612l52-2 67 24-53 3z"/>
<path fill="#4757f7" d="M4596 9437l66 30 53 29-67-30z"/>
<path fill="#5acc77" d="M3373 8715l67 14 53 26-67-15z"/>
<path fill="#76cc61" d="M2590 8662l53-14 66 13-52 14z"/>
<path fill="#0bb3d2" d="M3984 9004l67 29 53 78-67-33z"/>
<path fill="#76cc61" d="M2471 8664l52-14 67 12-53 15z"/>
<path fill="#4538d7" d="M4901 9575l53 12 67 25-53-11z"/>
<path fill="#30c5a1" d="M3679 8826l67 14 52 57-67-19z"/>
<path fill="#64cd6f" d="M3254 8695l52 4 67 16-52-5z"/>
<path fill="#76cc61" d="M2351 8666l53-15 67 13-53 15z"/>
<path fill="#4367fd" d="M4476 9373l67 32 53 32-67-32z"/>
<path fill="#76cc61" d="M2232 8667l52-14 67 13-52 14z"/>
<path fill="#6ecd66" d="M3134 8682l53-4 67 17-53 2z"/>
<path fill="#259be8" d="M4171 9147l66 39 53 66-67-37z"/>
<path fill="#4744e8" d="M4782 9525l67 27 52 23-67-27z"/>
<path fill="#76cc61" d="M2112 8669l53-15 67 13-53 15z"/>
<path fill="#72cd64" d="M3015 8675l53-9 66 16-52 7z"/>
<path fill="#42ca8b" d="M3559 8768l67 11 53 47-67-14z"/>
<path fill="#76cc61" d="M1993 8671l53-15 66 13-52 14z"/>
<path fill="#10beba" d="M3865 8916l67 23 52 65-66-26z"/>
<path fill="#76cc61" d="M2896 8673l52-12 67 14-53 11z"/>
<path fill="#317dfc" d="M4357 9289l67 36 52 48-67-35z"/>
<path fill="#422fc2" d="M5087 9637l53-3 67 23-53 3z"/>
<path fill="#4853f5" d="M4662 9467l67 29 53 29-67-29z"/>
<path fill="#76cc61" d="M2776 8674l53-15 67 14-53 14z"/>
<path fill="#57cc7a" d="M3440 8729l67 13 52 26-66-13z"/>
<path fill="#76cc61" d="M2657 8675l52-14 67 13-52 14z"/>
<path fill="#12b1d6" d="M4051 9033l67 34 53 80-67-36z"/>
<path fill="#4535d2" d="M4968 9601l53 11 66 25-52-12z"/>
<path fill="#76cc61" d="M2537 8677l53-15 67 13-53 15z"/>
<path fill="#30c5a1" d="M3746 8840l66 16 53 60-67-19z"/>
<path fill="#64cd6f" d="M3321 8710l52 5 67 14-53-5z"/>
<path fill="#4562fc" d="M4543 9405l67 31 52 31-66-30z"/>
<path fill="#76cc61" d="M2418 8679l53-15 66 13-52 15z"/>
<path fill="#2895ec" d="M4237 9186l67 40 53 63-67-37z"/>
<path fill="#76cc61" d="M2299 8680l52-14 67 13-53 14z"/>
<path fill="#6ecd66" d="M3201 8697l53-2 67 15-53 0z"/>
<path fill="#4741e5" d="M4849 9552l66 26 53 23-67-26z"/>
<path fill="#76cc61" d="M2179 8682l53-15 67 13-53 15z"/>
<path fill="#72cd64" d="M3082 8689l52-7 67 15-52 5z"/>
<path fill="#45cb89" d="M3626 8779l67 12 53 49-67-14z"/>
<path fill="#0dbdbc" d="M3932 8939l67 26 52 68-67-29z"/>
<path fill="#76cc61" d="M2060 8683l52-14 67 13-52 14z"/>
<path fill="#3677fe" d="M4424 9325l66 35 53 45-67-32z"/>
<path fill="#76cc61" d="M2962 8686l53-11 67 14-53 10z"/>
<path fill="#484ff2" d="M4729 9496l67 27 53 29-67-27z"/>
<path fill="#76cc61" d="M2843 8687l53-14 66 13-52 14z"/>
<path fill="#19addb" d="M4118 9067l67 38 52 81-66-39z"/>
<path fill="#57cc7a" d="M3507 8742l67 13 52 24-67-11z"/>
<path fill="#76cc61" d="M2724 8688l52-14 67 13-53 14z"/>
<path fill="#4433cd" d="M5035 9625l52 12 67 23-52-11z"/>
<path fill="#76cc61" d="M2604 8690l53-15 67 13-53 15z"/>
<path fill="#2fc5a3" d="M3812 8856l67 19 53 64-67-23z"/>
<path fill="#465efb" d="M4610 9436l67 28 52 32-67-29z"/>
<path fill="#64cd6f" d="M3387 8724l53 5 67 13-53-6z"/>
<path fill="#2b90f0" d="M4304 9226l67 38 53 61-67-36z"/>
<path fill="#76cc61" d="M2485 8692l52-15 67 13-52 14z"/>
<path fill="#473ee1" d="M4915 9578l67 25 53 22-67-24z"/>
<path fill="#76cc61" d="M2365 8693l53-14 67 13-53 14z"/>
<path fill="#6ecd66" d="M3268 8710l53 0 66 14-52-1z"/>
<path fill="#76cc61" d="M2246 8695l53-15 66 13-52 15z"/>
<path fill="#05bbc1" d="M3999 8965l66 30 53 72-67-34z"/>
<path fill="#72cd64" d="M3149 8702l52-5 67 13-53 4z"/>
<path fill="#3c71ff" d="M4490 9360l67 32 53 44-67-31z"/>
<path fill="#45cb89" d="M3693 8791l67 14 52 51-66-16z"/>
<path fill="#76cc61" d="M2127 8696l52-14 67 13-53 14z"/>
<path fill="#484bee" d="M4796 9523l67 26 52 29-66-26z"/>
<path fill="#76cc61" d="M3029 8699l53-10 67 13-53 9z"/>
<path fill="#1da9e0" d="M4185 9105l67 39 52 82-67-40z"/>
<path fill="#76cc61" d="M2910 8700l52-14 67 13-52 13z"/>
<path fill="#57cc7a" d="M3574 8755l66 13 53 23-67-12z"/>
<path fill="#76cc61" d="M2790 8701l53-14 67 13-53 14z"/>
<path fill="#2d8af5" d="M4371 9264l67 37 52 59-66-35z"/>
<path fill="#2ec4a4" d="M3879 8875l67 24 53 66-67-26z"/>
<path fill="#475af9" d="M4677 9464l66 27 53 32-67-27z"/>
<path fill="#76cc61" d="M2671 8703l53-15 66 13-52 15z"/>
<path fill="#64cd6f" d="M3454 8736l53 6 67 13-53-6z"/>
<path fill="#76cc61" d="M2552 8704l52-14 67 13-53 14z"/>
<path fill="#463bde" d="M4982 9603l67 23 53 23-67-24z"/>
<path fill="#76cc61" d="M2432 8706l53-14 67 12-53 15z"/>
<path fill="#6ecd66" d="M3335 8723l52 1 67 12-52-1z"/>
<path fill="#01b9c6" d="M4065 8995l67 32 53 78-67-38z"/>
<path fill="#76cc61" d="M2313 8708l52-15 67 13-52 14z"/>
<path fill="#406dfe" d="M4557 9392l67 30 53 42-67-28z"/>
<path fill="#45cb89" d="M3760 8805l67 16 52 54-67-19z"/>
<path fill="#72cd64" d="M3215 8714l53-4 67 13-53 3z"/>
<path fill="#76cc61" d="M2193 8709l53-14 67 13-53 14z"/>
<path fill="#4848ec" d="M4863 9549l67 24 52 30-67-25z"/>
<path fill="#21a3e3" d="M4252 9144l66 39 53 81-67-38z"/>
<path fill="#76cc61" d="M3096 8711l53-9 66 12-52 10zm-119 1l52-13 67 12-53 14z"/>
<path fill="#57cc7a" d="M3640 8768l67 14 53 23-67-14z"/>
<path fill="#76cc61" d="M2857 8714l53-14 67 12-53 15z"/>
<path fill="#2e84f8" d="M4438 9301l67 34 52 57-67-32z"/>
<path fill="#2bc3a8" d="M3946 8899l67 28 52 68-66-30z"/>
<path fill="#4757f7" d="M4743 9491l67 25 53 33-67-26z"/>
<path fill="#76cc61" d="M2738 8716l52-15 67 13-52 15z"/>
<path fill="#64cd6f" d="M3521 8749l53 6 66 13-52-7z"/>
<path fill="#76cc61" d="M2618 8717l53-14 67 13-53 14z"/>
<path fill="#02b7ca" d="M4132 9027l67 35 53 82-67-39z"/>
<path fill="#76cc61" d="M2499 8719l53-15 66 13-52 15z"/>
<path fill="#6ecd66" d="M3402 8735l52 1 67 13-53-3z"/>
<path fill="#4368fe" d="M4624 9422l67 28 52 41-66-27z"/>
<path fill="#76cc61" d="M2380 8720l52-14 67 13-53 14z"/>
<path fill="#42ca8b" d="M3827 8821l66 20 53 58-67-24z"/>
<path fill="#72cd64" d="M3282 8726l53-3 67 12-53 3z"/>
<path fill="#249fe6" d="M4318 9183l67 38 53 80-67-37z"/>
<path fill="#4745e9" d="M4930 9573l66 23 53 30-67-23z"/>
<path fill="#76cc61" d="M2260 8722l53-14 67 12-53 15zm903 2l52-10 67 12-52 11zm-120 1l53-14 67 13-53 14z"/>
<path fill="#307ffb" d="M4505 9335l66 30 53 57-67-30z"/>
<path fill="#57cc7a" d="M3707 8782l67 15 53 24-67-16z"/>
<path fill="#27c2ac" d="M4013 8927l67 31 52 69-67-32z"/>
<path fill="#4853f5" d="M4810 9516l67 24 53 33-67-24z"/>
<path fill="#76cc61" d="M2924 8727l53-15 66 13-52 15zm-119 2l52-15 67 13-53 14z"/>
<path fill="#64cd6f" d="M3588 8761l52 7 67 14-52-8z"/>
<path fill="#08b4d1" d="M4199 9062l67 37 52 84-66-39z"/>
<path fill="#76cc61" d="M2685 8730l53-14 67 13-53 14zm-119 2l52-15 67 13-52 15z"/>
<path fill="#4564fd" d="M4691 9450l67 25 52 41-67-25z"/>
<path fill="#6ecd66" d="M3468 8746l53 3 67 12-53-3z"/>
<path fill="#2699e9" d="M4385 9221l67 36 53 78-67-34z"/>
<path fill="#40ca8d" d="M3893 8841l67 24 53 62-67-28z"/>
<path fill="#76cc61" d="M2446 8733l53-14 67 13-53 14zm903 5l53-3 66 11-52 4zm-1022-3l53-15 66 13-52 15zm903 2l52-11 67 12-53 11z"/>
<path fill="#337afd" d="M4571 9365l67 28 53 57-67-28z"/>
<path fill="#1dc0b3" d="M4080 8958l66 34 53 70-67-35z"/>
<path fill="#76cc61" d="M3110 8738l53-14 67 13-53 14z"/>
<path fill="#57cc7a" d="M3774 8797l67 17 52 27-66-20z"/>
<path fill="#4852f4" d="M4877 9540l67 22 52 34-66-23z"/>
<path fill="#76cc61" d="M2991 8740l52-15 67 13-52 15zm-120 1l53-14 67 13-53 14z"/>
<path fill="#12b1d6" d="M4266 9099l67 35 52 87-67-38z"/>
<path fill="#64cd6f" d="M3655 8774l52 8 67 15-53-9z"/>
<path fill="#76cc61" d="M2752 8743l53-14 66 12-52 15z"/>
<path fill="#4561fc" d="M4758 9475l66 24 53 41-67-24z"/>
<path fill="#76cc61" d="M2633 8745l52-15 67 13-53 15z"/>
<path fill="#2994ed" d="M4452 9257l67 32 52 76-66-30z"/>
<path fill="#6ecd66" d="M3535 8758l53 3 67 13-53-3z"/>
<path fill="#3cc992" d="M3960 8865l67 27 53 66-67-31z"/>
<path fill="#76cc61" d="M2513 8746l53-14 67 13-53 14zm903 4l52-4 67 12-52 4zm-1022-2l52-15 67 13-52 15zm902 1l53-11 67 12-53 12z"/>
<path fill="#13beb8" d="M4146 8992l67 34 53 73-67-37z"/>
<path fill="#3677fe" d="M4638 9393l67 25 53 57-67-25z"/>
<path fill="#76cc61" d="M3177 8751l53-14 66 12-52 15z"/>
<path fill="#54cc7c" d="M3841 8814l67 18 52 33-67-24z"/>
<path fill="#76cc61" d="M3058 8753l52-15 67 13-53 15z"/>
<path fill="#19addb" d="M4333 9134l66 34 53 89-67-36z"/>
<path fill="#76cc61" d="M2938 8754l53-14 67 13-53 14z"/>
<path fill="#64cd6f" d="M3721 8788l53 9 67 17-53-11z"/>
<path fill="#76cc61" d="M2819 8756l52-15 67 13-52 15z"/>
<path fill="#465efb" d="M4824 9499l67 23 53 40-67-22z"/>
<path fill="#2b90f0" d="M4519 9289l67 29 52 75-67-28z"/>
<path fill="#36c899" d="M4027 8892l67 30 52 70-66-34z"/>
<path fill="#76cc61" d="M2699 8758l53-15 67 13-53 14z"/>
<path fill="#6ecd66" d="M3602 8771l53 3 66 14-52-4z"/>
<path fill="#76cc61" d="M2580 8759l53-14 66 13-52 14zm903 3l52-4 67 13-53 4zm-1022-1l52-15 67 13-53 15z"/>
<path fill="#08bcbf" d="M4213 9026l67 33 53 75-67-35z"/>
<path fill="#3974fe" d="M4705 9418l67 24 52 57-66-24z"/>
<path fill="#76cc61" d="M3363 8762l53-12 67 12-53 13z"/>
<path fill="#51cc7f" d="M3908 8832l66 19 53 41-67-27z"/>
<path fill="#76cc61" d="M3244 8764l52-15 67 13-52 15z"/>
<path fill="#1da9e0" d="M4399 9168l67 31 53 90-67-32z"/>
<path fill="#76cc61" d="M3124 8766l53-15 67 13-53 14zm-119 1l53-14 66 13-52 14z"/>
<path fill="#64cd6f" d="M3788 8803l53 11 67 18-53-12z"/>
<path fill="#76cc61" d="M2886 8769l52-15 67 13-53 15z"/>
<path fill="#2d8cf3" d="M4586 9318l66 26 53 74-67-25z"/>
<path fill="#33c79d" d="M4094 8922l67 31 52 73-67-34z"/>
<path fill="#76cc61" d="M2766 8770l53-14 67 13-53 14z"/>
<path fill="#6ecd66" d="M3669 8784l52 4 67 15-52-5z"/>
<path fill="#76cc61" d="M2647 8772l52-14 67 12-52 15z"/>
<path fill="#02bac4" d="M4280 9059l67 30 52 79-66-34z"/>
<path fill="#76cc61" d="M3549 8775l53-4 67 13-53 4zm-1022-1l53-15 67 13-53 15z"/>
<path fill="#3c71ff" d="M4772 9442l67 22 52 58-67-23z"/>
<path fill="#76cc61" d="M3430 8775l53-13 66 13-52 13z"/>
<path fill="#4ecc81" d="M3974 8851l67 22 53 49-67-30z"/>
<path fill="#76cc61" d="M3311 8777l52-15 67 13-53 15z"/>
<path fill="#1fa6e2" d="M4466 9199l67 28 53 91-67-29z"/>
<path fill="#76cc61" d="M3191 8778l53-14 67 13-53 14zm-119 2l52-14 67 12-52 15z"/>
<path fill="#61cd72" d="M3855 8820l53 12 66 19-52-13z"/>
<path fill="#2ec4a4" d="M4161 8953l66 31 53 75-67-33z"/>
<path fill="#2d8af5" d="M4652 9344l67 24 53 74-67-24z"/>
<path fill="#76cc61" d="M2952 8782l53-15 67 13-53 15zm-119 1l53-14 66 13-52 14z"/>
<path fill="#6ecd66" d="M3736 8798l52 5 67 17-53-6z"/>
<path fill="#76cc61" d="M2714 8785l52-15 67 13-53 15z"/>
<path fill="#01b8c9" d="M4347 9089l67 28 52 82-67-31z"/>
<path fill="#76cc61" d="M3616 8788l53-4 67 14-53 3zm-1022-1l53-15 67 13-53 14z"/>
<path fill="#4bcb84" d="M4041 8873l67 24 53 56-67-31z"/>
<path fill="#76cc61" d="M3497 8788l52-13 67 13-52 13z"/>
<path fill="#21a3e3" d="M4533 9227l67 25 52 92-66-26z"/>
<path fill="#76cc61" d="M3377 8790l53-15 67 13-53 15zm-119 1l53-14 66 13-52 14z"/>
<path fill="#29c3aa" d="M4227 8984l67 29 53 76-67-30z"/>
<path fill="#5ecc74" d="M3922 8838l52 13 67 22-52-16z"/>
<path fill="#76cc61" d="M3139 8793l52-15 67 13-53 15z"/>
<path fill="#2e87f7" d="M4719 9368l67 21 53 75-67-22z"/>
<path fill="#76cc61" d="M3019 8795l53-15 67 13-53 14z"/>
<path fill="#6bcd69" d="M3802 8814l53 6 67 18-53-8z"/>
<path fill="#76cc61" d="M2900 8796l52-14 67 13-52 14z"/>
<path fill="#05b6ce" d="M4414 9117l66 25 53 85-67-28z"/>
<path fill="#76cc61" d="M2780 8798l53-15 67 13-53 15zm903 3l53-3 66 16-52 1zm-1022-2l53-14 66 13-52 14z"/>
<path fill="#45cb89" d="M4108 8897l67 25 52 62-66-31z"/>
<path fill="#76cc61" d="M3564 8801l52-13 67 13-53 13z"/>
<path fill="#22a1e4" d="M4600 9252l67 23 52 93-67-24z"/>
<path fill="#76cc61" d="M3444 8803l53-15 67 13-53 14zm-119 1l52-14 67 13-52 14z"/>
<path fill="#22c1af" d="M4294 9013l67 27 53 77-67-28z"/>
<path fill="#5acc77" d="M3989 8857l66 19 53 21-67-24z"/>
<path fill="#76cc61" d="M3205 8806l53-15 67 13-53 15zm-119 1l53-14 66 13-52 14z"/>
<path fill="#6bcd69" d="M3869 8830l53 8 67 19-53-10z"/>
<path fill="#76cc61" d="M2967 8809l52-14 67 12-53 15z"/>
<path fill="#08b4d1" d="M4480 9142l67 23 53 87-67-25z"/>
<path fill="#76cc61" d="M2847 8811l53-15 67 13-53 15zm903 4l52-1 67 16-52 0z"/>
<path fill="#40ca8d" d="M4175 8922l67 25 52 66-67-29z"/>
<path fill="#76cc61" d="M2728 8812l52-14 67 13-52 14z"/>
<path fill="#249fe6" d="M4667 9275l66 21 53 93-67-21z"/>
<path fill="#76cc61" d="M3630 8814l53-13 67 14-53 12zm-119 1l53-14 66 13-52 14z"/>
<path fill="#1dc0b3" d="M4361 9040l67 25 52 77-66-25z"/>
<path fill="#76cc61" d="M3392 8817l52-14 67 12-53 15z"/>
<path fill="#57cc7a" d="M4055 8876l67 19 53 27-67-25z"/>
<path fill="#76cc61" d="M3272 8819l53-15 67 13-53 15zm-119 1l52-14 67 13-52 14z"/>
<path fill="#67cd6c" d="M3936 8847l53 10 66 19-52-11z"/>
<path fill="#0db3d4" d="M4547 9165l67 21 53 89-67-23z"/>
<path fill="#76cc61" d="M3033 8822l53-15 67 13-53 15zm-119 2l53-15 66 13-52 14z"/>
<path fill="#3ac994" d="M4242 8947l66 23 53 70-67-27z"/>
<path fill="#72cd64" d="M3817 8830l52 0 67 17-53-2z"/>
<path fill="#76cc61" d="M2795 8825l52-14 67 13-53 14zm902 2l53-12 67 15-53 10zm-119 1l52-14 67 13-52 14z"/>
<path fill="#17bfb6" d="M4428 9065l67 22 52 78-67-23z"/>
<path fill="#54cc7c" d="M4122 8895l67 18 53 34-67-25z"/>
<path fill="#76cc61" d="M3458 8830l53-15 67 13-53 15zm-119 2l53-15 66 13-52 14zm-119 1l52-14 67 13-53 14z"/>
<path fill="#64cd6f" d="M4003 8865l52 11 67 19-52-13z"/>
<path fill="#10b2d5" d="M4614 9186l67 19 52 91-66-21z"/>
<path fill="#76cc61" d="M3100 8835l53-15 67 13-53 15z"/>
<path fill="#38c896" d="M4308 8970l67 22 53 73-67-25z"/>
<path fill="#76cc61" d="M2981 8836l52-14 67 13-52 14z"/>
<path fill="#72cd64" d="M3883 8845l53 2 67 18-53-5z"/>
<path fill="#76cc61" d="M2861 8838l53-14 67 12-53 15zm903 2l53-10 66 15-52 7zm-119 1l52-14 67 13-53 14z"/>
<path fill="#10beba" d="M4495 9087l66 19 53 80-67-21z"/>
<path fill="#51cc7f" d="M4189 8913l67 18 52 39-66-23z"/>
<path fill="#76cc61" d="M3525 8843l53-15 67 13-53 15zm-119 1l52-14 67 13-52 14zm-120 2l53-14 67 12-53 15z"/>
<path fill="#61cd72" d="M4070 8882l52 13 67 18-53-13z"/>
<path fill="#76cc61" d="M3167 8848l53-15 66 13-52 15z"/>
<path fill="#35c79b" d="M4375 8992l67 19 53 76-67-22z"/>
<path fill="#76cc61" d="M3048 8849l52-14 67 13-53 14z"/>
<path fill="#72cd64" d="M3950 8860l53 5 67 17-53-6z"/>
<path fill="#76cc61" d="M2928 8851l53-15 67 13-53 15zm903 1l52-7 67 15-52 6z"/>
<path fill="#0dbdbc" d="M4561 9106l67 19 53 80-67-19z"/>
<path fill="#76cc61" d="M3711 8854l53-14 67 12-53 15z"/>
<path fill="#4ecc81" d="M4256 8931l67 17 52 44-67-22z"/>
<path fill="#76cc61" d="M3592 8856l53-15 66 13-52 15zm-119 1l52-14 67 13-53 14zm-120 2l53-15 67 13-53 15z"/>
<path fill="#61cd72" d="M4136 8900l67 16 53 15-67-18z"/>
<path fill="#76cc61" d="M3234 8861l52-15 67 13-52 14z"/>
<path fill="#33c79d" d="M4442 9011l67 19 52 76-66-19z"/>
<path fill="#76cc61" d="M3114 8862l53-14 67 13-53 14z"/>
<path fill="#6ecd66" d="M4017 8876l53 6 66 18-52-8z"/>
<path fill="#76cc61" d="M2995 8864l53-15 66 13-52 15zm903 2l52-6 67 16-53 4zm-120 1l53-15 67 14-53 14z"/>
<path fill="#4bcb84" d="M4323 8948l66 16 53 47-67-19z"/>
<path fill="#76cc61" d="M3659 8869l52-15 67 13-52 14zm-120 1l53-14 67 13-53 14z"/>
<path fill="#5ecc74" d="M4203 8916l67 16 53 16-67-17z"/>
<path fill="#76cc61" d="M3420 8872l53-15 66 13-52 15zm-119 1l52-14 67 13-53 14z"/>
<path fill="#32c69f" d="M4509 9030l67 17 52 78-67-19z"/>
<path fill="#6ecd66" d="M4084 8892l52 8 67 16-52-8z"/>
<path fill="#76cc61" d="M3181 8875l53-14 67 12-53 15zm-119 2l52-15 67 13-52 15zm902 3l53-4 67 16-53 1zm-119 0l53-14 66 14-52 13z"/>
<path fill="#4bcb84" d="M4389 8964l67 16 53 50-67-19z"/>
<path fill="#76cc61" d="M3726 8881l52-14 67 13-53 14zm-120 2l53-14 67 12-53 15z"/>
<path fill="#5ecc74" d="M4270 8932l67 16 52 16-66-16z"/>
<path fill="#76cc61" d="M3487 8885l52-15 67 13-52 15zm-120 1l53-14 67 13-53 14z"/>
<path fill="#6bcd69" d="M4151 8908l52 8 67 16-53-9z"/>
<path fill="#76cc61" d="M3248 8888l53-15 66 13-52 15zm-119 2l52-15 67 13-53 14zm902 3l53-1 67 16-53-1zm-119 0l52-13 67 13-52 13z"/>
<path fill="#48cb86" d="M4456 8980l67 15 53 52-67-17z"/>
<path fill="#76cc61" d="M3792 8894l53-14 67 13-53 14zm-119 2l53-15 66 13-52 15z"/>
<path fill="#5acc77" d="M4337 8948l67 14 52 18-67-16z"/>
<path fill="#76cc61" d="M3554 8898l52-15 67 13-53 14zm-120 1l53-14 67 13-53 14z"/>
<path fill="#6bcd69" d="M4217 8923l53 9 67 16-53-11z"/>
<path fill="#76cc61" d="M3315 8901l52-15 67 13-52 15zm-120 1l53-14 67 13-53 14zm903 5l53 1 66 15-52-2zm-119-1l52-13 67 14-53 11zm-120 1l53-14 67 13-53 14zm-119 2l52-15 67 13-52 15z"/>
<path fill="#5acc77" d="M4404 8962l66 15 53 18-67-15z"/>
<path fill="#76cc61" d="M3620 8910l53-14 67 13-53 14zm-119 2l53-14 66 12-52 15z"/>
<path fill="#67cd6c" d="M4284 8937l53 11 67 14-53-11z"/>
<path fill="#76cc61" d="M3382 8914l52-15 67 13-53 15zm-120 1l53-14 67 13-53 14z"/>
<path fill="#72cd64" d="M4165 8921l52 2 67 14-52-2z"/>
<path fill="#76cc61" d="M4045 8918l53-11 67 14-53 10zm-119 2l53-14 66 12-52 15zm-119 2l52-15 67 13-53 15zm-120 1l53-14 67 13-53 14zm-119 2l52-15 67 13-52 15z"/>
<path fill="#67cd6c" d="M4351 8951l67 14 52 12-66-15z"/>
<path fill="#76cc61" d="M3448 8927l53-15 67 13-53 14zm-119 1l53-14 66 13-52 14z"/>
<path fill="#72cd64" d="M4232 8935l52 2 67 14-53-3z"/>
<path fill="#76cc61" d="M4112 8931l53-10 67 14-53 9zm-119 2l52-15 67 13-52 15zm-120 2l53-15 67 13-53 14zm-119 1l53-14 66 13-52 14zm-119 2l52-15 67 13-53 15zm-120 1l53-14 67 13-53 14zm-119 2l52-14 67 12-52 15z"/>
<path fill="#72cd64" d="M4298 8948l53 3 67 14-53-3z"/>
<path fill="#76cc61" d="M4179 8944l53-9 66 13-52 9zm-119 2l52-15 67 13-53 15zm-120 1l53-14 67 13-53 14zm-119 2l52-14 67 12-52 15zm-120 2l53-15 67 13-53 15zm-119 1l53-14 66 13-52 14zm-119 2l52-15 67 13-53 15zm783 3l52-9 67 14-52 8zm-120 2l53-15 67 13-53 15zm-119 1l53-14 66 13-52 14zm-119 2l52-15 67 13-53 15zm-120 2l53-15 67 13-53 14zm-119 1l52-14 67 13-52 14zm-120 2l53-15 67 13-53 15zm664 5l53-15 67 13-53 14zm-119 1l52-14 67 13-52 14zm-120 2l53-15 67 13-53 15zm-119 1l53-14 66 13-52 14zm-119 2l52-14 67 12-53 15zm-120 2l53-15 67 13-53 15zm545 6l52-14 67 12-53 15zm-120 2l53-15 67 13-53 15zm-119 1l52-14 67 13-52 14zm-120 2l53-15 67 13-53 15zm-119 2l53-15 66 13-52 14zm425 8l53-15 66 13-52 15zm-119 1l52-14 67 13-53 14zm-120 2l53-15 67 13-53 15zm-119 1l52-14 67 13-52 14zm305 10l53-14 67 13-53 14zm-119 2l53-15 66 13-52 15zm-119 1l52-14 67 13-53 14zm186 12l52-15 67 13-52 14zm-120 1l53-14 67 13-53 14zm67 13l53-14 67 12-53 15z"/>
</g>
<text y="315.0" font-size="17.83" text-anchor="start" fill="#000"><tspan x="198.3">(g)</tspan><tspan x="228.8">ANFIS prediction surface (inputs 2 and 5).</tspan></text>
<text y="706.6" font-size="17.83" text-anchor="start" fill="#000"><tspan x="203.9">(h)</tspan><tspan x="234.4">ANFIS prediction surface (inputs 3 and 4).</tspan></text>
<text y="1077.7" font-size="17.83" text-anchor="start" fill="#000"><tspan x="206.0">(i)</tspan><tspan x="232.7">ANFIS prediction surface (inputs 3 and 5).</tspan></text>
</svg></body></html>
